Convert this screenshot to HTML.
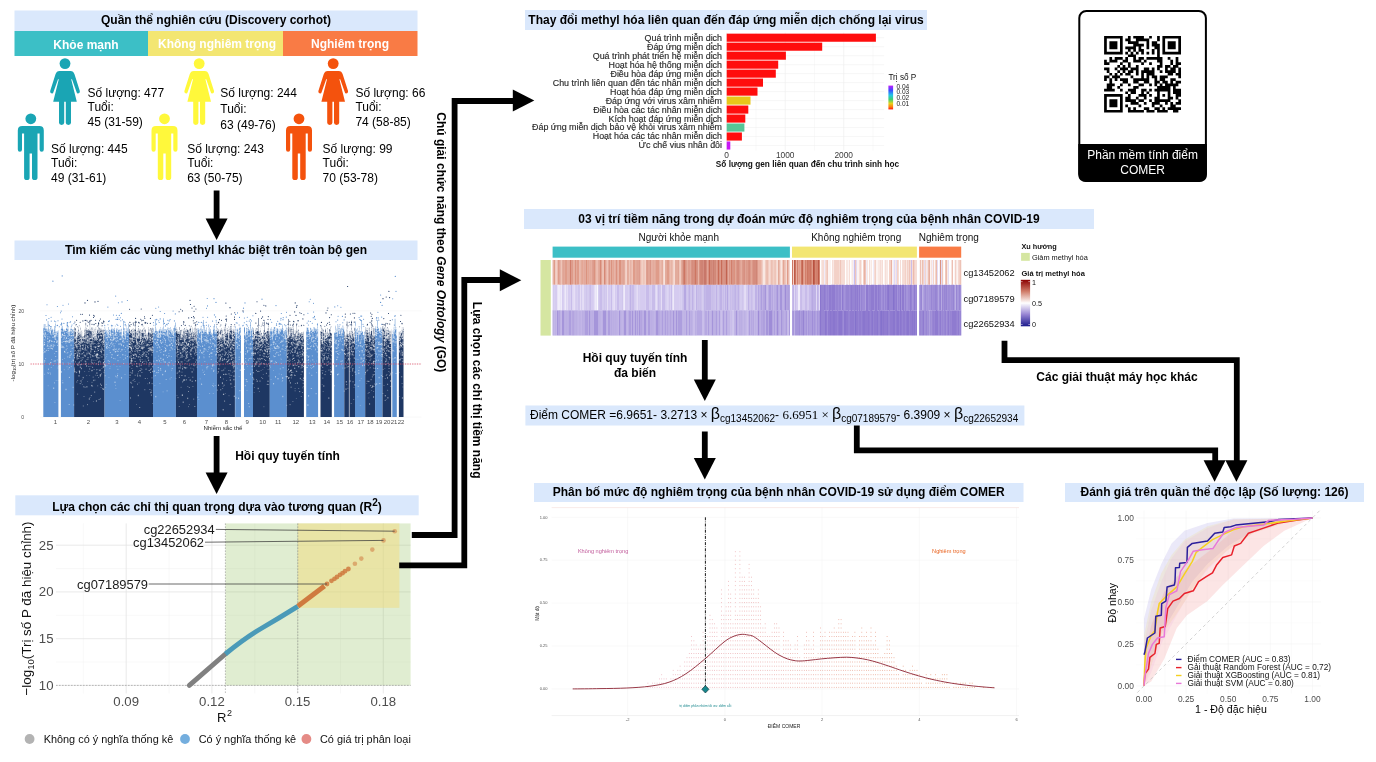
<!DOCTYPE html>
<html lang="vi"><head><meta charset="utf-8"><title>COMER</title>
<style>
html,body{margin:0;padding:0;background:#fff;}
body{width:1376px;height:762px;overflow:hidden;}
svg{display:block;font-family:"Liberation Sans",sans-serif;}
.b{font-weight:bold;}
.h{font-weight:bold;font-size:12px;text-anchor:middle;fill:#000;}
.t{font-size:12px;fill:#000;}
</style></head><body>
<svg width="1376" height="762" viewBox="0 0 1376 762">
<rect width="1376" height="762" fill="#fff"/>
<g id="headers">
<rect x="14.5" y="10.5" width="403" height="20.5" fill="#dae8fc" />
<text x="216" y="24.25" class="h" >Quần thể nghiên cứu (Discovery corhot)</text>
<rect x="14.5" y="240.5" width="403" height="19.5" fill="#dae8fc" />
<text x="216" y="253.75" class="h" >Tìm kiếm các vùng methyl khác biệt trên toàn bộ gen</text>
<rect x="525" y="10" width="402" height="20" fill="#dae8fc" />
<text x="726" y="23.5" class="h" >Thay đổi methyl hóa liên quan đến đáp ứng miễn dịch chống lại virus</text>
<rect x="524" y="209" width="570" height="20" fill="#dae8fc" />
<text x="809" y="222.5" class="h" >03 vị trí tiềm năng trong dự đoán mức độ nghiêm trọng của bệnh nhân COVID-19</text>
<rect x="534" y="483" width="489.5" height="19" fill="#dae8fc" />
<text x="778.75" y="496" class="h" >Phân bố mức độ nghiêm trọng của bệnh nhân COVID-19 sử dụng điểm COMER</text>
<rect x="1065" y="483" width="299" height="19" fill="#dae8fc" />
<text x="1214.5" y="496" class="h" >Đánh giá trên quần thể độc lập (Số lượng: 126)</text>
<rect x="15.3" y="495.3" width="403.4" height="20" fill="#dae8fc" />
<text x="217" y="510.9" class="h" >Lựa chọn các chỉ thị quan trọng dựa vào tương quan (R<tspan dy="-4.5" font-size="10">2</tspan><tspan dy="4.5">)</tspan></text>
<rect x="14.5" y="31" width="133.5" height="25" fill="#3cbfc6" />
<rect x="148" y="31" width="135" height="25" fill="#f3e672" />
<rect x="283" y="31" width="134.5" height="25" fill="#f97b45" />
<text x="86" y="49.2" class="h" fill="#fff" style="fill:#fff">Khỏe mạnh</text>
<text x="217" y="48.2" class="h" style="fill:#fff">Không nghiêm trọng</text>
<text x="350" y="48.2" class="h" style="fill:#fff">Nghiêm trọng</text>
</g>
<g id="people">
<circle cx="65" cy="63.6" r="5.4" fill="#1aa5b4"/>
<path d="M59.5,70.89999999999999 L70.5,70.89999999999999 Q73.5,70.89999999999999 74.5,74.3 L79.9,91.3 Q79.9,93.5 77.9,93.5 Q77,93.5 76.6,92.3 L72,79.3 L71.2,79.3 L76.8,101.8 L71.0,101.8 L71.0,122.8 Q71.0,124.89999999999999 68.4,124.89999999999999 Q65.8,124.89999999999999 65.8,122.8 L65.8,101.8 L64.2,101.8 L64.2,122.8 Q64.2,124.89999999999999 61.6,124.89999999999999 Q59.0,124.89999999999999 59.0,122.8 L59.0,101.8 L53.2,101.8 L58.8,79.3 L58,79.3 L53.4,92.3 Q53,93.5 52.1,93.5 Q50.1,93.5 50.1,91.3 L55.5,74.3 Q56.5,70.89999999999999 59.5,70.89999999999999 Z" fill="#1aa5b4"/>
<circle cx="199.2" cy="63.6" r="5.4" fill="#fff83b"/>
<path d="M193.7,70.89999999999999 L204.7,70.89999999999999 Q207.7,70.89999999999999 208.7,74.3 L214.1,91.3 Q214.1,93.5 212.1,93.5 Q211.2,93.5 210.79999999999998,92.3 L206.2,79.3 L205.39999999999998,79.3 L211.0,101.8 L205.2,101.8 L205.2,122.8 Q205.2,124.89999999999999 202.6,124.89999999999999 Q200.0,124.89999999999999 200.0,122.8 L200.0,101.8 L198.39999999999998,101.8 L198.39999999999998,122.8 Q198.39999999999998,124.89999999999999 195.79999999999998,124.89999999999999 Q193.2,124.89999999999999 193.2,122.8 L193.2,101.8 L187.39999999999998,101.8 L193.0,79.3 L192.2,79.3 L187.6,92.3 Q187.2,93.5 186.29999999999998,93.5 Q184.29999999999998,93.5 184.29999999999998,91.3 L189.7,74.3 Q190.7,70.89999999999999 193.7,70.89999999999999 Z" fill="#fff83b"/>
<circle cx="333.2" cy="63.6" r="5.4" fill="#f4520d"/>
<path d="M327.7,70.89999999999999 L338.7,70.89999999999999 Q341.7,70.89999999999999 342.7,74.3 L348.09999999999997,91.3 Q348.09999999999997,93.5 346.09999999999997,93.5 Q345.2,93.5 344.8,92.3 L340.2,79.3 L339.4,79.3 L345.0,101.8 L339.2,101.8 L339.2,122.8 Q339.2,124.89999999999999 336.59999999999997,124.89999999999999 Q334.0,124.89999999999999 334.0,122.8 L334.0,101.8 L332.4,101.8 L332.4,122.8 Q332.4,124.89999999999999 329.8,124.89999999999999 Q327.2,124.89999999999999 327.2,122.8 L327.2,101.8 L321.4,101.8 L327.0,79.3 L326.2,79.3 L321.59999999999997,92.3 Q321.2,93.5 320.3,93.5 Q318.3,93.5 318.3,91.3 L323.7,74.3 Q324.7,70.89999999999999 327.7,70.89999999999999 Z" fill="#f4520d"/>
<circle cx="30.8" cy="118.8" r="5.4" fill="#1aa5b4"/>
<path d="M22.3,126.1 L39.3,126.1 Q43.8,126.1 43.8,130.5 L43.8,149.5 Q43.8,151.7 41.7,151.7 Q39.6,151.7 39.6,149.5 L39.6,133.5 L37.5,133.5 L37.5,177.8 Q37.5,180.1 34.7,180.1 Q32.0,180.1 32.0,177.8 L32.0,153.5 L29.6,153.5 L29.6,177.8 Q29.6,180.1 26.900000000000002,180.1 Q24.1,180.1 24.1,177.8 L24.1,133.5 L22.0,133.5 L22.0,149.5 Q22.0,151.7 19.9,151.7 Q17.8,151.7 17.8,149.5 L17.8,130.5 Q17.8,126.1 22.3,126.1 Z" fill="#1aa5b4"/>
<circle cx="164.5" cy="118.8" r="5.4" fill="#fff83b"/>
<path d="M156.0,126.1 L173.0,126.1 Q177.5,126.1 177.5,130.5 L177.5,149.5 Q177.5,151.7 175.4,151.7 Q173.3,151.7 173.3,149.5 L173.3,133.5 L171.2,133.5 L171.2,177.8 Q171.2,180.1 168.4,180.1 Q165.7,180.1 165.7,177.8 L165.7,153.5 L163.3,153.5 L163.3,177.8 Q163.3,180.1 160.6,180.1 Q157.8,180.1 157.8,177.8 L157.8,133.5 L155.7,133.5 L155.7,149.5 Q155.7,151.7 153.6,151.7 Q151.5,151.7 151.5,149.5 L151.5,130.5 Q151.5,126.1 156.0,126.1 Z" fill="#fff83b"/>
<circle cx="299" cy="118.8" r="5.4" fill="#f4520d"/>
<path d="M290.5,126.1 L307.5,126.1 Q312,126.1 312,130.5 L312,149.5 Q312,151.7 309.9,151.7 Q307.8,151.7 307.8,149.5 L307.8,133.5 L305.7,133.5 L305.7,177.8 Q305.7,180.1 302.9,180.1 Q300.2,180.1 300.2,177.8 L300.2,153.5 L297.8,153.5 L297.8,177.8 Q297.8,180.1 295.1,180.1 Q292.3,180.1 292.3,177.8 L292.3,133.5 L290.2,133.5 L290.2,149.5 Q290.2,151.7 288.1,151.7 Q286,151.7 286,149.5 L286,130.5 Q286,126.1 290.5,126.1 Z" fill="#f4520d"/>
<text x="87.5" y="97" class="t" >Số lượng: 477</text>
<text x="87.5" y="111.4" class="t" >Tuổi:</text>
<text x="87.5" y="125.8" class="t" >45 (31-59)</text>
<text x="220.3" y="97.3" class="t" >Số lượng: 244</text>
<text x="220.3" y="113" class="t" >Tuổi:</text>
<text x="220.3" y="128.7" class="t" >63 (49-76)</text>
<text x="355.4" y="97" class="t" >Số lượng: 66</text>
<text x="355.4" y="111.4" class="t" >Tuổi:</text>
<text x="355.4" y="125.8" class="t" >74 (58-85)</text>
<text x="51" y="153" class="t" >Số lượng: 445</text>
<text x="51" y="167.4" class="t" >Tuổi:</text>
<text x="51" y="181.8" class="t" >49 (31-61)</text>
<text x="187.2" y="153" class="t" >Số lượng: 243</text>
<text x="187.2" y="167.4" class="t" >Tuổi:</text>
<text x="187.2" y="181.8" class="t" >63 (50-75)</text>
<text x="322.6" y="153" class="t" >Số lượng: 99</text>
<text x="322.6" y="167.4" class="t" >Tuổi:</text>
<text x="322.6" y="181.8" class="t" >70 (53-78)</text>
</g>
<g id="manhattan">
<line x1="40" x2="421.5" y1="417.1" y2="417.1" stroke="#efefef" stroke-width="0.4"/>
<line x1="40" x2="421.5" y1="364" y2="364" stroke="#efefef" stroke-width="0.4"/>
<line x1="40" x2="421.5" y1="310.9" y2="310.9" stroke="#efefef" stroke-width="0.4"/>
<path d="M43.3,417.1L43.3,328.1H43.8L43.8,324.2H44.3L44.3,327.9H44.8L44.8,323.9H45.3L45.3,328.7H45.8L45.8,327.7H46.3L46.3,329.3H46.8L46.8,329.2H47.3L47.3,331.1H47.8L47.8,320.9H48.3L48.3,324.5H48.8L48.8,329.4H49.3L49.3,329.5H49.8L49.8,332.6H50.3L50.3,326.5H50.8L50.8,327.3H51.3L51.3,330.6H51.8L51.8,328.7H52.3L52.3,329.4H52.8L52.8,334.9H53.3L53.3,332.0H53.8L53.8,329.5H54.3L54.3,326.0H54.8L54.8,339.8H55.3L55.3,323.6H55.8L55.8,331.4H56.3L56.3,335.6H56.8L56.8,331.2H57.3L57.3,332.0H57.8L57.8,330.3H58.3L58.3,331.9H58.4L58.4,417.1Z" fill="#5b8fcf"/>
<path d="M60.9,417.1L60.9,328.7H61.4L61.4,322.6H61.9L61.9,328.8H62.4L62.4,325.8H62.9L62.9,329.3H63.4L63.4,331.8H63.9L63.9,330.6H64.4L64.4,328.9H64.9L64.9,330.7H65.4L65.4,331.1H65.9L65.9,328.8H66.4L66.4,328.2H66.9L66.9,321.9H67.4L67.4,329.4H67.9L67.9,326.0H68.4L68.4,330.6H68.9L68.9,336.1H69.4L69.4,331.6H69.9L69.9,331.4H70.4L70.4,328.1H70.9L70.9,327.4H71.4L71.4,328.6H71.9L71.9,328.9H72.4L72.4,330.3H72.9L72.9,336.1H73.4L73.4,328.9H73.9L73.9,330.5H74.1L74.1,417.1Z" fill="#5b8fcf"/>
<path d="M72.0,325.0h0.01M62.0,319.0h0.01M57.6,325.2h0.01M51.1,317.2h0.01M67.7,322.6h0.01M46.0,315.5h0.01M67.1,325.0h0.01M61.2,311.1h0.01M70.6,321.7h0.01M58.0,320.7h0.01M49.1,325.4h0.01M48.9,318.5h0.01M54.5,321.1h0.01M55.7,321.8h0.01M47.9,326.5h0.01M74.0,323.6h0.01M46.6,319.9h0.01M67.6,325.7h0.01M61.7,323.9h0.01M59.3,326.7h0.01M70.0,322.2h0.01M60.8,324.7h0.01M67.3,323.0h0.01M72.5,316.8h0.01M68.5,304.0h0.01M51.1,326.6h0.01M49.5,325.5h0.01M45.9,326.5h0.01M60.5,312.7h0.01M57.4,306.5h0.01M71.3,326.4h0.01M61.7,323.3h0.01M47.0,304.7h0.01M51.2,321.1h0.01M63.0,305.2h0.01M63.9,323.4h0.01M57.1,325.6h0.01M50.1,326.6h0.01" stroke="#5b8fcf" stroke-width="1.1" stroke-linecap="round" fill="none"/>
<text x="55.5" y="423.7" font-size="6" text-anchor="middle" fill="#4d4d4d">1</text>
<path d="M74.1,417.1L74.1,327.1H74.6L74.6,333.3H75.1L75.1,327.9H75.6L75.6,328.7H76.1L76.1,337.6H76.6L76.6,342.8H77.1L77.1,336.5H77.6L77.6,330.7H78.1L78.1,327.0H78.6L78.6,330.1H79.1L79.1,332.5H79.6L79.6,332.4H80.1L80.1,326.4H80.6L80.6,335.0H81.1L81.1,342.2H81.6L81.6,330.4H82.1L82.1,336.5H82.6L82.6,337.6H83.1L83.1,339.8H83.6L83.6,335.9H84.1L84.1,332.8H84.6L84.6,328.7H85.1L85.1,329.5H85.6L85.6,322.8H86.1L86.1,330.5H86.6L86.6,328.1H87.1L87.1,330.2H87.6L87.6,328.9H88.1L88.1,328.9H88.6L88.6,330.4H89.1L89.1,329.6H89.6L89.6,320.2H90.1L90.1,329.2H90.6L90.6,331.0H91.1L91.1,327.1H91.6L91.6,331.5H92.1L92.1,339.8H92.6L92.6,327.0H93.1L93.1,337.2H93.6L93.6,330.8H94.1L94.1,339.3H94.6L94.6,328.1H95.1L95.1,339.9H95.6L95.6,327.0H96.1L96.1,340.8H96.6L96.6,332.9H97.1L97.1,329.6H97.6L97.6,330.1H98.1L98.1,321.9H98.6L98.6,329.5H99.1L99.1,327.5H99.6L99.6,331.5H100.1L100.1,330.3H100.6L100.6,328.3H101.1L101.1,328.3H101.6L101.6,332.9H102.1L102.1,334.4H102.6L102.6,329.7H103.1L103.1,340.7H103.6L103.6,328.9H104.1L104.1,330.1H104.6L104.6,417.1Z" fill="#1e3763"/>
<path d="M95.6,320.2h0.01M93.5,317.5h0.01M101.4,326.0h0.01M88.3,322.2h0.01M87.6,326.1h0.01M102.3,323.5h0.01M80.2,322.3h0.01M95.8,323.5h0.01M89.9,321.2h0.01M99.5,320.7h0.01M94.0,324.7h0.01M102.3,325.7h0.01M86.0,320.3h0.01M85.1,320.4h0.01M79.3,325.7h0.01M82.4,314.3h0.01M77.8,326.7h0.01M76.6,320.3h0.01M94.3,316.1h0.01M101.9,322.8h0.01M97.4,326.1h0.01M98.5,323.2h0.01M89.5,315.1h0.01M98.8,323.7h0.01M98.5,326.2h0.01M74.9,322.0h0.01M93.6,315.2h0.01M91.0,320.4h0.01M76.2,324.5h0.01M103.7,322.8h0.01M92.0,324.2h0.01M103.5,321.1h0.01M103.9,321.4h0.01M94.1,324.3h0.01M75.9,326.0h0.01M87.2,321.0h0.01M80.7,314.3h0.01M100.4,319.0h0.01M82.9,320.9h0.01" stroke="#1e3763" stroke-width="1.1" stroke-linecap="round" fill="none"/>
<text x="88.5" y="423.7" font-size="6" text-anchor="middle" fill="#4d4d4d">2</text>
<path d="M104.6,417.1L104.6,326.5H105.1L105.1,329.6H105.6L105.6,332.2H106.1L106.1,331.6H106.6L106.6,330.0H107.1L107.1,330.5H107.6L107.6,335.1H108.1L108.1,327.0H108.6L108.6,337.4H109.1L109.1,329.7H109.6L109.6,328.9H110.1L110.1,335.7H110.6L110.6,330.0H111.1L111.1,329.2H111.6L111.6,325.1H112.1L112.1,328.1H112.6L112.6,331.2H113.1L113.1,329.2H113.6L113.6,328.6H114.1L114.1,327.8H114.6L114.6,329.7H115.1L115.1,335.7H115.6L115.6,331.8H116.1L116.1,328.1H116.6L116.6,329.7H117.1L117.1,330.7H117.6L117.6,327.4H118.1L118.1,330.6H118.6L118.6,329.7H119.1L119.1,329.2H119.6L119.6,332.0H120.1L120.1,332.3H120.6L120.6,329.6H121.1L121.1,328.8H121.6L121.6,336.7H122.1L122.1,337.9H122.6L122.6,335.0H123.1L123.1,321.2H123.6L123.6,327.7H124.1L124.1,336.3H124.6L124.6,328.1H125.1L125.1,339.5H125.6L125.6,331.0H126.1L126.1,327.3H126.6L126.6,328.8H127.1L127.1,330.0H127.6L127.6,327.9H128.1L128.1,323.5H128.6L128.6,333.0H129.0L129,417.1Z" fill="#5b8fcf"/>
<path d="M120.8,320.8h0.01M123.9,321.3h0.01M120.4,317.7h0.01M117.8,317.8h0.01M122.5,319.8h0.01M125.2,325.6h0.01M108.5,321.4h0.01M113.5,315.0h0.01M116.4,315.2h0.01M121.3,313.4h0.01M107.9,324.7h0.01M112.6,325.7h0.01M116.9,324.3h0.01M119.1,319.3h0.01M120.5,326.3h0.01M116.1,319.4h0.01M124.9,322.3h0.01M107.9,307.1h0.01M115.7,296.1h0.01M104.7,325.4h0.01M117.8,325.4h0.01M119.3,315.4h0.01M117.5,319.4h0.01M109.4,320.9h0.01M125.2,324.4h0.01M126.2,326.0h0.01M115.4,326.0h0.01M118.4,302.7h0.01M127.4,300.5h0.01M111.4,325.3h0.01" stroke="#5b8fcf" stroke-width="1.1" stroke-linecap="round" fill="none"/>
<text x="117" y="423.7" font-size="6" text-anchor="middle" fill="#4d4d4d">3</text>
<path d="M129,417.1L129.0,329.7H129.5L129.5,328.8H130.0L130.0,333.0H130.5L130.5,330.7H131.0L131.0,329.4H131.5L131.5,329.8H132.0L132.0,328.8H132.5L132.5,337.3H133.0L133.0,331.3H133.5L133.5,328.2H134.0L134.0,337.3H134.5L134.5,328.9H135.0L135.0,329.3H135.5L135.5,320.7H136.0L136.0,342.4H136.5L136.5,331.2H137.0L137.0,333.5H137.5L137.5,329.7H138.0L138.0,327.9H138.5L138.5,335.7H139.0L139.0,328.3H139.5L139.5,330.7H140.0L140.0,328.9H140.5L140.5,341.8H141.0L141.0,330.4H141.5L141.5,332.8H142.0L142.0,330.4H142.5L142.5,329.0H143.0L143.0,327.5H143.5L143.5,332.6H144.0L144.0,327.6H144.5L144.5,337.7H145.0L145.0,334.6H145.5L145.5,329.0H146.0L146.0,333.6H146.5L146.5,338.0H147.0L147.0,339.5H147.5L147.5,333.3H148.0L148.0,332.3H148.5L148.5,327.6H149.0L149.0,332.7H149.5L149.5,329.3H150.0L150.0,327.9H150.5L150.5,332.8H151.0L151.0,328.5H151.5L151.5,330.4H152.0L152.0,327.8H152.5L152.5,332.9H153.0L153,417.1Z" fill="#1e3763"/>
<path d="M141.7,320.7h0.01M145.0,322.3h0.01M140.8,319.3h0.01M136.3,322.1h0.01M152.4,315.2h0.01M142.3,324.3h0.01M133.3,323.1h0.01M139.2,322.9h0.01M135.1,322.3h0.01M142.8,326.1h0.01M144.8,318.3h0.01M133.7,324.9h0.01M129.9,322.4h0.01M145.2,323.2h0.01M143.1,320.4h0.01M130.1,326.4h0.01M141.2,309.0h0.01M145.9,322.8h0.01M135.2,325.9h0.01M144.5,316.8h0.01M138.4,326.2h0.01M135.6,318.4h0.01M147.5,323.3h0.01M150.3,323.4h0.01M129.6,325.2h0.01M150.4,318.4h0.01M131.1,324.5h0.01M138.5,322.3h0.01M129.6,309.2h0.01M141.7,324.7h0.01" stroke="#1e3763" stroke-width="1.1" stroke-linecap="round" fill="none"/>
<text x="139.5" y="423.7" font-size="6" text-anchor="middle" fill="#4d4d4d">4</text>
<path d="M153,417.1L153.0,332.9H153.5L153.5,328.1H154.0L154.0,333.0H154.5L154.5,331.4H155.0L155.0,331.1H155.5L155.5,321.0H156.0L156.0,328.8H156.5L156.5,330.3H157.0L157.0,331.0H157.5L157.5,332.1H158.0L158.0,330.5H158.5L158.5,337.9H159.0L159.0,328.8H159.5L159.5,330.8H160.0L160.0,337.3H160.5L160.5,327.2H161.0L161.0,331.1H161.5L161.5,329.6H162.0L162.0,327.8H162.5L162.5,331.2H163.0L163.0,318.3H163.5L163.5,330.0H164.0L164.0,329.3H164.5L164.5,331.9H165.0L165.0,332.2H165.5L165.5,328.9H166.0L166.0,329.3H166.5L166.5,330.6H167.0L167.0,327.6H167.5L167.5,336.5H168.0L168.0,327.4H168.5L168.5,329.9H169.0L169.0,328.0H169.5L169.5,330.1H170.0L170.0,330.4H170.5L170.5,327.1H171.0L171.0,332.7H171.5L171.5,328.9H172.0L172.0,333.6H172.5L172.5,330.8H173.0L173.0,327.9H173.5L173.5,335.7H174.0L174.0,328.2H174.5L174.5,327.1H175.0L175.0,322.6H175.5L175.5,327.5H175.9L175.9,417.1Z" fill="#5b8fcf"/>
<path d="M155.8,308.3h0.01M164.6,313.5h0.01M159.2,322.5h0.01M158.7,320.7h0.01M169.2,320.9h0.01M166.4,324.3h0.01M174.8,326.7h0.01M156.8,319.2h0.01M175.3,313.9h0.01M158.6,307.0h0.01M163.5,321.0h0.01M167.8,320.2h0.01M173.1,311.0h0.01M160.2,311.5h0.01M160.2,318.9h0.01M156.6,319.8h0.01M168.2,323.4h0.01M175.0,326.0h0.01M170.1,319.6h0.01M153.4,322.6h0.01M155.3,319.9h0.01M165.4,325.9h0.01M174.4,320.9h0.01M167.2,324.7h0.01M156.5,324.1h0.01M153.8,325.3h0.01M164.4,323.4h0.01" stroke="#5b8fcf" stroke-width="1.1" stroke-linecap="round" fill="none"/>
<text x="165" y="423.7" font-size="6" text-anchor="middle" fill="#4d4d4d">5</text>
<path d="M175.9,417.1L175.9,327.1H176.4L176.4,330.6H176.9L176.9,329.1H177.4L177.4,332.4H177.9L177.9,331.2H178.4L178.4,331.9H178.9L178.9,333.0H179.4L179.4,327.2H179.9L179.9,332.0H180.4L180.4,329.9H180.9L180.9,329.8H181.4L181.4,338.6H181.9L181.9,337.5H182.4L182.4,334.6H182.9L182.9,328.9H183.4L183.4,330.5H183.9L183.9,336.4H184.4L184.4,328.0H184.9L184.9,333.6H185.4L185.4,330.3H185.9L185.9,327.3H186.4L186.4,331.6H186.9L186.9,330.3H187.4L187.4,329.2H187.9L187.9,330.0H188.4L188.4,329.9H188.9L188.9,328.9H189.4L189.4,332.5H189.9L189.9,328.2H190.4L190.4,327.5H190.9L190.9,332.7H191.4L191.4,332.0H191.9L191.9,327.3H192.4L192.4,336.5H192.9L192.9,333.8H193.4L193.4,332.2H193.9L193.9,328.2H194.4L194.4,333.6H194.9L194.9,325.1H195.4L195.4,332.5H195.9L195.9,343.3H196.4L196.4,328.2H196.9L196.9,327.9H197.0L197,417.1Z" fill="#1e3763"/>
<path d="M195.2,322.8h0.01M195.8,324.5h0.01M195.6,326.1h0.01M191.2,326.3h0.01M181.4,325.6h0.01M194.1,311.3h0.01M184.0,322.1h0.01M194.2,317.9h0.01M195.6,325.4h0.01M189.2,325.6h0.01M194.1,306.2h0.01M193.5,316.6h0.01M190.1,326.5h0.01M179.1,311.7h0.01M180.7,309.2h0.01M196.7,321.7h0.01M195.9,309.0h0.01M194.0,323.1h0.01M185.2,325.4h0.01M183.5,324.0h0.01M182.4,310.9h0.01M188.7,317.9h0.01M193.3,320.7h0.01M192.0,308.0h0.01M191.6,317.5h0.01M183.5,321.9h0.01" stroke="#1e3763" stroke-width="1.1" stroke-linecap="round" fill="none"/>
<text x="184.5" y="423.7" font-size="6" text-anchor="middle" fill="#4d4d4d">6</text>
<path d="M197,417.1L197.0,334.2H197.5L197.5,327.9H198.0L198.0,330.3H198.5L198.5,328.1H199.0L199.0,329.6H199.5L199.5,333.1H200.0L200.0,327.7H200.5L200.5,332.1H201.0L201.0,341.4H201.5L201.5,327.5H202.0L202.0,330.9H202.5L202.5,328.9H203.0L203.0,332.6H203.5L203.5,320.1H204.0L204.0,328.9H204.5L204.5,325.6H205.0L205.0,329.7H205.5L205.5,331.9H206.0L206.0,332.7H206.5L206.5,327.4H207.0L207.0,332.9H207.5L207.5,334.3H208.0L208.0,328.5H208.5L208.5,334.3H209.0L209.0,327.4H209.5L209.5,331.7H210.0L210.0,329.6H210.5L210.5,329.0H211.0L211.0,332.4H211.5L211.5,333.8H212.0L212.0,337.6H212.5L212.5,333.7H213.0L213.0,327.4H213.5L213.5,328.9H214.0L214.0,324.0H214.5L214.5,329.6H215.0L215.0,332.4H215.5L215.5,330.6H216.0L216.0,325.7H216.5L216.5,332.5H216.9L216.9,417.1Z" fill="#5b8fcf"/>
<path d="M197.5,324.3h0.01M201.3,322.4h0.01M212.6,321.1h0.01M208.7,325.1h0.01M207.6,317.3h0.01M203.6,326.7h0.01M216.3,322.0h0.01M216.2,320.3h0.01M203.8,325.5h0.01M215.6,316.9h0.01M208.4,326.7h0.01M203.0,323.0h0.01M198.8,322.4h0.01M206.4,325.3h0.01M207.5,305.9h0.01M214.4,314.9h0.01M203.0,325.0h0.01M206.5,308.2h0.01M201.2,326.3h0.01M213.9,326.7h0.01M207.2,298.5h0.01M208.4,326.8h0.01M203.0,317.3h0.01M210.5,326.2h0.01M206.2,322.3h0.01" stroke="#5b8fcf" stroke-width="1.1" stroke-linecap="round" fill="none"/>
<text x="206.5" y="423.7" font-size="6" text-anchor="middle" fill="#4d4d4d">7</text>
<path d="M216.9,417.1L216.9,328.0H217.4L217.4,330.9H217.9L217.9,331.2H218.4L218.4,329.2H218.9L218.9,339.7H219.4L219.4,332.1H219.9L219.9,328.9H220.4L220.4,329.4H220.9L220.9,337.7H221.4L221.4,327.9H221.9L221.9,329.6H222.4L222.4,334.1H222.9L222.9,333.9H223.4L223.4,338.0H223.9L223.9,327.3H224.4L224.4,342.9H224.9L224.9,324.9H225.4L225.4,332.8H225.9L225.9,334.3H226.4L226.4,333.4H226.9L226.9,328.0H227.4L227.4,331.5H227.9L227.9,329.5H228.4L228.4,343.7H228.9L228.9,328.7H229.4L229.4,331.8H229.9L229.9,327.0H230.4L230.4,330.4H230.9L230.9,326.1H231.4L231.4,330.6H231.9L231.9,331.2H232.4L232.4,336.8H232.9L232.9,328.8H233.4L233.4,331.1H233.9L233.9,332.2H234.4L234.4,328.2H234.9L234.9,417.1Z" fill="#1e3763"/>
<path d="M221.5,320.3h0.01M228.5,326.8h0.01M234.7,324.7h0.01M226.2,316.0h0.01M225.5,325.9h0.01M234.7,312.8h0.01M225.8,324.1h0.01M217.0,324.2h0.01M234.5,317.1h0.01M219.5,319.6h0.01M218.4,322.2h0.01M234.1,326.6h0.01M225.9,303.1h0.01M218.7,322.7h0.01M231.3,314.0h0.01M226.5,320.9h0.01M226.6,319.1h0.01M234.5,319.4h0.01M220.9,325.0h0.01M225.7,319.2h0.01M231.2,324.6h0.01M220.3,326.2h0.01M230.6,326.6h0.01" stroke="#1e3763" stroke-width="1.1" stroke-linecap="round" fill="none"/>
<text x="226.3" y="423.7" font-size="6" text-anchor="middle" fill="#4d4d4d">8</text>
<path d="M235.2,417.1L235.2,326.3H235.7L235.7,331.5H236.2L236.2,339.4H236.7L236.7,328.8H237.2L237.2,328.4H237.7L237.7,328.7H238.2L238.2,334.0H238.7L238.7,332.6H239.2L239.2,328.0H239.7L239.7,326.8H240.2L240.2,327.7H240.7L240.7,336.0H241.0L241,417.1Z" fill="#5b8fcf"/>
<path d="M244,417.1L244.0,327.3H244.5L244.5,327.1H245.0L245.0,336.8H245.5L245.5,333.5H246.0L246.0,328.0H246.5L246.5,327.8H247.0L247.0,335.3H247.5L247.5,328.0H248.0L248.0,328.5H248.5L248.5,327.0H249.0L249.0,329.5H249.5L249.5,330.2H250.0L250.0,336.0H250.5L250.5,322.1H251.0L251.0,331.1H251.5L251.5,328.7H252.0L252.0,327.3H252.5L252.5,335.2H253.0L253,417.1Z" fill="#5b8fcf"/>
<path d="M247.6,326.0h0.01M243.2,325.3h0.01M236.2,322.8h0.01M250.4,325.7h0.01M239.5,317.4h0.01M239.1,325.0h0.01M249.2,321.1h0.01M252.9,315.8h0.01M243.3,312.1h0.01M237.5,312.9h0.01M247.2,325.4h0.01M250.3,319.5h0.01M246.3,324.6h0.01M237.1,323.1h0.01M246.8,321.2h0.01M251.3,320.9h0.01M235.6,314.4h0.01M244.4,318.0h0.01M247.0,325.9h0.01M247.3,317.3h0.01M244.3,322.8h0.01M242.7,325.7h0.01" stroke="#5b8fcf" stroke-width="1.1" stroke-linecap="round" fill="none"/>
<text x="247.2" y="423.7" font-size="6" text-anchor="middle" fill="#4d4d4d">9</text>
<path d="M253,417.1L253.0,329.2H253.5L253.5,328.0H254.0L254.0,334.1H254.5L254.5,338.3H255.0L255.0,328.4H255.5L255.5,331.4H256.0L256.0,328.1H256.5L256.5,331.7H257.0L257.0,327.9H257.5L257.5,328.7H258.0L258.0,330.3H258.5L258.5,317.9H259.0L259.0,331.6H259.5L259.5,333.0H260.0L260.0,327.9H260.5L260.5,337.8H261.0L261.0,332.5H261.5L261.5,332.9H262.0L262.0,336.1H262.5L262.5,335.4H263.0L263.0,330.2H263.5L263.5,336.8H264.0L264.0,327.1H264.5L264.5,321.6H265.0L265.0,331.9H265.5L265.5,333.2H266.0L266.0,331.5H266.5L266.5,334.8H267.0L267.0,330.4H267.5L267.5,328.4H268.0L268.0,322.8H268.5L268.5,331.5H269.0L269.0,331.3H269.5L269.5,334.0H269.8L269.8,417.1Z" fill="#1e3763"/>
<path d="M261.5,318.3h0.01M262.9,323.0h0.01M267.2,323.8h0.01M255.8,313.4h0.01M261.3,326.2h0.01M264.4,326.4h0.01M266.6,323.0h0.01M262.6,316.9h0.01M263.9,305.3h0.01M258.9,325.2h0.01M265.8,305.9h0.01M263.4,325.7h0.01M262.3,325.1h0.01M260.6,311.1h0.01M257.0,301.8h0.01M263.9,320.4h0.01M255.9,323.1h0.01M268.0,319.5h0.01M268.3,316.6h0.01M268.4,324.3h0.01M257.6,325.9h0.01" stroke="#1e3763" stroke-width="1.1" stroke-linecap="round" fill="none"/>
<text x="262.7" y="423.7" font-size="6" text-anchor="middle" fill="#4d4d4d">10</text>
<path d="M269.8,417.1L269.8,331.0H270.3L270.3,328.2H270.8L270.8,331.4H271.3L271.3,327.1H271.8L271.8,331.5H272.3L272.3,339.6H272.8L272.8,328.9H273.3L273.3,329.5H273.8L273.8,327.3H274.3L274.3,326.9H274.8L274.8,326.9H275.3L275.3,334.0H275.8L275.8,334.7H276.3L276.3,328.4H276.8L276.8,328.4H277.3L277.3,328.3H277.8L277.8,328.8H278.3L278.3,333.2H278.8L278.8,334.0H279.3L279.3,330.9H279.8L279.8,328.2H280.3L280.3,331.9H280.8L280.8,328.5H281.3L281.3,329.4H281.8L281.8,328.5H282.3L282.3,324.7H282.8L282.8,327.9H283.3L283.3,332.5H283.8L283.8,331.0H284.3L284.3,330.7H284.8L284.8,337.8H285.3L285.3,330.0H285.8L285.8,328.7H286.3L286.3,326.8H286.8L286.8,417.1Z" fill="#5b8fcf"/>
<path d="M283.0,319.8h0.01M286.3,317.1h0.01M276.4,325.3h0.01M283.0,319.6h0.01M286.5,312.3h0.01M279.4,326.5h0.01M284.6,324.8h0.01M270.5,319.6h0.01M281.3,313.5h0.01M279.3,323.4h0.01M285.9,325.6h0.01M276.5,323.8h0.01M281.0,318.4h0.01M271.7,322.3h0.01M277.7,321.3h0.01M280.3,323.9h0.01M283.2,317.6h0.01M279.2,324.2h0.01M280.8,320.0h0.01M276.6,325.0h0.01M285.8,326.7h0.01M281.2,324.3h0.01" stroke="#5b8fcf" stroke-width="1.1" stroke-linecap="round" fill="none"/>
<text x="278.2" y="423.7" font-size="6" text-anchor="middle" fill="#4d4d4d">11</text>
<path d="M286.8,417.1L286.8,334.7H287.3L287.3,336.5H287.8L287.8,327.8H288.3L288.3,319.1H288.8L288.8,327.3H289.3L289.3,336.4H289.8L289.8,336.3H290.3L290.3,327.2H290.8L290.8,331.3H291.3L291.3,327.8H291.8L291.8,329.1H292.3L292.3,336.4H292.8L292.8,325.5H293.3L293.3,329.0H293.8L293.8,338.5H294.3L294.3,334.0H294.8L294.8,330.4H295.3L295.3,331.9H295.8L295.8,340.4H296.3L296.3,324.2H296.8L296.8,330.9H297.3L297.3,334.2H297.8L297.8,329.5H298.3L298.3,329.0H298.8L298.8,332.4H299.3L299.3,335.4H299.8L299.8,333.1H300.3L300.3,334.7H300.8L300.8,333.3H301.3L301.3,332.0H301.8L301.8,336.1H302.3L302.3,334.1H302.8L302.8,332.2H303.3L303.3,338.3H303.8L303.8,331.1H303.9L303.9,417.1Z" fill="#1e3763"/>
<path d="M292.7,325.1h0.01M293.5,324.1h0.01M288.0,324.3h0.01M297.8,320.8h0.01M298.9,326.3h0.01M301.2,313.5h0.01M293.6,321.4h0.01M294.0,321.8h0.01M290.0,315.2h0.01M290.3,325.0h0.01M301.7,325.3h0.01M289.8,321.3h0.01M301.1,326.1h0.01M294.7,311.9h0.01M295.2,302.9h0.01M299.8,312.7h0.01M303.7,325.4h0.01M298.5,320.7h0.01M303.9,314.8h0.01M296.0,315.4h0.01M302.9,318.9h0.01M296.8,324.1h0.01" stroke="#1e3763" stroke-width="1.1" stroke-linecap="round" fill="none"/>
<text x="295.8" y="423.7" font-size="6" text-anchor="middle" fill="#4d4d4d">12</text>
<path d="M306.2,417.1L306.2,330.3H306.7L306.7,327.5H307.2L307.2,328.0H307.7L307.7,327.3H308.2L308.2,328.4H308.7L308.7,332.3H309.2L309.2,335.7H309.7L309.7,331.9H310.2L310.2,327.8H310.7L310.7,328.2H311.2L311.2,329.3H311.7L311.7,331.1H312.2L312.2,329.3H312.7L312.7,331.1H313.2L313.2,331.7H313.7L313.7,326.9H314.2L314.2,326.9H314.7L314.7,331.0H315.2L315.2,328.5H315.7L315.7,329.4H316.2L316.2,328.7H316.7L316.7,333.2H317.2L317.2,323.2H317.7L317.7,328.7H318.1L318.1,417.1Z" fill="#5b8fcf"/>
<path d="M314.1,317.7h0.01M313.5,303.2h0.01M307.1,323.1h0.01M310.3,299.2h0.01M317.4,324.3h0.01M308.3,321.1h0.01M309.2,301.7h0.01M314.5,316.4h0.01M310.3,321.5h0.01M313.1,317.7h0.01M312.3,323.2h0.01M308.4,325.0h0.01M315.2,319.4h0.01M313.6,312.0h0.01M307.9,313.3h0.01" stroke="#5b8fcf" stroke-width="1.1" stroke-linecap="round" fill="none"/>
<text x="312.3" y="423.7" font-size="6" text-anchor="middle" fill="#4d4d4d">13</text>
<path d="M320.5,417.1L320.5,331.2H321.0L321.0,331.9H321.5L321.5,327.5H322.0L322.0,344.0H322.5L322.5,328.8H323.0L323.0,329.4H323.5L323.5,329.7H324.0L324.0,342.0H324.5L324.5,333.1H325.0L325.0,328.8H325.5L325.5,330.6H326.0L326.0,332.6H326.5L326.5,337.7H327.0L327.0,335.4H327.5L327.5,328.0H328.0L328.0,333.8H328.5L328.5,332.7H329.0L329.0,328.9H329.5L329.5,329.8H330.0L330.0,331.6H330.5L330.5,327.5H331.0L331.0,333.7H331.5L331.5,333.1H331.8L331.8,417.1Z" fill="#1e3763"/>
<path d="M321.1,326.8h0.01M331.3,314.7h0.01M329.3,322.3h0.01M329.6,317.6h0.01M329.8,324.6h0.01M321.4,322.4h0.01M327.2,310.3h0.01M326.6,325.1h0.01M320.8,325.5h0.01M331.2,326.8h0.01M327.9,308.0h0.01M326.0,312.9h0.01M327.5,323.2h0.01M324.8,326.4h0.01" stroke="#1e3763" stroke-width="1.1" stroke-linecap="round" fill="none"/>
<text x="326.8" y="423.7" font-size="6" text-anchor="middle" fill="#4d4d4d">14</text>
<path d="M334.1,417.1L334.1,332.4H334.6L334.6,333.5H335.1L335.1,325.7H335.6L335.6,333.1H336.1L336.1,328.4H336.6L336.6,332.6H337.1L337.1,335.7H337.6L337.6,324.0H338.1L338.1,331.2H338.6L338.6,326.9H339.1L339.1,333.0H339.6L339.6,327.7H340.1L340.1,328.8H340.6L340.6,331.6H341.1L341.1,327.8H341.6L341.6,335.0H342.1L342.1,327.6H342.6L342.6,329.8H343.1L343.1,327.9H343.6L343.6,327.3H344.1L344.1,332.6H344.3L344.3,417.1Z" fill="#5b8fcf"/>
<path d="M340.0,324.8h0.01M338.1,316.3h0.01M334.8,306.9h0.01M342.8,322.7h0.01M336.0,321.7h0.01M343.2,326.8h0.01M340.9,307.2h0.01M339.0,326.2h0.01M342.4,316.4h0.01M342.9,326.1h0.01M344.1,319.9h0.01M337.7,320.1h0.01M337.7,305.7h0.01" stroke="#5b8fcf" stroke-width="1.1" stroke-linecap="round" fill="none"/>
<text x="339.7" y="423.7" font-size="6" text-anchor="middle" fill="#4d4d4d">15</text>
<path d="M344.3,417.1L344.3,331.5H344.8L344.8,335.5H345.3L345.3,338.5H345.8L345.8,334.7H346.3L346.3,336.3H346.8L346.8,321.6H347.3L347.3,333.8H347.8L347.8,333.7H348.3L348.3,336.1H348.8L348.8,338.0H348.9L348.9,417.1Z" fill="#1e3763"/>
<path d="M349.5,417.1L349.5,331.2H350.0L350.0,330.7H350.5L350.5,335.4H351.0L351.0,337.7H351.5L351.5,320.7H352.0L352.0,330.6H352.5L352.5,332.3H353.0L353.0,336.4H353.5L353.5,333.5H354.0L354.0,343.9H354.5L354.5,327.6H355.0L355,417.1Z" fill="#1e3763"/>
<path d="M354.4,317.9h0.01M345.3,317.0h0.01M350.4,314.0h0.01M345.3,314.1h0.01M354.8,313.3h0.01M346.7,325.0h0.01M354.2,322.1h0.01M351.5,322.4h0.01M349.2,322.3h0.01M353.0,313.3h0.01M348.2,326.0h0.01M350.2,324.7h0.01M351.7,325.0h0.01" stroke="#1e3763" stroke-width="1.1" stroke-linecap="round" fill="none"/>
<text x="350" y="423.7" font-size="6" text-anchor="middle" fill="#4d4d4d">16</text>
<path d="M355,417.1L355.0,321.5H355.5L355.5,331.6H356.0L356.0,328.9H356.5L356.5,339.3H357.0L357.0,328.0H357.5L357.5,333.0H358.0L358.0,341.5H358.5L358.5,330.6H359.0L359.0,327.8H359.5L359.5,335.2H360.0L360.0,330.9H360.5L360.5,334.7H361.0L361.0,320.0H361.5L361.5,332.9H362.0L362.0,331.7H362.5L362.5,331.6H363.0L363.0,335.0H363.5L363.5,335.5H364.0L364.0,343.0H364.5L364.5,331.5H365.0L365.0,327.0H365.2L365.2,417.1Z" fill="#5b8fcf"/>
<path d="M361.7,316.1h0.01M359.1,326.7h0.01M360.1,319.6h0.01M359.9,319.5h0.01M360.5,320.3h0.01M363.3,326.2h0.01M363.8,326.5h0.01M360.8,316.1h0.01M361.3,326.7h0.01M359.1,317.6h0.01M363.6,319.3h0.01M363.0,324.2h0.01M361.6,320.7h0.01" stroke="#5b8fcf" stroke-width="1.1" stroke-linecap="round" fill="none"/>
<text x="360.8" y="423.7" font-size="6" text-anchor="middle" fill="#4d4d4d">17</text>
<path d="M365.2,417.1L365.2,338.0H365.7L365.7,327.6H366.2L366.2,332.4H366.7L366.7,330.0H367.2L367.2,330.0H367.7L367.7,327.7H368.2L368.2,335.3H368.7L368.7,332.0H369.2L369.2,327.6H369.7L369.7,342.3H370.2L370.2,334.3H370.7L370.7,330.8H371.2L371.2,327.5H371.7L371.7,324.1H372.2L372.2,335.6H372.7L372.7,345.3H373.2L373.2,327.6H373.7L373.7,336.1H374.2L374.2,336.7H374.7L374.7,328.0H375.1L375.1,417.1Z" fill="#1e3763"/>
<path d="M371.9,314.3h0.01M367.4,324.4h0.01M367.2,325.2h0.01M373.0,326.5h0.01M370.1,322.3h0.01M371.7,321.7h0.01M372.2,325.3h0.01M370.6,313.0h0.01M371.4,323.8h0.01M371.2,316.2h0.01M371.8,320.2h0.01M372.3,318.4h0.01" stroke="#1e3763" stroke-width="1.1" stroke-linecap="round" fill="none"/>
<text x="370.3" y="423.7" font-size="6" text-anchor="middle" fill="#4d4d4d">18</text>
<path d="M375.1,417.1L375.1,328.8H375.6L375.6,325.9H376.1L376.1,330.9H376.6L376.6,328.9H377.1L377.1,320.5H377.6L377.6,326.5H378.1L378.1,328.0H378.6L378.6,328.3H379.1L379.1,332.9H379.6L379.6,331.1H380.1L380.1,327.6H380.6L380.6,327.1H381.1L381.1,328.7H381.6L381.6,332.0H382.1L382.1,333.8H382.5L382.5,417.1Z" fill="#5b8fcf"/>
<path d="M376.9,320.3h0.01M378.2,317.9h0.01M381.6,324.2h0.01M376.4,318.7h0.01M378.8,320.1h0.01M381.7,317.1h0.01M382.1,305.4h0.01M376.6,317.5h0.01M377.9,312.3h0.01" stroke="#5b8fcf" stroke-width="1.1" stroke-linecap="round" fill="none"/>
<text x="379" y="423.7" font-size="6" text-anchor="middle" fill="#4d4d4d">19</text>
<path d="M382.5,417.1L382.5,327.1H383.0L383.0,327.3H383.5L383.5,329.3H384.0L384.0,327.6H384.5L384.5,330.8H385.0L385.0,323.7H385.5L385.5,341.7H386.0L386.0,335.1H386.5L386.5,327.8H387.0L387.0,326.9H387.5L387.5,336.5H388.0L388.0,327.9H388.5L388.5,330.5H389.0L389.0,336.8H389.5L389.5,330.8H390.0L390.0,330.7H390.5L390.5,344.0H391.0L391.0,329.5H391.2L391.2,417.1Z" fill="#1e3763"/>
<path d="M382.7,326.8h0.01M388.5,313.5h0.01M383.0,326.7h0.01M389.7,324.0h0.01M382.9,324.4h0.01M384.3,324.9h0.01M387.6,323.8h0.01M383.8,318.6h0.01M386.0,323.2h0.01M390.2,320.5h0.01M386.2,297.0h0.01" stroke="#1e3763" stroke-width="1.1" stroke-linecap="round" fill="none"/>
<text x="387" y="423.7" font-size="6" text-anchor="middle" fill="#4d4d4d">20</text>
<path d="M392.3,417.1L392.3,334.0H392.8L392.8,330.3H393.3L393.3,337.7H393.8L393.8,326.8H394.3L394.3,332.6H394.8L394.8,318.8H395.3L395.3,329.7H395.8L395.8,327.0H396.3L396.3,335.1H396.8L396.8,417.1Z" fill="#5b8fcf"/>
<path d="M394.3,325.1h0.01M392.4,319.7h0.01M392.7,298.8h0.01M394.8,316.5h0.01M395.1,315.6h0.01" stroke="#5b8fcf" stroke-width="1.1" stroke-linecap="round" fill="none"/>
<text x="394" y="423.7" font-size="6" text-anchor="middle" fill="#4d4d4d">21</text>
<path d="M398.9,417.1L398.9,331.7H399.4L399.4,337.6H399.9L399.9,337.2H400.4L400.4,331.5H400.9L400.9,332.8H401.4L401.4,330.5H401.9L401.9,327.1H402.4L402.4,336.7H402.9L402.9,327.4H403.4L403.4,329.4H403.5L403.5,417.1Z" fill="#1e3763"/>
<path d="M402.1,323.8h0.01M402.0,323.4h0.01M400.5,321.5h0.01M400.9,315.3h0.01M399.6,326.8h0.01" stroke="#1e3763" stroke-width="1.1" stroke-linecap="round" fill="none"/>
<text x="401" y="423.7" font-size="6" text-anchor="middle" fill="#4d4d4d">22</text>
<path d="M44.2,343.9v1.4M55.7,330.4v1.4M48.5,368.7v1.0M45.1,326.2v0.5M54.4,333.0v0.8M44.5,334.4v0.5M55.7,356.0v0.8M58.2,342.9v0.5M45.6,328.2v0.5M43.5,352.6v0.6M43.4,333.6v1.0M48.1,327.3v1.0M53.2,346.0v1.4M55.3,332.9v0.4M50.6,333.1v0.5M50.0,327.0v0.4M43.3,327.8v0.6M52.6,326.4v0.8M45.5,329.7v0.6M50.5,327.1v0.8M50.6,331.0v1.4M48.5,330.0v0.5M51.1,328.8v0.6M45.5,337.3v1.0M47.8,341.1v0.6M51.1,362.0v0.5M51.3,348.5v0.5M52.6,349.2v0.5M55.5,351.5v0.5M46.3,335.7v0.4M55.2,335.1v1.0M57.7,334.4v0.6M57.7,332.2v0.5M50.4,331.6v1.0M56.0,335.3v1.4M44.6,341.9v1.4M54.6,335.2v1.4M48.3,350.1v0.8M50.3,346.2v0.5M45.9,327.3v0.8M55.5,327.7v0.8M53.2,331.9v0.5M43.6,350.0v0.4M51.3,367.0v0.5M55.8,328.9v0.6M50.9,347.5v1.0M49.6,327.4v0.6M56.9,342.0v1.0M49.7,363.7v1.0M45.6,336.2v0.5M52.5,348.3v0.5M50.4,345.1v0.6M53.6,336.9v0.4M56.6,326.1v0.4M55.0,336.2v0.4M50.0,339.8v1.0M46.3,330.2v0.8M51.0,329.6v0.6M57.2,359.6v0.8M45.4,327.2v0.4M53.4,333.8v0.6M55.1,360.2v1.4M53.0,332.3v0.5M57.9,329.1v0.8M56.7,328.0v0.5M45.7,333.9v0.6M49.7,332.0v0.6M43.6,337.7v0.4M49.1,336.5v0.4M45.0,363.9v0.4M44.6,330.1v0.5M47.4,327.4v1.4M55.7,329.8v1.0M51.9,343.8v0.4M55.4,328.4v0.6M57.5,340.7v0.4M52.5,329.1v0.4M50.2,331.6v0.6M52.7,325.9v0.4M57.9,329.9v0.6M52.8,336.9v0.8M50.9,328.3v0.4M58.3,325.8v1.0M51.6,328.5v0.8M44.9,351.6v0.8M51.5,359.0v0.6M53.7,387.5v1.4M54.3,327.6v0.4M55.9,325.5v0.6M49.8,326.1v0.8M56.4,342.3v0.5M53.8,325.9v0.6M50.0,329.9v1.0M48.2,325.8v0.5M48.7,325.3v0.8M47.5,341.7v0.4M44.7,351.4v1.0M43.9,325.6v0.5M44.6,373.9v0.5M53.2,344.6v0.8M54.8,344.9v0.6M54.2,341.1v1.4M56.8,340.4v1.0M45.4,336.7v0.4M55.8,338.7v1.4M57.7,341.1v0.4M45.3,332.1v0.8M51.7,340.5v1.4M47.0,330.0v0.4M54.6,336.0v1.4M51.2,346.3v0.4M56.1,329.4v0.5M54.5,382.5v0.8M44.5,362.4v0.4M52.6,341.1v0.5M48.3,341.5v1.0M51.9,325.4v0.6M58.0,326.9v0.8M47.7,336.4v0.8M54.9,402.3v0.6M58.1,367.6v0.8M44.5,336.1v0.6M49.1,363.5v0.4M52.1,327.6v0.6M45.3,351.7v0.4M53.9,329.3v0.8M49.3,327.9v1.4M50.1,330.8v0.6M49.0,327.2v0.6M54.6,353.4v0.5M54.1,360.9v0.6M44.3,332.9v0.4M48.7,333.8v0.4M47.5,326.1v1.4M57.4,329.7v1.0M48.1,348.1v0.8M56.7,351.0v1.0M51.6,344.8v1.4M49.5,339.9v0.6M50.6,362.6v0.5M50.4,331.7v1.4M54.5,341.5v0.5M47.8,337.8v0.5M53.0,326.4v0.8M51.6,334.5v0.8M49.8,337.5v0.5M48.5,326.7v0.6M55.5,328.7v0.8M49.1,346.3v0.6M48.4,326.2v0.6M45.2,336.0v0.5M44.7,360.2v1.4M50.0,372.6v0.4M45.2,333.8v0.8M57.9,335.6v1.0M56.2,380.4v0.4M46.7,327.8v0.4M57.5,344.9v0.8M44.6,348.3v1.0M57.2,341.2v0.5M52.8,336.8v0.4M44.8,330.7v0.5M49.2,329.1v0.4M47.5,331.1v0.5M50.5,329.4v0.8M53.9,330.9v0.8M56.7,341.3v0.5M53.4,365.2v0.4M53.8,344.7v0.8M46.3,349.8v1.0M44.3,335.8v0.5M46.8,329.1v0.6M44.9,340.3v0.5M50.6,362.4v1.0M45.5,332.9v1.0M45.4,326.1v0.8M50.1,344.4v0.4M58.4,366.5v0.5M53.2,336.7v0.6M53.3,332.6v0.6M50.0,327.0v0.4M48.6,373.2v0.5M49.0,347.8v0.8M44.6,344.0v1.0M57.2,328.5v0.8M43.8,333.4v0.8M43.9,325.8v0.4M47.2,346.4v0.6M48.8,331.5v0.4M47.3,344.7v0.6M47.8,344.9v1.4M57.6,326.3v0.4M50.5,373.6v0.8M55.2,362.9v0.5M57.3,328.3v1.4M47.9,343.4v0.5M48.2,331.2v1.0M44.5,328.6v0.5M49.5,341.4v1.0M48.2,385.7v0.4M47.3,326.6v0.8M58.2,380.4v0.5M49.6,340.1v1.4M51.4,348.1v0.6M47.7,338.1v1.4M47.2,334.1v0.5M45.6,358.4v0.6M44.3,329.7v1.0M46.8,350.7v0.4M44.8,335.2v0.8M57.1,325.9v0.4M44.1,339.4v0.5M57.3,332.4v0.8M52.4,348.2v0.4M44.9,339.2v0.5M43.9,331.6v0.6M43.9,345.5v0.4M55.7,333.3v1.0M48.0,328.7v1.0M50.6,333.3v1.4M51.6,340.9v0.5M49.3,330.1v1.4M47.9,372.4v1.0M56.6,333.5v0.6M53.0,332.9v0.4M72.1,348.4v0.6M68.6,333.8v0.8M67.5,328.3v0.8M64.0,347.4v0.8M71.9,350.9v0.4M62.6,333.9v0.8M67.6,341.7v0.5M62.0,345.6v1.0M62.0,346.7v1.4M73.5,327.5v1.0M70.6,351.2v0.8M64.7,350.9v1.4M71.3,366.3v0.6M69.0,329.7v1.0M64.5,351.3v1.0M73.6,335.3v1.0M67.6,331.2v0.5M66.2,340.8v0.6M72.7,328.1v0.4M71.0,326.0v0.8M68.2,338.6v0.4M64.2,337.1v1.4M71.4,330.0v1.0M62.8,331.4v0.5M63.2,346.2v1.0M64.2,340.9v1.0M73.2,360.0v1.4M61.3,327.7v0.8M66.4,332.2v0.8M63.9,341.5v0.4M68.4,330.8v1.0M63.9,338.7v0.5M65.7,352.4v0.4M73.3,329.5v0.4M61.7,327.6v0.6M66.2,330.0v1.0M72.7,339.1v1.0M73.3,345.6v0.4M61.5,336.9v0.5M63.0,362.6v1.0M68.2,368.8v0.5M67.7,341.1v0.8M71.6,328.2v0.6M69.2,404.2v0.8M70.3,325.3v1.4M72.9,326.5v0.5M63.9,327.0v0.4M62.5,359.4v0.6M70.3,330.0v0.8M70.0,363.6v0.6M69.4,376.9v1.0M61.1,329.9v1.4M63.6,327.9v0.5M72.5,331.4v1.4M73.1,386.8v1.0M67.1,353.4v0.4M66.7,345.1v0.6M71.3,332.9v1.0M72.9,327.6v0.4M69.1,328.0v1.4M61.3,325.9v1.4M61.5,326.3v1.0M71.0,328.7v1.0M72.7,326.3v1.4M73.4,327.0v0.4M61.3,371.1v1.4M62.1,346.7v0.8M62.2,326.8v0.5M64.8,331.6v0.6M64.3,330.4v0.6M72.9,347.8v0.8M72.1,340.1v0.8M61.3,336.5v0.8M70.2,337.1v0.4M68.5,330.4v1.0M63.6,347.4v0.4M65.5,326.8v0.5M73.7,339.1v1.0M64.3,369.6v0.5M73.3,329.3v1.4M71.0,335.6v1.0M71.3,340.5v0.8M73.2,359.5v0.8M72.6,325.6v0.6M66.6,337.4v1.4M64.0,334.8v1.4M70.8,341.2v0.6M67.8,356.4v1.0M70.7,328.1v0.6M68.5,327.3v1.4M64.0,328.5v1.4M71.8,340.0v0.5M70.4,339.5v0.5M65.2,328.5v1.4M74.0,328.0v0.5M66.0,388.8v1.4M64.8,330.2v0.4M64.6,358.6v0.4M66.2,349.3v1.0M73.8,330.6v0.6M68.9,333.2v0.8M70.2,338.9v0.5M69.7,341.5v1.4M70.1,354.7v1.4M62.5,334.0v1.4M62.2,333.6v1.4M70.3,327.9v0.8M66.9,340.2v1.4M69.6,357.0v0.6M71.2,332.8v0.4M61.4,337.3v0.5M67.8,326.9v1.0M63.6,335.2v0.6M67.8,333.4v0.5M74.0,328.4v0.4M70.5,339.9v0.6M64.5,333.1v0.8M73.0,340.5v1.0M64.4,329.2v1.0M73.7,404.6v0.8M63.7,327.4v1.4M63.4,341.1v0.5M65.6,340.9v0.8M67.1,330.6v0.5M71.2,335.0v0.5M64.4,332.5v0.8M69.9,335.4v0.6M65.6,341.6v0.8M66.6,340.9v0.6M62.9,330.8v0.4M71.8,361.6v0.5M67.9,331.8v1.4M61.1,371.9v0.6M68.9,338.5v0.5M71.1,331.8v0.8M71.4,328.1v1.0M73.8,326.7v1.0M71.3,353.3v1.4M63.7,326.5v1.4M72.6,337.7v0.5M71.8,335.1v0.8M67.1,327.6v0.8M63.1,339.3v0.5M72.0,335.0v1.4M64.8,334.9v1.4M61.9,340.8v0.4M61.2,326.0v0.6M71.6,326.8v0.5M61.3,344.7v0.6M62.1,341.8v1.0M68.2,362.7v0.6M66.5,337.7v0.6M65.6,335.7v0.6M72.4,331.7v0.8M71.4,331.4v0.6M62.6,380.7v0.4M66.2,337.7v1.0M61.6,330.7v0.8M68.9,341.8v1.0M69.0,340.0v1.4M70.0,357.4v0.4M69.7,334.7v0.4M69.7,356.6v0.4M73.0,341.7v0.5M71.3,338.0v0.6M63.3,325.8v1.0M69.4,367.1v1.0M67.8,352.1v0.8M68.5,363.9v0.4M69.9,339.1v1.4M73.8,335.2v0.4M62.0,335.1v1.4M61.1,325.3v0.4M73.9,355.3v0.4M62.6,325.5v0.5M66.9,346.2v0.6M71.1,344.5v1.4M70.9,330.6v0.8M67.0,366.7v0.4M70.4,325.4v1.4M70.0,340.1v0.6M70.5,328.0v0.8M68.9,331.1v1.4M66.7,342.6v0.4M65.7,341.2v0.8M67.2,348.4v0.6M71.3,338.1v0.4M69.1,341.4v1.0M65.3,339.6v0.5M68.8,330.9v0.5M65.9,343.0v0.5M71.6,330.4v0.8M63.0,364.2v0.4M64.7,327.6v1.0M62.8,382.3v1.0M69.9,363.0v0.4M68.0,335.4v1.4M85.4,339.6v0.8M103.6,326.4v0.5M99.0,357.2v1.4M100.6,338.9v0.6M100.7,374.3v1.0M74.9,351.2v0.5M103.6,329.3v0.4M83.6,338.1v0.4M77.0,344.4v0.4M99.6,341.4v0.5M95.5,327.0v1.4M79.6,330.3v1.0M89.4,330.5v0.8M101.1,337.7v0.5M78.6,338.8v0.5M103.0,325.5v1.4M86.9,354.4v0.8M103.7,326.1v0.8M81.4,331.7v1.0M98.6,364.1v1.0M75.7,336.8v0.6M81.7,334.0v0.6M77.4,328.5v0.5M89.5,325.6v0.8M97.8,369.3v0.4M75.1,341.6v1.4M93.1,341.0v0.4M93.0,329.8v0.8M81.3,325.9v0.6M93.8,327.3v1.0M101.6,326.6v0.5M87.5,336.7v0.8M91.7,330.3v1.4M90.8,354.4v1.0M80.9,333.0v0.6M88.2,337.9v0.8M99.1,325.7v0.5M89.7,332.9v0.4M102.3,328.1v0.6M91.1,336.0v0.5M83.1,348.8v0.4M92.6,332.1v1.0M85.9,334.5v0.4M90.0,397.5v0.5M86.8,342.8v0.5M92.9,355.5v1.0M77.0,356.1v0.8M82.3,341.1v1.4M78.0,357.8v1.0M77.7,333.3v0.5M86.8,349.6v1.0M77.5,355.6v0.6M96.2,330.8v1.0M92.3,341.9v0.8M85.7,330.9v0.5M87.4,332.8v0.6M84.0,354.8v0.6M80.3,334.1v0.4M74.9,330.0v0.6M102.2,348.9v0.8M89.9,336.8v0.8M88.3,325.9v0.8M103.0,343.2v0.4M86.6,336.3v1.0M78.8,328.6v0.8M87.5,340.8v0.6M95.2,347.1v0.6M83.8,386.3v1.0M79.5,342.2v0.6M99.1,399.0v0.8M93.3,337.1v0.5M89.5,328.6v1.4M91.3,327.0v1.4M93.5,325.9v0.4M83.5,343.9v0.4M92.0,342.8v0.8M97.6,338.6v1.0M89.8,327.7v1.0M77.8,328.0v0.4M75.0,326.5v0.8M99.2,340.4v0.4M93.9,343.6v0.5M95.9,332.2v0.6M93.3,356.5v0.4M84.7,334.8v0.4M80.8,333.3v0.4M87.5,340.7v0.4M79.0,339.3v0.4M101.5,352.2v1.0M81.8,359.9v0.4M81.5,333.1v0.5M86.7,333.3v0.4M98.3,329.7v0.6M85.7,325.4v0.8M91.2,327.2v0.8M84.3,342.0v0.8M99.3,332.1v0.5M88.3,332.0v0.6M94.4,331.9v1.4M78.1,328.7v0.5M91.0,335.3v0.5M79.0,332.2v0.8M93.3,339.1v0.8M89.5,329.3v0.5M92.3,334.5v1.0M81.6,340.2v0.4M94.8,326.8v1.4M97.6,333.0v1.0M78.5,325.5v1.4M79.5,355.6v1.4M101.3,326.4v1.0M97.2,328.6v0.4M81.0,327.4v0.6M85.0,354.9v1.4M101.0,356.7v0.6M79.5,332.5v1.4M84.8,333.7v1.4M86.3,362.9v0.6M77.6,364.1v1.4M94.8,333.5v0.8M80.1,331.0v0.4M90.9,341.1v1.0M99.7,338.7v0.6M102.3,342.9v0.4M77.5,348.2v0.4M100.8,339.3v0.5M94.9,325.8v0.6M97.0,326.7v0.8M104.5,340.5v1.0M76.8,371.8v0.6M95.2,346.6v1.4M93.2,336.6v0.5M87.2,336.7v0.5M89.0,328.6v1.0M82.1,337.8v1.4M81.3,330.0v0.5M85.0,333.7v0.6M78.3,343.7v0.8M81.4,329.6v0.8M78.2,341.6v0.5M101.1,327.7v0.6M93.3,327.2v0.5M94.7,327.9v0.8M99.5,327.2v0.6M88.9,325.9v0.6M80.1,344.5v0.4M79.0,334.6v0.6M79.2,326.4v0.8M76.7,345.4v1.0M82.2,341.7v0.8M79.9,337.7v1.4M82.8,340.4v1.4M81.8,329.7v0.4M74.9,333.2v0.6M79.8,341.4v1.4M79.2,349.7v1.4M92.9,332.8v0.6M83.9,332.6v0.6M99.7,329.9v0.4M91.4,341.0v1.4M86.4,326.1v0.8M89.3,328.0v1.0M93.2,327.7v0.5M87.6,381.0v0.4M100.0,335.6v0.6M74.2,354.5v1.0M87.1,330.5v1.0M95.8,360.5v0.4M94.4,353.1v0.5M85.7,325.3v1.4M84.7,328.7v0.6M89.9,334.1v1.4M100.5,383.6v1.0M76.6,351.7v0.6M92.7,330.9v0.6M88.8,341.8v0.6M90.3,341.2v0.5M94.8,334.7v1.4M91.8,338.1v0.6M90.3,338.5v0.4M81.0,380.3v1.4M77.5,356.8v0.4M79.8,342.9v0.5M91.0,329.3v0.4M96.5,363.5v0.8M94.8,350.9v1.0M90.9,345.2v0.4M93.2,376.7v0.8M99.4,333.2v0.5M91.3,349.0v1.0M75.9,329.5v0.4M95.5,374.9v0.4M95.7,334.1v1.0M104.3,328.8v1.4M100.7,328.2v0.6M98.6,346.5v0.5M85.5,346.5v1.4M89.0,352.3v0.6M90.8,351.1v1.4M81.5,332.2v0.4M99.7,339.1v0.4M89.0,326.5v0.5M91.0,330.7v0.8M99.6,339.4v1.4M97.3,330.2v0.4M84.5,327.8v0.4M98.5,325.8v1.4M94.8,333.2v0.5M95.2,334.7v1.0M89.9,332.4v0.6M101.4,339.4v0.5M99.1,345.9v0.8M85.9,332.2v0.6M81.0,329.8v1.0M75.5,327.7v0.6M85.8,326.3v0.6M91.5,337.2v1.4M75.1,338.3v0.5M97.7,341.2v0.6M98.3,350.3v0.5M94.9,331.0v1.4M85.2,355.8v1.0M95.9,331.7v1.4M84.0,396.3v0.6M101.4,351.6v0.5M78.2,325.4v0.8M86.5,333.3v0.5M92.0,327.7v0.6M96.3,338.0v0.6M76.3,328.6v1.0M79.6,339.1v0.6M103.7,343.9v0.4M99.7,331.4v0.6M90.8,347.9v0.5M95.6,329.2v0.5M101.3,330.5v0.4M80.1,346.3v1.0M75.6,326.5v1.0M84.5,327.6v1.0M93.7,325.5v0.4M80.6,331.5v1.4M88.9,340.2v0.5M75.9,333.8v1.4M92.8,349.1v0.8M81.9,335.2v0.6M91.3,395.1v1.0M95.8,353.9v0.4M78.9,327.7v0.4M85.0,332.4v1.4M92.0,338.1v1.0M91.6,329.4v1.4M88.7,325.7v1.4M97.7,385.6v0.6M85.1,337.3v0.6M74.4,335.5v0.6M78.7,341.0v0.4M102.7,340.8v1.0M89.4,338.1v1.0M85.3,327.8v1.4M100.2,349.3v0.6M97.8,329.7v0.8M80.6,364.0v0.8M88.1,331.5v0.4M94.2,325.5v0.8M94.7,332.1v0.8M86.6,365.3v1.4M100.3,325.7v1.4M87.3,329.4v0.8M93.7,330.9v0.5M104.0,350.2v0.6M103.2,327.6v0.4M84.2,335.8v0.5M83.9,340.2v0.5M91.8,359.4v1.4M85.1,349.3v0.5M87.4,327.6v1.4M74.8,327.1v0.4M78.2,331.0v0.6M77.1,328.2v0.4M86.7,341.6v0.8M101.0,387.3v0.5M80.2,341.0v0.5M89.5,329.4v0.4M96.3,326.0v0.4M100.9,327.3v0.5M90.1,325.3v1.0M78.6,346.6v0.4M90.3,354.4v0.4M84.8,329.1v0.5M96.4,330.3v0.6M82.3,379.3v0.4M86.5,338.2v0.4M84.0,325.9v0.6M90.8,343.9v1.4M96.0,333.4v0.8M85.8,327.8v0.8M98.6,361.6v0.5M92.6,366.8v1.0M96.4,400.3v1.4M77.6,354.7v1.4M75.6,344.1v1.4M87.6,342.8v1.0M74.1,347.1v1.0M84.5,337.8v1.4M98.2,357.7v0.4M86.1,337.1v1.4M99.3,326.4v1.4M80.9,340.3v0.8M100.3,332.0v1.0M80.8,327.7v1.0M85.2,328.9v0.6M81.4,328.3v0.8M79.5,372.1v1.4M100.6,325.9v0.8M77.9,327.9v0.4M85.2,342.6v0.6M87.9,326.7v0.8M95.3,334.7v0.5M97.2,327.8v0.6M89.0,342.4v1.0M84.5,332.9v0.5M74.1,330.0v0.6M96.0,330.4v0.5M82.2,334.4v0.8M100.3,328.8v0.6M92.9,332.6v0.8M85.6,325.9v0.8M87.2,340.1v0.5M85.9,339.0v0.5M103.9,355.6v0.4M94.4,331.6v0.8M85.7,337.1v1.4M97.2,325.6v0.8M102.6,344.5v0.8M79.5,326.3v0.5M89.7,353.0v1.4M80.2,337.7v0.6M91.0,348.6v0.4M76.8,355.2v0.4M77.2,326.7v1.0M88.0,352.9v0.6M88.8,326.1v0.8M99.8,327.6v0.4M100.7,327.7v1.0M104.1,328.5v1.0M82.1,331.2v0.6M91.0,336.6v0.4M83.5,329.8v0.8M100.2,330.0v0.4M80.4,342.1v1.4M89.0,339.2v0.6M80.2,365.3v0.4M96.3,325.4v1.0M99.2,325.8v0.8M83.0,345.0v1.0M92.7,333.5v0.5M100.9,326.2v1.4M77.9,327.6v1.0M89.3,325.5v1.4M98.5,336.2v1.4M96.9,351.0v0.5M78.5,365.1v0.4M88.3,328.8v0.4M86.7,342.4v0.8M95.0,327.9v1.4M78.2,328.0v0.5M100.8,350.7v1.4M78.8,363.9v0.5M78.7,350.8v0.8M103.8,331.6v0.6M80.9,337.8v0.8M78.6,328.5v0.8M77.6,353.3v0.5M104.5,369.9v0.6M89.0,325.5v0.4M80.2,330.5v1.0M90.6,326.7v0.6M97.5,348.3v1.0M102.3,325.8v0.4M84.6,371.3v0.4M79.3,332.1v0.6M96.7,328.4v0.6M98.8,345.7v1.4M90.9,349.9v0.8M75.2,325.9v0.8M93.8,327.5v0.6M76.4,346.0v0.6M79.3,370.5v1.4M100.7,335.7v0.4M77.3,329.6v0.6M90.4,327.2v0.5M91.4,325.9v0.5M82.7,338.1v0.5M96.3,337.4v0.4M74.6,371.0v1.4M91.5,343.8v0.5M78.8,330.1v0.8M93.1,327.1v0.4M76.7,339.0v1.0M97.7,336.7v0.5M76.3,331.8v0.5M93.0,344.0v0.6M76.7,347.9v0.5M74.4,370.1v0.8M75.1,350.0v1.0M94.8,327.8v0.5M80.3,366.5v1.4M98.2,335.6v0.6M101.8,347.4v0.5M100.5,326.1v0.8M76.9,345.4v0.5M98.6,336.0v0.8M78.2,353.3v0.4M96.8,353.7v1.0M79.1,333.0v1.0M83.2,376.9v1.4M77.6,380.3v0.6M97.0,355.2v1.0M88.1,329.5v1.4M101.2,326.1v0.8M98.3,343.5v0.8M86.5,326.7v0.6M94.3,362.6v0.6M74.2,335.9v0.4M100.9,335.5v0.6M88.1,331.7v0.6M86.1,335.2v0.6M76.8,330.3v0.8M86.5,337.5v0.5M94.9,325.9v0.5M86.0,331.7v0.5M80.9,360.4v0.8M83.5,331.3v1.0M79.9,353.5v1.0M74.4,355.8v0.5M88.0,351.6v0.6M94.7,391.6v1.0M94.4,327.5v0.6M94.4,326.5v0.8M82.2,330.8v1.4M93.4,332.7v1.4M75.9,342.2v1.4M103.9,326.2v1.4M77.7,332.8v1.0M101.3,346.0v0.4M103.0,335.7v0.6M78.5,339.3v0.4M104.5,328.3v0.6M93.2,329.6v0.4M86.9,386.1v1.4M93.6,336.1v0.6M95.2,330.4v1.0M89.2,326.0v0.5M80.2,351.5v0.6M96.6,328.2v0.4M92.0,381.9v0.6M103.4,328.5v0.8M80.1,331.4v0.4M94.9,332.4v0.8M82.2,328.9v0.8M89.4,333.6v0.6M75.4,330.4v1.4M91.1,342.9v0.6M86.0,345.4v0.6M100.1,327.3v0.4M75.4,353.2v0.6M92.5,332.3v0.4M100.8,326.9v0.8M99.5,345.1v0.5M93.8,379.7v1.4M77.7,333.5v1.4M99.7,333.4v0.6M84.8,328.5v1.0M96.5,333.7v0.6M78.2,331.8v0.8M76.1,325.3v0.5M91.7,333.5v0.6M98.0,343.4v0.5M78.7,343.0v1.0M77.9,330.5v1.4M85.7,330.6v1.4M85.8,361.3v1.0M92.5,336.6v0.5M83.5,332.3v0.4M85.1,344.4v0.6M80.8,335.0v0.8M82.5,326.2v1.0M92.3,325.8v0.8M77.5,329.3v0.6M103.5,337.3v1.0M98.3,329.0v1.0M90.5,325.7v0.4M98.8,330.2v1.4M82.4,326.7v0.8M89.7,339.4v0.4M98.6,377.1v0.6M76.3,335.6v0.8M103.7,359.1v0.5M84.5,328.6v0.6M97.3,326.5v0.4M87.5,328.7v0.5M97.7,328.8v0.6M96.9,372.4v1.4M92.8,325.5v0.8M74.5,357.0v1.4M90.5,338.2v1.0M93.4,401.1v0.4M96.7,344.0v0.4M98.6,334.9v0.4M100.3,332.4v0.8M104.3,363.9v0.8M101.5,384.8v1.0M91.3,336.5v0.6M94.1,369.4v0.6M102.9,388.0v1.4M96.2,328.0v0.8M78.2,325.4v1.0M90.3,325.7v0.4M88.2,325.9v1.0M102.0,356.4v1.0M101.1,335.8v0.5M74.3,328.9v0.4M77.1,358.7v0.8M88.0,339.3v1.4M102.0,348.1v1.4M75.7,335.4v1.4M100.4,398.5v0.8M95.2,335.4v0.8M92.4,326.3v0.5M74.2,338.5v0.5M93.4,346.8v0.4M101.8,328.8v0.8M81.4,367.8v1.4M75.4,338.2v0.8M82.1,327.9v0.4M97.3,359.3v0.5M98.7,328.1v0.4M89.6,375.3v0.4M76.3,325.7v0.4M89.4,340.6v1.0M76.5,326.1v0.6M88.0,342.9v0.5M74.8,353.4v0.8M80.5,344.9v1.4M87.2,327.1v1.0M89.9,343.3v0.5M100.0,355.3v0.6M82.5,331.1v0.8M92.6,386.5v0.4M76.5,325.9v1.0M80.6,333.0v1.0M91.6,329.0v0.4M101.9,354.2v0.4M94.5,327.5v0.4M79.6,370.8v1.4M78.2,349.9v0.4M84.0,326.8v1.4M94.1,335.5v0.6M82.5,329.8v0.4M84.5,337.7v0.6M74.2,348.7v0.6M98.3,337.3v0.6M87.1,331.8v0.4M103.6,328.0v1.4M94.3,329.7v1.0M95.1,379.8v0.5M80.8,347.6v1.4M82.0,345.3v0.5M92.7,340.4v1.4M82.8,333.1v0.4M76.9,357.3v1.0M103.5,341.7v1.4M76.2,326.4v0.4M76.1,326.3v0.6M76.4,338.2v1.4M103.7,343.8v0.8M79.5,326.9v0.8M95.4,328.3v0.4M100.4,335.1v0.5M75.0,353.3v0.5M98.6,342.9v0.4M99.9,326.4v1.4M94.3,331.2v0.4M78.5,326.9v0.8M81.8,326.7v0.4M76.1,325.5v0.5M102.6,332.2v0.5M78.3,349.9v0.6M79.2,342.6v0.5M82.8,332.9v0.5M93.9,359.9v0.6M81.4,360.8v0.4M75.6,342.6v0.5M82.7,335.4v0.4M88.1,345.0v0.4M88.9,366.1v0.8M87.5,327.2v0.6M87.6,329.6v0.4M76.3,329.2v1.0M102.4,332.8v0.8M90.1,329.6v0.6M80.6,326.6v0.8M98.0,327.5v1.4M83.8,328.9v0.6M76.2,344.6v0.6M79.6,325.4v1.0M101.6,341.7v0.4M90.5,329.5v1.0M78.3,332.5v0.6M96.7,356.3v1.4M79.6,329.3v1.4M76.6,329.1v0.8M103.9,354.4v0.6M91.9,369.9v1.4M79.1,332.3v0.4M88.7,336.7v0.8M94.6,329.0v0.5M99.5,328.8v0.8M82.4,384.0v0.4M86.5,331.9v0.4M91.4,348.7v0.4M78.8,351.8v0.8M91.2,345.1v0.5M91.2,330.3v0.5M104.6,327.6v0.4M79.2,334.0v0.8M98.2,329.9v0.5M100.3,375.3v1.4M86.5,326.1v0.4M103.6,362.6v0.5M100.6,333.9v0.6M98.7,342.1v0.4M87.7,336.3v1.4M98.5,361.7v0.5M87.4,339.5v0.8M79.6,344.0v0.5M86.7,375.1v0.4M95.5,326.2v0.5M94.6,350.8v1.4M97.3,375.0v0.8M103.3,349.8v0.8M76.8,381.6v0.8M103.4,361.9v1.4M95.7,332.9v0.6M78.0,329.2v0.6M77.5,336.6v1.0M86.9,326.5v0.6M91.7,332.2v0.8M83.7,351.8v1.4M94.7,328.0v1.4M97.5,354.0v1.4M81.7,339.5v0.6M97.5,330.9v0.4M92.4,355.4v1.0M75.5,361.5v0.8M96.2,330.3v0.4M99.6,326.7v0.5M81.1,330.1v0.5M74.7,327.2v0.5M78.6,331.7v0.6M83.0,347.2v0.6M75.8,326.6v0.4M76.0,326.1v0.5M98.2,346.0v0.8M78.4,340.0v0.4M97.0,354.3v0.6M96.0,329.4v0.8M77.0,339.3v1.4M87.9,335.3v1.0M76.9,342.6v0.5M74.5,368.4v1.4M88.0,347.4v1.0M90.4,345.8v1.4M74.8,336.7v1.4M95.2,340.4v0.5M101.5,327.5v0.8M97.6,353.2v1.4M98.3,331.1v1.4M83.4,349.0v0.6M75.6,336.7v1.4M100.9,335.1v0.4M98.0,345.4v1.4M95.9,337.2v0.4M94.2,340.8v0.4M81.8,342.8v0.6M100.1,369.5v1.4M85.4,334.7v0.6M93.0,327.0v1.4M102.2,327.5v1.0M78.0,335.2v0.6M94.2,355.7v0.6M87.4,326.7v0.4M95.9,346.5v1.4M78.2,327.0v0.5M99.1,340.0v0.5M79.4,348.3v0.6M85.2,360.6v1.0M77.7,330.0v1.4M101.7,335.4v1.0M98.8,347.9v0.5M96.5,327.4v0.8M77.4,352.0v0.5M74.9,336.7v1.4M78.6,355.9v0.5M96.3,355.3v1.4M86.9,352.7v1.0M84.6,349.9v0.4M101.5,373.6v0.6M99.1,330.2v0.6M92.9,333.2v0.5M74.5,343.2v1.0M97.1,329.7v0.4M104.3,346.0v0.6M81.8,342.2v0.6M78.2,337.6v0.4M84.6,354.8v0.5M100.2,374.5v1.0M94.0,326.0v1.0M104.0,371.8v0.8M98.0,357.7v0.6M85.1,326.3v0.4M101.6,325.6v1.0M76.2,346.8v0.8M93.6,331.2v0.8M83.6,341.2v0.8M83.8,332.0v1.4M100.8,338.8v1.0M104.5,361.3v0.8M86.8,359.1v0.5M80.5,337.7v1.4M95.3,327.4v0.4M88.2,338.7v0.5M87.2,326.8v1.0M98.2,332.3v1.4M92.5,326.2v1.4M87.3,332.9v0.8M80.3,331.0v1.4M103.8,336.0v0.4M94.5,327.7v1.0M101.6,328.1v1.4M90.9,347.9v0.6M75.7,326.1v1.0M100.1,345.2v0.5M89.7,368.2v0.5M78.8,334.4v0.5M92.5,330.0v0.8M80.7,341.0v0.4M98.6,362.4v0.5M90.5,329.4v0.5M92.5,362.6v1.0M96.1,327.1v1.0M95.8,330.3v1.0M75.7,371.2v0.4M100.6,361.6v0.8M78.4,335.1v1.0M84.3,348.4v0.5M81.0,357.6v0.8M83.3,328.1v0.4M78.4,339.4v0.6M79.7,335.6v1.0M88.9,371.4v0.5M88.5,336.6v0.5M76.3,344.5v0.8M77.2,346.3v1.4M95.2,333.2v1.0M90.8,325.9v0.8M84.9,341.1v0.8M103.1,340.6v1.4M94.3,346.4v0.5M93.2,343.3v0.6M92.1,343.3v0.5M90.9,333.4v0.4M78.2,362.6v1.0M84.0,335.6v0.6M90.0,325.6v0.6M93.6,335.6v0.8M92.7,338.5v0.4M85.4,333.1v1.4M90.5,330.4v0.8M79.0,343.9v0.5M80.5,346.5v0.6M81.1,326.2v1.4M103.7,363.1v0.5M90.9,365.9v0.5M87.3,328.7v1.4M85.9,326.8v0.5M92.3,385.2v0.4M79.0,325.9v1.4M93.3,327.1v0.5M80.1,332.3v0.5M85.1,386.8v0.8M86.6,334.6v0.4M104.4,344.7v0.5M101.3,350.4v1.4M75.9,337.3v0.4M98.0,337.9v0.4M87.9,359.2v0.6M94.2,336.6v0.4M102.0,338.3v0.5M95.1,328.0v1.0M98.6,349.8v0.4M99.9,332.4v0.5M91.5,346.0v0.8M103.2,367.4v0.6M101.4,328.6v0.5M98.3,350.0v1.0M95.1,331.3v0.6M98.5,331.8v1.0M89.0,330.4v0.4M89.1,353.3v0.8M97.3,338.8v1.0M89.6,344.7v0.5M77.2,330.4v0.8M87.6,345.9v1.4M87.8,332.6v1.4M83.2,326.3v0.6M80.4,336.5v1.0M87.1,338.7v0.6M88.0,357.0v1.4M88.5,327.2v0.5M98.8,330.8v1.0M96.6,369.4v0.8M100.3,330.0v0.8M88.7,326.7v0.4M80.7,339.9v0.4M96.3,331.9v0.5M103.3,341.7v1.4M79.8,336.3v0.5M101.7,329.3v0.5M81.7,364.1v1.0M83.3,405.6v0.8M90.4,356.0v0.4M86.8,335.3v0.4M96.8,329.4v1.0M103.4,366.1v1.4M77.8,331.3v0.5M101.5,335.3v1.0M85.3,338.1v1.0M84.1,331.9v0.8M103.4,388.9v1.0M82.7,331.6v0.5M83.7,325.7v0.4M103.3,334.9v1.4M95.3,335.7v0.5M90.7,356.9v0.6M79.8,328.6v1.4M81.5,382.7v0.4M80.5,326.4v1.4M77.7,354.1v1.4M82.8,326.9v1.0M95.9,325.3v0.8M76.8,330.5v1.4M74.4,333.8v1.0M90.3,328.4v0.5M101.7,329.3v0.4M82.3,359.1v0.6M94.7,333.0v0.4M76.2,353.5v0.4M99.4,360.7v0.8M85.2,342.5v0.4M104.4,340.8v0.5M85.4,332.5v0.6M81.9,327.7v0.5M77.5,350.6v0.6M89.4,338.8v0.8M88.2,347.3v0.5M87.0,329.5v0.5M101.4,332.3v0.8M92.1,334.2v0.4M80.9,342.9v0.8M104.2,329.6v0.5M80.1,330.0v0.4M84.4,326.5v0.4M89.7,369.2v0.5M79.3,334.2v0.4M95.6,334.2v0.4M89.3,398.3v1.4M78.9,340.9v1.0M75.3,326.0v1.4M96.0,336.6v1.4M80.5,330.0v0.5M101.6,325.3v0.8M77.2,333.6v0.6M104.4,331.7v1.4M84.2,325.9v0.8M76.2,326.6v0.5M104.3,365.5v1.0M94.9,329.9v0.8M91.3,334.7v1.0M98.9,335.5v0.8M87.4,342.4v0.5M91.7,384.9v1.4M98.2,326.5v0.5M75.7,339.2v0.6M79.3,353.5v0.6M79.0,334.4v0.5M76.9,345.9v1.4M101.8,342.4v0.4M77.6,332.9v0.4M78.8,358.2v0.6M104.5,331.3v1.0M100.5,339.4v1.4M98.0,354.4v0.6M89.9,335.7v0.6M84.9,338.3v1.0M82.6,336.4v0.8M87.2,339.7v0.6M82.5,348.7v0.6M89.9,329.8v1.0M90.6,337.7v1.4M75.1,330.0v1.4M80.6,334.8v0.6M88.0,326.7v1.4M80.4,329.5v1.4M96.5,329.9v0.4M82.4,326.2v0.4M87.4,340.2v0.6M98.6,329.4v0.4M96.0,346.5v0.4M85.4,330.2v1.4M78.1,331.8v0.8M82.9,327.9v1.4M79.7,328.0v1.4M100.1,331.7v0.4M87.1,328.6v0.6M89.6,327.1v1.0M86.2,339.6v0.4M86.1,328.5v1.4M85.4,348.1v1.4M75.2,345.3v1.0M94.7,340.3v0.5M95.7,355.3v0.8M92.0,338.9v0.4M91.5,336.8v0.4M89.7,327.3v0.6M104.4,364.5v0.5M77.6,393.7v0.8M81.5,339.3v0.4M90.0,338.0v0.8M97.8,335.6v0.4M94.3,335.1v0.5M97.8,354.6v0.8M79.0,375.1v1.4M87.5,404.3v0.8M100.7,344.1v0.4M79.7,325.3v0.8M82.9,344.5v1.4M79.3,336.6v0.6M83.0,337.6v0.8M85.0,331.7v1.0M82.5,348.1v1.4M85.4,327.2v1.0M93.7,327.6v0.4M84.4,333.8v0.6M80.9,325.3v0.5M94.4,334.7v0.5M79.4,344.7v0.6M99.0,326.2v0.6M94.9,343.2v0.8M98.5,337.7v0.5M95.3,330.0v0.5M95.5,348.7v0.6M83.0,337.4v1.4M92.9,327.5v1.4M80.2,383.1v1.0M99.5,343.0v0.6M91.4,347.5v0.8M90.9,328.1v0.4M76.6,340.8v1.4M103.7,346.0v0.4M79.5,353.3v0.4M93.0,329.4v1.4M87.9,329.6v0.6M101.5,331.8v0.6M85.5,363.5v1.4M77.8,328.0v0.6M83.3,346.4v0.5M104.3,334.5v0.6M91.0,325.3v0.6M81.0,326.8v1.0M88.9,339.9v0.8M95.4,335.2v0.8M99.4,369.9v0.6M96.8,353.6v1.4M83.4,326.0v0.8M103.2,332.6v1.0M88.9,340.8v1.4M85.0,329.0v1.4M101.9,368.4v0.5M87.1,328.5v0.5M98.1,328.7v0.6M91.5,362.0v0.6M93.5,335.7v1.0M99.8,331.3v0.6M81.8,353.5v1.0M91.3,361.5v0.5M83.0,356.9v1.4M87.4,335.3v1.4M103.2,328.6v0.8M79.4,361.4v1.4M100.5,333.1v0.5M96.1,354.5v1.0M90.5,334.5v0.4M74.6,367.6v0.4M101.2,341.8v0.8M80.7,349.4v1.4M92.2,369.9v0.6M85.4,335.7v1.4M78.9,331.1v1.4M98.5,326.2v0.4M80.1,328.9v0.4M82.1,328.4v0.5M85.4,350.0v0.4M97.1,356.9v1.4M77.4,344.3v0.5M80.5,325.8v0.8M94.0,337.4v0.8M76.3,372.3v0.8M94.7,339.2v0.8M82.5,353.3v0.8M80.5,326.0v1.0M89.6,327.2v0.8M103.9,325.5v1.4M78.9,328.6v0.6M87.3,341.3v0.5M93.7,342.3v0.4M85.7,345.5v0.5M84.4,327.4v0.6M75.4,330.8v1.4M98.7,327.2v0.4M104.5,330.9v0.6M110.5,339.1v0.8M118.8,336.0v0.6M109.8,326.2v0.4M126.2,327.3v0.4M119.9,338.8v0.8M118.0,351.0v1.0M115.9,331.8v0.4M121.9,338.3v1.4M112.8,334.0v0.6M118.4,331.3v0.6M117.0,325.8v1.4M127.3,341.2v0.8M123.6,334.3v1.0M112.4,327.0v0.4M110.7,343.0v0.5M109.7,328.8v0.5M115.5,349.5v0.5M124.5,326.2v0.4M115.6,325.5v0.8M116.9,326.6v0.5M123.6,338.8v0.6M120.0,333.5v1.0M104.8,325.8v0.8M109.5,331.5v0.4M125.2,354.8v0.8M121.6,377.4v1.0M113.8,331.1v1.4M111.0,340.2v1.0M117.5,326.9v1.4M107.1,345.5v1.0M105.2,345.5v0.6M105.7,357.7v0.6M120.9,325.3v0.5M113.2,335.0v1.4M123.2,340.0v1.0M110.3,352.1v1.0M124.1,341.8v1.0M120.1,338.6v1.4M116.3,340.7v1.4M111.7,342.1v1.4M126.0,326.2v0.4M126.8,328.0v1.4M113.9,329.2v1.0M128.5,347.8v0.5M127.9,348.5v0.5M115.3,358.7v0.5M124.2,328.2v0.6M127.4,325.5v0.8M105.9,327.2v0.4M114.3,337.5v0.4M112.6,326.4v0.6M117.8,325.9v0.8M117.0,327.6v0.4M109.9,368.5v0.5M126.6,326.1v0.6M107.0,347.6v1.4M117.3,350.6v0.5M127.1,331.0v1.4M108.1,342.6v0.6M119.4,328.4v0.6M126.3,329.5v1.4M125.9,328.7v0.4M112.1,326.8v1.4M116.0,351.2v0.4M106.9,333.2v0.5M106.4,346.8v1.4M114.4,327.3v0.4M125.9,333.3v0.4M114.3,328.7v0.8M122.0,348.9v1.4M125.4,357.5v0.8M111.5,345.9v0.6M115.4,328.4v0.8M112.0,340.2v0.4M115.6,338.1v0.6M116.7,333.0v1.4M123.4,327.9v0.4M116.3,332.7v0.6M113.8,327.3v1.4M106.7,332.9v0.8M117.2,330.5v0.8M111.6,356.8v1.0M116.3,376.6v0.6M120.2,357.0v0.4M111.3,337.1v0.5M115.0,325.6v1.4M109.4,350.0v0.4M120.1,400.2v0.5M114.7,338.5v0.8M120.1,332.2v0.4M112.1,327.1v0.8M120.7,338.2v0.5M127.5,339.0v0.8M112.6,332.7v1.4M115.5,384.9v0.5M120.7,351.1v0.6M123.7,359.1v0.6M115.4,337.1v0.4M122.5,328.2v0.4M113.9,363.9v0.6M113.4,327.6v0.8M110.1,325.9v0.4M125.6,333.2v0.6M115.5,329.3v0.5M108.5,347.4v0.6M123.1,327.5v0.8M123.2,326.3v0.6M121.0,336.9v0.4M118.1,332.7v0.6M104.9,334.3v1.4M122.1,330.8v1.4M110.0,328.8v1.0M123.2,338.3v0.8M106.6,356.1v0.4M119.0,343.4v1.4M112.3,328.8v1.0M119.2,328.9v0.8M123.4,329.0v0.4M121.6,330.6v0.5M120.1,334.3v1.4M125.2,330.4v0.5M122.4,328.6v0.6M105.1,330.7v0.5M118.7,328.2v0.4M113.7,338.9v0.6M110.7,336.4v0.8M127.5,330.4v1.4M127.1,331.7v1.4M104.9,331.4v0.5M124.1,329.9v1.4M125.0,330.9v0.6M108.0,332.2v0.6M107.5,328.3v1.0M127.2,335.9v1.0M123.5,345.1v1.0M123.9,337.9v0.6M126.9,329.5v1.4M107.0,365.2v0.4M109.4,336.7v1.4M125.0,331.9v1.4M106.0,342.1v1.0M128.6,328.4v0.4M106.7,331.9v1.0M117.5,328.2v0.4M117.2,327.7v0.6M109.9,347.5v0.8M112.8,333.1v0.6M105.1,335.6v0.5M117.9,368.9v0.8M123.5,346.5v0.4M112.8,327.7v1.0M122.2,331.1v0.8M107.1,337.2v1.4M114.0,350.3v0.6M111.9,337.4v0.8M108.9,328.8v1.0M115.0,381.6v1.4M106.6,344.0v1.0M107.7,336.8v1.0M120.7,329.7v0.8M127.1,330.1v0.5M115.9,328.8v0.5M108.2,360.3v1.0M111.2,335.5v0.4M115.2,343.6v0.4M116.8,338.8v0.4M114.5,327.5v0.5M108.1,336.3v0.5M116.9,366.4v0.4M110.4,334.7v1.0M107.0,354.5v0.5M128.7,329.0v0.6M110.2,329.2v0.5M105.4,364.3v1.4M121.6,345.4v0.6M122.9,340.7v1.4M119.1,348.2v0.6M118.2,328.8v0.4M122.5,334.2v1.4M122.8,341.3v1.0M118.7,327.7v0.4M120.6,338.9v0.8M118.6,327.4v0.8M106.2,329.5v1.0M114.1,333.8v1.0M106.8,325.5v0.8M116.7,328.2v0.4M110.4,325.5v1.4M111.6,334.9v0.4M126.8,329.4v0.8M110.8,343.7v0.8M115.4,327.1v0.6M107.4,339.1v1.4M123.8,363.2v0.8M122.5,326.3v1.4M118.8,349.1v1.0M107.8,343.6v1.0M127.3,345.4v0.5M115.3,329.0v0.4M115.3,351.1v1.4M117.2,377.7v0.4M112.6,339.6v0.8M127.4,328.2v0.4M115.5,331.2v0.6M117.7,327.7v0.6M110.8,338.8v1.4M108.4,329.9v1.0M108.6,328.5v0.5M122.3,328.2v0.6M114.5,335.2v0.6M126.6,333.8v0.6M108.9,363.4v0.5M113.9,330.1v0.6M129.0,351.6v1.0M109.6,328.2v1.4M123.4,330.0v1.4M115.2,326.3v0.5M107.3,330.7v1.0M110.7,330.5v0.6M121.1,343.6v1.4M126.2,341.6v0.4M105.2,338.1v0.4M124.7,338.8v0.5M116.5,337.3v0.8M105.7,387.0v0.4M114.3,348.5v1.0M111.8,326.9v1.0M120.3,342.9v0.6M119.5,329.3v0.4M119.5,331.9v0.8M112.9,330.1v1.4M128.0,336.4v1.0M125.9,327.0v0.5M113.6,336.4v1.4M114.8,338.6v0.6M124.9,325.5v0.5M105.2,326.2v0.6M111.8,354.6v0.4M117.0,327.9v1.4M108.4,341.8v0.5M115.6,334.3v0.6M114.0,337.6v0.8M113.6,349.2v1.0M127.4,356.0v1.0M118.1,340.5v1.0M110.8,326.8v0.6M125.7,325.5v0.5M121.8,349.7v0.6M112.3,327.7v1.4M107.6,331.8v0.8M115.8,351.0v0.6M121.9,326.9v0.4M113.2,343.4v0.6M123.1,337.7v0.6M108.0,326.4v1.4M106.7,328.6v0.4M105.6,365.6v1.0M109.0,362.9v0.5M127.0,326.9v1.4M115.4,340.3v0.4M127.3,326.1v0.5M113.8,357.9v1.0M125.5,347.2v0.8M124.3,325.3v0.5M121.2,330.8v0.8M127.2,325.8v0.5M121.3,334.5v1.4M117.5,374.9v1.4M121.8,337.6v0.4M112.8,344.5v0.6M118.4,325.7v0.4M116.0,326.7v0.5M111.0,334.4v1.0M125.1,337.8v0.6M117.5,337.2v1.4M109.9,333.9v1.0M113.0,327.3v1.4M125.0,374.3v0.5M112.9,333.1v0.4M117.5,330.7v1.0M114.1,345.3v1.0M121.4,344.5v0.8M125.5,333.1v1.0M112.5,340.8v0.4M125.4,351.3v0.5M110.2,332.3v1.0M107.3,325.3v0.6M114.1,346.7v0.6M112.7,344.7v0.5M108.9,377.2v0.4M115.9,388.0v0.5M127.5,326.9v0.8M117.7,373.7v0.4M106.4,337.0v1.4M113.4,338.5v0.8M126.0,329.8v0.4M113.0,325.6v0.4M113.6,338.7v1.4M117.5,334.7v0.6M106.3,343.6v0.5M128.0,346.1v0.8M115.6,329.4v1.4M117.6,330.2v1.4M116.2,348.6v1.0M118.2,354.3v0.4M117.8,355.2v0.8M113.0,333.3v0.6M115.1,325.3v1.4M117.9,327.3v1.0M125.6,358.1v0.4M128.6,325.7v0.6M105.1,333.9v1.0M107.2,334.5v1.4M121.5,327.0v0.8M118.9,327.1v0.8M127.4,349.7v0.5M112.5,349.7v0.4M121.2,326.8v0.8M107.2,346.4v0.6M125.4,326.6v0.8M116.1,335.1v1.0M125.7,335.8v0.6M118.0,360.2v1.0M108.5,332.4v1.4M110.4,334.3v0.8M116.9,335.7v0.5M109.6,331.8v0.4M106.3,327.2v0.8M120.0,366.1v0.4M114.4,338.6v0.5M105.3,336.7v0.5M123.0,331.7v0.5M113.3,340.1v0.6M109.5,361.1v0.6M122.8,354.0v1.4M111.9,339.7v0.4M105.2,375.4v0.8M122.8,332.0v0.4M127.0,345.7v0.5M118.9,327.9v1.4M120.0,331.0v1.0M116.0,330.5v0.4M106.2,384.1v0.4M117.4,355.2v0.8M124.3,349.2v0.4M111.2,332.8v1.0M124.8,336.4v0.5M107.5,331.3v0.8M121.5,377.7v0.5M128.7,348.2v0.4M106.6,346.6v0.6M128.9,332.9v0.6M115.2,327.3v0.8M109.5,330.8v0.8M109.6,334.5v0.5M112.1,354.3v1.0M110.2,366.7v0.4M107.0,331.0v0.4M125.7,326.6v0.4M109.6,345.0v1.0M117.5,340.2v0.5M111.2,327.7v1.4M115.5,375.8v0.6M109.9,329.2v1.0M143.0,336.9v1.0M143.3,353.3v0.4M146.3,327.7v1.0M130.6,347.0v1.4M140.8,332.7v0.5M135.6,361.0v0.6M133.3,346.9v0.5M140.3,357.2v1.0M147.8,345.1v0.4M147.4,326.9v0.5M140.3,360.6v0.6M149.4,364.0v0.5M145.8,328.8v1.0M132.6,335.7v0.4M138.5,345.7v0.5M141.2,340.2v0.6M143.3,326.1v0.5M150.9,341.7v1.0M151.9,327.5v1.0M137.3,330.6v0.4M151.1,392.0v0.8M135.1,327.9v0.4M132.3,336.5v0.8M133.0,331.2v0.8M147.9,328.5v0.8M129.3,340.3v0.4M139.2,366.6v0.4M134.5,326.0v0.4M147.5,378.6v0.4M146.2,325.8v1.0M141.2,335.5v0.6M131.2,331.6v0.8M131.5,326.1v1.4M142.3,326.0v0.6M132.0,350.2v0.8M152.0,329.7v0.5M134.2,327.4v1.0M147.4,343.9v0.4M152.3,330.1v0.4M131.3,331.8v1.0M148.9,328.4v0.8M147.5,336.8v0.5M133.3,326.0v0.6M135.0,350.6v0.6M140.4,325.8v0.4M142.6,356.0v0.8M140.1,332.9v0.8M133.3,339.1v0.8M129.3,327.8v0.6M136.5,339.8v0.8M150.9,326.8v0.5M141.2,337.4v0.8M134.8,331.6v0.6M150.6,369.6v0.4M143.1,340.8v1.4M136.2,340.5v0.6M132.8,332.5v1.4M140.0,349.8v1.0M135.2,325.7v1.0M140.7,335.8v0.8M140.3,336.8v0.8M130.3,371.9v0.6M137.5,328.7v1.0M142.1,332.3v0.5M131.1,325.7v1.0M131.4,340.7v0.8M139.8,354.0v0.4M137.3,343.3v0.5M133.6,354.4v1.4M152.1,383.3v0.8M137.2,327.7v1.4M137.6,327.2v1.0M139.6,370.2v0.6M133.4,331.7v0.8M146.1,361.3v0.5M150.7,348.5v1.0M142.0,369.1v0.4M136.7,363.0v1.0M146.5,327.7v0.6M144.9,344.9v0.6M151.0,331.1v0.5M132.8,335.8v0.4M147.3,335.6v1.4M136.3,326.7v0.6M130.2,344.6v0.8M148.2,329.0v0.4M145.7,327.4v0.4M142.6,336.6v0.8M132.1,372.3v1.4M137.4,325.9v0.4M144.7,328.0v0.6M139.5,327.2v1.4M144.7,330.8v0.5M135.1,333.7v0.4M147.3,338.7v0.8M142.1,359.0v0.6M130.7,327.8v1.4M135.2,329.3v0.6M129.5,340.8v0.6M135.6,336.7v0.6M136.0,337.6v0.8M147.3,332.4v0.4M146.3,339.9v1.4M151.8,341.8v0.8M136.4,332.6v0.6M150.5,331.5v1.4M146.5,339.1v0.5M150.6,332.4v0.4M133.7,341.3v1.0M141.3,336.9v0.6M148.8,350.1v1.4M133.5,335.3v1.4M148.0,338.2v0.4M136.8,356.4v0.6M140.6,337.5v0.8M136.9,326.5v0.6M152.8,332.5v0.5M144.1,334.5v1.0M135.7,337.1v0.5M133.9,337.3v0.8M139.4,326.2v0.5M149.6,344.7v1.0M132.5,330.0v0.8M139.4,333.9v1.0M149.5,326.2v1.4M132.2,337.9v1.4M137.3,332.0v0.5M151.3,330.9v0.6M141.9,327.3v0.8M138.9,344.9v0.8M143.0,332.2v0.8M139.1,330.8v0.6M133.4,328.5v0.6M134.6,354.6v0.5M140.1,344.5v0.6M131.0,326.4v1.0M147.4,337.7v0.6M140.4,368.3v0.4M131.1,348.9v0.6M136.5,404.2v0.4M134.0,327.4v1.0M134.7,332.7v0.8M151.7,354.2v0.5M133.6,332.7v0.6M143.9,334.4v0.5M145.0,336.1v0.6M149.9,338.9v0.6M148.9,342.0v0.4M134.0,341.9v0.6M130.4,327.9v1.4M133.9,328.5v0.4M134.6,341.2v0.4M152.5,337.7v1.0M140.4,370.2v1.0M129.9,344.0v0.8M150.2,339.0v0.6M151.6,348.8v0.8M151.3,326.1v1.0M129.8,346.4v1.0M141.1,333.1v0.5M144.7,340.4v1.4M139.5,328.3v0.8M149.9,389.2v0.8M131.0,327.3v1.0M142.9,329.2v0.5M138.4,335.7v0.8M151.8,330.8v0.8M137.9,336.3v1.0M143.4,330.1v0.4M151.8,331.8v1.4M140.7,340.7v0.8M136.0,334.3v1.0M150.0,325.8v0.8M143.5,337.3v0.4M150.2,329.3v1.4M151.2,350.1v0.6M151.8,336.5v0.8M133.5,328.5v1.4M139.6,341.0v0.8M137.5,326.9v1.0M147.1,344.1v0.6M147.0,351.5v0.8M133.5,331.7v1.4M134.8,333.8v0.8M138.4,333.9v0.8M139.4,335.4v1.4M140.8,325.4v0.6M147.9,330.7v0.4M131.2,332.2v0.4M141.4,325.9v1.0M136.8,342.6v0.8M142.4,354.0v1.4M141.5,341.9v1.0M139.7,338.0v0.5M150.8,340.1v0.5M131.0,346.9v1.0M139.0,330.5v1.0M142.4,347.0v0.6M130.6,351.4v0.4M141.7,342.8v0.5M129.3,346.0v1.4M137.8,373.6v0.5M133.8,325.8v0.5M133.6,330.1v0.5M137.6,326.6v0.6M139.6,327.1v1.0M149.2,328.2v0.5M142.6,337.2v0.6M132.0,345.6v0.4M136.8,348.5v0.6M131.1,355.2v1.4M152.7,366.3v1.0M146.3,339.2v0.6M148.6,353.4v1.0M135.4,326.6v1.0M147.0,326.4v0.6M150.9,344.4v0.5M134.6,361.1v0.4M146.6,330.2v0.4M152.3,346.1v1.4M141.5,336.1v0.6M141.2,338.2v0.5M148.6,359.6v1.4M131.7,333.4v0.6M135.0,351.0v0.8M138.5,371.5v0.6M142.8,346.4v0.8M143.8,336.9v0.6M140.9,328.0v0.6M145.5,336.6v1.4M141.4,364.9v0.8M133.9,335.3v0.6M139.9,327.8v1.0M148.2,357.5v0.8M137.9,334.8v1.0M137.3,325.4v1.4M135.4,327.0v0.5M142.4,341.6v1.4M146.1,353.9v1.4M149.0,349.9v1.4M149.5,329.4v1.4M139.5,328.3v0.8M130.9,338.2v1.4M132.2,360.2v1.4M146.8,356.0v1.0M152.8,340.5v1.0M135.2,374.8v0.8M149.5,382.2v1.4M131.9,343.7v1.0M141.2,355.4v1.0M137.9,345.8v0.4M131.5,359.0v0.8M136.8,327.5v1.4M150.4,330.5v0.5M144.3,337.6v0.5M132.0,332.4v1.0M152.5,403.2v0.4M149.3,329.1v1.0M135.1,335.4v0.5M148.8,336.6v0.5M131.9,327.0v1.0M130.0,351.2v1.4M143.7,327.1v0.8M130.1,374.5v1.4M130.1,326.8v0.5M147.0,330.8v0.8M140.4,329.0v1.4M144.7,352.4v0.6M150.3,349.3v1.0M143.3,346.8v0.6M135.7,336.8v0.4M138.4,342.6v0.5M134.0,336.5v1.0M130.5,362.7v0.8M150.1,336.8v1.4M139.3,347.0v0.6M137.5,336.0v0.5M146.6,332.6v0.6M132.8,341.0v0.8M141.5,327.1v1.4M132.5,351.4v0.6M137.7,348.0v0.8M151.0,348.4v0.6M132.4,326.2v0.5M145.0,336.1v1.4M138.9,329.8v0.6M135.6,353.6v1.4M150.1,330.8v1.4M138.7,325.3v0.4M142.2,326.1v0.8M144.2,346.5v1.4M130.9,381.8v1.4M132.8,329.8v1.0M146.4,329.0v0.4M151.1,350.1v0.4M132.8,327.6v0.6M131.4,350.0v0.6M147.0,325.9v0.5M141.2,348.2v0.6M145.5,351.1v0.4M132.7,345.8v0.8M146.5,328.0v1.4M129.6,329.9v0.6M145.7,325.4v1.0M137.7,336.9v1.4M146.8,335.0v0.4M133.5,336.2v0.8M129.7,356.4v0.5M150.3,334.9v0.5M131.1,329.1v0.8M139.9,364.9v0.8M144.7,332.0v1.0M133.4,355.0v0.5M147.1,338.7v0.5M148.5,327.7v0.5M133.6,326.8v1.4M147.5,339.8v0.6M144.4,363.5v0.4M129.3,340.9v0.4M135.8,345.7v0.4M150.6,339.5v1.4M150.4,369.7v0.5M148.3,328.3v0.5M146.0,369.2v0.8M139.2,342.3v0.4M131.8,368.4v0.6M142.8,331.5v1.0M131.7,343.2v0.4M142.9,345.2v0.4M143.5,326.5v1.0M152.1,349.2v1.0M141.4,368.4v0.4M143.5,330.0v1.0M142.3,326.2v0.8M132.1,327.0v1.0M147.1,351.9v0.8M130.4,346.1v0.5M129.4,328.6v0.6M151.3,327.3v0.4M131.4,332.1v0.4M151.6,334.7v0.4M133.5,342.0v0.6M132.6,326.6v1.0M141.6,333.9v0.6M152.3,329.9v1.4M150.6,372.0v1.0M132.0,326.5v0.5M151.2,335.6v0.8M142.5,361.6v1.4M149.8,336.0v0.5M148.9,325.9v0.6M135.3,346.4v1.0M137.6,375.5v1.0M149.1,332.3v0.8M137.0,347.6v0.6M145.7,337.9v0.8M145.0,326.8v0.8M146.2,355.8v1.0M135.2,339.5v0.6M151.2,325.5v1.0M131.5,347.9v1.4M137.4,337.0v0.6M145.6,328.4v0.6M140.8,336.3v0.4M139.0,352.7v0.4M139.9,374.9v0.8M142.3,326.4v0.6M141.5,328.2v0.4M139.5,330.3v0.5M132.3,330.2v0.6M143.4,331.6v0.4M136.4,355.3v1.4M142.7,348.5v0.4M147.3,334.0v0.8M134.8,346.4v0.5M131.3,327.5v0.8M129.6,327.9v1.4M135.1,328.6v1.0M151.7,355.6v0.4M136.6,342.8v0.4M150.2,327.0v0.5M139.4,354.3v0.5M142.9,339.7v0.6M137.3,330.3v1.0M151.2,368.4v1.0M143.6,347.1v0.5M132.6,338.5v0.8M132.0,338.3v0.6M137.2,332.3v1.0M139.5,334.8v0.6M137.1,326.3v1.4M145.1,328.8v0.6M147.6,331.6v1.4M146.0,341.9v0.5M140.8,327.5v1.4M138.1,337.2v0.6M131.4,347.9v1.4M131.2,359.9v0.5M132.1,325.5v1.0M133.1,380.3v0.8M129.9,377.5v0.4M138.6,338.1v0.5M149.2,341.6v1.4M147.9,334.3v0.4M136.7,365.6v1.4M147.1,333.1v1.4M130.4,337.6v1.4M149.6,338.8v0.6M138.2,343.5v0.6M132.9,341.4v0.6M147.1,333.2v0.8M132.7,386.4v1.4M132.6,370.1v1.4M142.7,326.7v1.0M150.1,331.3v1.4M137.1,341.9v0.8M132.3,365.2v0.6M141.4,347.3v0.4M139.0,344.8v0.6M151.5,332.1v0.5M140.8,340.4v0.5M139.7,334.9v0.6M131.7,335.1v0.6M130.3,330.3v0.6M140.4,326.4v1.0M151.7,389.9v0.5M138.1,336.4v1.0M145.2,359.8v0.4M129.5,334.4v0.5M139.4,332.4v1.4M152.5,333.9v0.5M140.3,327.9v0.6M132.4,328.1v1.4M130.0,356.9v0.6M129.5,346.5v0.6M136.6,330.7v1.4M143.9,332.5v0.8M137.8,329.2v0.8M143.2,335.4v0.5M152.6,335.3v0.8M135.3,345.5v0.6M147.1,344.7v1.4M141.8,333.1v0.6M147.6,327.9v0.8M151.4,325.5v0.4M145.2,343.0v0.4M132.7,338.6v1.0M132.8,334.0v1.0M140.6,346.5v0.6M143.0,329.0v0.8M129.1,344.2v0.4M138.1,332.1v1.0M142.7,347.7v1.0M130.5,360.6v0.6M146.4,345.4v0.8M143.8,328.7v0.5M146.3,329.1v1.0M152.4,349.9v0.8M152.5,340.9v0.5M134.7,325.9v1.0M144.6,331.5v0.5M137.9,349.5v1.4M146.9,327.0v0.6M150.5,337.1v1.4M138.3,394.8v1.4M151.6,329.7v0.6M137.8,331.9v1.4M130.5,397.5v1.0M141.2,338.2v0.5M150.0,332.9v0.5M147.3,327.4v1.0M139.7,341.5v0.4M147.2,344.6v0.4M142.0,331.5v1.4M152.7,370.8v1.4M138.0,325.7v1.0M145.7,333.8v1.4M150.8,325.4v1.0M142.8,332.2v0.8M143.3,325.4v0.8M152.9,350.0v0.8M149.3,331.2v0.4M148.1,331.0v1.4M133.1,330.7v1.4M136.6,349.9v0.6M130.1,339.0v0.5M149.3,331.4v0.6M151.2,343.9v0.8M146.1,368.1v0.4M150.8,347.5v1.0M136.6,336.4v0.8M151.3,350.3v1.0M145.3,378.2v0.8M149.9,362.1v1.4M133.5,335.6v1.0M143.3,329.7v1.4M133.5,341.8v0.5M140.6,338.3v0.6M138.5,335.0v0.8M144.0,336.0v1.0M133.7,354.9v0.8M142.9,328.6v0.8M148.2,345.6v0.6M140.9,330.6v1.4M135.0,357.8v1.0M150.1,326.4v1.4M151.9,347.4v0.4M149.9,331.4v1.0M131.1,358.0v0.4M148.6,329.9v1.0M145.1,355.6v0.5M139.8,328.0v1.0M143.4,327.2v1.4M150.9,326.2v0.5M145.5,332.9v0.4M132.3,328.3v0.8M137.2,336.5v0.6M137.8,352.7v0.5M153.0,351.4v1.0M150.0,331.5v0.4M132.4,354.1v0.5M143.4,338.1v0.6M149.4,334.4v0.5M138.1,329.9v0.5M141.3,369.7v0.5M137.5,383.7v0.8M141.4,346.9v0.5M139.1,382.7v0.4M144.1,330.8v0.5M143.3,330.6v0.8M131.8,331.4v0.4M151.3,332.8v1.4M139.8,363.6v0.8M147.3,328.7v0.4M136.3,354.4v0.8M146.6,334.1v0.8M151.2,338.2v1.0M136.8,325.6v1.4M129.9,342.0v0.5M144.0,352.7v1.4M145.0,326.8v1.4M131.2,361.8v0.8M140.7,336.4v0.6M148.2,357.1v0.6M150.2,347.3v0.4M151.1,325.8v0.5M144.4,332.0v0.8M149.2,347.2v1.0M131.8,343.6v0.4M142.6,348.1v1.4M144.8,328.7v1.4M131.7,327.6v1.4M144.8,389.4v0.8M145.4,337.5v1.4M131.0,332.7v0.6M130.8,342.3v1.0M140.4,326.9v0.5M139.5,346.0v1.0M144.4,328.8v1.0M138.4,348.0v0.8M149.1,340.6v0.6M138.3,356.6v1.0M141.3,334.2v0.8M146.1,333.4v0.8M131.0,353.3v0.5M148.0,327.7v0.6M141.5,347.5v0.6M153.0,338.6v0.5M145.8,335.9v0.4M143.6,347.9v0.5M142.3,339.7v0.6M130.8,333.9v0.6M145.7,328.4v0.6M133.2,332.1v1.4M129.6,344.0v1.0M151.1,391.6v0.8M136.6,347.7v0.8M149.7,348.2v1.4M142.5,347.1v0.5M146.6,327.8v1.4M150.7,331.2v1.0M131.1,346.5v1.4M137.9,335.0v0.8M132.1,328.4v0.5M152.9,328.3v1.0M149.1,335.8v1.4M142.1,343.6v0.6M151.6,348.9v0.6M132.3,339.7v1.4M140.6,360.9v1.0M152.2,333.3v0.8M135.7,331.6v0.6M131.4,360.6v1.0M129.2,343.1v1.4M139.7,326.9v1.0M131.1,325.5v0.5M132.5,326.3v0.4M134.5,329.1v0.5M129.3,330.6v0.6M140.2,328.3v0.5M135.8,332.2v0.5M147.2,330.1v0.5M130.3,332.1v0.5M149.4,335.3v0.4M133.4,358.4v0.5M131.3,338.1v0.8M148.5,328.8v0.4M136.6,326.5v1.4M147.1,333.1v1.4M146.4,329.6v0.8M137.2,344.0v0.8M141.2,334.9v1.4M136.9,344.1v0.5M139.1,337.1v0.8M150.9,333.7v0.5M135.2,345.4v0.8M149.6,370.3v0.8M140.0,359.2v1.0M141.1,338.3v1.0M141.8,326.1v0.5M131.5,360.1v1.4M140.2,330.7v1.4M148.9,348.1v0.8M131.6,329.3v0.6M146.8,362.0v0.4M142.8,340.8v0.6M130.6,332.7v0.4M140.5,326.4v0.6M139.4,333.1v0.4M148.9,327.4v0.5M139.0,356.1v1.0M137.3,343.3v0.6M137.3,366.4v0.8M137.0,335.2v1.4M137.8,343.4v1.0M139.7,407.0v1.0M151.9,338.6v1.0M131.1,352.6v0.5M142.6,340.6v1.4M144.4,341.9v0.5M141.7,331.4v1.4M131.9,348.9v0.6M151.9,362.9v0.8M143.4,330.9v0.5M148.9,339.6v0.5M129.5,333.4v1.0M143.8,330.8v0.8M138.9,327.2v0.8M140.2,334.5v0.4M146.2,335.6v0.8M136.7,335.4v0.5M146.8,330.9v0.8M131.2,330.8v0.6M134.6,353.7v0.6M135.6,347.0v0.4M145.0,326.1v1.0M141.4,327.0v0.4M137.4,336.1v0.5M150.7,326.6v0.4M129.2,333.5v0.5M149.1,335.1v0.8M136.9,325.5v0.5M150.1,325.9v1.4M131.7,383.3v0.5M149.6,337.7v0.4M145.8,333.6v0.8M131.8,327.0v1.4M150.5,331.7v0.5M135.4,349.5v0.5M139.6,328.8v1.4M147.3,326.4v0.4M143.0,326.6v1.0M139.3,326.2v1.0M134.8,338.5v1.4M147.0,343.6v0.6M151.1,332.8v1.4M150.5,392.7v0.5M144.5,328.3v0.6M135.0,381.3v0.6M139.1,340.9v0.6M141.2,332.3v0.6M148.8,370.3v0.5M139.5,342.8v1.0M148.4,337.2v0.6M141.9,329.6v0.8M147.0,331.3v1.0M140.2,375.6v1.0M139.4,329.4v0.8M141.4,348.0v0.8M152.5,327.0v0.4M144.6,331.7v0.8M137.0,345.5v1.4M142.8,344.3v0.5M136.6,334.7v0.8M147.5,337.1v1.4M129.5,338.1v1.0M130.0,357.6v0.6M149.6,333.6v0.8M137.7,329.1v1.0M152.8,347.2v1.4M141.9,372.1v0.8M151.4,394.6v1.0M141.5,345.8v0.5M147.3,329.5v0.6M135.7,337.2v0.4M149.2,337.0v0.6M148.8,328.5v0.8M130.7,329.4v0.8M131.1,330.8v1.4M143.1,327.7v1.4M136.2,348.6v0.4M152.3,337.9v1.4M140.6,329.4v0.8M131.5,357.8v1.4M134.2,378.9v0.8M131.6,329.4v0.8M133.6,329.7v0.5M135.9,325.7v0.8M143.7,333.6v0.6M138.6,335.7v0.4M149.7,332.5v0.8M137.9,337.6v0.8M148.3,344.0v0.8M151.0,329.4v0.5M138.6,347.0v0.5M146.1,329.2v0.8M130.3,341.4v1.4M148.2,348.0v0.8M130.4,339.7v0.8M137.9,338.4v0.6M138.9,327.3v1.4M132.7,358.1v0.5M134.9,354.9v0.5M129.7,366.5v0.8M139.1,334.4v0.6M144.3,329.1v0.4M149.0,365.6v0.8M133.3,347.9v1.0M129.5,337.4v0.5M139.0,350.8v0.4M147.9,358.0v0.5M140.7,344.6v0.4M146.0,338.3v0.5M144.6,333.8v1.0M143.1,329.2v1.0M130.0,343.4v1.4M130.0,327.2v0.5M146.2,336.1v0.6M150.2,340.2v0.4M131.8,339.0v0.8M148.9,338.0v0.5M143.5,327.1v0.8M150.5,336.9v0.6M145.6,338.5v0.8M147.5,329.5v1.4M143.7,343.5v0.6M132.3,337.0v0.5M150.2,333.7v0.5M143.3,343.2v0.5M146.2,332.0v1.4M138.5,333.3v0.6M142.9,339.4v0.8M135.1,330.9v1.4M150.9,325.5v0.4M143.3,331.8v1.4M146.8,327.1v0.6M149.8,326.7v0.8M140.4,326.4v0.8M131.2,362.8v1.0M145.2,334.7v0.6M137.4,374.7v0.6M132.2,340.5v0.8M140.0,350.2v0.8M137.2,330.3v1.0M150.0,330.1v0.4M142.7,331.0v0.8M152.0,377.5v0.8M141.5,343.2v1.4M136.1,344.8v0.4M135.3,328.6v0.6M151.4,363.9v1.0M129.1,325.4v0.4M133.4,333.9v0.6M143.9,337.6v0.8M152.3,352.0v0.8M137.8,337.7v0.4M133.0,329.3v1.0M133.6,357.1v0.8M148.0,344.4v0.5M143.4,354.3v1.0M138.1,327.7v0.8M137.1,342.0v1.4M139.2,328.6v0.8M137.4,329.5v1.0M130.0,331.6v0.4M137.9,333.8v1.0M152.5,338.4v1.4M141.5,336.7v0.5M145.7,327.5v0.4M130.0,333.8v0.4M134.8,336.4v0.4M139.3,350.4v0.4M150.2,349.0v0.8M137.9,329.3v0.8M131.9,329.8v0.4M149.4,331.0v1.4M147.8,383.7v0.4M134.4,331.6v1.0M143.9,361.0v0.6M137.3,351.2v1.0M130.7,326.2v1.0M143.1,351.5v1.0M129.1,330.6v1.0M137.2,348.4v0.5M137.1,340.9v1.0M160.8,332.5v1.4M167.7,330.7v0.5M171.2,337.0v0.6M167.1,390.5v0.8M163.1,391.7v0.5M160.0,349.9v0.6M168.7,336.1v1.4M170.7,329.3v1.4M159.4,325.9v0.8M153.5,327.8v0.4M159.3,346.2v1.4M161.6,327.9v1.0M165.5,348.5v0.5M173.7,340.3v1.4M162.5,326.9v0.8M167.5,357.2v0.8M166.7,332.9v0.5M163.6,330.4v0.5M155.4,332.7v0.8M161.8,333.2v1.4M160.8,357.7v1.4M156.5,335.1v0.4M175.7,327.0v1.0M160.9,342.1v0.8M160.5,339.9v1.0M160.8,340.5v0.8M173.9,332.2v1.4M165.4,342.3v0.8M164.1,334.1v0.4M153.3,333.0v0.4M165.0,343.9v0.8M163.9,340.0v0.5M158.2,344.8v1.0M161.8,333.1v0.5M154.5,331.7v0.8M165.9,334.7v1.4M167.3,330.3v0.8M173.7,329.9v0.4M155.5,343.1v1.4M159.8,336.1v0.6M164.8,334.5v1.0M158.2,344.1v0.8M164.9,347.4v0.6M159.2,328.5v0.8M167.5,326.0v1.0M156.6,372.3v0.8M160.5,352.6v0.4M153.1,340.9v1.4M174.7,349.3v0.6M160.9,362.0v0.4M155.8,395.9v1.4M163.0,333.9v1.0M170.7,336.8v0.6M158.3,372.4v0.6M163.3,358.7v0.8M160.0,337.0v0.6M169.7,333.5v1.0M172.5,328.4v0.4M158.6,355.8v0.6M168.0,330.4v0.6M157.7,333.7v0.4M171.4,356.3v0.6M157.3,334.3v1.4M158.3,327.3v0.4M163.4,337.5v0.6M173.2,333.5v1.0M170.1,331.2v0.6M169.3,326.5v0.5M163.3,325.3v0.5M154.9,333.0v0.4M166.6,344.9v0.8M166.9,333.8v1.0M175.5,331.1v1.0M168.6,327.3v1.0M170.9,326.1v1.0M155.2,331.8v0.4M167.2,345.6v1.0M159.3,334.9v0.4M158.0,339.2v1.4M158.3,330.1v1.4M171.2,346.9v1.4M156.4,344.9v0.6M154.7,363.1v0.4M156.4,331.7v0.6M159.7,350.1v0.5M158.3,367.2v0.8M172.5,344.7v0.8M157.0,332.5v1.0M165.1,371.5v0.6M159.7,328.4v0.4M155.7,325.9v1.0M156.1,335.9v0.4M161.4,360.4v0.4M174.9,326.5v0.5M175.4,361.5v0.5M159.7,337.2v0.8M165.2,361.4v1.4M163.7,354.1v1.4M163.6,351.0v0.6M165.4,350.2v1.4M153.4,347.5v0.5M162.0,329.1v0.5M171.3,377.3v0.5M169.0,329.7v0.6M167.2,332.2v1.4M167.2,326.3v0.8M163.5,336.1v0.5M161.0,335.9v0.6M166.2,329.0v0.8M166.5,327.4v0.4M154.9,364.1v0.8M157.1,330.3v0.5M156.3,342.5v0.8M158.6,326.3v0.6M168.7,326.5v0.5M173.4,331.2v1.0M168.0,345.6v0.4M154.4,370.6v1.0M162.0,327.8v0.5M174.9,345.9v0.5M157.5,342.3v1.0M172.7,348.1v0.5M153.0,336.9v1.0M159.3,333.1v1.4M155.9,328.0v0.4M169.1,361.8v1.4M174.7,325.8v0.4M153.9,325.6v0.8M153.9,375.7v0.6M170.3,327.4v0.5M163.1,334.5v0.4M162.4,328.5v0.5M162.5,339.0v0.4M161.7,325.8v1.4M172.7,333.6v0.5M172.6,345.2v1.0M172.5,325.4v1.0M157.1,360.5v0.8M157.4,347.3v1.0M166.2,379.2v0.8M168.1,364.1v1.4M167.7,331.3v0.4M172.2,340.7v0.5M170.4,331.4v0.6M154.0,330.8v0.5M164.0,333.1v0.6M155.9,338.7v0.8M154.5,342.6v0.6M165.6,348.1v1.0M167.5,363.1v0.4M164.8,334.3v0.4M173.4,342.0v0.4M173.5,333.5v0.6M154.1,328.1v0.6M156.8,329.7v1.4M169.9,341.1v0.5M172.6,337.0v1.0M157.3,326.6v0.4M160.3,330.3v0.4M169.6,344.8v0.8M153.7,360.7v0.8M157.8,372.7v0.4M154.1,370.9v0.6M173.4,339.2v0.4M169.4,333.3v0.5M168.0,327.4v1.0M171.0,334.5v1.0M175.3,328.5v0.5M160.6,368.1v1.4M157.1,325.6v0.8M166.9,326.9v1.4M157.0,328.9v1.4M166.4,355.3v0.8M170.0,345.3v0.6M168.4,331.5v0.6M168.7,329.1v0.8M171.4,348.7v0.4M171.8,342.8v1.4M175.6,330.3v1.0M174.6,331.3v1.0M155.5,332.9v1.0M162.9,330.9v1.4M172.1,328.5v0.5M163.7,330.2v1.4M153.2,325.6v1.4M154.7,325.6v0.6M170.4,326.5v0.4M160.5,327.7v1.4M158.6,369.8v1.0M165.0,330.0v1.0M163.3,341.8v0.5M171.6,327.5v1.0M169.7,325.9v1.0M175.8,330.7v0.8M165.1,331.1v1.0M158.1,336.0v0.8M157.0,329.5v0.8M165.7,349.9v1.0M157.0,342.0v1.0M162.3,346.1v0.4M164.0,333.7v0.8M171.8,330.8v0.6M157.6,339.2v1.4M159.9,327.1v0.4M169.1,339.7v1.0M153.3,331.4v1.4M167.5,328.1v0.4M159.0,328.0v1.4M169.0,356.3v0.6M160.5,340.1v0.4M155.4,375.3v0.8M157.2,332.2v0.5M170.6,328.8v0.5M160.5,329.7v0.6M169.4,329.2v1.0M173.8,365.2v0.5M165.5,370.4v1.4M168.0,338.0v0.4M173.9,337.0v0.6M156.8,360.1v0.8M171.4,327.3v0.6M153.2,334.9v1.4M161.9,326.7v0.4M172.6,334.1v0.8M169.3,327.5v1.0M169.5,336.6v0.5M170.0,378.7v0.6M163.8,331.2v0.4M163.0,333.5v0.5M156.3,329.7v0.8M162.6,332.7v0.4M171.8,331.1v0.8M164.0,361.5v0.8M164.3,325.6v1.0M161.3,349.1v0.8M170.4,337.2v0.5M166.9,328.0v0.4M173.7,326.5v0.6M172.4,349.5v0.6M163.1,326.4v0.5M156.2,336.8v0.4M163.3,325.2v1.0M160.3,341.5v0.6M168.8,332.8v0.5M173.4,336.9v0.5M156.7,341.0v0.5M158.7,358.9v0.5M168.8,336.9v0.5M165.5,340.7v0.8M153.8,334.2v0.8M159.1,333.6v0.4M160.4,335.2v0.6M154.1,335.3v1.0M170.0,349.8v1.0M160.4,326.1v0.5M165.0,333.4v1.0M156.8,326.7v0.8M168.5,338.8v0.6M157.9,325.9v0.6M169.3,329.9v1.0M173.4,335.1v0.8M158.7,329.2v0.5M153.8,349.7v0.6M162.7,373.9v1.4M169.2,329.1v0.4M157.7,337.1v0.5M174.9,329.4v0.6M171.2,339.3v1.4M174.5,331.9v0.5M171.4,360.3v0.5M170.0,337.4v0.8M173.0,328.6v0.5M166.1,349.5v0.8M169.5,332.6v1.0M164.9,350.8v0.6M161.4,342.6v1.4M158.5,334.9v0.6M169.3,325.3v0.5M171.7,329.9v0.5M154.8,338.8v0.8M163.2,359.1v1.4M171.6,332.6v1.0M174.5,330.6v0.4M172.8,363.7v0.6M159.7,327.7v1.4M174.3,335.6v0.8M172.2,368.0v1.0M175.6,342.2v1.4M175.9,332.6v0.4M170.4,325.5v1.4M158.1,343.9v0.4M157.2,333.7v1.4M159.4,360.2v1.4M163.7,333.0v1.0M168.7,365.6v0.6M158.6,327.2v1.0M160.8,370.1v0.6M170.0,328.3v1.0M161.1,351.9v0.4M160.0,347.5v0.8M173.5,338.7v0.5M160.8,326.0v1.0M174.3,326.8v0.5M157.0,351.2v1.0M169.9,344.4v0.4M159.9,383.5v0.5M154.8,385.4v0.4M165.6,339.5v1.4M163.0,327.7v0.8M161.7,330.6v0.6M161.1,326.4v0.5M168.6,334.4v1.4M171.0,337.7v0.6M175.2,326.7v0.6M169.2,325.8v1.0M156.8,328.6v0.5M160.3,325.5v1.0M162.8,328.7v1.0M171.7,369.9v0.5M169.0,355.4v0.6M157.4,335.9v1.4M173.2,327.7v0.4M171.5,327.1v0.6M162.5,341.7v0.8M156.3,329.7v0.6M158.7,332.8v0.6M171.3,343.1v0.8M170.0,344.2v1.0M168.5,332.6v0.8M159.7,333.6v0.8M159.6,334.6v0.5M164.4,338.0v1.4M163.5,325.5v0.8M170.3,341.6v0.6M155.1,357.7v0.5M158.0,336.9v0.4M171.7,332.3v0.8M168.8,353.2v0.5M167.2,334.9v0.4M171.5,328.9v1.0M156.8,335.8v0.4M155.1,338.8v1.0M182.7,327.2v1.4M183.5,333.2v1.0M189.3,327.4v0.4M189.2,330.1v0.4M183.2,341.9v1.4M192.3,342.9v0.5M188.6,343.8v0.4M196.8,334.1v0.5M185.1,375.1v1.4M188.1,331.4v1.0M196.0,326.2v1.0M186.3,337.2v1.4M194.3,326.4v1.4M181.4,353.5v0.5M176.7,335.8v0.5M193.7,398.7v0.8M176.3,344.5v0.8M195.9,349.8v1.4M181.8,328.0v1.0M196.5,329.8v0.5M177.6,331.0v0.5M189.2,336.3v0.4M180.4,367.9v0.5M181.9,343.5v1.4M190.5,325.8v0.4M189.3,387.1v0.8M182.8,351.7v0.8M186.8,326.0v1.4M189.4,340.7v0.8M191.6,329.4v1.0M185.6,332.3v0.5M187.0,345.2v0.4M190.6,353.5v1.4M183.9,356.0v0.6M195.2,406.4v0.4M191.2,350.0v1.4M188.5,326.8v1.0M184.9,337.9v0.4M186.0,334.7v0.6M181.1,339.2v0.6M178.3,330.2v1.0M178.3,339.4v0.4M182.9,347.8v1.0M182.0,354.0v0.5M185.4,351.8v0.4M188.9,337.0v0.8M178.5,344.2v1.4M190.8,367.8v0.6M178.6,326.1v0.8M181.8,375.1v0.5M178.5,332.5v1.4M189.9,333.4v1.0M178.3,328.8v0.5M189.7,332.1v0.5M186.5,330.0v0.6M178.4,326.3v0.5M180.8,361.7v0.5M182.1,332.5v0.6M191.5,334.3v0.6M180.0,336.6v0.6M177.9,357.6v0.6M185.2,334.3v0.5M187.4,356.7v0.6M178.7,340.2v1.4M188.0,332.4v0.5M190.3,325.6v1.4M176.0,336.3v0.5M182.8,342.7v0.4M179.5,358.8v0.4M179.4,370.3v1.4M182.5,381.5v0.8M187.0,327.2v0.4M194.3,331.5v0.5M194.3,334.7v0.8M190.9,335.1v0.6M182.4,357.2v0.4M177.8,333.0v0.4M196.5,339.2v1.4M180.0,328.9v0.5M176.2,352.3v0.4M178.9,342.4v1.4M193.7,330.6v1.0M192.9,386.4v0.6M178.5,332.8v0.4M180.8,365.1v0.6M195.0,345.9v1.4M194.6,337.4v0.8M196.2,329.9v1.4M191.4,356.4v0.4M183.6,348.5v0.4M191.4,364.5v0.6M186.7,336.1v0.8M195.0,337.5v1.4M189.0,331.3v1.0M192.7,338.7v0.5M191.8,329.1v1.4M194.2,328.3v0.5M180.0,338.0v0.6M179.3,406.4v0.6M186.4,336.3v0.8M186.4,331.8v0.4M189.8,326.0v0.5M195.5,345.8v0.5M185.6,334.0v0.8M183.3,337.9v0.6M187.3,333.4v0.5M192.8,376.8v0.8M180.1,357.5v0.6M194.3,326.3v0.5M190.2,336.4v0.8M179.1,345.3v0.5M184.5,336.5v0.5M190.6,337.7v0.8M184.8,341.1v1.4M190.4,330.8v0.5M178.6,349.0v0.8M179.0,367.2v1.4M193.1,351.6v0.5M186.4,352.0v0.8M191.1,335.4v0.8M187.7,397.7v1.4M178.4,359.0v0.5M191.0,326.9v0.4M183.5,331.9v0.6M190.6,332.6v0.5M186.1,328.3v1.0M191.4,353.9v0.6M191.0,332.2v1.0M179.5,375.7v0.4M193.2,357.7v1.0M186.8,325.5v0.6M185.9,331.0v0.5M182.7,345.1v0.4M194.5,329.9v1.0M193.9,341.5v0.4M187.6,337.8v0.6M186.2,330.3v1.0M180.7,336.4v0.4M189.2,329.1v0.4M183.1,329.0v1.4M196.9,346.8v1.0M179.1,331.2v0.6M185.1,328.8v0.8M189.6,329.8v0.4M179.8,330.7v0.6M193.2,343.0v0.5M184.4,339.9v0.6M177.0,343.2v0.8M188.1,340.7v0.4M189.6,336.9v1.4M186.5,328.0v1.0M189.3,364.9v0.6M183.4,348.4v0.6M188.4,337.8v0.8M196.0,352.3v1.0M185.3,327.0v0.6M184.9,339.3v1.4M178.2,328.8v0.4M183.6,334.6v0.5M192.8,339.3v1.4M191.2,349.1v0.4M190.9,339.7v1.0M182.7,331.3v0.5M193.9,337.0v1.0M184.3,347.5v1.0M191.8,328.0v1.4M180.5,344.6v0.4M181.1,356.7v1.0M190.2,379.4v1.4M178.2,341.7v1.0M176.3,346.1v0.4M186.4,326.5v0.4M182.7,328.6v0.4M176.8,332.4v0.4M178.6,328.7v0.6M196.9,327.7v1.0M190.4,349.5v0.8M188.2,333.0v0.4M182.2,355.3v1.4M192.3,329.6v1.0M186.3,328.2v0.8M185.5,327.6v0.4M190.3,326.2v0.4M195.8,348.5v0.6M178.1,326.2v1.0M180.7,333.7v1.0M188.4,330.2v0.5M188.2,334.1v0.8M188.1,335.2v0.5M194.8,325.6v0.8M188.0,336.4v0.4M180.4,366.6v0.8M179.9,333.0v0.5M182.2,331.0v0.6M189.3,331.3v0.8M188.9,341.7v0.4M185.4,327.6v1.4M177.1,328.4v1.4M190.5,331.7v0.4M188.3,325.9v0.8M188.0,331.9v0.5M185.7,333.8v0.5M180.7,342.8v0.6M194.4,365.4v0.8M186.2,357.4v0.8M180.9,335.2v0.8M186.2,335.2v0.8M180.2,326.4v1.0M192.8,337.2v0.4M190.0,327.1v0.4M185.9,334.1v0.5M188.5,391.2v0.8M178.3,342.7v0.4M181.5,336.0v0.8M178.7,332.7v0.4M196.9,354.2v1.0M182.0,371.8v0.6M184.0,329.6v0.4M190.3,342.3v0.6M181.6,345.5v0.4M188.8,336.8v0.8M176.4,329.9v1.0M196.3,325.4v0.5M190.8,333.4v0.6M193.7,327.9v0.8M182.2,354.8v0.5M195.5,339.1v1.0M178.9,351.4v1.0M175.9,328.0v0.8M186.7,328.5v0.4M177.4,354.0v0.5M182.3,394.5v1.4M179.9,332.5v1.4M179.8,371.6v0.6M190.7,330.0v0.4M195.3,349.5v0.8M193.5,332.8v0.4M181.6,327.6v1.0M192.5,334.8v1.0M191.9,347.6v1.4M181.3,344.6v1.4M194.5,326.1v0.4M181.3,339.1v0.8M182.0,332.7v1.4M179.5,333.7v0.4M180.0,350.0v0.6M187.9,328.4v0.8M190.5,332.8v1.4M188.7,359.6v0.8M182.8,328.7v1.0M185.6,338.7v1.4M177.8,337.1v0.6M177.5,348.5v1.0M180.5,352.3v0.5M190.0,353.7v0.5M179.3,329.9v0.8M192.2,325.9v1.4M194.4,342.2v0.5M194.8,335.5v0.5M195.8,364.6v0.8M195.6,333.4v0.4M178.3,327.5v0.4M192.1,371.2v1.4M186.6,355.6v1.4M190.9,332.5v0.5M192.7,326.9v1.0M185.8,358.3v0.6M190.8,345.1v0.4M185.7,345.1v0.5M194.2,338.5v1.4M194.1,337.4v0.5M185.9,342.0v0.6M177.2,372.7v1.0M178.3,343.9v0.6M180.9,326.2v1.4M193.0,346.2v0.5M196.2,326.8v0.4M184.7,337.9v0.5M176.2,327.2v0.8M195.9,343.6v0.6M184.5,331.4v0.4M188.5,330.4v1.0M192.2,380.8v1.0M183.2,401.5v1.4M188.6,343.3v1.4M183.7,333.7v0.5M190.9,343.7v0.4M194.5,325.6v1.0M191.8,332.2v0.8M193.9,363.2v0.5M194.3,328.6v1.0M186.3,327.0v0.6M185.6,334.1v0.6M182.1,328.9v0.5M181.7,331.3v1.0M182.6,325.5v1.4M177.2,333.7v0.4M190.8,353.8v0.5M181.4,332.8v1.4M178.1,331.4v1.0M181.0,355.5v0.8M191.2,326.6v1.4M180.2,353.1v0.6M178.5,361.5v1.4M180.0,363.5v1.0M195.9,331.2v0.8M190.9,335.5v0.6M192.8,327.9v0.5M188.4,325.5v1.0M189.9,336.9v0.8M177.4,351.4v1.4M179.6,332.7v1.0M190.4,350.6v0.5M183.0,350.5v0.6M192.6,344.2v1.4M185.3,334.5v1.4M195.9,341.0v0.5M180.0,330.4v1.4M194.0,347.9v0.4M194.0,339.4v1.4M186.3,332.3v0.8M176.5,327.8v0.6M196.2,333.0v0.4M191.4,332.4v0.4M183.1,335.5v0.5M185.7,326.8v1.0M185.0,345.0v0.4M194.6,353.4v1.0M185.7,336.2v1.4M188.3,325.7v0.5M195.4,332.4v0.8M188.6,329.0v0.8M180.6,332.6v0.5M180.5,353.1v1.0M177.0,347.1v1.0M182.9,344.4v0.8M187.3,327.8v1.0M184.3,366.8v1.0M195.7,361.5v1.0M179.7,332.5v0.5M189.6,325.6v0.6M182.4,342.3v1.0M178.7,335.4v0.6M178.8,336.5v0.4M178.7,331.5v0.4M177.2,329.8v0.6M187.0,328.0v0.4M176.8,327.7v1.4M192.5,328.3v0.4M189.6,332.1v0.6M185.8,345.8v1.4M189.6,340.5v1.4M183.2,339.7v0.4M177.8,342.8v0.5M183.1,339.5v0.8M187.1,354.3v1.4M194.7,330.9v0.6M195.8,328.4v0.4M182.6,368.9v0.6M185.7,332.2v0.4M178.6,335.2v0.5M184.4,346.7v1.4M180.6,335.4v1.0M193.1,340.5v1.4M196.8,351.7v0.8M177.6,350.7v0.4M196.6,328.3v0.8M187.6,329.7v0.4M194.5,334.8v1.4M189.1,333.4v0.5M192.2,329.4v0.4M190.5,347.3v0.5M177.2,331.6v0.8M187.6,357.2v0.5M185.0,338.2v0.6M177.4,359.8v0.6M180.8,344.7v0.5M191.6,333.6v0.6M181.8,337.7v0.4M191.4,329.9v0.4M184.4,330.1v0.8M183.7,346.3v0.6M178.0,336.9v0.4M189.1,330.6v0.8M195.7,325.8v1.4M190.0,325.7v0.6M188.6,329.0v0.6M184.5,339.1v1.0M182.5,328.8v0.6M179.6,326.3v0.6M184.8,327.2v0.6M181.4,326.7v0.8M185.9,351.5v0.6M196.6,335.2v0.4M191.8,339.6v1.0M196.3,335.7v0.8M182.6,325.4v0.8M195.3,337.0v0.5M195.3,340.0v0.4M190.9,325.8v0.8M191.4,327.9v0.5M190.7,344.2v0.8M187.4,344.5v1.4M187.8,386.1v0.6M177.6,351.7v0.4M192.2,327.3v0.6M179.4,376.9v1.0M186.3,355.4v0.6M189.0,360.0v0.4M182.8,327.4v0.4M195.4,327.7v0.4M180.4,328.4v0.8M193.1,333.7v0.8M176.1,326.3v1.4M179.5,344.4v0.5M184.6,345.2v0.4M195.8,337.4v1.4M194.3,352.8v0.5M196.2,359.4v0.8M184.8,359.8v0.6M177.8,326.6v1.0M183.7,349.2v1.0M190.6,344.8v0.5M193.0,335.6v0.8M179.9,339.6v0.4M196.8,360.0v0.6M177.5,345.9v0.8M188.2,328.8v1.0M188.6,328.8v0.4M188.2,360.6v0.8M176.8,348.3v0.4M181.4,334.8v1.4M182.4,394.7v0.8M191.4,337.5v0.4M176.4,330.4v1.0M185.2,333.7v1.0M193.2,326.4v0.5M176.6,325.3v0.5M177.5,326.0v0.8M195.8,329.4v0.8M185.8,347.3v0.4M191.7,330.7v0.6M184.2,327.2v0.5M195.9,326.6v0.8M188.4,329.1v1.4M193.4,335.1v0.8M189.4,404.0v0.5M186.2,357.6v1.0M183.6,328.3v0.8M186.2,352.5v0.8M177.8,332.1v1.4M189.9,359.2v0.5M184.0,337.0v0.6M196.9,336.2v0.6M193.0,343.7v0.8M186.9,367.6v0.5M195.8,326.2v0.6M183.4,329.8v1.0M195.4,352.6v0.5M188.2,344.1v1.4M180.6,331.9v0.6M184.0,344.3v0.5M189.3,333.5v0.5M191.6,349.0v0.6M192.6,325.2v1.4M178.4,344.0v1.0M177.8,330.0v0.4M180.6,338.7v1.4M196.1,338.4v0.4M190.6,332.4v0.6M178.0,397.3v0.8M184.7,326.7v0.6M185.7,349.1v0.6M193.8,330.8v0.4M185.0,367.1v1.4M195.1,333.4v0.4M194.2,329.0v1.4M185.1,326.6v1.0M187.2,354.5v0.5M180.8,326.2v0.4M183.8,326.0v0.6M185.5,363.0v0.4M182.0,375.4v0.6M191.7,329.5v0.8M190.9,331.4v0.4M184.8,341.8v0.5M183.9,343.8v0.4M187.1,326.9v1.0M179.7,342.2v0.5M178.4,339.2v1.4M196.8,345.7v1.4M190.5,334.6v1.4M193.8,330.4v0.8M184.6,379.7v1.0M178.0,361.6v0.4M181.9,329.0v0.6M194.3,335.9v1.0M181.7,335.5v0.6M177.8,328.8v1.0M182.5,368.0v0.8M195.6,380.0v1.4M179.5,329.8v1.4M192.0,336.6v1.4M192.3,335.1v0.4M177.5,349.1v1.0M178.6,354.2v0.5M182.7,326.2v0.8M177.0,327.8v0.4M185.4,348.1v1.0M188.5,406.5v0.6M190.8,336.8v0.6M186.3,379.3v1.0M187.1,343.8v1.4M177.9,326.4v0.8M182.2,336.2v1.4M181.1,386.9v0.6M187.3,326.9v0.4M195.3,355.0v0.5M182.8,327.7v0.5M189.8,331.0v0.4M188.4,329.3v0.4M196.0,348.7v0.8M183.8,337.8v0.5M190.3,340.4v0.6M178.9,330.4v0.8M194.5,333.6v1.0M193.5,327.4v1.4M181.8,333.8v0.8M177.8,339.4v0.8M195.4,333.9v1.4M191.9,349.8v0.4M192.9,346.9v1.4M177.0,330.5v0.6M185.5,329.9v0.5M183.7,326.9v0.8M184.7,330.4v0.6M195.9,327.1v0.5M191.0,338.8v1.4M184.0,333.4v0.4M187.2,325.3v1.0M183.1,327.9v0.5M186.1,347.9v1.4M186.8,342.6v0.4M189.0,334.1v0.6M193.3,325.7v0.5M193.2,344.2v0.8M192.4,334.2v0.6M193.2,330.5v1.0M196.6,342.8v0.8M178.5,361.7v0.5M191.1,325.5v0.4M178.8,337.4v0.8M195.4,336.1v0.4M183.3,334.1v1.4M187.0,326.8v1.4M176.8,329.7v0.8M178.1,337.8v1.4M183.0,332.0v0.4M194.2,337.8v0.6M195.9,331.1v1.0M196.2,338.1v1.0M192.7,336.5v0.4M176.2,339.8v1.0M192.8,325.9v0.8M185.9,328.8v0.6M184.3,349.8v1.4M181.7,326.2v0.6M196.9,330.1v0.6M187.0,360.9v0.6M191.3,330.7v0.6M177.5,329.4v0.5M190.3,351.8v0.4M186.9,341.3v0.5M190.8,325.8v0.5M184.2,337.7v1.0M186.4,342.1v0.6M188.6,344.3v0.6M185.6,328.2v0.5M181.5,326.9v0.4M188.6,343.1v1.4M183.7,326.6v1.0M176.7,344.2v0.8M193.1,368.2v0.4M195.8,333.5v0.5M177.9,333.0v0.5M184.0,379.0v1.4M191.9,327.7v0.5M185.9,350.5v0.4M176.7,327.3v0.8M177.4,347.7v0.5M189.1,335.2v0.8M190.0,336.4v0.4M183.4,336.7v0.6M183.4,380.3v1.0M190.5,327.7v0.5M189.4,326.7v0.5M188.8,377.3v0.5M194.5,406.1v0.5M187.6,353.8v0.4M187.5,327.8v1.0M192.4,325.9v0.5M196.9,328.0v0.6M182.3,348.6v1.0M187.6,332.1v1.0M189.5,337.1v1.4M188.5,345.4v1.0M183.0,331.1v1.4M177.0,395.2v0.4M185.8,367.3v1.4M193.5,326.2v0.4M184.9,327.5v0.4M193.0,333.6v1.0M192.3,330.8v0.6M189.3,352.5v0.5M192.0,335.7v0.6M182.7,366.7v0.5M189.4,334.8v0.8M192.1,327.4v1.0M179.4,348.9v0.5M190.8,355.7v0.5M186.6,337.9v0.5M192.2,348.2v0.8M191.2,329.8v0.8M176.7,340.7v0.8M176.3,343.9v0.5M185.9,336.8v0.6M196.3,332.4v1.4M181.8,332.5v0.4M181.1,347.6v0.5M196.8,326.1v0.6M179.7,333.7v0.8M185.8,353.5v1.0M184.1,329.4v1.0M177.7,341.0v0.5M192.1,338.8v0.4M188.4,327.9v0.6M180.9,351.9v0.8M193.7,369.7v0.5M189.2,338.1v1.4M185.3,326.5v0.8M178.1,325.4v0.8M190.2,325.8v1.0M180.1,338.8v0.4M179.7,343.4v0.5M182.7,336.3v0.6M187.4,347.6v1.4M188.0,328.7v0.5M181.1,332.3v0.4M195.5,351.0v0.6M194.6,331.6v1.4M184.2,335.7v0.5M193.0,328.6v0.6M181.9,361.2v1.4M195.6,334.3v0.5M184.5,340.1v1.4M187.0,336.0v0.5M190.4,328.4v0.4M182.4,338.7v0.6M189.1,331.9v0.8M176.0,378.0v0.4M182.6,348.7v1.4M180.5,345.4v0.4M185.1,338.8v0.5M186.6,343.0v0.8M180.8,325.5v0.5M184.7,329.3v0.5M187.4,351.0v1.4M180.4,337.3v0.8M186.7,342.8v1.4M186.3,334.5v0.5M179.0,328.3v1.0M194.5,347.3v1.0M193.5,364.6v1.0M183.4,347.1v0.8M185.1,341.5v1.0M182.9,328.6v0.4M194.9,325.5v0.4M188.9,333.1v0.5M196.2,326.8v1.4M188.9,325.3v1.0M189.5,345.8v1.0M182.7,342.4v0.8M180.7,325.7v1.4M188.8,328.4v0.8M185.9,330.4v0.5M196.2,325.9v0.4M178.6,362.1v0.5M183.2,351.3v0.8M177.1,355.3v1.4M186.0,332.1v1.4M192.6,339.3v1.0M177.5,330.3v0.6M186.9,329.5v0.8M186.4,331.5v1.4M190.6,336.3v0.8M184.7,336.9v0.5M178.4,354.0v0.5M185.1,327.4v0.6M183.5,330.1v1.4M193.9,330.1v0.6M190.7,351.5v0.4M188.6,341.5v0.4M193.2,334.4v0.5M194.2,339.2v0.4M185.5,334.6v0.4M190.1,327.6v1.0M193.8,332.8v1.0M176.3,353.3v0.4M178.1,371.8v0.6M195.8,330.1v0.6M196.5,328.5v0.8M209.9,338.8v0.4M216.6,350.9v1.0M202.6,346.1v0.4M210.4,329.9v0.6M211.0,352.7v1.0M202.1,343.6v0.5M209.1,328.2v0.5M205.5,327.2v0.5M207.0,340.8v0.6M204.2,348.2v1.0M206.9,340.5v0.6M203.9,329.0v1.4M198.2,328.2v0.6M210.8,328.0v0.5M213.2,331.8v0.6M213.6,335.8v0.8M203.1,351.7v1.0M204.6,329.3v0.8M197.9,345.0v0.8M206.8,339.4v0.6M201.3,335.5v1.4M210.6,339.6v1.0M199.5,352.0v0.5M213.2,336.1v0.8M210.4,329.9v0.4M204.0,350.5v1.4M215.8,332.7v1.4M212.8,385.2v0.8M204.8,326.4v0.6M212.0,344.8v0.4M215.4,326.8v1.4M208.2,340.2v1.4M212.1,329.6v0.8M211.1,329.1v0.8M201.2,325.8v0.5M211.5,332.6v0.5M215.2,340.8v0.6M214.5,339.3v0.8M207.0,364.6v0.4M216.2,325.2v0.4M198.7,358.0v0.4M206.9,327.1v0.5M211.4,325.3v1.0M209.9,347.4v1.0M197.1,334.3v0.4M203.8,339.0v0.4M200.1,330.2v1.0M204.6,344.7v0.8M201.6,340.3v0.4M198.4,328.4v0.4M201.8,341.0v0.8M208.1,329.6v1.4M201.8,365.1v0.4M200.2,325.7v0.8M214.8,330.1v0.6M212.9,327.5v1.4M207.8,366.2v0.8M210.0,325.3v1.0M208.8,342.6v0.5M201.5,383.6v1.0M207.2,327.7v1.0M211.1,330.1v1.4M210.3,332.9v0.5M207.8,340.4v1.0M197.1,366.7v0.8M206.6,329.5v0.5M216.5,353.7v0.6M205.8,328.3v1.0M211.0,341.5v0.4M213.2,330.9v0.5M202.1,352.8v1.0M213.5,386.5v0.5M199.5,331.6v1.0M200.9,325.7v0.4M200.2,349.6v1.0M204.5,340.2v0.5M202.2,327.3v1.4M206.1,349.7v0.6M211.9,356.4v0.4M205.3,327.1v0.6M200.6,333.8v0.5M205.3,348.6v0.8M203.3,372.4v0.5M207.9,331.3v0.4M211.7,328.9v0.5M212.4,349.0v0.5M216.0,328.4v0.4M198.1,336.7v0.6M216.1,344.5v0.5M214.7,330.7v1.4M201.8,327.9v0.6M208.0,333.9v0.6M201.6,341.8v1.0M201.4,337.3v1.4M203.4,332.3v1.4M211.2,337.0v0.8M204.8,328.3v0.4M201.8,384.5v0.4M207.2,328.6v0.8M212.7,364.4v0.8M215.9,331.5v1.0M207.0,333.4v0.8M205.5,326.0v0.8M199.2,337.9v1.0M203.1,335.7v0.6M202.5,369.8v0.5M197.8,337.1v1.0M212.4,364.7v1.4M210.9,332.8v1.4M214.8,346.3v0.6M203.1,325.4v0.4M212.8,343.6v0.6M204.8,361.4v0.6M201.4,327.7v0.5M198.5,344.5v0.4M205.1,328.7v1.0M213.3,383.7v0.4M213.8,369.8v1.0M216.1,361.4v0.5M209.5,353.9v1.0M214.5,329.9v0.4M216.0,354.0v0.8M206.1,331.1v0.8M197.8,396.7v1.0M205.1,339.1v0.8M197.1,341.7v1.0M208.6,347.1v0.5M199.4,357.4v1.0M209.8,329.0v0.4M208.4,327.7v1.0M212.6,366.0v0.5M207.3,333.5v0.5M203.4,328.3v0.8M197.4,343.1v1.4M200.8,332.7v0.6M213.6,327.2v0.4M203.1,329.7v0.6M199.5,341.8v0.6M214.7,364.9v0.4M207.0,336.0v0.4M213.6,370.8v1.0M210.2,329.4v0.6M208.1,327.0v0.4M211.5,346.2v0.8M203.8,356.1v0.4M206.9,366.7v1.4M215.5,345.2v0.5M197.2,328.3v0.6M212.2,332.2v0.5M200.5,350.5v0.8M208.7,328.9v1.4M208.2,335.7v0.6M199.1,360.7v0.6M198.8,325.6v0.5M213.3,393.3v0.5M214.9,337.3v1.0M201.1,336.7v0.4M215.2,326.5v0.4M199.1,331.6v1.0M205.9,339.6v0.8M202.3,333.4v0.5M216.6,331.4v0.8M202.0,328.6v1.0M215.2,385.3v0.5M211.8,328.0v1.0M203.8,330.3v1.4M203.1,326.4v1.4M211.2,359.2v0.8M199.0,344.9v1.0M213.6,343.3v0.8M205.2,339.7v1.4M208.1,332.8v1.4M200.8,330.2v1.4M200.4,346.3v0.6M209.3,356.3v1.0M204.2,370.9v0.4M211.0,352.7v0.8M212.1,325.7v1.4M215.8,354.6v1.0M200.0,337.8v0.8M211.8,368.4v0.8M204.3,336.1v0.6M212.2,343.7v0.4M207.6,333.4v0.6M210.3,342.6v1.4M203.1,331.5v0.6M199.2,331.1v1.0M209.9,330.6v1.0M198.8,399.0v0.5M212.8,329.8v0.5M215.7,336.2v1.0M204.2,329.9v1.4M213.6,364.1v1.4M201.7,339.4v0.5M206.9,368.7v0.5M212.2,327.2v0.8M205.4,335.9v0.8M208.7,328.6v0.4M199.0,328.9v0.6M197.3,344.0v0.5M213.9,328.6v1.0M209.2,346.3v1.0M199.5,332.4v0.8M201.7,333.4v0.6M206.9,339.8v1.4M211.9,352.3v1.4M211.6,331.5v1.0M214.0,328.0v1.0M199.3,330.4v0.5M211.4,333.8v1.4M214.0,329.7v0.4M209.3,335.2v0.4M210.3,339.3v0.6M198.8,393.8v0.5M201.4,335.6v0.5M198.0,347.1v0.4M214.6,346.8v0.5M197.5,342.2v0.5M202.5,341.2v0.4M209.6,393.2v0.5M212.4,338.8v0.6M200.0,338.5v1.4M213.3,329.1v0.8M216.5,348.9v0.4M206.7,330.7v0.5M215.5,340.6v0.4M203.5,330.7v0.6M203.9,354.3v0.4M200.1,325.5v1.4M204.0,357.4v0.8M214.2,351.2v0.4M214.4,344.4v1.4M209.6,327.8v0.4M206.1,341.3v1.0M212.8,326.4v0.8M204.9,330.6v0.5M215.1,333.1v0.6M197.2,331.8v1.4M204.6,374.0v1.0M198.9,326.9v0.6M201.7,341.6v0.4M208.0,342.2v0.6M216.6,347.8v1.0M202.3,333.2v1.0M216.1,345.6v1.0M212.8,349.1v1.0M208.1,326.3v0.5M199.1,333.5v0.6M200.2,378.7v0.5M214.9,327.2v1.0M197.9,361.8v0.6M207.3,338.4v0.5M202.8,326.6v1.4M213.8,337.6v1.4M199.3,328.5v0.5M215.8,331.7v0.6M212.3,342.6v0.4M202.1,336.8v0.8M207.8,351.3v0.6M199.4,326.9v0.4M198.4,341.1v1.0M197.8,334.0v1.0M215.5,326.2v0.8M202.6,345.5v1.4M198.7,363.9v0.4M197.3,347.3v0.5M205.1,333.3v0.8M206.7,336.9v1.4M197.5,329.4v0.6M216.5,329.0v0.8M213.3,337.9v1.4M210.4,338.9v0.5M210.7,332.2v0.5M216.5,329.3v0.5M204.4,331.1v1.4M214.3,332.4v1.0M199.4,356.4v1.0M202.1,328.2v0.8M212.8,343.5v0.6M201.7,352.0v1.0M204.0,338.1v0.6M215.8,327.8v1.0M216.1,328.0v1.0M215.2,330.7v1.0M204.2,348.5v1.0M198.1,335.1v1.0M203.9,326.2v0.5M200.3,328.2v0.8M211.0,331.4v0.6M216.7,328.4v1.0M216.1,331.2v1.0M212.0,325.8v0.6M208.5,349.0v0.5M206.3,343.2v0.4M206.1,334.9v0.6M208.4,330.4v1.4M203.5,328.2v0.4M230.7,339.5v1.4M232.3,327.6v0.4M230.6,339.4v0.6M220.2,351.1v1.0M228.4,328.7v1.0M231.6,359.1v0.6M224.0,327.6v1.4M233.8,364.0v1.4M232.5,361.4v1.0M219.9,342.1v0.8M234.4,334.5v1.4M224.8,331.9v0.4M232.6,332.2v0.8M227.2,341.4v1.0M228.3,335.4v0.5M228.9,342.9v0.4M222.3,327.3v0.4M221.8,335.5v0.6M220.4,336.1v1.4M232.4,334.4v0.5M234.7,339.8v0.4M217.5,330.9v0.5M225.8,343.7v1.0M218.4,337.9v1.4M226.9,331.4v0.6M233.3,336.7v1.4M223.2,333.0v0.4M230.8,332.7v0.5M233.9,332.9v1.4M227.1,343.5v0.6M218.8,331.2v1.4M222.4,358.4v1.0M221.4,337.2v0.6M223.4,328.0v1.4M231.6,358.7v0.8M219.5,349.0v0.5M222.2,329.0v0.5M222.4,382.7v1.4M221.9,355.8v1.0M222.7,359.7v1.4M223.4,332.2v1.4M225.8,373.6v1.4M234.8,328.5v1.4M223.6,335.9v1.0M231.2,333.4v1.0M218.5,384.6v1.4M222.6,388.3v0.6M227.4,326.1v0.5M233.6,360.4v0.4M218.1,336.1v1.0M220.2,341.8v0.6M222.9,334.7v0.5M221.2,356.4v1.0M223.8,336.3v0.4M232.1,328.0v0.4M227.3,343.9v1.4M221.6,328.2v0.4M224.9,327.4v0.6M228.5,336.2v1.4M233.4,326.9v0.5M221.1,336.8v0.6M221.1,325.9v1.4M228.1,346.3v1.4M232.7,339.4v0.5M228.4,353.0v0.5M228.8,331.8v1.4M221.3,337.8v0.4M228.4,331.9v0.6M231.4,340.5v1.0M223.7,369.5v1.0M220.1,359.7v0.8M225.1,325.9v0.6M234.4,325.8v0.5M234.7,327.9v1.0M233.2,363.3v0.8M225.9,329.7v0.6M234.6,328.8v0.4M220.8,328.6v0.5M219.9,338.4v1.4M218.0,334.8v0.5M225.6,328.1v1.0M218.3,343.9v1.0M229.8,332.3v0.6M234.8,351.9v0.8M228.8,330.0v0.6M230.7,348.8v0.8M226.4,359.2v0.8M232.1,327.4v0.8M226.8,374.1v0.4M234.6,328.2v0.6M232.9,343.6v1.4M218.5,350.5v0.5M220.9,336.5v0.5M217.0,326.4v1.0M224.9,329.7v0.6M233.6,328.6v0.8M218.6,335.2v0.8M225.0,367.8v0.6M234.1,326.7v0.6M223.8,340.6v0.8M225.5,343.1v1.0M222.7,347.8v0.4M232.3,339.2v1.4M217.6,362.2v1.0M231.8,329.9v0.6M217.3,329.6v0.4M217.8,357.5v1.0M232.5,363.6v0.8M218.3,336.8v1.0M234.4,325.7v1.4M224.3,347.6v1.4M225.6,336.9v0.8M233.2,333.2v0.6M224.8,338.1v1.4M225.1,328.5v0.5M232.8,337.9v0.5M227.1,334.3v0.4M222.2,340.8v0.4M233.1,326.9v0.5M231.7,328.8v0.5M231.8,339.5v0.8M223.8,346.9v0.5M229.0,373.4v1.0M234.9,328.2v0.5M218.5,326.4v1.0M226.7,340.6v0.8M233.4,329.4v0.5M230.3,379.4v1.4M233.6,325.8v0.8M226.0,348.6v0.5M226.4,347.0v1.0M220.2,329.0v0.4M225.0,339.3v0.6M224.0,359.5v0.6M226.6,326.6v0.4M232.6,339.1v0.6M220.8,329.2v0.5M234.7,331.1v1.0M233.0,336.6v1.4M231.9,387.0v0.4M218.3,354.5v0.8M228.1,337.9v0.8M228.9,329.4v0.6M226.6,380.3v0.5M224.1,331.2v0.6M228.1,330.9v0.8M229.0,395.6v0.5M230.8,348.9v1.0M221.9,333.2v0.6M218.4,335.7v0.8M217.4,352.6v0.4M229.1,346.9v0.5M224.5,327.5v0.6M219.5,328.3v1.4M217.3,389.7v0.8M217.8,325.9v0.8M226.5,331.5v0.6M219.1,336.7v0.8M229.6,338.4v0.5M223.9,349.2v0.4M220.4,354.3v1.0M224.6,337.7v1.4M220.0,333.8v1.0M226.2,337.4v0.8M218.4,336.0v0.4M230.0,328.1v0.4M220.7,328.6v1.0M223.9,343.4v0.6M225.2,328.6v0.6M229.8,328.2v1.4M231.5,352.3v1.0M217.1,329.3v1.4M220.5,376.6v1.0M222.1,345.8v0.6M228.5,334.5v0.6M231.1,358.8v0.8M223.3,327.6v1.4M227.9,334.4v0.4M231.2,326.4v0.8M224.5,336.0v1.4M229.6,329.1v0.4M221.7,343.7v1.4M229.2,343.3v1.0M223.9,331.0v0.4M234.2,337.8v1.4M222.6,343.9v0.8M234.6,330.1v0.5M227.3,328.5v1.0M229.0,335.0v0.8M218.3,328.3v1.4M225.3,333.4v0.5M224.3,342.3v0.8M233.8,340.0v0.5M224.7,341.5v0.8M221.2,338.0v1.0M229.0,325.4v0.8M225.9,334.7v0.6M221.6,335.0v0.5M225.6,337.7v0.6M232.1,331.1v0.5M221.9,332.5v0.5M223.7,332.6v0.6M230.0,342.1v0.6M232.9,327.0v0.5M219.6,343.1v1.0M233.5,348.4v0.4M223.0,330.6v0.6M232.9,326.0v1.0M232.6,336.8v1.4M229.3,328.0v0.5M226.3,335.3v1.0M228.4,332.1v1.4M220.2,344.5v1.4M220.9,345.2v0.6M234.3,329.9v1.0M225.0,334.1v1.0M224.1,332.4v0.5M228.8,332.0v0.4M228.5,355.5v1.0M230.4,326.2v0.5M219.7,365.6v0.5M219.1,354.4v1.4M233.9,354.2v0.6M225.4,331.2v0.6M220.4,357.4v0.8M220.5,335.7v1.0M234.2,360.7v0.8M219.8,330.1v0.8M224.3,331.7v1.0M230.8,327.2v1.0M224.2,358.9v0.6M228.0,342.5v0.4M219.4,363.9v0.8M220.6,336.2v1.4M226.8,326.5v0.5M227.3,329.5v0.5M221.4,325.6v0.6M222.0,326.2v0.4M227.6,345.0v1.0M217.3,333.2v1.0M233.2,335.9v1.0M228.7,350.1v0.5M219.9,357.8v0.5M234.3,342.3v1.4M229.7,329.9v0.8M224.0,331.1v0.4M221.9,333.3v1.0M223.2,386.6v0.4M223.4,378.7v0.6M222.3,327.4v0.5M226.6,342.6v1.0M228.0,328.7v1.0M224.8,354.5v1.4M231.8,346.4v0.5M219.4,350.8v1.0M217.7,330.1v1.0M227.6,332.4v0.6M229.6,329.9v0.8M229.3,336.8v0.4M221.3,335.7v1.0M228.0,356.8v1.4M222.0,370.2v1.0M218.3,329.7v0.4M226.9,340.4v0.6M220.5,376.9v0.8M220.7,344.3v1.4M222.4,337.3v0.8M221.9,335.6v0.8M223.2,364.4v0.4M233.7,350.5v0.4M221.6,331.0v0.5M229.1,354.1v0.5M232.1,340.4v1.0M234.8,329.8v1.0M232.8,353.9v0.5M220.3,354.9v0.6M217.7,352.0v1.0M231.9,348.5v0.6M224.9,333.9v1.4M233.4,331.0v0.6M222.0,331.1v0.5M229.4,332.0v0.5M223.9,333.2v0.4M228.3,342.2v0.6M233.8,330.9v0.6M222.4,382.0v0.5M224.3,332.0v1.0M233.7,344.8v0.6M231.1,333.7v1.4M227.6,354.1v0.8M229.0,337.4v1.4M234.2,365.7v1.4M225.9,344.2v0.4M233.0,326.1v1.0M217.3,333.5v0.5M220.1,335.9v0.5M230.9,329.0v0.4M222.3,328.2v1.4M218.2,336.3v0.5M220.5,330.8v0.5M234.2,331.9v1.4M227.4,340.5v0.8M223.3,337.8v0.8M234.8,327.6v1.4M232.9,333.0v0.6M229.9,377.4v0.6M229.4,346.1v0.6M226.3,337.7v0.5M233.2,334.2v0.4M233.5,327.2v1.4M229.7,330.1v1.0M223.8,325.7v0.4M222.4,336.1v1.0M225.1,351.2v0.6M224.3,328.4v0.6M221.3,342.4v0.5M228.7,359.7v1.4M229.8,340.5v1.0M234.0,341.9v0.8M221.1,336.1v0.6M234.2,328.5v0.8M216.9,339.1v1.0M217.4,325.7v0.8M230.5,330.0v0.5M232.9,342.0v0.4M228.7,334.6v0.4M220.5,358.3v1.0M221.2,331.5v1.4M230.9,383.2v1.4M231.3,327.0v0.8M233.7,345.0v1.0M233.9,378.9v1.4M228.2,333.1v1.4M218.3,356.4v0.4M218.3,371.1v1.4M232.7,327.3v0.8M234.1,362.5v0.4M228.2,325.3v0.6M220.2,329.9v0.6M234.2,328.2v0.4M219.2,325.8v1.0M220.9,350.1v1.0M217.2,351.0v1.0M225.1,335.3v0.8M233.7,333.6v0.4M223.5,327.1v0.4M218.4,336.6v1.0M219.5,337.5v1.4M229.2,359.0v0.6M230.8,342.5v0.8M218.9,332.5v0.6M226.8,362.0v0.5M222.0,328.9v0.8M228.0,337.5v0.8M219.4,349.4v0.6M221.8,344.2v1.4M226.8,329.6v0.8M227.6,345.1v0.6M223.0,353.9v0.5M224.1,343.6v0.4M229.0,325.7v0.6M217.7,372.9v0.5M223.4,394.0v0.5M217.7,337.7v1.0M229.5,344.3v1.0M216.9,336.6v1.0M231.7,328.8v0.6M221.0,339.7v0.6M219.6,333.7v1.4M222.9,332.3v1.4M230.6,348.0v1.4M229.5,331.7v0.4M227.3,341.0v0.6M234.4,328.8v0.6M234.6,333.0v0.5M233.4,367.4v1.0M219.8,339.9v0.8M232.3,365.0v0.8M219.6,347.1v0.8M216.9,348.2v1.4M233.7,350.6v0.8M221.9,349.7v1.0M234.6,345.4v0.8M224.6,326.4v0.6M223.6,326.5v0.8M220.0,334.6v1.4M217.3,327.0v1.0M219.7,337.4v1.4M234.4,327.8v0.8M233.0,356.9v1.4M232.7,371.9v0.5M230.8,327.2v0.6M232.2,346.6v1.4M226.2,352.0v1.4M228.1,351.7v0.4M218.4,330.0v0.4M230.0,332.8v1.4M224.9,336.9v1.4M228.4,331.2v1.4M222.8,326.1v1.4M221.4,333.1v0.8M225.1,326.5v0.6M229.6,338.7v0.6M232.4,333.9v1.0M221.7,348.8v0.5M219.4,333.6v0.4M217.9,326.2v0.4M224.5,328.0v0.4M225.2,339.5v1.4M225.4,340.4v0.5M218.1,336.3v1.0M221.4,345.8v1.4M225.1,351.9v0.6M224.1,384.7v1.0M219.5,335.0v1.0M221.6,325.5v0.8M223.3,339.1v1.4M225.7,353.6v0.5M232.5,344.4v0.5M220.1,325.7v0.5M220.4,358.4v1.0M227.4,325.7v1.0M233.0,361.6v1.4M219.3,332.6v0.8M227.5,326.1v0.6M230.8,362.6v0.8M231.8,353.8v0.8M227.2,340.9v1.4M229.7,326.7v0.5M229.7,363.0v1.0M234.4,386.0v0.6M224.6,343.1v0.8M222.4,336.7v0.6M223.2,409.0v1.4M229.0,336.1v0.6M225.5,333.1v0.8M227.8,328.5v1.0M229.5,327.1v0.6M217.4,336.8v0.8M222.8,338.5v1.0M227.2,360.9v0.8M220.6,334.9v1.0M220.8,339.9v1.0M220.3,325.8v0.4M224.5,326.6v1.0M220.3,335.0v1.4M228.9,330.4v0.8M219.8,359.3v0.5M220.2,337.2v0.5M233.5,347.6v1.0M234.3,349.8v0.8M221.6,328.2v0.4M225.5,333.6v0.6M219.3,336.0v0.5M233.9,344.5v1.0M219.6,330.8v0.6M231.3,354.9v1.4M231.6,375.0v0.5M229.5,345.5v0.4M227.8,345.3v0.8M234.3,328.5v0.8M234.3,395.6v1.4M225.1,334.7v1.0M224.5,358.2v1.0M225.4,326.6v0.8M220.2,334.3v1.4M232.5,328.4v0.6M227.4,331.0v1.4M222.1,333.4v0.8M222.3,353.7v0.8M225.0,359.6v0.4M221.6,329.2v0.6M219.8,326.7v0.8M230.1,374.9v0.6M220.7,339.0v0.4M223.8,327.3v0.8M223.7,338.3v0.8M222.5,335.6v0.5M221.5,333.6v1.4M233.7,327.7v0.6M228.9,370.1v0.8M231.0,343.4v1.4M223.7,393.6v1.4M232.6,355.0v0.6M219.3,334.2v1.4M220.0,328.9v0.5M227.2,332.5v0.4M229.5,334.3v0.5M223.7,373.9v1.0M229.9,354.1v0.6M222.2,338.9v0.8M230.2,345.0v0.5M230.5,370.6v0.6M224.7,325.8v1.0M222.9,345.3v1.0M234.2,329.3v0.6M221.9,327.1v1.0M223.9,330.7v1.4M231.7,335.6v1.0M219.0,360.5v1.0M226.0,348.5v0.6M230.1,404.0v1.0M223.8,374.3v0.5M230.8,342.2v0.5M219.2,337.1v1.0M223.9,332.1v0.6M219.0,326.1v0.4M222.5,329.3v1.4M217.0,328.5v0.8M220.7,325.9v1.0M233.0,337.4v1.4M217.7,328.4v0.4M219.4,325.5v1.0M229.5,340.0v0.4M219.0,327.0v1.4M227.4,360.9v1.4M220.3,329.0v1.4M223.7,329.5v0.6M233.2,345.2v0.6M218.1,333.4v1.4M226.9,344.4v0.6M223.5,332.2v1.0M234.6,334.8v1.0M218.0,343.9v1.0M234.9,330.9v0.6M230.9,328.4v0.4M228.8,330.7v0.6M230.8,326.1v0.5M230.6,355.1v1.4M223.4,325.3v1.4M219.3,345.7v1.0M218.9,341.1v0.5M232.7,337.0v0.6M228.9,334.3v1.4M224.3,325.6v0.6M222.1,360.4v0.4M220.7,329.4v0.8M220.0,338.2v0.5M227.4,334.8v0.4M229.8,332.3v0.4M222.9,345.9v1.0M220.0,361.5v0.4M222.6,328.6v0.4M226.4,326.4v1.4M228.8,338.0v0.4M223.7,335.0v1.4M228.3,345.8v0.4M231.0,347.4v1.0M230.3,332.3v1.4M221.6,342.3v0.8M228.5,326.3v1.4M220.7,389.3v1.0M217.8,345.2v1.0M219.1,341.2v0.8M228.5,326.0v1.4M219.2,329.7v0.4M233.0,333.4v0.8M234.0,340.6v0.4M229.7,327.2v0.4M232.2,332.1v0.6M228.3,361.0v0.4M228.1,328.7v1.0M234.2,370.5v1.4M222.0,348.9v1.0M233.0,344.9v1.0M229.8,338.8v1.0M233.3,325.8v0.4M225.4,393.6v0.4M234.6,353.6v0.8M218.9,347.3v0.8M230.4,351.7v1.4M225.2,344.0v1.4M217.8,347.8v1.4M226.9,332.3v1.4M229.2,351.5v1.4M219.6,325.3v0.4M221.0,329.8v0.4M224.6,400.6v1.0M220.3,325.9v0.6M224.0,334.3v0.5M227.6,326.1v1.4M218.8,368.1v1.4M219.2,335.4v0.5M216.9,331.4v0.4M217.2,341.7v1.0M231.0,341.5v1.4M220.2,334.8v1.4M219.6,338.3v0.6M218.2,352.3v0.5M222.1,340.9v0.8M233.9,375.5v1.4M229.6,331.6v0.6M230.7,350.6v0.4M217.5,350.0v0.5M234.0,328.6v0.8M222.1,327.9v1.0M233.8,326.1v0.6M228.6,330.8v0.6M232.6,340.2v0.4M219.5,328.8v0.8M233.4,366.4v0.6M220.1,345.7v0.4M224.1,349.9v0.6M219.0,341.2v0.4M225.5,353.6v1.0M221.9,334.4v1.4M234.3,365.6v0.5M233.9,358.3v0.4M217.4,364.6v0.5M231.9,357.4v1.0M240.8,339.0v0.6M235.9,331.1v1.0M237.0,330.7v1.0M236.8,328.2v1.0M237.0,337.1v0.6M238.1,325.5v0.8M239.0,328.2v0.6M237.8,331.7v0.5M237.3,335.3v0.5M238.3,332.7v0.8M236.0,397.4v1.0M239.2,359.0v0.6M238.6,397.6v1.4M239.2,356.8v0.8M241.0,363.4v0.4M240.2,332.2v0.4M238.7,363.8v0.5M235.4,342.8v0.5M240.7,351.4v1.4M239.0,325.6v0.6M237.9,343.7v1.0M240.0,334.9v0.4M235.6,357.4v0.5M240.1,333.3v1.4M240.5,333.2v1.0M240.8,329.2v0.8M238.9,329.7v0.8M240.1,326.8v0.4M237.5,327.9v1.4M239.8,330.2v0.5M237.4,347.6v1.0M237.1,342.2v1.0M236.3,339.4v0.8M238.0,330.5v0.4M237.3,334.2v0.8M235.2,353.8v0.4M239.0,347.9v0.5M240.9,333.3v1.4M235.3,327.9v0.6M239.0,335.2v1.4M239.6,330.4v0.8M238.7,332.9v0.4M239.4,340.4v1.4M238.7,328.8v0.5M240.7,363.5v1.0M236.5,332.7v0.4M238.2,326.1v0.8M238.2,334.4v0.4M237.2,326.4v0.4M239.2,336.0v1.4M237.5,345.9v1.4M235.6,341.5v0.5M240.9,336.9v0.5M236.1,328.2v0.5M235.3,330.5v1.0M239.2,376.1v0.4M236.9,325.9v0.6M235.9,332.9v0.8M236.8,342.7v0.8M240.3,369.5v1.4M239.9,390.2v1.0M238.5,337.1v1.4M236.9,329.3v0.6M239.4,345.0v0.6M236.2,361.0v0.4M238.7,331.6v0.4M236.4,341.9v1.0M236.7,331.2v0.8M238.4,328.7v0.4M238.3,336.4v1.0M239.1,344.6v1.4M237.8,328.9v0.8M239.1,327.2v0.8M239.6,338.1v0.8M239.2,348.7v0.5M237.1,336.4v1.4M237.3,367.8v0.5M239.5,330.4v0.4M236.4,335.1v1.0M236.2,347.8v0.6M235.8,331.7v1.0M237.5,331.6v1.0M240.8,327.5v0.4M236.2,330.9v0.6M240.5,334.4v0.4M237.5,326.2v0.4M235.7,331.6v0.5M250.7,337.4v1.0M246.9,328.9v0.6M246.7,325.8v1.0M246.8,325.7v1.4M246.0,337.3v1.4M249.1,334.7v0.4M249.2,329.5v1.0M250.5,335.6v0.4M246.0,362.0v0.6M250.3,343.0v1.4M246.6,379.2v1.0M245.5,360.9v0.6M247.4,325.2v0.8M246.9,363.7v0.8M247.5,366.1v0.4M244.0,378.8v0.5M253.0,383.2v1.0M245.6,351.5v0.4M250.9,343.0v0.6M250.5,373.4v1.4M250.2,329.4v1.4M252.5,353.8v0.4M244.1,335.3v0.4M245.3,385.2v1.0M247.7,350.1v1.4M246.2,325.4v1.0M252.9,334.8v1.4M247.4,351.3v1.4M246.8,340.5v0.6M248.9,347.5v0.8M252.4,337.1v0.5M249.3,406.4v0.8M244.1,333.6v0.4M247.9,330.5v0.8M249.7,335.8v0.6M252.4,334.4v1.4M246.8,347.0v0.5M244.3,333.6v1.4M251.0,325.5v1.0M244.3,338.9v1.4M246.1,348.8v0.5M249.1,325.6v0.8M247.4,329.6v0.8M247.0,390.0v0.4M246.4,347.3v1.0M251.4,341.5v1.0M247.0,338.7v0.4M247.0,381.1v1.0M246.9,330.6v1.0M252.6,332.3v1.4M248.6,328.1v0.5M251.8,352.9v1.4M245.3,341.0v0.4M248.5,328.4v0.5M250.8,328.6v0.8M251.1,347.5v1.4M252.3,338.6v1.4M246.7,329.4v1.4M246.5,326.8v0.8M247.9,332.4v0.8M247.1,336.5v1.4M249.1,350.6v0.5M251.0,357.7v1.4M244.0,341.9v0.8M246.8,325.5v1.0M249.6,326.3v0.4M246.4,347.8v0.5M249.3,327.3v1.0M244.3,326.9v0.8M245.3,334.3v0.5M249.0,344.5v0.8M250.2,348.2v1.4M248.7,335.9v0.8M246.4,328.0v0.5M246.1,333.9v0.8M252.4,365.4v0.4M252.0,328.7v1.0M245.8,379.2v0.4M251.1,328.5v0.4M252.3,369.5v0.8M246.5,329.4v0.4M244.0,333.8v1.4M251.7,344.2v0.5M252.3,337.5v1.4M246.1,334.9v0.4M244.3,362.8v1.4M245.6,353.6v0.5M249.3,358.0v0.8M250.4,335.4v0.8M246.9,333.3v1.0M245.7,353.7v0.8M248.5,329.6v1.0M250.4,344.3v1.0M247.8,343.7v0.5M244.7,341.4v0.4M249.0,333.2v1.0M248.7,403.1v1.0M248.1,328.3v1.0M250.7,338.4v0.8M246.5,340.8v0.8M245.7,358.1v0.8M251.9,325.6v0.8M246.7,325.9v0.5M247.3,327.4v0.4M251.9,348.6v0.8M244.7,332.4v0.8M246.6,364.5v0.5M244.4,368.9v1.0M246.5,330.9v0.8M246.2,343.8v0.5M250.4,330.5v0.8M250.1,334.0v0.4M246.4,342.6v0.6M245.3,345.7v0.6M244.1,327.1v0.5M251.5,355.5v0.4M252.1,331.5v1.4M252.8,377.2v1.0M252.4,366.2v0.5M247.2,328.2v0.8M252.1,352.3v1.0M251.2,333.4v1.0M244.1,328.7v0.6M249.0,335.1v1.4M248.4,359.6v1.0M245.0,333.2v0.5M251.8,366.2v0.5M245.9,339.8v1.4M247.0,329.6v1.0M245.3,331.3v0.6M252.7,338.2v0.5M251.1,326.4v0.5M252.8,344.0v1.0M247.0,330.7v0.4M248.2,339.7v0.8M255.7,342.2v0.8M262.5,346.2v1.0M269.8,332.6v0.6M267.7,329.9v1.4M253.0,328.7v0.5M262.4,341.6v0.8M253.6,329.8v0.8M254.8,328.0v1.0M258.4,337.7v0.4M256.6,329.9v0.4M261.6,335.0v0.8M256.0,326.9v0.8M264.2,327.7v0.8M260.1,358.6v1.0M269.0,327.8v1.4M262.5,344.5v0.4M263.5,331.0v0.4M258.7,370.9v0.5M267.1,329.1v1.4M253.2,351.0v0.5M263.0,327.7v1.0M269.1,360.2v0.5M267.1,366.3v0.4M253.5,360.8v0.8M260.4,337.0v0.5M258.0,335.6v0.8M268.4,349.5v0.6M267.4,339.6v0.6M257.8,335.2v0.8M266.4,372.8v1.0M261.5,362.7v0.6M256.2,348.9v1.4M254.1,335.1v1.4M259.0,341.0v0.8M265.8,329.2v0.4M268.4,325.4v0.6M253.4,337.8v1.4M253.6,340.4v0.4M261.0,340.3v1.4M267.8,354.2v0.4M262.9,358.2v0.4M263.0,327.0v1.4M265.5,336.6v1.4M259.4,334.7v0.4M261.9,334.6v1.4M265.8,334.0v1.4M254.4,365.5v1.4M254.2,329.3v1.0M267.7,327.6v0.4M261.4,336.4v1.4M261.7,328.3v0.4M260.2,338.6v0.5M261.0,329.6v0.4M269.0,325.5v0.4M259.6,329.2v0.4M261.0,357.9v0.4M267.0,348.4v1.4M261.8,331.5v0.4M263.3,337.1v0.4M264.4,330.7v0.4M266.6,329.9v1.4M267.3,336.3v1.4M255.0,327.9v0.8M258.6,351.6v0.6M267.4,351.4v0.8M260.1,359.4v0.8M264.3,325.7v0.6M267.8,333.8v0.5M264.1,332.2v0.5M268.3,325.3v1.0M267.9,353.5v1.0M267.2,351.2v1.4M269.4,327.7v0.4M254.6,329.9v0.5M256.3,333.6v0.6M257.6,352.2v0.6M264.1,334.1v0.5M261.8,327.3v0.5M265.8,335.9v0.8M266.1,325.6v1.0M261.9,334.7v0.4M259.9,327.1v1.4M255.1,353.1v1.0M260.1,332.2v0.4M263.2,326.2v1.0M253.6,333.9v0.5M264.4,336.4v0.8M258.4,348.1v0.6M266.1,337.5v1.0M267.0,339.9v1.4M259.5,357.9v0.6M260.3,349.7v0.4M267.5,329.9v1.0M268.5,356.3v0.8M269.0,331.2v1.4M265.9,351.0v0.6M254.0,326.7v1.0M253.6,347.7v0.5M269.6,365.4v1.0M260.8,327.9v0.6M257.5,338.3v0.6M263.1,330.1v0.8M265.5,334.7v1.4M263.2,341.4v1.4M265.9,339.2v1.4M263.9,339.9v0.4M264.4,328.3v1.4M259.7,361.6v0.6M253.8,330.8v1.0M264.9,325.9v1.4M253.0,353.3v1.4M269.4,330.7v0.4M265.3,330.6v1.0M266.1,340.5v1.0M266.8,346.3v1.0M254.5,335.4v0.5M266.3,356.0v1.0M258.4,327.6v1.4M260.5,328.9v1.0M267.4,327.6v1.0M263.7,330.9v0.6M253.7,338.7v0.4M269.4,353.5v0.4M255.8,327.7v1.4M264.5,326.8v0.6M265.4,336.7v0.8M265.5,345.6v0.8M260.4,346.3v0.4M266.2,338.0v1.4M266.9,329.1v1.4M267.2,340.1v0.8M255.7,362.7v1.4M263.8,338.0v0.5M255.3,338.4v0.5M262.9,343.0v1.0M255.4,341.7v0.4M261.6,333.8v0.4M257.0,327.8v0.4M257.6,329.1v0.6M264.1,330.3v0.4M265.6,327.8v1.4M255.8,344.2v0.4M261.3,331.7v0.6M261.9,347.3v0.5M253.8,349.4v0.8M253.1,351.8v0.8M264.2,333.0v0.5M259.4,335.6v0.8M263.7,333.9v1.0M253.2,334.9v0.8M262.3,328.0v0.8M260.0,330.8v0.4M267.5,325.5v0.5M255.4,340.8v0.4M261.6,340.2v1.4M266.5,342.3v1.4M253.4,330.3v0.4M266.3,330.4v1.0M263.4,343.5v0.5M269.0,326.7v0.4M258.7,337.8v1.4M255.3,352.2v0.6M266.0,326.9v0.8M257.7,371.2v0.8M263.4,326.1v1.4M260.9,333.9v0.8M266.8,336.3v1.0M268.6,338.4v0.6M256.1,330.8v1.0M262.4,350.4v1.0M261.3,347.1v0.6M267.1,364.4v1.0M254.3,359.4v0.4M258.7,333.2v0.5M265.9,331.0v0.5M257.1,330.7v0.4M259.0,330.5v0.4M263.8,335.8v0.8M256.8,361.9v1.4M254.5,348.0v0.6M267.0,357.0v0.5M255.4,335.2v0.5M259.0,345.8v0.8M261.9,328.3v0.5M259.4,333.6v0.6M253.6,378.5v0.8M266.8,338.0v1.4M254.3,327.1v0.5M255.4,327.6v0.8M258.3,359.6v0.8M256.5,341.1v1.4M262.8,340.0v1.4M253.1,329.2v1.0M261.3,340.4v0.5M262.7,325.4v1.4M256.8,345.9v0.5M253.8,335.8v1.0M264.4,363.4v1.0M263.3,341.0v0.4M265.3,360.4v0.4M254.0,352.4v0.4M256.1,334.8v1.4M257.9,333.7v0.4M258.6,342.6v0.4M263.9,326.5v0.4M265.8,326.9v1.4M259.2,335.1v1.4M263.3,374.0v0.4M264.7,332.0v1.4M256.2,335.4v0.4M257.7,347.7v1.0M258.5,335.7v0.8M265.1,336.1v0.5M261.5,340.6v0.5M269.7,332.3v1.4M256.6,334.6v1.4M268.1,326.9v1.0M263.3,338.7v1.0M268.6,335.6v0.6M258.3,335.4v0.6M258.8,344.1v1.0M262.8,354.9v0.5M258.2,326.3v0.5M257.2,348.1v0.4M262.9,327.0v0.8M254.2,336.2v0.4M258.6,339.4v1.4M265.4,329.9v0.8M255.8,325.3v0.8M255.8,331.1v0.8M260.1,327.5v0.5M265.4,341.0v0.4M265.1,336.1v0.4M259.4,391.1v0.5M253.6,346.9v0.4M256.7,329.7v1.4M262.1,338.7v1.4M260.1,332.8v1.0M256.3,330.1v0.6M253.7,328.9v0.8M262.0,325.6v1.0M253.4,358.0v0.6M268.2,332.7v0.5M260.8,329.1v1.4M257.6,330.1v0.6M260.5,341.8v0.6M257.2,327.1v1.4M260.6,325.9v0.5M261.3,326.9v1.0M253.8,379.4v0.8M256.2,342.8v1.4M264.8,353.1v1.4M259.6,336.0v0.8M260.9,326.9v1.0M268.1,326.3v1.0M253.0,337.7v1.4M261.5,332.4v0.8M261.2,327.2v0.4M259.1,332.9v0.8M255.7,326.5v1.0M257.3,325.3v0.8M260.0,363.8v1.4M262.4,331.8v1.0M261.0,349.0v1.4M258.0,353.6v0.5M265.7,328.6v0.6M259.2,331.7v0.8M260.6,363.5v0.5M255.4,345.5v0.4M257.4,329.3v1.4M257.9,357.9v1.4M267.3,349.4v1.4M259.3,344.6v0.4M254.0,337.1v0.8M257.7,326.8v0.5M269.5,348.3v1.0M266.8,339.0v1.0M267.2,334.9v1.0M267.7,343.3v0.8M258.9,365.5v1.4M255.9,332.3v0.8M263.9,327.0v0.4M268.6,384.4v0.6M255.5,328.9v0.8M265.4,349.7v1.4M254.1,336.0v1.0M262.3,341.4v1.0M264.2,353.6v0.4M260.9,336.3v0.5M258.0,330.6v0.4M254.4,387.4v0.5M253.7,372.8v0.5M258.8,329.1v0.4M256.9,329.4v1.4M253.5,353.2v0.4M254.7,332.5v0.6M266.4,348.6v0.6M260.0,354.5v1.4M253.3,337.0v1.0M260.5,328.0v1.4M269.5,352.9v0.5M265.5,327.2v0.5M254.0,327.3v1.0M265.3,338.8v0.8M268.8,341.8v0.5M260.4,335.4v1.4M256.0,326.2v1.0M256.8,333.7v0.8M263.8,352.8v1.4M262.8,369.5v0.4M267.8,327.6v0.4M264.5,335.7v0.8M259.7,333.5v0.4M261.6,335.8v0.5M260.3,345.2v0.8M265.5,351.2v0.4M254.2,331.3v0.4M268.6,348.4v0.4M253.1,355.0v0.8M259.1,346.2v1.4M268.5,326.9v1.0M256.4,342.6v0.8M255.6,347.7v0.4M259.2,338.6v1.0M255.7,333.6v1.0M255.6,328.4v0.8M253.3,330.6v0.4M255.0,353.2v0.4M256.2,361.3v0.6M256.6,336.9v0.6M255.5,331.0v1.4M263.2,342.7v0.8M263.3,339.9v1.0M261.6,377.4v0.6M260.4,328.6v0.5M254.2,346.5v0.8M262.7,332.7v1.0M265.1,341.7v0.6M263.6,363.5v0.6M255.8,343.3v0.6M255.5,353.3v1.0M267.3,351.1v1.0M262.6,345.5v0.4M263.0,331.2v0.8M261.8,326.8v1.0M256.5,379.1v0.6M265.3,334.4v1.0M258.2,325.3v0.8M253.2,372.2v0.8M255.2,335.4v0.5M265.7,359.9v1.0M257.1,342.5v1.0M256.2,326.5v0.8M267.1,332.8v0.8M262.5,358.7v0.5M253.3,338.5v0.4M258.3,345.2v1.0M256.4,369.9v0.8M268.0,348.6v0.6M260.1,349.2v1.4M268.4,343.7v1.4M263.3,363.7v0.4M261.2,344.3v1.4M253.7,332.2v0.8M253.9,339.4v1.0M258.6,343.3v1.0M265.6,337.4v1.0M257.3,327.8v0.6M266.7,325.9v0.6M262.4,338.8v1.4M265.3,347.2v0.5M254.1,326.7v0.6M264.0,331.0v0.6M260.0,380.6v1.0M255.3,327.2v0.5M269.1,332.6v0.8M258.2,339.8v0.6M253.6,328.0v1.4M269.7,365.2v0.4M267.6,334.2v0.6M262.9,339.7v0.4M253.8,354.8v0.5M264.8,339.3v1.0M259.4,326.2v0.8M259.2,329.3v1.0M258.7,335.3v0.6M256.3,326.3v1.4M256.3,338.2v1.0M266.9,329.1v0.6M266.0,331.6v0.8M257.8,345.9v0.8M260.0,330.5v0.6M263.7,331.3v1.4M260.2,340.7v0.4M260.7,332.4v0.8M253.4,334.0v0.8M268.2,329.8v1.4M267.7,326.8v0.5M263.6,330.4v0.5M256.5,334.4v0.8M258.4,331.1v0.8M267.5,342.8v0.6M254.1,334.8v0.4M253.3,347.9v0.4M262.9,328.8v0.5M253.9,352.9v1.4M261.0,340.2v0.4M265.0,325.3v0.4M261.1,329.8v1.0M255.8,364.0v1.4M265.0,350.4v0.8M255.2,347.3v0.8M262.7,326.6v0.6M258.3,340.3v0.4M263.7,337.2v0.6M253.8,341.9v0.6M262.5,326.8v0.8M257.5,328.3v1.4M264.9,364.5v0.4M260.4,344.4v1.4M253.7,343.7v0.4M264.5,326.7v1.0M257.5,327.6v0.4M257.4,344.5v0.4M257.2,380.5v1.4M258.2,335.8v0.5M258.1,343.3v1.0M264.0,355.7v1.4M260.4,328.9v0.8M264.8,328.3v1.4M259.5,327.1v1.4M264.1,326.6v0.8M264.6,332.1v1.0M268.9,375.7v0.6M254.4,358.8v0.5M254.2,330.9v1.0M254.0,359.2v0.5M261.7,327.3v1.4M265.1,328.9v0.4M259.9,337.9v1.4M261.0,337.7v0.6M268.5,337.3v0.4M262.3,335.5v1.0M263.1,327.0v0.6M267.8,356.7v0.8M255.3,334.8v0.8M260.1,325.5v1.4M262.2,329.0v0.6M262.8,329.0v1.4M268.1,332.6v1.4M269.5,325.8v1.4M254.4,327.8v1.0M259.5,326.5v0.5M264.7,349.2v1.4M264.8,344.1v1.4M265.1,347.3v0.8M260.9,325.4v1.0M257.6,329.8v1.0M261.0,337.8v0.4M257.4,343.4v0.8M258.1,326.0v0.8M255.5,334.7v0.4M266.5,333.2v0.6M263.4,345.8v0.4M259.1,325.2v0.4M255.5,345.3v1.0M262.8,327.4v0.8M261.7,333.7v1.4M261.5,332.1v1.0M262.9,329.2v0.8M257.7,334.2v0.5M264.4,367.6v0.4M258.3,330.3v0.5M258.3,330.1v0.5M266.9,340.0v0.6M260.3,329.0v0.6M259.9,341.4v0.8M255.0,338.3v1.4M263.9,406.6v0.5M260.5,332.8v0.6M257.8,335.7v0.8M256.8,349.1v0.8M269.0,329.7v0.8M256.7,338.1v1.0M267.4,328.1v0.5M255.9,347.7v1.0M262.5,338.9v0.4M254.2,392.0v0.4M266.2,329.4v0.5M260.6,326.8v0.4M267.9,346.0v0.8M263.9,327.8v0.8M260.0,351.9v0.6M269.1,334.4v1.4M259.7,335.0v1.4M266.9,329.7v1.4M265.2,334.7v0.6M255.4,333.4v1.0M253.3,353.2v0.6M260.9,328.0v0.6M256.5,337.8v0.6M261.9,330.4v0.4M256.9,361.7v0.5M256.4,325.9v0.8M259.1,371.0v0.5M259.5,336.1v0.4M261.5,348.8v0.5M263.9,325.6v0.6M266.3,338.5v0.6M255.3,329.1v1.0M266.7,328.9v0.6M269.5,329.6v1.0M260.3,325.3v0.5M267.3,345.0v0.4M254.5,337.5v1.0M261.1,370.1v0.5M258.2,387.8v1.4M261.9,335.3v1.4M261.3,326.6v0.4M255.7,327.0v1.0M268.8,346.1v1.0M269.3,334.2v1.0M269.8,350.8v1.4M267.7,339.4v0.4M264.6,335.2v0.6M261.9,343.9v0.8M269.5,358.0v1.4M261.5,338.9v1.4M256.4,329.1v0.4M266.7,329.6v0.6M263.9,328.8v1.4M256.9,335.9v0.8M264.5,359.2v0.8M255.7,333.2v1.0M261.5,337.1v1.4M262.9,341.1v0.6M269.6,368.7v0.6M253.8,342.8v0.8M259.0,332.2v0.4M259.2,342.2v1.0M264.5,339.1v1.0M268.1,369.4v0.5M254.3,331.5v0.8M262.7,325.4v1.4M267.8,327.3v1.0M269.1,325.5v0.6M260.2,333.8v0.5M267.3,383.9v1.0M268.3,347.8v0.8M261.1,327.3v0.5M253.3,338.3v1.0M261.4,325.6v1.0M262.6,378.4v0.6M268.0,380.6v1.4M261.8,329.4v0.5M257.8,339.0v0.4M268.8,363.1v0.4M258.1,361.1v0.5M261.6,358.1v1.0M259.4,341.1v1.4M260.8,332.6v0.8M260.2,332.2v0.4M265.3,332.3v0.4M255.7,329.4v1.4M282.8,345.8v0.5M279.1,327.2v0.4M274.1,362.9v0.8M278.3,331.7v0.6M272.0,338.6v0.8M276.3,328.0v0.5M270.2,336.4v1.4M276.3,336.4v0.4M285.9,326.8v0.5M270.5,349.6v0.5M286.2,341.1v1.0M283.7,332.6v0.6M282.3,334.4v1.0M274.1,356.2v1.0M280.9,357.9v0.4M270.8,330.5v0.5M273.8,342.0v1.0M285.0,329.0v0.5M281.1,326.1v1.0M283.1,367.2v1.0M273.4,334.5v0.5M270.5,361.1v0.5M274.4,329.5v0.5M275.1,325.7v0.6M272.6,341.9v0.5M276.8,329.2v0.5M280.5,326.7v0.6M283.9,328.0v0.5M280.3,350.7v1.4M285.9,326.6v0.4M279.8,326.1v1.4M280.7,327.6v1.4M283.0,335.9v0.6M271.3,335.3v0.4M283.9,327.3v0.8M281.8,328.1v1.4M274.1,329.0v1.4M279.9,331.0v0.6M286.6,376.5v0.6M282.6,378.0v0.4M280.5,326.0v1.0M273.7,330.0v0.6M273.3,335.3v1.0M270.0,334.1v1.0M278.4,327.3v1.4M286.2,331.0v0.8M276.5,335.6v0.5M285.5,346.4v0.4M272.6,326.9v1.4M286.7,404.9v0.6M276.8,346.0v0.8M276.5,334.6v0.4M274.6,334.0v0.6M273.9,341.1v1.0M285.8,350.0v0.5M286.6,352.9v0.4M285.0,331.4v0.8M280.6,342.1v0.8M278.6,329.3v0.6M273.8,344.6v0.4M282.8,395.8v1.4M271.0,334.5v1.0M275.8,328.3v1.0M279.1,347.2v0.8M276.8,351.8v1.4M286.4,338.0v1.4M273.5,370.1v0.4M286.7,341.1v0.5M280.0,334.4v0.8M286.1,326.3v1.4M281.2,325.4v0.4M280.3,368.5v0.8M276.2,347.8v0.6M269.9,336.2v0.5M279.8,327.9v0.6M270.1,347.8v0.6M270.9,344.5v1.4M277.5,345.2v1.4M270.9,327.9v1.4M274.8,331.0v0.8M276.8,332.3v0.4M271.8,327.8v0.8M279.1,355.1v0.4M270.7,326.4v0.6M276.0,343.7v0.6M271.7,335.9v1.0M275.6,336.6v0.8M274.2,346.3v1.0M281.2,326.0v1.4M277.2,327.8v0.5M274.4,346.8v1.0M278.7,346.2v0.8M283.9,330.0v0.8M274.9,347.6v1.4M273.6,383.0v1.4M286.0,333.7v0.5M277.6,328.3v0.4M271.0,360.3v0.8M285.5,336.5v1.4M276.6,327.1v0.6M278.3,339.9v0.4M283.4,330.0v1.4M283.2,340.3v0.6M273.5,355.1v0.4M271.0,327.2v1.4M285.2,327.0v0.8M283.6,327.8v1.4M283.1,327.5v0.5M282.7,329.2v1.0M284.2,331.3v0.8M283.1,325.8v0.5M278.0,347.1v0.6M273.9,327.6v1.4M281.3,328.9v0.4M278.0,378.0v1.4M272.7,334.2v0.8M285.1,327.3v1.0M280.2,327.4v0.5M275.8,362.7v0.6M275.5,338.6v1.4M283.7,332.5v1.4M283.9,332.2v0.6M278.2,333.3v0.5M273.7,325.7v0.5M285.3,326.1v0.5M270.6,362.7v0.4M281.5,374.5v0.6M280.3,341.7v0.5M275.4,347.7v1.4M281.5,326.1v0.8M286.2,355.1v0.5M274.7,356.0v0.5M274.2,331.1v1.4M281.4,341.6v0.8M279.4,337.3v1.4M275.2,356.1v0.6M276.2,327.0v0.8M271.5,344.5v0.6M286.3,328.9v1.4M278.7,348.4v0.6M270.5,325.5v0.4M281.2,362.9v1.0M275.6,327.6v0.4M279.2,343.6v0.5M275.4,361.3v0.5M285.5,338.0v1.0M272.7,326.9v0.8M283.7,327.6v0.8M275.5,327.9v0.8M276.8,330.3v0.4M283.7,349.2v0.4M277.1,335.9v0.5M269.9,325.6v1.0M286.8,377.4v0.5M276.4,362.1v1.0M282.8,340.8v1.4M274.7,332.4v1.4M274.7,326.9v0.4M282.3,325.4v0.6M273.9,333.0v1.4M270.1,327.9v1.4M284.1,352.8v0.4M278.2,352.4v0.4M275.6,338.0v0.5M273.2,329.8v0.5M273.0,340.6v0.5M277.2,345.7v1.0M284.8,350.0v0.5M281.6,335.4v0.5M269.9,336.7v1.0M271.1,330.5v0.6M286.6,338.4v0.8M269.8,331.0v1.0M275.5,376.1v1.4M275.6,343.5v0.8M272.4,327.9v0.6M276.1,329.3v1.4M273.4,329.5v0.4M283.4,337.6v0.8M270.4,326.9v0.8M285.9,329.3v0.8M273.8,342.9v0.6M284.5,334.1v0.5M286.0,333.9v0.4M281.2,359.0v0.5M279.7,332.4v0.6M280.3,354.3v1.0M275.6,353.5v0.8M279.3,332.9v0.5M285.0,337.6v0.6M284.3,326.5v1.4M286.2,376.0v1.0M271.3,326.7v1.0M277.0,341.3v0.4M285.4,327.6v0.5M286.6,327.6v0.4M284.7,326.4v1.0M284.7,338.0v0.8M280.1,328.5v1.0M272.1,360.4v1.0M285.0,328.4v0.5M282.2,381.3v0.4M270.3,366.7v0.8M285.4,335.2v1.4M273.3,343.8v1.0M283.6,335.9v1.0M280.8,329.9v1.0M282.1,348.7v0.8M286.5,326.0v1.4M286.6,346.3v1.0M276.9,329.3v1.4M271.9,330.4v0.5M286.1,326.2v0.8M282.7,377.2v1.4M281.7,340.4v1.4M283.2,339.1v0.5M270.8,330.7v0.5M279.5,327.1v1.0M283.5,330.2v0.6M282.8,344.8v0.8M282.2,348.6v0.6M278.4,354.5v1.0M274.9,350.5v0.4M272.1,329.1v1.4M271.6,360.9v1.0M270.6,339.0v0.8M274.0,342.0v0.8M282.1,335.7v0.6M283.8,344.7v0.6M285.3,341.7v0.6M278.7,327.9v0.8M285.5,339.4v0.8M285.9,325.8v0.5M278.2,333.6v0.6M282.6,380.4v0.6M284.8,329.4v0.4M275.2,330.6v1.0M270.2,326.1v0.8M269.9,333.3v0.5M271.0,379.2v0.4M272.1,348.1v0.4M279.9,327.5v1.4M285.1,337.9v0.5M276.2,347.8v0.8M277.2,348.0v0.6M272.9,326.1v0.4M286.4,354.5v0.4M279.2,373.8v0.4M276.1,332.4v0.8M285.5,348.0v0.6M275.6,326.6v0.5M273.4,350.4v0.5M277.3,336.0v0.5M277.9,327.5v0.6M299.0,337.8v0.6M303.5,377.6v0.8M300.2,328.5v1.0M303.4,365.9v1.0M301.3,396.0v0.6M303.6,355.4v0.4M291.1,330.9v1.4M292.0,336.1v0.5M300.2,329.8v1.4M292.8,361.6v0.5M288.1,353.2v0.8M289.4,331.9v0.8M295.6,327.7v0.8M303.3,326.0v0.5M287.2,345.3v1.4M301.7,328.1v0.6M299.2,331.5v0.4M301.4,365.6v0.8M290.6,370.1v1.4M302.4,345.3v0.4M298.4,340.7v0.6M298.8,337.4v0.5M289.0,330.1v0.5M288.6,328.4v0.6M303.3,386.1v0.5M288.7,334.1v0.4M292.4,329.8v0.5M300.4,325.6v1.4M287.6,334.4v1.0M302.2,338.6v0.6M297.9,328.4v0.6M297.1,355.2v1.4M287.2,332.4v0.6M296.9,353.2v0.5M296.5,332.9v0.6M295.8,331.9v1.4M296.0,339.7v1.0M291.0,327.4v1.0M290.4,332.0v0.4M291.3,338.1v0.6M289.5,325.7v1.4M297.6,329.5v0.5M301.9,347.1v1.4M288.3,336.1v1.4M295.9,335.5v0.6M288.0,350.1v0.5M301.4,335.5v0.5M292.0,328.1v0.8M297.8,326.4v1.0M301.2,327.8v1.4M298.7,388.3v0.6M288.7,325.6v0.5M292.3,344.2v1.4M297.2,333.4v0.8M303.6,338.7v0.4M299.6,338.1v1.0M291.5,330.8v0.6M302.9,352.3v0.4M302.8,344.1v0.6M298.1,328.2v0.8M297.8,327.5v1.4M298.8,361.9v1.0M298.0,327.4v1.0M303.0,345.0v0.8M288.2,331.0v0.8M290.6,369.9v1.0M296.7,335.0v1.0M294.6,347.0v1.4M303.6,378.3v0.5M296.6,344.3v1.0M302.8,353.6v1.4M303.6,349.1v0.5M293.3,332.8v0.5M294.4,351.8v1.0M298.1,331.1v1.0M300.4,362.0v0.8M299.8,329.9v0.8M297.4,334.8v0.4M287.3,328.2v0.6M292.1,334.9v1.0M292.5,358.8v1.0M303.3,353.4v0.4M298.2,328.1v1.4M297.4,345.2v1.4M300.3,377.8v1.4M298.3,333.6v0.4M289.2,377.4v0.6M290.1,346.1v0.8M295.5,350.8v0.8M290.1,404.3v0.8M303.2,325.4v0.5M289.5,364.7v0.6M291.3,343.8v0.6M296.8,339.2v0.5M292.8,330.6v0.5M293.3,343.5v0.4M300.9,343.6v0.6M287.7,349.6v1.0M288.6,333.3v1.4M298.1,343.2v1.4M292.6,338.0v0.5M293.0,334.3v0.8M292.7,336.4v1.4M287.0,348.7v0.6M297.7,333.4v0.8M289.4,347.0v0.5M303.8,351.9v1.4M289.7,333.8v0.6M301.3,326.2v1.4M290.3,331.7v0.8M299.5,336.3v1.0M290.1,328.0v0.4M296.0,347.1v1.4M289.5,334.0v0.8M293.1,354.6v1.4M290.4,382.2v1.4M299.7,391.1v1.0M301.5,332.8v1.0M287.2,340.7v1.4M290.3,360.5v0.6M287.4,325.9v1.0M295.7,334.8v0.4M288.8,328.0v0.8M287.8,337.5v0.5M287.3,336.7v0.6M297.1,332.1v0.5M294.6,360.0v0.8M293.7,326.9v0.8M287.7,370.5v0.6M301.2,338.9v0.6M292.4,326.3v0.6M300.7,327.4v0.6M293.2,329.3v1.4M294.1,340.0v0.8M291.5,332.2v0.6M288.0,336.6v1.4M298.7,366.0v1.4M296.4,326.9v0.4M296.2,341.6v0.6M301.3,345.1v0.8M300.0,325.4v0.5M294.3,328.1v0.8M297.0,327.8v0.5M294.9,332.5v1.4M299.1,332.8v0.8M299.4,328.9v0.8M289.0,325.6v0.6M297.1,343.4v1.4M288.2,325.7v0.5M301.0,329.2v0.6M292.1,328.3v1.0M298.0,363.8v0.4M287.4,376.0v1.0M291.6,326.8v0.4M302.8,387.6v0.6M295.5,338.3v1.0M297.6,326.4v0.8M296.0,329.1v0.8M303.0,343.2v0.6M300.4,331.4v0.6M293.5,337.3v0.4M293.1,335.2v1.0M286.9,330.0v0.6M302.2,371.0v1.4M298.4,341.6v0.8M293.1,335.3v0.5M293.7,342.2v0.5M301.1,374.1v0.5M286.9,340.1v0.6M303.0,325.5v0.4M295.8,329.5v0.6M303.5,329.2v0.4M299.2,329.3v0.4M297.3,328.6v0.6M299.0,340.5v0.4M288.3,349.7v0.8M300.6,325.9v1.4M294.9,327.1v1.0M301.1,328.7v0.8M294.7,331.6v0.8M293.8,329.4v0.6M294.3,339.0v0.4M298.2,359.3v0.5M290.5,328.5v0.6M301.3,348.2v0.8M290.0,358.8v0.5M298.3,328.9v0.8M296.7,371.0v0.8M294.6,334.8v0.8M296.3,340.4v0.5M297.2,335.5v0.4M300.2,325.6v0.8M297.6,338.9v0.8M289.1,332.9v0.5M297.8,327.3v1.0M291.7,350.9v1.4M289.0,331.6v0.4M302.7,355.3v1.0M291.3,350.2v0.4M294.7,367.6v1.4M287.0,329.9v1.0M291.6,342.0v1.4M295.5,334.3v0.4M291.9,332.3v0.5M295.8,348.0v1.4M302.9,335.2v0.4M296.8,336.1v0.8M301.4,336.7v0.5M288.8,329.8v0.4M296.6,334.0v1.0M301.1,344.0v0.8M300.2,337.4v0.5M301.7,338.2v1.0M294.1,333.4v0.5M302.8,344.8v1.0M291.1,332.4v0.4M296.8,333.7v0.8M297.6,331.9v0.4M298.7,344.2v1.4M301.6,326.1v0.6M288.1,332.1v0.4M295.7,326.0v0.4M289.5,329.3v0.5M288.5,335.7v1.0M300.3,330.7v0.5M295.0,346.7v0.4M292.7,352.2v0.6M287.3,350.8v0.8M295.0,330.4v1.4M294.0,332.7v0.8M303.6,361.5v1.4M301.0,327.3v0.8M297.2,330.8v0.4M290.2,326.8v0.4M303.3,383.3v0.5M293.5,358.0v1.0M301.1,335.3v0.4M291.1,337.9v0.8M302.2,328.2v0.5M299.4,338.0v1.4M297.3,342.2v1.0M299.7,325.6v0.8M290.8,346.5v0.6M299.4,332.5v0.8M294.2,343.7v0.5M299.6,335.5v0.4M287.7,337.0v1.4M292.9,401.3v0.6M287.3,329.2v0.4M303.4,334.6v0.8M293.2,327.4v0.8M301.2,332.4v1.0M294.0,327.7v0.8M292.0,334.5v0.4M296.5,339.1v0.6M288.4,377.7v1.0M291.5,343.0v0.4M296.1,332.8v1.0M291.6,334.3v0.6M298.7,335.2v1.0M303.6,343.0v0.5M287.3,345.7v1.4M301.8,379.5v0.6M298.6,331.7v0.5M295.2,331.5v0.6M298.8,326.2v1.0M299.6,341.0v1.0M299.0,332.3v0.8M299.2,325.4v0.8M298.8,341.4v0.4M291.9,329.7v1.4M292.2,330.1v0.8M297.7,330.1v0.8M288.8,365.7v1.0M297.2,329.1v0.6M287.4,332.6v1.4M290.1,334.4v1.0M288.9,360.6v0.8M302.7,363.7v0.6M302.6,325.6v1.4M292.4,328.0v1.0M302.5,330.4v0.8M297.4,343.8v1.4M302.7,338.3v0.4M298.7,355.1v1.4M291.9,332.6v0.5M293.0,335.1v0.6M290.2,330.1v0.4M289.3,340.1v0.4M292.8,356.4v0.4M299.0,366.5v0.5M296.3,335.5v0.8M288.4,332.8v0.4M292.5,332.8v0.8M301.9,334.4v1.0M299.0,361.0v0.6M288.9,332.2v0.4M287.5,326.3v0.4M295.2,349.9v0.8M289.0,336.9v0.6M289.3,371.7v0.8M297.3,347.5v0.5M299.0,325.6v0.4M299.2,326.8v1.4M299.2,327.2v1.0M302.7,325.6v0.6M287.4,337.5v0.4M288.5,368.6v1.4M290.2,349.8v0.6M288.7,326.1v1.0M292.0,338.6v0.6M291.0,328.3v0.8M291.4,369.6v1.4M301.0,354.5v0.4M300.0,351.6v1.0M300.0,325.7v0.4M299.0,327.8v1.4M296.7,346.4v1.0M297.9,336.8v0.8M287.7,338.5v1.0M302.6,330.7v0.5M295.8,326.1v0.5M286.9,338.8v0.5M291.8,342.2v1.4M300.7,333.7v0.5M291.1,336.4v0.5M301.0,327.4v0.6M302.5,339.2v1.0M294.4,332.7v1.0M300.4,337.2v0.6M299.6,349.0v0.5M292.0,326.5v0.5M298.8,360.0v1.4M302.6,334.9v0.8M289.2,359.6v0.4M293.5,338.8v1.4M301.3,328.8v0.6M302.7,340.4v1.0M291.6,336.7v0.5M298.5,330.4v0.5M293.2,357.9v0.5M300.1,353.8v0.8M294.2,329.0v0.5M290.2,342.8v0.6M295.9,328.7v0.6M302.3,350.8v1.0M290.5,326.2v1.0M303.7,332.0v0.4M298.4,331.1v1.0M301.5,346.7v0.8M296.5,327.9v0.8M298.6,344.9v0.5M286.9,360.9v0.4M295.7,339.4v0.6M293.0,336.4v0.8M298.7,326.5v0.4M293.0,336.1v0.4M293.9,326.9v0.5M296.8,334.3v1.4M295.1,390.6v0.6M287.8,336.5v0.8M293.1,334.7v1.4M290.8,339.8v0.4M291.9,330.4v0.5M302.1,367.3v0.8M303.5,341.9v0.5M302.1,353.2v1.0M288.4,334.8v1.0M289.7,326.5v1.4M291.1,386.7v1.0M293.1,332.0v0.6M299.6,328.3v1.0M295.4,344.4v0.8M287.7,357.5v0.8M295.1,388.1v0.5M299.4,335.3v0.6M299.9,326.0v0.6M288.4,341.5v1.4M292.8,371.9v0.8M296.6,333.8v1.0M292.8,348.2v1.4M301.5,327.1v0.8M294.3,329.9v0.4M295.8,327.0v0.5M297.6,362.2v0.8M299.3,357.5v0.6M300.4,341.5v1.4M289.8,371.4v0.6M298.4,326.6v1.4M293.2,342.2v1.0M291.3,377.5v0.8M298.0,339.4v0.6M303.2,345.5v1.0M295.0,332.1v1.0M294.5,374.7v1.0M296.6,329.4v1.0M294.2,329.7v0.4M298.0,334.2v1.4M288.7,377.4v1.4M288.9,342.1v0.8M300.0,325.8v1.4M302.9,342.3v1.4M295.7,331.7v0.4M296.6,333.6v0.8M296.4,398.3v0.4M297.2,338.8v0.6M289.5,361.1v0.5M292.9,334.1v0.6M290.2,333.1v0.4M295.3,325.5v1.0M295.2,325.5v0.5M296.7,327.8v0.8M289.5,380.5v0.8M295.4,375.1v0.6M296.8,334.2v1.0M302.4,359.0v1.4M300.2,326.5v0.5M288.1,352.6v0.6M290.3,352.1v0.5M299.0,338.6v1.4M301.4,342.5v0.4M295.2,362.7v0.8M296.2,370.7v0.6M290.9,333.3v0.4M294.8,327.1v0.8M287.0,327.5v0.4M292.1,331.4v1.4M293.6,364.6v1.4M295.2,337.5v1.0M296.3,337.0v1.0M289.3,333.6v1.0M289.2,332.2v0.8M292.9,330.7v1.0M299.9,326.3v0.4M294.9,350.7v0.8M291.8,344.4v0.4M301.1,355.7v1.0M287.5,353.7v1.0M296.8,329.8v0.5M288.8,325.7v0.4M301.9,329.8v0.5M298.3,331.3v0.5M295.1,330.2v1.0M297.1,353.4v0.5M303.0,382.8v0.5M302.5,328.2v0.8M303.4,329.0v0.8M303.2,379.9v1.0M299.5,328.7v0.8M289.6,334.5v0.4M288.9,362.8v0.6M302.5,325.2v1.0M294.1,338.3v0.8M287.4,356.1v1.0M295.0,342.9v0.6M302.9,330.4v0.5M287.9,328.8v0.4M299.3,328.9v0.4M299.6,334.6v0.5M288.9,338.7v1.0M299.0,328.0v0.4M288.0,329.1v1.0M292.9,340.9v0.6M301.7,331.5v0.8M287.4,342.7v0.8M298.9,348.6v1.0M290.5,353.3v0.5M302.6,354.1v0.8M291.2,332.7v0.8M298.6,335.7v0.6M296.9,343.3v1.0M299.2,341.8v0.8M298.5,327.8v0.4M297.8,353.1v1.4M294.3,357.8v0.6M301.8,334.6v1.0M292.4,349.3v1.0M290.5,332.6v0.5M293.9,326.8v0.4M287.2,343.6v1.0M299.1,333.8v0.5M295.4,383.3v0.6M300.1,352.3v0.4M298.9,329.2v0.6M299.7,342.6v1.0M296.7,326.1v1.4M297.6,338.5v0.5M289.4,350.6v0.6M295.8,339.2v0.5M290.5,335.7v0.4M302.5,350.8v0.4M291.7,374.0v1.4M296.8,365.1v0.8M302.7,349.2v0.4M296.9,337.2v0.5M298.5,332.2v0.6M299.2,335.8v0.6M292.3,327.3v0.5M294.5,326.2v0.4M299.0,327.7v1.4M296.6,330.2v1.4M295.3,328.1v0.6M298.0,341.1v1.4M286.9,326.8v0.5M300.8,336.9v0.8M295.5,328.7v1.4M296.3,326.8v0.4M303.1,338.4v1.0M295.9,327.1v0.8M301.1,336.0v1.0M288.4,327.3v0.6M291.3,337.6v1.0M297.4,382.4v1.4M303.5,333.4v0.4M298.2,337.9v0.6M302.3,358.3v0.5M298.2,333.6v0.4M290.3,325.9v0.4M299.8,340.5v1.0M302.4,364.8v1.4M292.5,352.2v0.5M293.2,345.7v0.5M302.9,328.2v0.4M299.0,345.1v0.4M292.3,336.6v0.6M298.4,328.9v0.6M301.0,367.6v0.8M297.6,334.8v0.8M297.8,327.9v1.4M294.4,330.8v0.8M299.7,326.5v0.4M291.8,331.7v0.5M295.1,364.6v1.0M291.8,375.7v0.5M292.8,329.8v0.8M297.7,331.9v1.0M287.7,356.3v1.4M286.9,347.1v0.8M301.7,339.0v1.0M296.9,339.1v1.0M293.8,335.8v0.8M290.6,374.7v1.0M301.4,364.5v0.8M302.8,328.3v1.4M295.5,352.0v0.5M295.3,336.8v0.8M297.4,326.2v1.4M301.0,342.5v0.8M297.7,332.8v0.5M287.7,326.9v0.8M302.5,392.1v0.6M291.5,371.8v1.0M295.1,331.8v0.6M299.0,328.0v0.5M287.6,334.5v1.0M298.3,327.0v0.5M294.8,343.3v0.8M287.4,360.0v0.8M288.2,329.9v0.5M299.4,329.3v1.4M288.1,336.5v1.0M295.1,332.2v0.8M288.3,335.1v1.4M292.8,365.5v0.6M293.8,331.4v1.0M293.6,330.5v0.8M298.1,325.6v0.8M295.9,333.7v0.5M298.8,342.8v0.6M299.2,330.2v0.4M301.1,330.0v1.4M294.2,328.0v0.6M291.9,374.7v0.8M301.0,329.9v0.8M302.6,336.9v1.0M303.1,325.7v0.5M290.2,326.3v1.4M288.3,360.6v0.4M289.8,336.4v0.4M297.7,351.7v1.4M310.5,329.7v1.4M313.7,365.8v1.4M314.1,361.7v0.5M315.5,328.7v0.5M316.7,360.8v0.4M307.1,348.9v0.8M308.5,365.2v0.5M308.6,395.2v1.4M313.9,336.6v0.5M317.6,329.9v0.8M308.8,334.5v0.5M311.1,332.1v0.6M311.8,374.8v1.0M314.3,340.4v0.4M312.9,336.6v0.5M312.0,341.1v0.6M312.9,328.4v0.8M317.9,328.0v1.0M315.7,325.7v0.6M316.8,345.4v1.0M307.2,367.0v1.0M306.5,367.3v0.4M307.5,347.5v1.4M310.4,334.8v0.6M310.7,367.4v0.4M311.6,345.5v1.0M315.9,343.2v0.4M316.2,334.5v0.8M312.9,333.0v0.5M307.8,339.2v0.8M308.1,348.0v1.4M310.4,360.8v0.4M315.9,338.2v0.8M306.7,330.0v1.4M308.3,356.8v1.0M312.8,336.7v0.8M316.4,331.2v0.4M317.5,335.8v0.5M308.3,356.1v0.8M310.2,336.0v0.8M308.9,336.3v0.6M311.3,328.3v0.5M307.0,335.7v1.4M315.2,349.9v0.4M307.9,404.4v1.4M317.5,337.3v0.4M306.6,352.2v0.4M317.6,334.0v1.4M314.4,331.4v1.4M316.1,393.2v1.0M312.6,367.4v0.5M313.9,345.8v1.4M306.6,340.0v0.6M317.1,328.7v0.5M310.2,348.0v0.8M311.4,328.9v1.4M311.5,368.4v0.5M313.4,337.6v0.6M313.5,345.5v1.0M315.5,338.3v0.6M314.6,327.0v1.4M311.5,338.5v1.4M307.3,341.5v0.6M317.5,348.7v0.5M311.6,349.0v0.4M316.0,336.3v1.0M317.8,356.8v0.4M317.8,346.3v0.5M307.3,326.0v1.0M311.8,337.0v0.4M308.3,328.9v1.0M316.1,339.1v0.4M312.3,328.2v0.5M317.7,341.2v0.8M313.4,337.5v0.6M309.6,336.7v0.4M309.9,327.0v0.8M313.3,325.3v0.4M308.2,328.8v1.0M309.4,348.1v0.8M309.3,326.0v1.4M312.3,333.6v0.8M309.3,372.8v0.6M312.5,331.0v1.0M315.8,345.5v0.4M316.6,372.5v0.6M317.1,328.5v1.4M311.1,331.8v0.5M310.5,342.5v0.6M307.6,331.2v0.5M308.8,326.6v0.6M317.3,351.6v0.8M308.5,327.7v1.0M315.6,348.7v1.0M313.9,330.7v0.6M313.0,341.2v0.8M310.7,326.0v0.5M317.8,326.3v0.4M312.6,337.0v0.6M312.7,364.1v0.8M310.6,335.1v1.0M309.0,355.7v0.8M313.7,340.5v0.5M312.4,329.3v1.4M306.6,329.6v0.4M317.8,326.4v0.8M316.4,335.5v0.8M306.7,331.1v0.6M306.3,327.5v0.8M315.8,326.2v1.0M310.5,346.2v1.0M309.6,337.6v1.4M311.0,326.3v0.6M309.2,328.6v0.8M308.4,348.5v0.5M314.2,325.3v0.6M312.9,325.2v0.8M313.2,342.0v0.5M308.8,334.6v0.5M317.5,347.1v0.8M309.9,343.3v0.4M311.5,337.7v0.4M311.3,388.0v1.0M317.4,335.0v1.0M311.2,329.7v0.4M311.4,327.5v0.6M315.7,333.9v0.4M317.3,333.9v0.5M315.4,340.7v0.5M312.2,338.2v1.0M315.8,343.2v1.4M307.1,355.1v1.0M306.9,334.6v0.8M317.2,351.6v0.6M308.9,336.0v0.5M308.5,359.2v1.4M314.2,326.6v0.5M314.2,337.5v0.6M316.3,328.3v0.4M316.7,326.5v1.4M312.7,331.3v0.8M318.0,339.8v0.5M309.8,326.8v0.6M306.7,329.8v0.8M308.5,344.1v0.6M313.3,344.3v0.4M307.1,360.1v0.6M312.9,334.6v1.4M308.4,362.2v0.5M317.5,333.6v0.6M317.9,330.9v1.0M317.5,329.9v0.5M317.4,336.1v0.6M315.7,330.0v0.5M308.2,333.7v1.4M308.0,327.0v1.4M313.9,329.7v0.6M310.1,333.0v0.4M310.9,364.8v1.0M312.8,360.4v0.4M315.7,338.3v0.5M312.3,355.4v1.0M313.9,340.4v1.4M307.1,335.7v0.4M315.7,363.6v0.5M311.6,332.2v1.0M311.4,340.3v1.0M312.8,359.2v0.6M307.0,335.5v1.4M309.1,330.7v0.4M316.6,337.6v0.6M318.0,346.4v0.4M314.6,326.6v0.4M314.4,343.1v1.0M307.5,343.6v1.0M331.0,337.6v0.8M321.8,357.2v0.5M324.1,330.4v0.6M327.0,346.4v0.6M324.5,325.2v0.6M329.4,334.6v0.4M329.4,339.5v1.0M321.3,343.4v0.6M320.8,328.8v0.6M323.2,336.2v1.0M320.8,326.5v0.5M326.6,329.4v0.8M323.5,327.3v1.0M327.2,330.3v1.4M328.9,369.7v0.8M322.1,342.1v0.6M330.3,354.7v0.5M327.4,327.9v0.5M320.5,336.8v0.4M325.9,326.5v0.4M328.5,355.4v1.0M330.9,346.0v0.4M322.3,326.6v0.4M328.4,338.7v0.4M330.9,339.5v1.4M324.6,331.4v0.5M331.4,371.1v1.4M324.2,325.3v0.4M324.7,335.3v0.8M326.8,328.0v0.6M330.2,362.1v0.4M325.0,352.8v1.0M323.7,325.3v1.4M328.5,329.9v1.4M331.7,328.0v1.0M324.3,354.5v1.4M329.9,344.2v0.4M326.0,331.2v1.0M326.0,337.0v1.0M322.8,342.9v1.4M324.7,356.8v1.0M323.1,326.4v0.5M323.3,329.1v1.4M330.2,331.3v1.4M321.1,329.6v0.6M324.7,344.2v1.4M322.8,360.0v1.4M323.8,331.8v0.8M320.7,327.4v0.5M330.1,341.9v0.8M321.9,330.8v0.5M323.8,326.1v0.5M321.4,338.9v1.4M329.3,325.6v0.5M327.2,339.8v0.5M325.6,337.4v1.0M322.9,332.7v0.4M329.0,346.2v1.0M324.9,328.2v0.5M326.3,340.0v0.5M330.6,331.3v1.4M329.0,333.6v1.0M322.4,341.0v1.4M327.6,328.9v1.4M327.8,338.9v0.8M324.9,347.5v0.6M324.0,346.8v1.0M321.3,331.1v0.6M328.4,361.4v1.0M330.2,325.4v0.6M327.5,331.9v0.6M331.6,340.3v1.0M329.5,325.9v0.5M325.1,340.0v0.4M331.5,330.4v1.0M323.9,328.6v0.5M325.8,340.5v0.4M322.2,334.0v0.8M325.4,337.4v1.4M323.4,335.4v0.5M327.9,326.9v1.4M329.3,342.1v0.8M328.4,350.4v0.6M328.5,332.7v0.5M328.4,330.7v1.0M328.7,335.0v0.8M321.3,351.4v0.5M328.3,336.2v0.6M323.6,348.4v0.8M329.3,333.5v1.0M323.1,344.5v0.4M330.4,369.2v0.5M323.4,355.1v0.4M324.1,334.2v0.8M329.4,348.7v1.4M320.8,336.9v0.8M324.8,342.3v1.0M329.1,335.7v0.5M331.1,326.8v0.6M324.3,331.8v0.8M327.5,344.5v1.0M324.3,330.6v1.4M322.0,335.6v1.0M326.1,351.8v0.6M327.1,353.1v0.5M323.9,340.0v0.6M325.0,334.3v0.5M330.4,350.6v0.5M329.4,326.6v0.4M321.9,329.9v1.0M330.7,373.9v1.0M330.6,343.4v0.5M326.5,356.4v1.0M325.8,345.1v0.6M326.5,329.6v0.6M323.4,328.9v0.5M325.0,326.5v1.4M322.2,350.6v0.6M325.8,333.3v1.4M322.0,325.2v0.6M325.6,334.9v0.4M326.4,332.6v0.4M323.0,350.9v0.6M323.6,326.0v0.4M330.4,331.3v0.5M321.6,357.8v0.5M328.4,331.4v0.8M323.2,343.4v0.4M324.2,326.5v0.5M326.4,336.7v0.8M328.8,329.0v0.8M322.1,349.6v1.0M323.8,328.2v0.4M328.3,339.6v1.0M327.2,336.1v1.4M324.1,327.9v0.6M329.1,333.2v1.0M323.1,355.4v0.6M324.4,335.9v1.4M330.5,366.8v0.6M322.9,340.4v1.4M330.8,334.8v0.4M328.9,353.0v0.5M320.7,333.5v0.8M325.9,335.7v0.8M323.8,385.3v1.4M330.1,363.3v0.8M324.6,327.1v0.6M321.9,338.7v1.0M330.8,346.4v1.4M325.6,332.5v0.6M321.2,327.7v0.5M324.2,357.9v1.4M326.7,336.8v1.0M321.4,329.4v0.5M322.7,325.7v1.4M321.1,330.4v0.5M330.3,331.8v0.4M327.2,334.3v0.6M321.8,325.5v1.0M322.4,336.8v1.0M322.5,337.3v0.8M331.0,332.2v0.8M325.8,332.1v0.6M331.3,335.6v1.4M329.3,341.7v0.8M322.7,330.9v0.8M324.7,346.2v0.6M330.7,326.5v0.8M323.2,336.1v1.0M322.2,330.8v0.8M329.6,334.0v0.4M323.1,327.7v0.8M331.5,350.7v0.8M331.0,327.0v0.5M330.8,359.2v0.5M330.0,358.2v0.5M328.0,335.9v1.0M331.7,355.4v0.6M330.0,336.2v0.6M329.0,334.4v0.8M320.9,331.0v0.4M323.3,329.2v0.5M321.5,348.2v0.8M323.6,330.1v0.6M322.5,372.6v1.0M329.7,340.4v1.4M327.1,334.0v0.8M326.9,326.1v0.4M326.5,349.3v1.4M330.8,328.4v0.4M325.2,341.8v1.0M327.1,330.2v0.6M330.0,326.1v0.5M323.8,333.7v0.5M329.2,327.6v0.4M323.0,370.2v0.4M322.1,370.4v0.5M322.3,328.8v0.5M325.8,334.3v1.4M322.1,330.7v0.4M323.9,355.8v0.4M323.5,332.1v0.6M326.4,337.2v0.5M330.9,370.5v1.4M320.7,350.0v1.0M325.0,374.1v1.0M330.9,338.3v1.0M328.7,357.4v0.8M320.6,332.2v0.4M322.9,361.4v1.4M330.0,331.9v0.5M322.7,366.8v1.0M323.3,340.5v0.4M322.2,346.7v1.0M324.2,358.9v1.0M323.4,336.3v1.0M330.5,341.9v0.4M322.8,326.6v0.6M325.7,332.7v0.6M327.5,333.5v1.0M321.2,327.0v0.6M325.9,333.7v0.5M326.0,332.6v1.4M323.4,331.5v0.5M328.9,330.2v1.4M325.7,327.2v0.6M321.9,333.7v1.0M323.2,348.6v0.5M330.5,329.3v0.8M322.4,353.9v0.8M325.9,328.2v0.5M326.4,335.1v1.4M330.1,342.2v0.8M324.5,332.6v0.6M321.1,365.1v1.4M321.8,333.6v0.6M324.9,338.3v0.6M327.2,361.8v0.6M329.4,332.1v0.6M322.8,329.7v0.4M323.8,332.2v1.0M330.8,328.7v1.4M321.4,329.5v0.8M329.5,340.3v0.4M330.1,329.9v0.8M324.2,339.7v1.4M325.0,332.3v0.5M331.2,326.1v0.8M325.5,328.5v0.8M321.8,352.8v0.6M328.1,353.6v0.4M330.9,339.9v1.0M331.3,326.6v0.8M320.6,335.0v0.6M326.7,334.1v0.8M329.6,338.8v1.4M328.9,327.9v1.4M331.5,330.4v0.8M331.0,372.0v0.8M331.3,326.1v0.6M330.7,335.6v0.5M327.3,357.1v1.4M325.7,371.5v0.6M320.9,339.6v0.5M329.7,348.3v0.5M330.8,328.3v0.4M330.0,345.3v0.8M328.8,333.7v0.5M320.6,333.6v0.5M325.0,333.3v0.4M331.8,340.9v0.4M328.9,340.6v1.0M322.3,338.0v0.5M323.7,326.5v0.8M331.5,345.7v1.4M325.9,338.2v0.6M323.2,345.4v0.4M329.4,327.4v1.4M320.6,344.2v0.5M321.9,342.2v0.5M324.4,332.9v0.6M323.2,353.0v0.5M324.2,328.5v1.0M324.0,333.4v0.6M328.3,334.8v0.8M322.7,358.6v1.0M326.9,330.6v0.8M328.3,331.6v0.6M330.7,338.5v0.5M321.7,327.2v0.4M328.8,397.4v1.4M329.7,328.0v0.8M327.9,330.3v0.4M323.2,331.0v1.0M323.6,328.3v0.4M328.4,329.2v1.4M330.8,339.1v1.0M326.6,343.0v1.0M325.8,325.6v0.6M321.5,340.8v1.0M324.0,331.7v0.4M328.9,347.5v0.4M327.9,364.6v0.5M329.1,331.5v1.0M324.0,337.9v1.4M329.4,334.8v1.0M327.6,330.1v0.5M328.4,326.2v1.0M322.8,340.7v0.4M322.6,329.7v0.5M327.0,340.6v0.8M324.7,363.3v1.4M329.0,330.7v0.5M323.9,332.4v0.6M326.6,332.8v0.4M331.5,331.8v0.5M328.2,329.2v0.6M329.8,340.4v0.6M325.1,335.8v0.4M328.9,332.1v0.4M321.8,336.3v0.8M326.3,327.6v0.4M325.7,339.8v0.6M326.6,332.7v0.4M324.2,337.2v0.6M325.5,326.5v1.4M325.0,329.6v0.8M330.9,336.0v0.5M325.7,331.9v0.4M324.7,330.8v0.6M327.1,365.0v1.0M323.0,339.1v0.4M330.6,328.3v0.4M323.2,391.2v0.5M321.3,328.4v1.0M320.6,336.4v1.4M324.2,328.5v1.4M322.2,384.5v0.4M328.0,329.8v0.5M327.1,358.4v1.4M329.3,325.4v1.0M324.0,330.9v0.6M320.8,335.4v1.0M322.2,335.5v0.6M326.1,342.5v0.4M331.7,326.9v1.4M329.0,332.5v0.6M324.3,331.7v0.8M320.7,338.4v1.4M329.6,325.3v1.0M326.4,330.1v0.5M327.6,331.5v0.5M329.7,339.1v0.5M329.0,346.3v0.4M326.6,336.7v0.6M321.5,339.4v0.8M325.5,334.0v0.8M330.4,331.2v0.4M328.4,348.5v1.0M327.9,346.0v0.4M324.5,331.4v0.5M320.5,337.9v0.5M327.0,338.4v1.4M328.2,335.2v0.6M324.7,348.6v1.0M324.3,357.5v0.6M328.4,332.5v0.8M329.1,351.7v0.5M328.0,331.4v1.4M326.4,336.2v1.4M328.2,334.8v0.4M326.3,337.4v0.5M329.9,343.5v1.4M321.3,339.0v0.4M322.8,377.7v0.8M329.1,331.6v0.6M321.1,350.5v0.4M329.8,331.2v0.4M323.2,343.7v0.5M327.9,348.5v0.5M327.2,329.2v1.4M321.8,350.0v1.4M322.0,339.2v0.5M340.2,337.0v0.4M338.7,329.4v0.8M335.1,340.3v0.5M343.0,328.1v0.8M336.3,343.3v0.5M336.3,329.0v1.4M337.4,344.7v0.5M335.7,340.9v1.4M337.0,351.3v0.5M338.1,338.0v0.6M341.9,362.9v0.8M341.0,332.7v1.0M343.2,328.0v0.6M336.7,342.4v0.8M334.3,385.3v1.0M336.0,343.4v0.8M338.1,344.7v0.4M343.9,326.7v0.5M334.5,363.0v0.4M343.7,326.1v1.4M340.0,352.5v0.6M335.3,339.8v0.4M336.6,348.2v1.0M337.5,346.5v0.5M340.2,331.8v0.4M343.3,350.4v0.8M339.6,329.4v1.0M341.5,364.3v0.6M335.4,331.7v0.4M335.9,332.5v0.6M337.2,334.3v0.4M337.7,347.4v0.4M335.3,330.0v0.6M342.7,367.8v0.5M339.9,343.6v0.5M342.4,331.9v0.6M338.8,353.9v1.0M339.2,332.3v1.0M339.6,333.1v0.8M335.2,342.8v0.6M339.4,335.4v0.6M337.3,327.5v0.8M342.1,332.2v0.8M336.7,327.5v1.4M338.8,327.0v0.6M337.3,333.6v0.4M337.7,350.9v0.6M343.0,332.8v0.8M339.3,329.5v0.5M342.4,337.8v1.4M340.7,340.5v0.6M334.9,341.8v1.4M334.9,334.8v0.5M337.2,357.2v0.5M334.3,330.7v0.4M335.3,326.5v0.8M342.1,331.7v0.6M339.0,341.7v0.4M342.3,360.4v1.0M338.8,327.0v0.6M342.3,330.4v0.8M342.5,344.7v0.5M334.3,331.4v0.8M337.2,325.7v0.5M338.2,345.5v0.4M337.1,339.8v0.5M336.5,340.5v0.8M342.1,349.5v1.0M343.1,337.8v0.6M342.6,330.8v1.4M341.9,325.3v0.8M337.1,358.8v0.6M338.5,340.3v0.5M343.4,344.7v0.5M337.0,325.4v0.4M337.3,348.1v0.6M334.7,326.6v0.6M342.5,330.2v0.8M343.8,326.7v0.8M342.5,349.7v0.8M343.9,325.5v0.8M340.1,329.4v1.0M336.2,339.6v0.6M336.3,340.7v0.4M337.0,356.7v0.4M336.7,365.4v0.8M340.1,335.6v0.4M338.8,340.7v1.4M340.9,335.2v0.8M334.6,328.6v0.5M340.4,338.2v0.6M340.6,339.2v0.5M341.9,348.8v1.0M344.1,327.4v1.0M335.9,328.4v1.0M341.6,333.5v0.8M336.1,351.0v1.4M335.0,335.5v1.0M343.2,325.8v0.8M337.0,335.1v1.4M340.5,334.7v0.4M338.3,343.5v0.6M336.8,347.7v0.5M340.4,327.6v0.6M338.3,329.5v1.0M337.5,373.9v1.4M338.3,344.5v1.0M334.8,326.3v0.4M334.1,337.6v0.8M334.4,330.8v0.4M336.4,331.0v1.0M338.5,344.6v0.5M338.8,331.5v1.0M336.3,334.1v1.0M336.4,330.9v0.4M337.9,353.1v0.8M339.3,333.3v0.6M341.0,360.8v1.0M342.1,335.1v1.4M337.1,335.6v1.4M344.1,335.4v0.6M337.9,356.8v0.6M343.8,328.5v1.4M339.8,332.7v1.0M339.2,327.0v1.0M338.4,347.5v0.6M336.0,347.0v0.6M341.1,325.7v0.5M336.9,330.5v1.0M341.4,331.7v1.4M337.4,331.4v0.8M341.9,334.9v0.5M339.1,333.3v1.0M337.5,353.5v0.5M335.5,330.4v1.0M344.0,332.4v0.4M342.7,330.4v0.5M342.7,344.0v0.6M334.2,338.7v1.0M338.6,373.7v0.8M338.9,340.5v0.6M343.7,328.2v0.5M336.1,334.0v0.5M335.1,348.6v0.4M342.6,326.7v0.8M336.1,365.4v1.4M336.6,359.2v1.0M341.6,341.5v0.5M338.2,326.0v0.8M344.2,390.7v0.8M339.9,338.9v0.6M339.0,350.4v0.5M347.7,362.9v0.6M346.6,332.2v1.0M345.2,330.4v1.0M347.2,326.5v0.4M348.8,349.3v0.4M345.7,332.0v1.4M346.4,348.5v0.5M347.8,328.2v1.4M347.1,329.2v0.6M346.0,388.4v1.4M345.2,343.4v1.0M347.4,348.7v0.6M345.9,335.8v0.5M347.7,354.5v0.5M345.5,329.8v0.4M348.9,347.5v0.6M344.4,328.0v0.6M346.6,340.2v1.0M346.5,339.1v1.0M346.4,341.6v0.6M347.7,331.7v1.0M344.7,330.9v0.5M346.3,364.7v0.6M347.3,334.5v0.6M345.6,354.0v1.0M348.1,328.3v0.5M346.3,381.1v1.4M348.1,340.9v0.4M347.3,331.4v0.6M346.2,338.6v1.0M348.7,331.8v1.0M345.6,325.5v0.6M348.4,326.2v0.5M344.6,340.9v1.0M345.6,349.0v0.4M347.1,330.5v0.4M344.3,336.8v0.8M347.1,366.6v1.0M346.6,328.6v0.8M345.7,325.5v0.5M345.2,336.7v0.4M344.8,336.3v1.4M346.0,327.6v1.0M346.6,344.9v1.4M346.4,336.8v0.8M346.8,326.6v0.6M348.4,352.8v0.4M345.4,338.6v0.8M347.5,330.0v0.6M344.9,337.2v0.8M346.2,341.0v0.5M348.7,358.6v0.8M346.5,325.8v0.8M348.4,336.8v0.8M345.1,332.7v1.4M348.8,337.9v1.0M345.8,332.7v1.0M345.0,367.0v0.6M346.9,329.6v0.4M348.9,330.0v0.6M344.5,343.4v0.6M346.3,326.8v1.4M344.7,328.7v0.6M347.3,350.5v0.4M346.9,336.5v1.4M344.9,368.0v0.6M348.1,366.2v0.5M344.3,339.9v0.8M345.8,331.5v0.8M345.6,332.5v0.5M347.5,327.2v0.4M345.2,340.3v1.4M345.1,344.9v1.4M348.3,326.0v0.5M346.0,336.1v0.4M348.7,337.3v0.5M345.2,326.1v0.5M347.7,349.5v0.6M345.1,335.1v0.4M348.5,358.1v1.4M346.5,361.8v0.6M344.3,342.5v0.5M345.3,334.7v1.0M344.5,343.9v1.0M347.9,355.1v0.6M344.4,326.9v0.5M348.2,343.7v0.4M345.3,331.8v0.4M348.2,330.3v0.4M345.3,334.4v0.8M347.6,329.1v0.8M346.3,330.8v1.0M345.6,339.5v0.4M348.6,340.7v1.4M346.2,337.4v0.8M346.4,345.2v0.8M348.8,338.0v1.0M346.0,327.7v1.4M347.2,341.1v0.4M345.4,342.7v0.6M344.6,339.6v1.4M347.8,337.6v0.6M347.5,339.2v0.5M348.4,332.8v1.4M347.4,344.5v0.5M346.4,325.7v1.0M346.1,338.7v1.4M347.8,337.0v0.5M348.2,334.9v0.5M347.9,359.7v0.8M346.7,384.3v0.8M347.5,353.3v0.6M347.7,347.9v0.6M344.4,349.9v1.0M345.6,333.8v0.8M347.9,351.8v0.5M344.7,329.4v0.4M348.6,325.9v0.8M345.6,329.0v1.4M348.4,352.5v1.4M345.4,327.9v1.0M344.6,353.1v1.0M346.8,339.2v0.4M348.2,337.3v1.4M348.9,327.9v0.8M345.9,336.1v0.5M344.9,342.5v1.4M347.7,332.8v1.0M346.8,355.6v0.8M348.2,355.9v0.4M344.4,325.8v0.5M346.4,328.5v0.5M347.4,334.6v0.8M345.5,332.6v0.6M345.4,325.7v1.4M344.4,327.6v1.0M348.5,366.4v0.6M346.1,337.9v0.4M347.9,387.9v0.6M344.6,333.9v0.6M344.8,338.5v0.5M346.7,353.2v0.4M346.9,343.2v1.4M347.2,339.5v1.4M345.3,325.9v1.0M347.8,326.7v0.4M346.0,334.7v1.0M347.6,328.8v1.0M347.4,333.4v1.0M346.5,337.3v0.5M344.9,353.1v1.4M347.2,332.1v1.0M346.7,339.6v0.8M346.2,346.4v1.4M345.3,357.9v0.5M352.0,341.8v0.8M349.7,327.3v0.6M352.2,341.1v0.4M351.9,342.0v0.5M354.3,361.1v0.4M352.0,337.6v0.6M350.6,333.0v0.4M350.9,367.5v0.6M354.3,326.8v1.0M354.3,334.1v0.6M350.1,347.4v0.6M352.6,351.6v0.8M350.2,328.1v0.6M349.7,359.6v0.8M350.9,333.9v0.4M352.3,328.2v1.0M354.4,327.1v0.4M354.4,336.1v1.4M353.0,381.3v1.0M352.2,342.0v0.4M353.0,330.1v0.4M350.3,342.7v1.4M350.0,354.5v0.8M352.5,375.4v0.5M353.3,351.2v1.0M354.7,331.2v0.4M349.7,332.4v0.6M351.5,365.9v0.4M352.2,327.0v1.0M352.2,365.3v0.6M353.7,326.9v1.4M352.7,332.4v0.5M352.6,369.3v1.4M351.0,329.1v0.5M351.2,332.6v0.8M352.3,337.5v0.4M351.5,338.6v1.4M354.3,331.0v1.4M352.5,340.3v0.4M350.1,333.7v0.6M350.6,338.2v1.4M352.1,325.3v0.6M350.3,331.5v0.8M352.7,337.1v0.5M352.8,326.7v0.6M354.1,327.2v0.4M353.0,351.4v1.0M350.0,326.5v0.4M352.8,349.3v0.4M354.9,327.8v0.5M354.3,325.6v1.0M350.9,329.9v1.4M351.4,351.3v0.4M351.1,338.9v1.4M349.5,337.1v0.4M350.0,331.0v1.0M350.4,332.5v1.0M350.6,328.6v0.6M351.8,335.9v1.4M351.5,351.6v0.5M350.7,331.8v1.0M354.0,336.0v1.4M352.1,337.1v0.8M354.2,326.5v0.6M354.3,339.0v0.5M353.3,334.8v1.4M353.9,342.0v1.4M352.2,354.7v0.4M351.9,333.2v0.4M352.8,368.5v0.5M352.9,329.8v0.6M352.6,338.4v0.5M354.3,357.4v1.4M353.0,328.8v0.6M353.1,330.8v1.4M351.8,346.1v0.5M354.7,335.3v1.4M350.5,330.5v0.6M353.9,326.1v0.5M349.6,342.6v0.8M351.8,334.5v0.4M350.7,331.9v0.4M353.2,330.4v0.5M351.1,334.4v1.4M354.0,387.5v0.4M354.9,330.2v0.5M351.9,336.6v0.5M350.1,329.0v0.4M351.2,350.3v0.4M349.9,337.5v1.4M353.7,399.4v0.6M352.7,333.2v0.8M354.0,334.2v0.5M351.6,325.6v1.4M353.4,327.9v1.4M350.5,341.5v0.6M349.7,334.7v0.4M354.8,326.6v0.5M350.2,358.5v0.6M351.5,330.0v0.8M351.4,332.5v0.5M350.1,326.9v0.4M354.6,347.4v1.4M349.7,327.6v1.4M352.1,330.5v1.0M350.1,380.4v1.4M353.6,330.8v0.5M352.2,332.8v0.6M351.1,348.5v0.8M353.3,326.3v0.5M349.7,332.3v0.6M353.1,333.6v0.4M353.5,329.1v0.6M351.8,343.2v0.6M352.3,353.4v1.4M352.5,338.8v0.4M354.9,337.2v0.4M350.8,334.3v1.0M350.6,353.0v0.4M352.6,371.2v0.4M352.6,334.9v0.5M353.7,337.6v0.8M353.7,355.1v0.5M354.8,384.2v1.4M350.3,362.6v1.0M352.0,330.0v0.6M354.5,330.9v0.4M354.0,341.0v1.0M352.7,336.3v0.6M351.8,348.6v0.5M353.2,334.4v0.5M354.6,362.9v0.5M352.1,354.7v0.6M354.6,327.3v0.6M353.0,341.0v0.4M353.0,368.0v0.6M353.0,344.8v0.8M349.8,344.0v0.4M350.2,344.1v1.0M351.6,326.5v1.0M354.4,331.9v0.5M350.8,349.3v0.6M351.5,350.7v1.0M349.8,329.0v0.8M354.5,340.7v0.8M352.4,339.9v0.5M350.6,328.1v1.4M351.2,403.3v0.6M350.9,332.4v0.6M352.3,328.7v0.5M352.1,332.8v1.4M349.8,347.1v0.6M353.3,329.8v1.4M351.6,327.1v0.8M351.4,329.1v0.4M354.0,335.9v0.8M353.7,342.1v0.8M352.8,341.6v1.0M350.6,328.4v0.5M353.2,342.1v1.0M354.1,325.3v0.5M354.5,337.8v0.6M352.4,330.6v0.5M351.5,347.4v0.8M349.7,352.0v1.4M354.1,335.3v0.6M351.6,334.1v0.6M351.9,332.7v0.6M350.5,330.9v0.5M354.8,333.7v0.6M352.3,326.3v0.8M354.5,331.5v0.4M354.3,348.5v1.0M351.7,334.9v1.4M353.1,345.6v1.4M350.0,336.2v1.4M352.6,343.6v0.5M351.7,346.6v0.8M350.0,371.3v0.4M349.7,354.3v0.6M354.1,331.9v0.4M353.0,325.6v0.5M353.1,330.9v0.5M350.6,328.4v0.8M353.6,354.5v0.4M354.4,325.3v0.5M350.3,340.5v1.0M356.7,341.2v1.0M357.8,325.6v1.4M363.2,357.9v0.6M355.7,326.9v1.4M364.5,357.6v0.5M364.4,364.3v1.4M358.3,345.0v1.4M361.2,328.7v1.0M361.1,357.4v1.4M363.4,338.6v0.8M357.2,334.5v0.5M363.3,336.3v1.0M365.1,330.4v0.8M363.9,325.4v0.4M363.5,326.5v0.8M357.9,329.1v1.4M363.8,354.9v0.6M359.2,333.3v0.8M356.4,328.4v0.4M356.2,329.4v0.4M358.4,329.8v0.4M361.3,330.1v0.6M360.3,327.9v0.5M360.9,359.5v0.4M358.2,385.8v1.0M362.3,327.2v0.5M364.0,354.0v0.8M355.1,371.4v1.4M362.8,360.9v0.8M358.0,359.3v0.6M358.2,350.0v0.4M356.5,334.7v0.6M365.1,334.1v0.4M355.4,326.6v1.0M364.0,333.1v0.8M361.7,335.1v0.5M358.8,329.8v0.4M364.4,351.3v0.4M361.9,325.7v0.8M359.6,351.2v1.0M355.8,374.1v0.5M355.5,325.7v1.4M362.0,337.1v0.8M358.6,340.5v0.4M361.3,350.4v0.6M358.9,327.5v1.4M360.3,405.0v0.4M364.2,344.1v0.5M363.7,345.2v0.5M363.5,326.7v1.4M363.1,334.0v1.0M359.0,342.7v0.5M362.4,350.1v1.4M357.8,336.7v0.4M358.0,339.7v0.6M361.0,326.8v0.6M360.4,343.2v0.8M356.4,335.8v1.0M361.7,338.4v1.4M361.5,326.2v0.5M358.8,370.3v0.4M360.1,345.2v1.0M360.9,325.5v0.8M364.2,329.9v0.8M362.8,333.2v0.5M357.6,330.2v1.0M359.5,330.1v0.5M356.7,340.2v0.6M356.8,331.0v0.6M360.1,325.9v0.4M364.1,331.3v0.8M357.6,327.9v0.8M355.9,335.9v1.0M360.0,339.0v0.6M357.7,330.9v0.6M355.2,331.9v0.8M361.0,330.1v1.0M358.6,332.3v0.4M364.8,342.3v0.5M355.1,333.4v0.5M358.8,370.3v0.6M357.2,333.9v0.4M355.1,333.5v1.4M356.6,327.9v1.4M361.9,331.2v0.5M359.9,342.6v1.0M363.8,354.5v0.8M362.3,327.0v0.8M359.3,367.1v0.5M362.6,364.8v1.4M357.8,396.6v0.6M356.1,373.8v0.4M363.4,359.9v1.4M359.8,331.9v1.4M360.7,329.2v1.0M361.9,351.7v0.6M362.4,328.6v0.4M356.4,344.2v0.8M364.3,334.2v0.5M358.0,340.4v0.4M364.6,338.5v0.6M360.1,328.7v0.6M358.2,333.9v0.8M355.2,343.9v0.5M359.9,332.3v0.5M363.6,327.1v1.0M362.3,346.1v1.4M359.4,329.2v1.0M361.9,358.6v0.8M359.1,333.2v0.8M359.8,380.5v0.6M360.9,345.2v1.4M362.9,352.2v0.4M364.5,328.5v0.5M365.2,325.7v0.4M355.9,358.7v0.8M360.4,325.9v0.6M358.8,372.5v1.4M355.6,326.5v0.8M362.4,326.7v0.6M361.9,332.4v0.6M364.5,358.0v0.5M358.4,328.7v0.5M357.1,331.0v1.0M364.3,329.6v1.4M356.2,326.7v0.4M362.1,334.2v0.4M363.7,348.5v0.8M364.1,329.2v1.4M365.1,374.3v0.4M365.1,325.5v1.0M361.8,335.8v1.0M358.4,332.0v0.5M356.1,351.7v0.6M358.9,327.1v0.4M355.7,339.3v0.5M364.5,331.1v0.6M360.8,341.3v0.8M360.9,342.0v0.5M359.6,354.5v1.4M358.7,327.6v1.0M360.3,336.8v0.6M357.4,333.8v0.8M357.0,325.3v0.5M356.9,347.6v1.0M360.9,340.1v0.5M361.0,361.9v0.8M361.3,378.6v0.4M362.6,329.3v1.0M364.7,327.5v0.6M358.0,346.8v0.4M360.5,342.6v0.4M367.9,330.2v0.5M375.0,368.3v0.6M366.8,326.1v0.6M369.7,328.8v0.8M372.3,328.6v0.6M369.4,341.2v0.6M370.7,339.0v0.5M374.2,358.2v0.5M370.8,347.1v1.4M366.6,326.4v0.8M373.6,396.3v1.4M371.4,329.7v0.8M373.8,334.5v0.4M366.5,336.3v0.4M369.0,337.0v0.6M367.1,328.3v1.4M371.6,344.7v0.5M370.7,329.7v1.4M365.3,350.0v0.4M374.2,345.3v0.5M369.3,338.0v1.0M366.3,350.4v1.0M368.3,341.6v0.4M369.5,340.0v0.8M366.4,333.0v0.5M371.1,379.2v1.0M366.5,337.0v0.4M373.5,361.5v1.0M373.8,325.7v1.0M374.6,348.8v1.4M373.6,367.7v0.8M372.3,337.2v0.4M367.7,355.8v1.0M372.5,385.7v1.0M366.8,331.9v0.5M370.8,338.3v1.0M374.6,349.9v0.4M372.3,333.0v0.5M371.7,326.4v0.5M366.3,327.1v1.4M372.0,329.3v1.4M370.0,327.1v1.4M367.7,370.1v0.6M365.6,349.0v1.0M366.3,338.7v0.8M373.5,334.2v0.4M368.6,381.0v0.6M372.9,331.4v1.4M365.5,371.9v1.4M369.3,325.3v0.5M366.3,327.8v0.4M372.2,348.3v1.4M372.9,354.1v0.4M367.0,339.0v0.5M372.0,329.0v0.8M374.9,325.9v0.8M366.3,355.4v0.8M367.4,328.7v1.4M372.1,344.0v0.6M371.9,336.2v0.8M374.5,350.6v0.5M371.0,325.5v1.0M373.7,339.9v0.6M367.7,337.1v0.8M367.3,346.0v0.8M372.1,331.8v0.8M370.6,339.3v1.0M370.8,359.4v0.4M367.0,326.1v0.8M366.5,326.8v0.8M369.3,336.8v0.4M371.0,350.1v0.6M366.8,340.3v0.4M366.3,337.1v0.5M366.4,347.4v0.4M373.0,325.4v0.5M373.1,327.2v0.8M372.5,337.6v0.4M365.3,344.5v0.6M367.7,329.5v0.8M369.2,346.5v0.6M366.3,335.8v0.5M368.7,330.6v1.4M369.0,325.6v1.0M369.1,333.7v0.4M365.4,361.4v0.4M373.1,338.6v0.5M370.2,385.8v0.4M369.9,332.3v0.4M371.5,342.1v1.4M373.4,349.0v1.4M371.5,355.9v0.4M371.5,327.6v1.4M369.9,357.2v0.6M365.7,325.7v0.6M365.8,333.9v1.0M372.9,362.6v0.8M368.9,356.4v0.8M374.6,374.3v0.6M367.8,349.5v0.8M366.7,346.3v1.0M367.1,328.7v1.4M373.6,391.5v0.5M373.4,327.0v0.8M373.1,328.2v1.4M373.9,340.4v0.4M367.8,369.5v0.4M373.0,332.7v1.4M368.9,326.1v1.0M374.3,353.1v0.5M366.2,326.0v0.4M365.6,344.3v0.8M370.6,325.3v1.0M373.5,345.5v0.8M374.8,326.1v1.0M366.6,334.5v0.5M367.8,326.2v1.0M374.8,383.6v0.8M370.3,332.5v1.4M374.2,360.6v1.4M367.3,330.7v1.4M373.4,362.8v1.4M371.8,354.6v1.0M368.8,330.9v1.4M373.9,344.3v1.4M370.5,333.8v0.4M366.6,325.9v1.0M374.8,334.0v0.5M367.8,351.7v1.0M366.9,380.9v0.4M370.4,329.6v0.8M370.2,355.8v0.5M374.8,325.8v0.6M369.9,367.9v0.4M371.0,339.3v0.6M373.4,340.3v1.0M367.4,330.0v0.4M373.3,325.9v0.6M366.6,333.5v0.8M365.5,337.3v0.5M368.8,397.8v0.4M372.4,376.5v0.8M371.6,345.6v0.4M366.3,326.9v0.5M368.3,334.2v1.4M371.3,348.1v1.4M370.1,325.8v0.6M374.6,343.9v0.5M374.6,346.2v1.4M365.4,339.9v0.5M370.0,359.8v1.0M370.4,330.6v1.4M369.2,327.3v0.8M366.4,347.5v0.4M369.2,327.0v0.5M366.9,325.3v0.4M373.5,345.7v1.4M373.5,342.2v0.8M369.2,380.9v0.6M368.7,337.6v0.4M374.2,326.7v0.5M369.0,325.6v1.0M371.2,329.9v0.4M374.7,338.8v1.4M368.4,326.0v1.0M365.6,325.4v0.5M375.0,351.2v1.0M369.7,333.5v0.5M373.8,336.1v0.4M372.4,345.5v0.5M374.8,327.9v1.4M368.0,330.8v1.0M370.3,353.7v1.0M373.2,374.2v1.4M367.5,331.8v1.0M367.3,332.4v0.5M368.9,356.1v0.5M369.0,335.0v1.4M366.6,332.5v0.5M371.6,390.6v0.4M371.3,349.3v0.4M366.3,337.8v1.4M367.0,334.7v1.0M370.5,326.9v0.4M374.2,341.6v0.4M375.0,326.4v1.0M365.2,350.8v0.4M372.0,354.9v0.8M371.7,329.2v0.6M368.8,336.4v0.8M374.3,336.1v0.5M370.3,331.0v0.4M368.5,329.3v0.5M369.1,346.0v0.4M368.9,345.6v0.5M369.9,347.8v1.4M366.5,344.4v0.8M373.5,335.1v1.4M368.9,334.3v0.4M368.5,328.3v0.4M371.8,347.0v1.0M369.2,325.6v0.5M366.7,345.6v0.4M372.6,326.8v1.4M369.6,336.1v0.4M371.3,330.5v0.4M370.3,325.6v0.6M372.0,328.6v0.5M368.3,341.2v0.4M374.7,327.2v0.4M368.5,331.2v0.8M371.9,387.5v0.5M374.5,337.5v0.4M373.9,333.8v0.8M373.2,337.2v0.5M366.7,383.4v0.4M374.4,371.3v0.8M366.5,331.2v0.8M365.8,334.3v1.4M371.6,329.9v0.6M369.8,330.4v0.5M371.6,335.2v0.4M373.6,337.3v0.4M368.5,325.6v1.0M371.3,336.8v0.5M372.9,330.1v0.6M372.0,328.1v0.4M374.4,348.9v0.4M371.1,355.4v1.0M374.8,325.3v0.4M369.5,340.8v1.0M369.1,354.5v1.0M370.8,330.7v0.8M372.4,330.9v0.5M366.3,346.1v0.8M370.5,333.8v0.4M367.9,380.7v1.0M367.5,334.5v0.8M374.2,348.4v1.0M366.9,340.5v1.0M365.6,328.4v1.4M369.4,338.6v1.4M372.2,329.8v0.6M370.3,335.5v0.6M367.0,325.4v0.5M369.9,340.0v0.4M370.3,331.3v1.4M368.5,330.0v0.8M368.1,334.2v0.4M366.7,339.1v0.5M370.8,330.3v0.5M368.3,328.5v0.4M373.6,360.9v1.4M368.1,393.4v0.5M369.4,326.1v0.5M369.7,334.5v0.8M372.8,334.0v0.8M370.2,345.1v0.4M365.7,340.4v0.6M369.4,330.9v0.5M372.0,336.8v0.4M374.7,327.0v0.5M370.7,334.8v0.5M367.2,326.2v1.0M370.8,327.4v0.4M374.7,334.0v0.8M373.7,365.5v0.5M373.0,385.6v1.4M369.6,352.8v1.0M369.0,331.0v0.4M371.2,327.9v1.4M369.3,331.7v0.6M374.9,362.8v0.6M373.8,327.3v0.8M367.7,329.0v0.6M368.9,327.8v0.5M369.0,328.9v1.4M371.4,363.2v0.8M370.7,385.0v0.8M374.5,331.2v0.8M370.0,344.5v0.6M368.8,350.7v1.0M369.2,342.9v0.5M374.1,386.2v0.4M368.3,327.2v1.4M369.6,403.3v1.4M370.3,367.3v0.6M373.8,326.3v1.4M374.0,334.8v0.6M368.9,334.8v0.8M371.7,329.9v0.4M367.0,349.8v0.8M365.8,362.8v0.4M367.4,344.3v0.8M372.0,387.0v0.8M370.2,356.0v0.8M370.6,325.9v0.6M374.9,330.1v1.0M369.6,343.6v0.6M372.1,327.3v0.4M374.7,338.5v0.5M368.4,364.8v0.8M373.2,337.3v0.4M370.7,347.0v1.0M368.1,327.4v0.8M365.3,337.7v0.5M365.4,328.2v0.6M366.6,325.8v1.0M370.2,330.3v0.4M369.4,325.4v0.5M366.9,370.6v0.8M367.0,340.4v0.8M368.8,362.0v0.8M374.6,345.9v1.0M369.9,327.6v0.5M366.3,359.5v0.6M368.2,332.8v0.6M367.2,326.3v1.4M365.2,337.3v0.5M368.0,326.6v0.8M368.4,332.1v1.0M369.4,326.2v1.0M368.9,351.3v1.4M367.8,354.1v0.5M370.9,358.5v0.4M369.1,392.2v0.8M369.9,340.2v0.4M366.1,336.8v0.4M372.2,337.7v0.4M373.3,345.0v0.6M368.9,325.8v0.6M370.3,327.3v0.5M371.0,325.8v0.6M373.8,328.3v0.4M372.8,329.3v1.0M365.5,337.9v1.0M380.3,328.9v0.5M379.3,326.9v1.4M382.2,327.6v0.5M376.5,332.9v1.4M377.4,341.0v0.4M381.6,347.8v0.5M378.0,346.9v1.0M378.1,330.0v0.6M380.5,328.2v1.4M381.5,350.8v0.4M377.6,368.0v1.0M376.6,325.8v0.6M381.5,360.2v0.5M376.2,332.0v0.8M375.8,343.3v0.6M381.7,356.2v0.6M375.6,361.0v0.6M381.4,335.9v0.4M381.8,333.4v0.5M379.0,354.2v0.5M375.4,353.3v0.4M379.0,341.7v1.4M379.3,341.7v0.5M376.3,334.9v1.0M380.7,383.5v0.4M378.8,338.7v0.6M382.5,343.7v0.6M381.2,347.9v1.4M381.8,344.0v1.4M375.5,384.6v0.8M378.7,350.4v0.8M381.5,375.0v0.6M376.5,335.4v0.6M380.6,363.6v0.5M380.1,336.2v1.4M376.2,334.9v0.4M381.0,335.3v0.6M375.7,339.4v0.5M375.7,333.4v1.4M380.8,325.7v1.0M376.4,329.7v0.5M380.8,355.6v0.4M381.9,331.0v1.0M375.6,332.0v0.6M377.3,333.0v1.0M377.9,325.5v1.4M381.4,332.9v1.4M377.3,328.2v0.8M376.5,331.6v1.0M379.4,383.1v0.8M380.5,326.2v0.4M381.4,337.5v0.6M378.3,342.3v1.4M379.4,343.5v1.4M376.2,334.6v0.6M380.5,332.1v1.4M380.2,335.5v1.4M380.2,350.5v1.4M375.4,367.8v0.5M376.7,383.3v1.4M376.1,343.9v0.5M378.4,359.8v0.6M378.5,333.6v0.4M382.3,354.1v1.4M382.4,338.6v0.8M378.0,327.3v0.8M380.7,327.0v0.5M377.0,338.6v0.6M377.4,356.5v0.8M380.3,326.8v1.0M376.6,337.8v1.0M378.3,328.4v0.8M379.1,376.9v1.4M377.5,347.1v1.4M381.2,329.2v0.5M377.3,331.2v0.8M375.8,332.2v0.6M379.0,351.3v0.4M379.3,330.4v0.5M376.3,342.4v0.6M381.2,327.0v1.4M376.5,359.8v0.8M379.7,326.3v0.4M376.2,332.8v0.4M378.7,344.6v0.5M381.4,354.0v0.8M381.8,331.6v0.5M378.7,325.4v0.5M378.9,354.8v0.5M380.5,343.6v1.4M376.5,353.6v1.0M378.6,330.3v1.0M376.4,347.5v1.0M378.9,327.8v0.8M376.0,334.6v0.5M381.8,344.9v0.4M380.0,327.3v1.4M382.0,348.4v1.0M380.3,329.6v1.4M382.2,334.7v0.6M377.7,331.7v0.4M379.5,335.0v0.4M381.5,343.0v1.0M379.9,344.5v0.6M378.3,344.1v0.8M377.2,328.4v0.6M379.4,329.0v0.4M380.4,331.6v0.5M378.3,360.2v0.4M389.7,332.9v0.4M384.0,327.1v0.8M388.8,334.8v0.8M382.9,333.5v0.5M385.6,328.2v0.8M384.9,333.3v1.0M384.0,348.1v1.0M382.7,336.8v0.8M383.9,331.5v1.0M385.2,362.7v0.6M388.1,329.8v1.4M388.5,345.2v1.0M384.3,357.2v0.4M386.0,337.6v1.4M388.6,326.5v0.5M388.7,328.5v0.5M385.6,330.8v1.0M382.8,335.7v0.5M390.6,328.8v1.0M387.3,336.3v0.4M391.1,326.7v0.8M390.4,328.2v0.5M384.2,336.0v1.4M391.0,331.0v0.4M387.0,329.3v0.5M383.7,327.6v0.4M386.0,360.8v1.0M390.8,385.9v0.8M383.0,334.6v0.6M387.5,336.5v0.5M386.7,326.6v0.5M383.6,333.9v0.5M388.8,329.3v0.4M383.6,326.7v0.8M384.5,350.4v0.4M390.0,342.5v0.6M385.3,328.8v0.8M383.8,345.1v0.5M384.5,336.2v0.5M383.3,328.5v0.8M386.1,326.3v0.4M389.7,341.6v0.5M390.2,327.6v0.5M390.9,326.3v0.8M391.1,330.1v1.4M389.5,327.5v0.5M384.5,350.8v1.0M388.7,327.3v1.4M388.3,325.3v1.4M389.2,327.8v0.8M387.6,329.2v0.6M386.2,346.8v1.4M391.0,347.2v0.8M388.2,361.7v0.6M389.8,375.1v1.0M383.1,349.3v1.4M383.0,334.1v1.4M389.8,357.5v1.0M389.6,347.1v0.8M390.1,339.2v1.4M389.7,357.1v0.8M383.5,332.6v0.8M382.6,331.2v1.4M386.9,326.2v0.6M386.7,359.5v1.0M388.7,368.5v0.5M387.9,336.9v1.0M389.6,364.3v0.6M388.3,331.9v0.5M387.3,336.0v1.4M383.2,326.8v1.0M384.8,349.0v0.5M390.5,331.4v0.4M384.4,328.9v0.5M384.0,385.3v0.5M388.7,350.3v1.4M384.5,339.2v1.0M390.5,373.4v0.8M387.1,355.6v0.4M384.5,334.1v0.6M390.3,333.2v0.6M390.5,336.9v1.0M388.8,371.4v0.6M385.9,327.9v1.0M385.0,333.9v0.6M385.3,395.0v1.4M384.8,368.1v0.4M384.9,355.0v0.4M390.2,374.1v0.6M385.4,337.4v0.5M384.7,340.6v0.6M387.0,336.0v0.8M387.4,345.1v0.4M390.0,332.6v0.6M387.5,377.2v1.4M389.8,328.0v0.6M384.2,340.6v0.4M385.2,400.1v0.8M390.0,336.6v1.4M383.6,326.7v0.8M386.9,335.6v0.6M383.5,339.5v0.5M387.1,328.5v1.4M387.8,335.1v0.4M389.2,340.0v0.5M388.4,335.1v0.8M386.7,327.1v1.4M389.9,331.6v0.6M387.3,327.8v0.5M386.5,339.9v0.6M389.9,339.7v0.8M385.7,364.1v1.0M386.8,339.3v0.4M384.2,332.5v1.0M384.8,329.3v1.0M388.4,335.6v0.8M386.0,336.4v1.4M387.6,389.9v0.6M386.7,348.2v0.8M384.5,339.4v1.4M384.5,342.7v0.4M388.4,334.8v0.5M382.9,331.9v0.4M390.0,371.9v0.5M387.9,325.6v0.5M390.1,351.2v1.0M384.1,337.0v0.6M387.1,337.5v1.4M384.3,325.8v1.0M385.2,334.0v0.5M391.1,345.4v0.4M387.1,329.0v0.6M387.0,336.2v1.4M386.3,375.1v0.6M389.0,330.1v0.8M387.9,397.1v1.4M388.1,334.0v0.5M386.3,328.0v1.4M387.1,345.7v1.4M382.9,393.0v0.6M384.7,339.1v0.5M387.5,328.7v1.4M386.2,399.2v0.4M385.1,344.1v0.6M383.6,331.3v0.6M387.7,326.2v0.6M384.8,329.1v0.6M388.3,331.7v0.5M389.5,333.8v0.4M389.0,350.6v1.0M388.8,337.7v1.0M390.2,339.3v1.4M385.4,353.5v0.5M383.4,332.3v1.4M385.2,353.3v1.0M383.9,325.4v0.6M385.1,348.4v0.6M383.2,328.5v0.5M389.6,368.1v0.5M388.1,325.8v0.4M383.7,349.8v0.4M386.5,327.4v1.4M386.9,374.0v0.6M386.3,341.7v1.0M389.1,325.8v0.4M388.3,328.6v1.4M386.8,350.1v1.4M389.9,347.1v0.4M387.4,328.4v0.4M386.4,355.4v0.5M385.0,327.8v1.4M388.0,328.5v0.8M386.1,353.4v1.0M384.5,340.5v1.0M388.9,365.4v1.0M388.1,332.4v1.0M385.5,332.1v1.4M390.7,347.4v0.4M388.8,337.2v1.4M389.3,326.0v0.4M383.3,335.7v0.4M386.0,358.3v1.0M389.6,329.6v0.5M385.1,326.3v0.4M385.6,326.7v0.6M386.5,344.3v0.5M391.1,353.2v0.5M386.1,328.6v1.4M386.9,325.6v0.8M385.7,361.0v0.6M388.0,362.9v1.0M387.9,328.4v0.6M390.0,331.4v0.8M385.0,335.8v0.5M387.7,349.5v0.8M385.6,331.9v0.4M388.9,356.7v1.0M389.4,358.9v0.5M385.5,333.1v0.6M386.0,340.2v0.5M384.5,344.4v1.4M390.8,325.5v0.6M388.8,339.5v1.4M388.1,326.1v0.4M384.0,343.3v0.4M387.7,331.7v1.0M385.0,343.1v0.4M390.6,327.4v0.6M383.3,352.1v1.0M385.3,360.8v0.5M383.7,332.1v0.6M388.8,335.4v1.0M382.9,356.3v0.8M385.9,326.8v0.5M382.8,327.3v0.4M384.1,335.9v0.4M385.3,334.0v0.8M390.3,329.3v1.0M383.1,325.8v1.4M384.6,342.1v0.6M385.9,328.5v0.5M391.1,329.3v1.4M383.2,369.4v0.6M382.7,326.2v1.0M386.2,329.6v1.0M384.2,325.4v0.5M386.5,337.1v0.5M389.7,342.9v1.0M388.3,334.5v1.4M384.5,343.4v1.0M386.0,336.9v0.8M389.9,326.3v0.5M388.4,331.7v1.0M383.1,349.1v0.6M388.4,325.7v1.0M390.2,328.8v0.5M389.8,329.9v0.6M385.6,330.3v0.4M390.9,330.0v0.4M388.4,327.3v0.4M388.3,328.0v1.4M387.5,335.5v0.8M384.0,340.2v1.0M386.7,355.3v1.0M388.4,332.2v0.8M385.4,326.9v1.4M386.6,331.7v0.5M386.0,335.9v0.8M384.9,330.2v1.0M386.9,342.6v0.5M387.6,383.8v1.0M388.4,335.8v0.6M390.7,326.3v0.8M383.2,334.1v0.6M387.4,331.5v0.5M388.1,343.7v0.5M388.9,331.4v1.4M385.7,327.7v0.4M389.3,337.6v1.0M387.8,331.1v1.0M387.5,332.0v0.5M386.3,339.8v0.5M386.9,337.1v1.4M386.2,327.0v1.0M385.9,352.9v0.5M390.6,380.3v1.4M382.7,376.1v1.0M390.9,332.7v1.0M387.8,337.5v1.0M383.1,344.1v0.4M383.3,346.9v0.5M385.4,352.0v0.5M390.7,332.5v1.4M386.6,330.8v1.4M390.3,348.8v0.8M391.0,352.4v1.0M385.5,329.8v0.5M390.2,334.5v0.5M387.3,337.7v0.8M390.7,342.6v1.4M386.0,329.1v0.5M387.8,338.8v0.6M390.8,327.0v1.0M386.9,331.9v0.4M388.5,345.9v1.4M382.7,354.5v0.6M384.8,344.7v1.0M385.9,343.3v0.5M390.7,354.8v0.4M387.0,329.5v0.6M388.3,335.9v0.4M384.1,342.4v0.4M385.3,378.0v0.6M395.1,345.4v0.4M392.4,332.4v1.4M392.9,349.9v1.4M393.3,342.5v0.5M393.9,337.3v0.5M395.1,341.1v0.5M395.2,357.4v0.6M396.7,327.7v0.8M395.2,341.2v0.4M396.6,335.6v0.5M396.5,328.1v0.8M392.7,340.7v1.0M396.2,332.6v0.5M393.3,325.5v1.0M396.5,327.5v1.4M396.6,340.9v0.8M394.3,326.6v0.4M393.9,333.3v1.0M394.0,327.3v0.5M394.2,328.4v0.4M396.8,354.9v0.4M392.4,328.4v0.5M395.8,327.3v0.4M394.4,326.7v0.5M396.5,338.6v0.6M392.3,327.7v1.4M396.5,334.2v1.4M396.4,326.6v0.6M394.5,329.8v0.5M394.5,336.2v0.5M394.9,357.4v1.4M396.8,326.2v1.4M393.0,329.1v0.6M392.7,327.1v0.5M392.8,325.8v1.4M395.8,332.8v1.4M393.3,337.8v0.6M392.4,330.5v0.6M394.3,332.6v0.8M392.5,372.6v0.6M394.7,342.4v0.8M393.1,350.1v0.6M392.8,327.2v0.6M393.3,331.2v0.6M396.7,332.9v0.4M394.4,338.1v0.8M394.0,329.9v1.4M394.7,361.6v0.5M394.9,330.7v0.4M396.0,342.1v1.4M396.7,347.1v0.4M394.5,327.6v1.4M394.3,344.8v0.5M393.4,325.6v0.5M393.6,340.7v1.0M394.3,326.0v1.4M394.0,350.9v0.5M396.1,373.0v1.0M392.3,325.8v0.5M393.7,340.3v1.0M392.5,330.4v0.6M395.9,338.5v1.4M394.1,336.9v1.0M395.3,327.9v1.4M393.0,358.5v0.8M393.6,325.6v1.4M400.2,334.5v1.0M401.3,345.0v0.5M401.5,336.1v1.4M399.7,340.0v0.8M401.7,331.3v1.0M403.3,326.1v0.5M399.5,337.6v0.8M401.0,357.9v1.0M400.8,328.3v1.4M400.1,344.6v0.5M401.5,336.4v0.4M400.9,344.2v0.6M401.9,329.9v0.5M402.2,329.2v0.4M401.5,325.7v0.6M400.1,331.5v0.4M399.4,335.6v0.6M402.9,386.7v0.6M399.0,359.7v0.6M399.7,330.8v0.6M402.9,353.6v0.6M403.0,334.0v1.4M403.4,332.2v1.4M401.5,337.8v0.5M403.4,336.7v0.6M399.0,339.9v1.0M399.6,347.6v1.0M400.1,329.7v1.0M399.2,335.1v1.4M400.5,338.2v0.6M402.4,397.3v1.4M399.1,346.4v1.0M402.4,337.6v1.0M400.9,328.4v1.4M400.8,345.5v0.6M401.4,326.2v0.8M402.4,339.3v0.4M403.4,337.2v1.0M400.5,333.6v0.8M400.4,341.9v0.6M402.6,329.2v1.4M402.2,355.0v0.5M399.9,338.8v0.4M399.5,334.7v0.8M399.0,332.8v0.5M400.2,326.4v0.8M399.3,345.6v0.8M399.2,339.7v0.4M400.4,329.3v0.6M401.0,354.4v1.0M400.9,353.3v0.6M400.4,359.4v0.8M398.9,337.2v0.5M398.9,396.4v0.6M401.5,343.0v0.8M399.2,372.4v0.4M399.7,330.0v0.4M400.2,330.2v0.6M402.8,340.7v0.5M402.8,326.7v0.6M401.7,376.3v1.0M400.6,327.5v1.4M403.4,330.3v0.6M400.3,344.7v1.0M401.9,327.9v0.4M401.1,345.0v1.4M401.4,331.6v1.4M399.8,359.0v1.4M400.4,346.7v0.4M400.6,326.0v0.8M402.8,343.7v0.8M399.7,338.6v0.4M400.4,329.8v0.5M401.3,350.4v0.5M402.6,338.5v0.5M402.3,330.7v0.4M402.3,328.1v1.4M400.6,326.2v0.4M400.5,327.7v0.6M400.3,338.9v1.4M402.9,341.6v1.0M400.4,325.4v0.5M401.5,331.4v0.6M401.3,331.8v0.4M399.8,329.2v0.6M402.5,354.2v1.4M399.6,327.8v1.0M401.1,328.6v0.8M399.7,326.2v1.4M399.1,345.9v0.5M401.3,327.3v0.5M401.5,330.2v0.8M403.4,335.7v0.8M400.7,327.8v1.0M400.3,334.1v0.5M399.7,350.5v1.4M400.4,343.8v0.8M402.4,352.0v1.4M398.9,350.4v1.0M399.8,328.1v0.4M402.3,327.9v1.4M401.9,335.4v0.6M402.6,336.3v0.5M403.4,338.4v0.8M400.7,342.0v1.4M400.6,332.0v0.6M402.6,329.3v0.5M401.1,351.9v0.6M402.1,334.8v1.0M401.6,327.3v1.4M402.6,338.0v0.8M402.8,337.8v1.0M400.2,332.1v0.6M399.5,341.8v0.4M402.1,383.2v0.6M400.7,338.6v0.8M400.1,334.5v0.8M399.6,340.4v0.4M399.7,338.1v0.8M402.1,350.8v0.8M402.3,347.4v0.4M403.5,330.0v0.8M403.4,327.6v1.4M399.1,333.3v0.4M401.5,345.3v0.6M401.7,346.7v0.4M401.4,331.1v1.4M400.9,333.4v0.4M402.9,360.7v1.4M399.8,339.8v0.8M402.3,327.0v1.4M402.6,325.8v0.5M399.4,328.0v0.4M403.0,334.4v0.8M402.8,343.8v0.5M402.7,358.3v0.8M399.3,352.5v0.5M403.2,335.0v0.5M401.9,342.8v0.5M400.6,333.7v0.4M399.8,331.6v0.8M402.2,327.0v1.4M403.0,328.4v0.8M400.3,341.7v0.8M401.5,331.3v0.8M399.9,325.2v0.5M403.2,326.0v1.4M402.7,343.8v1.4M403.4,344.1v1.4M403.0,346.8v0.5M400.4,347.6v0.4M401.1,333.2v0.5M400.4,332.4v0.8M403.0,342.3v1.0M401.4,345.9v0.8" stroke="#fff" stroke-width="0.55" fill="none"/>
<circle cx="52.9" cy="281.2" r="0.6" fill="#5b8fcf"/>
<circle cx="62.2" cy="275.9" r="0.6" fill="#5b8fcf"/>
<circle cx="347.6" cy="286.5" r="0.6" fill="#1e3763"/>
<circle cx="395.3" cy="276.4" r="0.6" fill="#5b8fcf"/>
<circle cx="396" cy="291.3" r="0.6" fill="#5b8fcf"/>
<circle cx="388.9" cy="291.3" r="0.6" fill="#1e3763"/>
<circle cx="389.6" cy="297.6" r="0.6" fill="#1e3763"/>
<circle cx="380.6" cy="295.0" r="0.6" fill="#5b8fcf"/>
<circle cx="383" cy="298.7" r="0.6" fill="#1e3763"/>
<circle cx="380.6" cy="302.4" r="0.6" fill="#5b8fcf"/>
<circle cx="87.5" cy="300.3" r="0.6" fill="#1e3763"/>
<circle cx="85" cy="302.9" r="0.6" fill="#1e3763"/>
<circle cx="95" cy="301.9" r="0.6" fill="#1e3763"/>
<circle cx="98" cy="301.3" r="0.6" fill="#1e3763"/>
<circle cx="190" cy="300.3" r="0.6" fill="#1e3763"/>
<circle cx="190.5" cy="304.5" r="0.6" fill="#1e3763"/>
<circle cx="214" cy="298.7" r="0.6" fill="#5b8fcf"/>
<circle cx="216" cy="302.4" r="0.6" fill="#5b8fcf"/>
<circle cx="262" cy="299.2" r="0.6" fill="#5b8fcf"/>
<circle cx="245" cy="302.9" r="0.6" fill="#5b8fcf"/>
<circle cx="276" cy="305.6" r="0.6" fill="#5b8fcf"/>
<circle cx="297" cy="305.6" r="0.6" fill="#1e3763"/>
<circle cx="296.5" cy="307.2" r="0.6" fill="#1e3763"/>
<circle cx="122" cy="301.9" r="0.6" fill="#5b8fcf"/>
<circle cx="243.5" cy="308.2" r="0.6" fill="#5b8fcf"/>
<circle cx="230" cy="307.7" r="0.6" fill="#1e3763"/>
<circle cx="243" cy="310.9" r="0.6" fill="#1e3763"/>
<line x1="30.5" x2="421.5" y1="364" y2="364" stroke="#e0506a" stroke-width="0.8" stroke-dasharray="1.3 1.1"/>
<text x="24" y="418.9" font-size="5" text-anchor="end" fill="#4d4d4d">0</text>
<text x="24" y="365.8" font-size="5" text-anchor="end" fill="#4d4d4d">10</text>
<text x="24" y="312.7" font-size="5" text-anchor="end" fill="#4d4d4d">20</text>
<text x="223" y="429.8" font-size="6.1" text-anchor="middle" fill="#222">Nhiễm sắc thể</text>
<text transform="translate(15,343) rotate(-90)" font-size="6.2" text-anchor="middle" fill="#222">-log<tspan font-size="4.2" dy="1">10</tspan><tspan dy="-1">(trị số P đã hiệu chỉnh)</tspan></text>
</g>
<g id="scatter">
<line x1="83.3" x2="83.3" y1="523.4" y2="693.5" stroke="#f0f0f0" stroke-width="0.5"/>
<line x1="169.1" x2="169.1" y1="523.4" y2="693.5" stroke="#f0f0f0" stroke-width="0.5"/>
<line x1="254.8" x2="254.8" y1="523.4" y2="693.5" stroke="#f0f0f0" stroke-width="0.5"/>
<line x1="340.5" x2="340.5" y1="523.4" y2="693.5" stroke="#f0f0f0" stroke-width="0.5"/>
<line x1="56" x2="410.6" y1="662.0" y2="662.0" stroke="#f0f0f0" stroke-width="0.5"/>
<line x1="56" x2="410.6" y1="615.3" y2="615.3" stroke="#f0f0f0" stroke-width="0.5"/>
<line x1="56" x2="410.6" y1="568.6" y2="568.6" stroke="#f0f0f0" stroke-width="0.5"/>
<line x1="126.2" x2="126.2" y1="523.4" y2="693.5" stroke="#e4e4e4" stroke-width="0.8"/>
<line x1="211.9" x2="211.9" y1="523.4" y2="693.5" stroke="#e4e4e4" stroke-width="0.8"/>
<line x1="297.6" x2="297.6" y1="523.4" y2="693.5" stroke="#e4e4e4" stroke-width="0.8"/>
<line x1="383.3" x2="383.3" y1="523.4" y2="693.5" stroke="#e4e4e4" stroke-width="0.8"/>
<line x1="56" x2="410.6" y1="685.4" y2="685.4" stroke="#e4e4e4" stroke-width="0.8"/>
<line x1="56" x2="410.6" y1="638.7" y2="638.7" stroke="#e4e4e4" stroke-width="0.8"/>
<line x1="56" x2="410.6" y1="591.9" y2="591.9" stroke="#e4e4e4" stroke-width="0.8"/>
<line x1="56" x2="410.6" y1="545.2" y2="545.2" stroke="#e4e4e4" stroke-width="0.8"/>
<rect x="225.4" y="523.4" width="185.2" height="162.0" fill="#8fbf5a" fill-opacity="0.28"/>
<rect x="297.8" y="523.4" width="101.6" height="84.4" fill="#f2dc7b" fill-opacity="0.5"/>
<line x1="56" x2="410.6" y1="685.4" y2="685.4" stroke="#8a8a8a" stroke-width="0.55" stroke-dasharray="1.6 1.4"/>
<line x1="225.4" x2="225.4" y1="523.4" y2="693.5" stroke="#8a8a8a" stroke-width="0.55" stroke-dasharray="1.6 1.4"/>
<line x1="297.8" x2="297.8" y1="523.4" y2="693.5" stroke="#8a8a8a" stroke-width="0.55" stroke-dasharray="1.6 1.4"/>
<path d="M189.3,685.4 L225.4,654" stroke="#808080" stroke-width="4.9" stroke-linecap="round" fill="none"/>
<path d="M225.4,654 Q245,638 262,628 T297.8,606.3" stroke="#4a9ab8" stroke-width="4.9" stroke-linecap="butt" fill="none"/>
<path d="M297.8,606.3 L324.5,586" stroke="#cf7a3f" stroke-width="4.9" stroke-linecap="butt" fill="none"/>
<circle cx="327" cy="584" r="2.4" fill="#cf7a3f" fill-opacity="0.85"/>
<circle cx="331.5" cy="580.8" r="2.4" fill="#cf7a3f" fill-opacity="0.85"/>
<circle cx="334.5" cy="578.8" r="2.4" fill="#cf7a3f" fill-opacity="0.85"/>
<circle cx="337" cy="577" r="2.4" fill="#cf7a3f" fill-opacity="0.85"/>
<circle cx="340" cy="574.8" r="2.4" fill="#cf7a3f" fill-opacity="0.85"/>
<circle cx="342.5" cy="573.2" r="2.4" fill="#cf7a3f" fill-opacity="0.85"/>
<circle cx="345" cy="571.2" r="2.4" fill="#cf7a3f" fill-opacity="0.85"/>
<circle cx="348.4" cy="569" r="2.4" fill="#cf7a3f" fill-opacity="0.85"/>
<circle cx="354.9" cy="563.8" r="2.3" fill="#cf7a3f" fill-opacity="0.55"/>
<circle cx="361.3" cy="558.6" r="2.3" fill="#cf7a3f" fill-opacity="0.55"/>
<circle cx="372.3" cy="549.6" r="2.3" fill="#cf7a3f" fill-opacity="0.55"/>
<circle cx="383.5" cy="540.4" r="2.3" fill="#cf7a3f" fill-opacity="0.55"/>
<circle cx="394.7" cy="531.2" r="2.3" fill="#cf7a3f" fill-opacity="0.55"/>
<line x1="215.9" y1="529.4" x2="394.7" y2="531.2" stroke="#3a3a3a" stroke-width="0.75"/>
<line x1="205" y1="542.2" x2="383.5" y2="540.4" stroke="#3a3a3a" stroke-width="0.75"/>
<line x1="148.7" y1="584" x2="327" y2="584" stroke="#3a3a3a" stroke-width="0.75"/>
<text x="214.7" y="533.8" font-size="12.9" text-anchor="end" fill="#1a1a1a">cg22652934</text>
<text x="204" y="546.8" font-size="12.9" text-anchor="end" fill="#1a1a1a">cg13452062</text>
<text x="148" y="589.2" font-size="12.9" text-anchor="end" fill="#1a1a1a">cg07189579</text>
<text x="53.5" y="689.7" font-size="13.2" text-anchor="end" fill="#4d4d4d">10</text>
<text x="53.5" y="643.0" font-size="13.2" text-anchor="end" fill="#4d4d4d">15</text>
<text x="53.5" y="596.2" font-size="13.2" text-anchor="end" fill="#4d4d4d">20</text>
<text x="53.5" y="549.5" font-size="13.2" text-anchor="end" fill="#4d4d4d">25</text>
<text x="126.2" y="705.9" font-size="13.2" text-anchor="middle" fill="#4d4d4d">0.09</text>
<text x="211.9" y="705.9" font-size="13.2" text-anchor="middle" fill="#4d4d4d">0.12</text>
<text x="297.6" y="705.9" font-size="13.2" text-anchor="middle" fill="#4d4d4d">0.15</text>
<text x="383.3" y="705.9" font-size="13.2" text-anchor="middle" fill="#4d4d4d">0.18</text>
<text x="224.5" y="721.5" font-size="13" text-anchor="middle" fill="#111">R<tspan dy="-5.5" dx="0.5" font-size="9">2</tspan></text>
<text transform="translate(31.4,608.5) rotate(-90)" font-size="13.4" text-anchor="middle" fill="#111">−log<tspan dy="3" font-size="9.5">10</tspan><tspan dy="-3">(Trị số P đã hiệu chỉnh)</tspan></text>
<circle cx="29.6" cy="739" r="4.9" fill="#b3b3b3"/>
<text x="43.7" y="742.8" font-size="10.9" fill="#111">Không có ý nghĩa thống kê</text>
<circle cx="185" cy="739" r="4.9" fill="#74aede"/>
<text x="198.7" y="742.8" font-size="10.9" fill="#111">Có ý nghĩa thống kê</text>
<circle cx="306.4" cy="739" r="4.9" fill="#e58b86"/>
<text x="320" y="742.8" font-size="10.9" fill="#111">Có giá trị phân loại</text>
</g>
<g id="bars">
<line x1="726.7" x2="726.7" y1="32.5" y2="150.5" stroke="#ededed" stroke-width="0.6"/>
<line x1="756.0" x2="756.0" y1="32.5" y2="150.5" stroke="#ededed" stroke-width="0.35"/>
<line x1="785.2" x2="785.2" y1="32.5" y2="150.5" stroke="#ededed" stroke-width="0.6"/>
<line x1="814.5" x2="814.5" y1="32.5" y2="150.5" stroke="#ededed" stroke-width="0.35"/>
<line x1="843.7" x2="843.7" y1="32.5" y2="150.5" stroke="#ededed" stroke-width="0.6"/>
<line x1="873.0" x2="873.0" y1="32.5" y2="150.5" stroke="#ededed" stroke-width="0.35"/>
<line x1="726.7" x2="884.2" y1="37.7" y2="37.7" stroke="#efefef" stroke-width="0.5"/>
<line x1="726.7" x2="884.2" y1="46.7" y2="46.7" stroke="#efefef" stroke-width="0.5"/>
<line x1="726.7" x2="884.2" y1="55.7" y2="55.7" stroke="#efefef" stroke-width="0.5"/>
<line x1="726.7" x2="884.2" y1="64.7" y2="64.7" stroke="#efefef" stroke-width="0.5"/>
<line x1="726.7" x2="884.2" y1="73.6" y2="73.6" stroke="#efefef" stroke-width="0.5"/>
<line x1="726.7" x2="884.2" y1="82.6" y2="82.6" stroke="#efefef" stroke-width="0.5"/>
<line x1="726.7" x2="884.2" y1="91.6" y2="91.6" stroke="#efefef" stroke-width="0.5"/>
<line x1="726.7" x2="884.2" y1="100.6" y2="100.6" stroke="#efefef" stroke-width="0.5"/>
<line x1="726.7" x2="884.2" y1="109.6" y2="109.6" stroke="#efefef" stroke-width="0.5"/>
<line x1="726.7" x2="884.2" y1="118.6" y2="118.6" stroke="#efefef" stroke-width="0.5"/>
<line x1="726.7" x2="884.2" y1="127.5" y2="127.5" stroke="#efefef" stroke-width="0.5"/>
<line x1="726.7" x2="884.2" y1="136.5" y2="136.5" stroke="#efefef" stroke-width="0.5"/>
<line x1="726.7" x2="884.2" y1="145.5" y2="145.5" stroke="#efefef" stroke-width="0.5"/>
<rect x="726.7" y="33.65" width="149.2" height="8.1" fill="#ff0d0d"/>
<text x="722" y="40.6" font-size="8.9" text-anchor="end" fill="#2b2b2b" stroke="#2b2b2b" stroke-width="0.15">Quá trình miễn dịch</text>
<rect x="726.7" y="42.64" width="95.5" height="8.1" fill="#ff0d0d"/>
<text x="722" y="49.6" font-size="8.9" text-anchor="end" fill="#2b2b2b" stroke="#2b2b2b" stroke-width="0.15">Đáp ứng miễn dịch</text>
<rect x="726.7" y="51.62" width="59.2" height="8.1" fill="#ff0d0d"/>
<text x="722" y="58.6" font-size="8.9" text-anchor="end" fill="#2b2b2b" stroke="#2b2b2b" stroke-width="0.15">Quá trình phát triển hệ miễn dịch</text>
<rect x="726.7" y="60.61" width="51.5" height="8.1" fill="#ff0d0d"/>
<text x="722" y="67.6" font-size="8.9" text-anchor="end" fill="#2b2b2b" stroke="#2b2b2b" stroke-width="0.15">Hoạt hóa hệ thống miễn dịch</text>
<rect x="726.7" y="69.59" width="49.1" height="8.1" fill="#ff0d0d"/>
<text x="722" y="76.5" font-size="8.9" text-anchor="end" fill="#2b2b2b" stroke="#2b2b2b" stroke-width="0.15">Điều hòa đáp ứng miễn dịch</text>
<rect x="726.7" y="78.58" width="36.3" height="8.1" fill="#ff0d0d"/>
<text x="722" y="85.5" font-size="8.9" text-anchor="end" fill="#2b2b2b" stroke="#2b2b2b" stroke-width="0.15">Chu trình liên quan đến tác nhân miễn dịch</text>
<rect x="726.7" y="87.56" width="30.8" height="8.1" fill="#ff0d0d"/>
<text x="722" y="94.5" font-size="8.9" text-anchor="end" fill="#2b2b2b" stroke="#2b2b2b" stroke-width="0.15">Hoạt hóa đáp ứng miễn dịch</text>
<rect x="726.7" y="96.55" width="23.8" height="8.1" fill="#e8c619"/>
<text x="722" y="103.5" font-size="8.9" text-anchor="end" fill="#2b2b2b" stroke="#2b2b2b" stroke-width="0.15">Đáp ứng với virus xâm nhiễm</text>
<rect x="726.7" y="105.53" width="21.6" height="8.1" fill="#ff0d0d"/>
<text x="722" y="112.5" font-size="8.9" text-anchor="end" fill="#2b2b2b" stroke="#2b2b2b" stroke-width="0.15">Điều hòa các tác nhân miễn dịch</text>
<rect x="726.7" y="114.52" width="18.6" height="8.1" fill="#ff0d0d"/>
<text x="722" y="121.5" font-size="8.9" text-anchor="end" fill="#2b2b2b" stroke="#2b2b2b" stroke-width="0.15">Kích hoạt đáp ứng miễn dịch</text>
<rect x="726.7" y="123.50" width="17.7" height="8.1" fill="#56c596"/>
<text x="722" y="130.4" font-size="8.9" text-anchor="end" fill="#2b2b2b" stroke="#2b2b2b" stroke-width="0.15">Đáp ứng miễn dịch bảo vệ khỏi virus xâm nhiễm</text>
<rect x="726.7" y="132.48" width="15.2" height="8.1" fill="#ff0d0d"/>
<text x="722" y="139.4" font-size="8.9" text-anchor="end" fill="#2b2b2b" stroke="#2b2b2b" stroke-width="0.15">Hoạt hóa các tác nhân miễn dịch</text>
<rect x="726.7" y="141.47" width="3.6" height="8.1" fill="#c818f5"/>
<text x="722" y="148.4" font-size="8.9" text-anchor="end" fill="#2b2b2b" stroke="#2b2b2b" stroke-width="0.15">Ức chế vius nhân đôi</text>
<text x="726.7" y="157.9" font-size="8.4" text-anchor="middle" fill="#3a3a3a">0</text>
<text x="785.2" y="157.9" font-size="8.4" text-anchor="middle" fill="#3a3a3a">1000</text>
<text x="843.7" y="157.9" font-size="8.4" text-anchor="middle" fill="#3a3a3a">2000</text>
<text x="807.5" y="167.2" font-size="8.25" font-weight="bold" text-anchor="middle" fill="#111">Số lượng gen liên quan đến chu trình sinh học</text>
<defs><linearGradient id="pg" x1="0" y1="0" x2="0" y2="1"><stop offset="0" stop-color="#c21cff"/><stop offset="0.2" stop-color="#3a4cff"/><stop offset="0.4" stop-color="#22c6e8"/><stop offset="0.58" stop-color="#3fd070"/><stop offset="0.75" stop-color="#e6d21c"/><stop offset="0.9" stop-color="#ff7a10"/><stop offset="1" stop-color="#ff1010"/></linearGradient></defs>
<text x="888.4" y="80.2" font-size="8.2" fill="#111">Trị số P</text>
<rect x="888.4" y="85.6" width="4.7" height="23.8" fill="url(#pg)"/>
<text x="896.4" y="88.6" font-size="6.6" fill="#222">0.04</text>
<text x="896.4" y="94.1" font-size="6.6" fill="#222">0.03</text>
<text x="896.4" y="99.9" font-size="6.6" fill="#222">0.02</text>
<text x="896.4" y="105.5" font-size="6.6" fill="#222">0.01</text>
</g>
<g id="qr">
<rect x="1079.3" y="11" width="126.6" height="169.9" rx="7" ry="7" fill="#fff" stroke="#000" stroke-width="2"/>
<path d="M1078.3,144 H1206.9 V173.9 Q1206.9,181.9 1198.9,181.9 H1086.3 Q1078.3,181.9 1078.3,173.9 Z" fill="#000"/>
<text x="1142.6" y="159" font-size="12" text-anchor="middle" fill="#fff">Phần mềm tính điểm</text>
<text x="1142.6" y="174" font-size="12" text-anchor="middle" fill="#fff">COMER</text>
<path d="M1104.10,35.90h18.61v2.70h-18.61zM1127.95,35.90h2.71v2.70h-2.71zM1133.25,35.90h10.66v2.70h-10.66zM1149.15,35.90h2.71v2.70h-2.71zM1157.10,35.90h2.71v2.70h-2.71zM1162.40,35.90h18.61v2.70h-18.61zM1104.10,38.54h2.71v2.70h-2.71zM1120.00,38.54h2.71v2.70h-2.71zM1125.30,38.54h5.36v2.70h-5.36zM1135.90,38.54h13.31v2.70h-13.31zM1157.10,38.54h2.71v2.70h-2.71zM1162.40,38.54h2.71v2.70h-2.71zM1178.30,38.54h2.71v2.70h-2.71zM1104.10,41.19h2.71v2.70h-2.71zM1109.40,41.19h8.01v2.70h-8.01zM1120.00,41.19h2.71v2.70h-2.71zM1127.95,41.19h10.66v2.70h-10.66zM1146.50,41.19h2.71v2.70h-2.71zM1151.80,41.19h5.36v2.70h-5.36zM1162.40,41.19h2.71v2.70h-2.71zM1167.70,41.19h8.01v2.70h-8.01zM1178.30,41.19h2.71v2.70h-2.71zM1104.10,43.83h2.71v2.70h-2.71zM1109.40,43.83h8.01v2.70h-8.01zM1120.00,43.83h2.71v2.70h-2.71zM1133.25,43.83h10.66v2.70h-10.66zM1146.50,43.83h2.71v2.70h-2.71zM1151.80,43.83h8.01v2.70h-8.01zM1162.40,43.83h2.71v2.70h-2.71zM1167.70,43.83h8.01v2.70h-8.01zM1178.30,43.83h2.71v2.70h-2.71zM1104.10,46.47h2.71v2.70h-2.71zM1109.40,46.47h8.01v2.70h-8.01zM1120.00,46.47h2.71v2.70h-2.71zM1125.30,46.47h10.66v2.70h-10.66zM1138.55,46.47h2.71v2.70h-2.71zM1146.50,46.47h2.71v2.70h-2.71zM1154.45,46.47h5.36v2.70h-5.36zM1162.40,46.47h2.71v2.70h-2.71zM1167.70,46.47h8.01v2.70h-8.01zM1178.30,46.47h2.71v2.70h-2.71zM1104.10,49.11h2.71v2.70h-2.71zM1120.00,49.11h2.71v2.70h-2.71zM1127.95,49.11h2.71v2.70h-2.71zM1133.25,49.11h2.71v2.70h-2.71zM1138.55,49.11h5.36v2.70h-5.36zM1151.80,49.11h2.71v2.70h-2.71zM1157.10,49.11h2.71v2.70h-2.71zM1162.40,49.11h2.71v2.70h-2.71zM1178.30,49.11h2.71v2.70h-2.71zM1104.10,51.76h18.61v2.70h-18.61zM1125.30,51.76h2.71v2.70h-2.71zM1130.60,51.76h2.71v2.70h-2.71zM1135.90,51.76h2.71v2.70h-2.71zM1141.20,51.76h2.71v2.70h-2.71zM1146.50,51.76h2.71v2.70h-2.71zM1151.80,51.76h2.71v2.70h-2.71zM1157.10,51.76h2.71v2.70h-2.71zM1162.40,51.76h18.61v2.70h-18.61zM1127.95,54.40h8.01v2.70h-8.01zM1157.10,54.40h2.71v2.70h-2.71zM1109.40,57.04h2.71v2.70h-2.71zM1114.70,57.04h8.01v2.70h-8.01zM1125.30,57.04h2.71v2.70h-2.71zM1133.25,57.04h2.71v2.70h-2.71zM1138.55,57.04h5.36v2.70h-5.36zM1146.50,57.04h15.96v2.70h-15.96zM1167.70,57.04h2.71v2.70h-2.71zM1175.65,57.04h2.71v2.70h-2.71zM1104.10,59.69h2.71v2.70h-2.71zM1109.40,59.69h8.01v2.70h-8.01zM1122.65,59.69h5.36v2.70h-5.36zM1133.25,59.69h8.01v2.70h-8.01zM1143.85,59.69h2.71v2.70h-2.71zM1157.10,59.69h5.36v2.70h-5.36zM1170.35,59.69h2.71v2.70h-2.71zM1175.65,59.69h2.71v2.70h-2.71zM1104.10,62.33h5.36v2.70h-5.36zM1120.00,62.33h2.71v2.70h-2.71zM1127.95,62.33h2.71v2.70h-2.71zM1141.20,62.33h2.71v2.70h-2.71zM1149.15,62.33h2.71v2.70h-2.71zM1159.75,62.33h2.71v2.70h-2.71zM1170.35,62.33h2.71v2.70h-2.71zM1175.65,62.33h5.36v2.70h-5.36zM1117.35,64.97h2.71v2.70h-2.71zM1122.65,64.97h2.71v2.70h-2.71zM1127.95,64.97h2.71v2.70h-2.71zM1135.90,64.97h2.71v2.70h-2.71zM1157.10,64.97h5.36v2.70h-5.36zM1165.05,64.97h5.36v2.70h-5.36zM1173.00,64.97h5.36v2.70h-5.36zM1104.10,67.62h5.36v2.70h-5.36zM1114.70,67.62h2.71v2.70h-2.71zM1120.00,67.62h8.01v2.70h-8.01zM1130.60,67.62h8.01v2.70h-8.01zM1143.85,67.62h5.36v2.70h-5.36zM1151.80,67.62h2.71v2.70h-2.71zM1157.10,67.62h2.71v2.70h-2.71zM1165.05,67.62h2.71v2.70h-2.71zM1170.35,67.62h5.36v2.70h-5.36zM1178.30,67.62h2.71v2.70h-2.71zM1106.75,70.26h2.71v2.70h-2.71zM1117.35,70.26h2.71v2.70h-2.71zM1122.65,70.26h2.71v2.70h-2.71zM1127.95,70.26h5.36v2.70h-5.36zM1135.90,70.26h2.71v2.70h-2.71zM1141.20,70.26h13.31v2.70h-13.31zM1159.75,70.26h2.71v2.70h-2.71zM1165.05,70.26h10.66v2.70h-10.66zM1178.30,70.26h2.71v2.70h-2.71zM1109.40,72.90h2.71v2.70h-2.71zM1114.70,72.90h2.71v2.70h-2.71zM1120.00,72.90h2.71v2.70h-2.71zM1125.30,72.90h5.36v2.70h-5.36zM1135.90,72.90h2.71v2.70h-2.71zM1141.20,72.90h2.71v2.70h-2.71zM1146.50,72.90h8.01v2.70h-8.01zM1167.70,72.90h5.36v2.70h-5.36zM1175.65,72.90h5.36v2.70h-5.36zM1104.10,75.54h5.36v2.70h-5.36zM1112.05,75.54h8.01v2.70h-8.01zM1130.60,75.54h2.71v2.70h-2.71zM1141.20,75.54h2.71v2.70h-2.71zM1146.50,75.54h2.71v2.70h-2.71zM1151.80,75.54h5.36v2.70h-5.36zM1159.75,75.54h8.01v2.70h-8.01zM1178.30,75.54h2.71v2.70h-2.71zM1104.10,78.19h2.71v2.70h-2.71zM1109.40,78.19h2.71v2.70h-2.71zM1114.70,78.19h2.71v2.70h-2.71zM1120.00,78.19h8.01v2.70h-8.01zM1133.25,78.19h15.96v2.70h-15.96zM1154.45,78.19h2.71v2.70h-2.71zM1159.75,78.19h5.36v2.70h-5.36zM1170.35,78.19h5.36v2.70h-5.36zM1109.40,80.83h2.71v2.70h-2.71zM1122.65,80.83h5.36v2.70h-5.36zM1133.25,80.83h5.36v2.70h-5.36zM1143.85,80.83h5.36v2.70h-5.36zM1154.45,80.83h5.36v2.70h-5.36zM1162.40,80.83h5.36v2.70h-5.36zM1170.35,80.83h2.71v2.70h-2.71zM1175.65,80.83h5.36v2.70h-5.36zM1106.75,83.47h8.01v2.70h-8.01zM1120.00,83.47h2.71v2.70h-2.71zM1127.95,83.47h2.71v2.70h-2.71zM1138.55,83.47h5.36v2.70h-5.36zM1149.15,83.47h2.71v2.70h-2.71zM1154.45,83.47h2.71v2.70h-2.71zM1159.75,83.47h2.71v2.70h-2.71zM1165.05,83.47h13.31v2.70h-13.31zM1106.75,86.12h5.36v2.70h-5.36zM1117.35,86.12h2.71v2.70h-2.71zM1133.25,86.12h5.36v2.70h-5.36zM1157.10,86.12h13.31v2.70h-13.31zM1173.00,86.12h2.71v2.70h-2.71zM1104.10,88.76h10.66v2.70h-10.66zM1120.00,88.76h2.71v2.70h-2.71zM1127.95,88.76h8.01v2.70h-8.01zM1141.20,88.76h5.36v2.70h-5.36zM1149.15,88.76h2.71v2.70h-2.71zM1154.45,88.76h15.96v2.70h-15.96zM1173.00,88.76h8.01v2.70h-8.01zM1125.30,91.40h2.71v2.70h-2.71zM1130.60,91.40h5.36v2.70h-5.36zM1141.20,91.40h2.71v2.70h-2.71zM1146.50,91.40h2.71v2.70h-2.71zM1157.10,91.40h2.71v2.70h-2.71zM1167.70,91.40h2.71v2.70h-2.71zM1173.00,91.40h8.01v2.70h-8.01zM1104.10,94.05h18.61v2.70h-18.61zM1127.95,94.05h2.71v2.70h-2.71zM1138.55,94.05h8.01v2.70h-8.01zM1149.15,94.05h2.71v2.70h-2.71zM1157.10,94.05h2.71v2.70h-2.71zM1162.40,94.05h2.71v2.70h-2.71zM1167.70,94.05h2.71v2.70h-2.71zM1175.65,94.05h5.36v2.70h-5.36zM1104.10,96.69h2.71v2.70h-2.71zM1120.00,96.69h2.71v2.70h-2.71zM1125.30,96.69h5.36v2.70h-5.36zM1135.90,96.69h2.71v2.70h-2.71zM1143.85,96.69h2.71v2.70h-2.71zM1154.45,96.69h5.36v2.70h-5.36zM1167.70,96.69h5.36v2.70h-5.36zM1175.65,96.69h2.71v2.70h-2.71zM1104.10,99.33h2.71v2.70h-2.71zM1109.40,99.33h8.01v2.70h-8.01zM1120.00,99.33h2.71v2.70h-2.71zM1125.30,99.33h10.66v2.70h-10.66zM1138.55,99.33h5.36v2.70h-5.36zM1149.15,99.33h2.71v2.70h-2.71zM1154.45,99.33h15.96v2.70h-15.96zM1178.30,99.33h2.71v2.70h-2.71zM1104.10,101.97h2.71v2.70h-2.71zM1109.40,101.97h8.01v2.70h-8.01zM1120.00,101.97h2.71v2.70h-2.71zM1130.60,101.97h8.01v2.70h-8.01zM1143.85,101.97h2.71v2.70h-2.71zM1151.80,101.97h8.01v2.70h-8.01zM1165.05,101.97h2.71v2.70h-2.71zM1170.35,101.97h2.71v2.70h-2.71zM1175.65,101.97h5.36v2.70h-5.36zM1104.10,104.62h2.71v2.70h-2.71zM1109.40,104.62h8.01v2.70h-8.01zM1120.00,104.62h2.71v2.70h-2.71zM1125.30,104.62h2.71v2.70h-2.71zM1138.55,104.62h2.71v2.70h-2.71zM1151.80,104.62h2.71v2.70h-2.71zM1159.75,104.62h2.71v2.70h-2.71zM1170.35,104.62h5.36v2.70h-5.36zM1104.10,107.26h2.71v2.70h-2.71zM1120.00,107.26h2.71v2.70h-2.71zM1127.95,107.26h2.71v2.70h-2.71zM1133.25,107.26h2.71v2.70h-2.71zM1143.85,107.26h5.36v2.70h-5.36zM1154.45,107.26h5.36v2.70h-5.36zM1162.40,107.26h2.71v2.70h-2.71zM1167.70,107.26h13.31v2.70h-13.31zM1104.10,109.90h18.61v2.70h-18.61zM1127.95,109.90h15.96v2.70h-15.96zM1146.50,109.90h8.01v2.70h-8.01zM1157.10,109.90h10.66v2.70h-10.66zM1173.00,109.90h5.36v2.70h-5.36z" fill="#000"/>
</g>
<g id="heatmap">
<rect x="552.6" y="246.6" width="237.3" height="11.1" fill="#3cbfc6"/>
<rect x="792" y="246.6" width="124.9" height="11.1" fill="#f3e672"/>
<rect x="919.1" y="246.6" width="42.1" height="11.1" fill="#f97b45"/>
<rect x="540.5" y="260" width="10.3" height="75.6" fill="#d5e6a1"/>
<path d="M552.6,260h1.06v24.8h-1.06zM561.6,260h1.06v24.8h-1.06zM568.6,260h1.06v24.8h-1.06zM573.6,260h1.06v24.8h-1.06zM581.6,260h1.06v24.8h-1.06zM582.6,260h1.06v24.8h-1.06zM587.6,260h1.06v24.8h-1.06zM588.6,260h1.06v24.8h-1.06zM590.6,260h1.06v24.8h-1.06zM595.6,260h1.06v24.8h-1.06zM601.6,260h1.06v24.8h-1.06zM609.6,260h1.06v24.8h-1.06zM612.6,260h1.06v24.8h-1.06zM613.6,260h1.06v24.8h-1.06zM629.6,260h1.06v24.8h-1.06zM643.6,260h1.06v24.8h-1.06zM648.6,260h1.06v24.8h-1.06zM651.6,260h1.06v24.8h-1.06zM653.6,260h1.06v24.8h-1.06zM659.6,260h1.06v24.8h-1.06zM669.6,260h1.06v24.8h-1.06zM676.6,260h1.06v24.8h-1.06zM678.6,260h1.06v24.8h-1.06zM681.6,260h1.06v24.8h-1.06zM686.6,260h1.06v24.8h-1.06zM766.6,260h1.06v24.8h-1.06zM771.6,260h1.06v24.8h-1.06zM778.6,260h1.06v24.8h-1.06zM782.6,260h1.06v24.8h-1.06zM783.6,260h1.06v24.8h-1.06zM798.0,260h1.06v24.8h-1.06zM800.0,260h1.06v24.8h-1.06zM804.0,260h1.06v24.8h-1.06zM929.1,260h1.06v24.8h-1.06z" fill="#e4a695"/>
<path d="M552.6,284.8h1.06v25.5h-1.06zM553.6,284.8h1.06v25.5h-1.06zM555.6,284.8h1.06v25.5h-1.06zM556.6,284.8h1.06v25.5h-1.06zM559.6,284.8h1.06v25.5h-1.06zM561.6,284.8h1.06v25.5h-1.06zM562.6,284.8h1.06v25.5h-1.06zM568.6,284.8h1.06v25.5h-1.06zM569.6,284.8h1.06v25.5h-1.06zM574.6,284.8h1.06v25.5h-1.06zM576.6,284.8h1.06v25.5h-1.06zM581.6,284.8h1.06v25.5h-1.06zM584.6,284.8h1.06v25.5h-1.06zM586.6,284.8h1.06v25.5h-1.06zM587.6,284.8h1.06v25.5h-1.06zM591.6,284.8h1.06v25.5h-1.06zM592.6,284.8h1.06v25.5h-1.06zM597.6,284.8h1.06v25.5h-1.06zM602.6,284.8h1.06v25.5h-1.06zM604.6,284.8h1.06v25.5h-1.06zM607.6,284.8h1.06v25.5h-1.06zM608.6,284.8h1.06v25.5h-1.06zM609.6,284.8h1.06v25.5h-1.06zM614.6,284.8h1.06v25.5h-1.06zM615.6,284.8h1.06v25.5h-1.06zM619.6,284.8h1.06v25.5h-1.06zM620.6,284.8h1.06v25.5h-1.06zM622.6,284.8h1.06v25.5h-1.06zM624.6,284.8h1.06v25.5h-1.06zM625.6,284.8h1.06v25.5h-1.06zM626.6,284.8h1.06v25.5h-1.06zM627.6,284.8h1.06v25.5h-1.06zM634.6,284.8h1.06v25.5h-1.06zM638.6,284.8h1.06v25.5h-1.06zM640.6,284.8h1.06v25.5h-1.06zM641.6,284.8h1.06v25.5h-1.06zM642.6,284.8h1.06v25.5h-1.06zM643.6,284.8h1.06v25.5h-1.06zM644.6,284.8h1.06v25.5h-1.06zM649.6,284.8h1.06v25.5h-1.06zM650.6,284.8h1.06v25.5h-1.06zM656.6,284.8h1.06v25.5h-1.06zM665.6,284.8h1.06v25.5h-1.06zM669.6,284.8h1.06v25.5h-1.06zM674.6,284.8h1.06v25.5h-1.06zM675.6,284.8h1.06v25.5h-1.06zM676.6,284.8h1.06v25.5h-1.06zM677.6,284.8h1.06v25.5h-1.06zM678.6,284.8h1.06v25.5h-1.06zM680.6,284.8h1.06v25.5h-1.06zM702.6,284.8h1.06v25.5h-1.06zM717.6,284.8h1.06v25.5h-1.06zM732.6,310.3h1.06v25.3h-1.06zM740.6,284.8h1.06v25.5h-1.06zM742.6,284.8h1.06v25.5h-1.06zM743.6,284.8h1.06v25.5h-1.06zM746.6,284.8h1.06v25.5h-1.06zM753.6,284.8h1.06v25.5h-1.06zM796.0,284.8h1.06v25.5h-1.06zM797.0,284.8h1.06v25.5h-1.06zM802.0,284.8h1.06v25.5h-1.06zM803.0,284.8h1.06v25.5h-1.06zM804.0,284.8h1.06v25.5h-1.06zM807.0,284.8h1.06v25.5h-1.06zM808.0,284.8h1.06v25.5h-1.06z" fill="#d5cbf0"/>
<path d="M552.6,310.3h1.06v25.3h-1.06zM554.6,310.3h1.06v25.3h-1.06zM556.6,310.3h1.06v25.3h-1.06zM557.6,310.3h1.06v25.3h-1.06zM559.6,310.3h1.06v25.3h-1.06zM561.6,310.3h1.06v25.3h-1.06zM562.6,310.3h1.06v25.3h-1.06zM563.6,310.3h1.06v25.3h-1.06zM565.6,310.3h1.06v25.3h-1.06zM567.6,310.3h1.06v25.3h-1.06zM571.6,310.3h1.06v25.3h-1.06zM573.6,310.3h1.06v25.3h-1.06zM575.6,310.3h1.06v25.3h-1.06zM579.6,310.3h1.06v25.3h-1.06zM581.6,310.3h1.06v25.3h-1.06zM583.6,310.3h1.06v25.3h-1.06zM588.6,310.3h1.06v25.3h-1.06zM589.6,310.3h1.06v25.3h-1.06zM591.6,310.3h1.06v25.3h-1.06zM593.6,310.3h1.06v25.3h-1.06zM594.6,310.3h1.06v25.3h-1.06zM595.6,310.3h1.06v25.3h-1.06zM596.6,310.3h1.06v25.3h-1.06zM597.6,310.3h1.06v25.3h-1.06zM599.6,310.3h1.06v25.3h-1.06zM602.6,310.3h1.06v25.3h-1.06zM603.6,310.3h1.06v25.3h-1.06zM604.6,310.3h1.06v25.3h-1.06zM605.6,310.3h1.06v25.3h-1.06zM612.6,310.3h1.06v25.3h-1.06zM614.6,310.3h1.06v25.3h-1.06zM616.6,310.3h1.06v25.3h-1.06zM618.6,310.3h1.06v25.3h-1.06zM619.6,310.3h1.06v25.3h-1.06zM623.6,310.3h1.06v25.3h-1.06zM624.6,310.3h1.06v25.3h-1.06zM625.6,310.3h1.06v25.3h-1.06zM627.6,310.3h1.06v25.3h-1.06zM631.6,310.3h1.06v25.3h-1.06zM632.6,310.3h1.06v25.3h-1.06zM634.6,310.3h1.06v25.3h-1.06zM635.6,310.3h1.06v25.3h-1.06zM638.6,310.3h1.06v25.3h-1.06zM639.6,310.3h1.06v25.3h-1.06zM641.6,310.3h1.06v25.3h-1.06zM643.6,310.3h1.06v25.3h-1.06zM644.6,310.3h1.06v25.3h-1.06zM645.6,310.3h1.06v25.3h-1.06zM650.6,310.3h1.06v25.3h-1.06zM652.6,310.3h1.06v25.3h-1.06zM655.6,310.3h1.06v25.3h-1.06zM656.6,310.3h1.06v25.3h-1.06zM657.6,310.3h1.06v25.3h-1.06zM660.6,310.3h1.06v25.3h-1.06zM663.6,310.3h1.06v25.3h-1.06zM667.6,310.3h1.06v25.3h-1.06zM670.6,310.3h1.06v25.3h-1.06zM672.6,310.3h1.06v25.3h-1.06zM673.6,310.3h1.06v25.3h-1.06zM675.6,310.3h1.06v25.3h-1.06zM676.6,310.3h1.06v25.3h-1.06zM690.6,310.3h1.06v25.3h-1.06zM694.6,310.3h1.06v25.3h-1.06zM711.6,310.3h1.06v25.3h-1.06zM712.6,310.3h1.06v25.3h-1.06zM714.6,310.3h1.06v25.3h-1.06zM728.6,310.3h1.06v25.3h-1.06zM735.6,310.3h1.06v25.3h-1.06zM736.6,310.3h1.06v25.3h-1.06zM738.6,310.3h1.06v25.3h-1.06zM740.6,310.3h1.06v25.3h-1.06zM743.6,310.3h1.06v25.3h-1.06zM754.6,310.3h1.06v25.3h-1.06zM759.6,284.8h1.06v25.5h-1.06zM761.6,310.3h1.06v25.3h-1.06zM762.6,284.8h1.06v25.5h-1.06zM764.6,284.8h1.06v25.5h-1.06zM765.6,284.8h1.06v25.5h-1.06zM765.6,310.3h1.06v25.3h-1.06zM766.6,310.3h1.06v25.3h-1.06zM767.6,284.8h1.06v25.5h-1.06zM767.6,310.3h1.06v25.3h-1.06zM772.6,310.3h1.06v25.3h-1.06zM773.6,284.8h1.06v25.5h-1.06zM775.6,310.3h1.06v25.3h-1.06zM776.6,284.8h1.06v25.5h-1.06zM777.6,284.8h1.06v25.5h-1.06zM778.6,310.3h1.06v25.3h-1.06zM779.6,284.8h1.06v25.5h-1.06zM780.6,284.8h1.06v25.5h-1.06zM780.6,310.3h1.06v25.3h-1.06zM781.6,284.8h1.06v25.5h-1.06zM781.6,310.3h1.06v25.3h-1.06zM783.6,284.8h1.06v25.5h-1.06zM786.6,284.8h1.06v25.5h-1.06zM788.6,284.8h1.06v25.5h-1.06zM788.6,310.3h1.06v25.3h-1.06zM789.6,310.3h0.36v25.3h-0.36zM793.0,310.3h1.06v25.3h-1.06zM795.0,310.3h1.06v25.3h-1.06zM796.0,310.3h1.06v25.3h-1.06zM797.0,310.3h1.06v25.3h-1.06zM798.0,310.3h1.06v25.3h-1.06zM801.0,310.3h1.06v25.3h-1.06zM802.0,310.3h1.06v25.3h-1.06zM806.0,310.3h1.06v25.3h-1.06zM808.0,310.3h1.06v25.3h-1.06zM814.0,310.3h1.06v25.3h-1.06zM817.0,310.3h1.06v25.3h-1.06zM819.0,310.3h1.06v25.3h-1.06zM844.0,284.8h1.06v25.5h-1.06zM860.0,284.8h1.06v25.5h-1.06zM881.0,284.8h1.06v25.5h-1.06zM884.0,284.8h1.06v25.5h-1.06zM897.0,284.8h1.06v25.5h-1.06zM901.0,284.8h1.06v25.5h-1.06zM904.0,284.8h1.06v25.5h-1.06zM906.0,284.8h1.06v25.5h-1.06zM907.0,284.8h1.06v25.5h-1.06zM912.0,284.8h1.06v25.5h-1.06zM923.1,284.8h1.06v25.5h-1.06zM926.1,284.8h1.06v25.5h-1.06zM928.1,284.8h1.06v25.5h-1.06zM929.1,284.8h1.06v25.5h-1.06zM930.1,284.8h1.06v25.5h-1.06zM954.1,284.8h1.06v25.5h-1.06zM957.1,284.8h1.06v25.5h-1.06z" fill="#a595da"/>
<path d="M553.6,260h1.06v24.8h-1.06zM554.6,260h1.06v24.8h-1.06zM557.6,260h1.06v24.8h-1.06zM558.6,260h1.06v24.8h-1.06zM564.6,260h1.06v24.8h-1.06zM565.6,260h1.06v24.8h-1.06zM566.6,260h1.06v24.8h-1.06zM571.6,260h1.06v24.8h-1.06zM572.6,260h1.06v24.8h-1.06zM576.6,260h1.06v24.8h-1.06zM577.6,260h1.06v24.8h-1.06zM578.6,260h1.06v24.8h-1.06zM584.6,260h1.06v24.8h-1.06zM597.6,260h1.06v24.8h-1.06zM605.6,260h1.06v24.8h-1.06zM614.6,260h1.06v24.8h-1.06zM621.6,260h1.06v24.8h-1.06zM626.6,260h1.06v24.8h-1.06zM630.6,260h1.06v24.8h-1.06zM632.6,260h1.06v24.8h-1.06zM633.6,260h1.06v24.8h-1.06zM634.6,260h1.06v24.8h-1.06zM637.6,260h1.06v24.8h-1.06zM639.6,260h1.06v24.8h-1.06zM650.6,260h1.06v24.8h-1.06zM655.6,260h1.06v24.8h-1.06zM656.6,260h1.06v24.8h-1.06zM657.6,260h1.06v24.8h-1.06zM658.6,260h1.06v24.8h-1.06zM664.6,260h1.06v24.8h-1.06zM666.6,260h1.06v24.8h-1.06zM667.6,260h1.06v24.8h-1.06zM668.6,260h1.06v24.8h-1.06zM674.6,260h1.06v24.8h-1.06zM689.6,260h1.06v24.8h-1.06zM706.6,260h1.06v24.8h-1.06zM744.6,260h1.06v24.8h-1.06zM761.6,260h1.06v24.8h-1.06zM786.6,260h1.06v24.8h-1.06zM787.6,260h1.06v24.8h-1.06zM799.0,260h1.06v24.8h-1.06zM803.0,260h1.06v24.8h-1.06zM812.0,260h1.06v24.8h-1.06z" fill="#df9c8a"/>
<path d="M553.6,310.3h1.06v25.3h-1.06zM555.6,310.3h1.06v25.3h-1.06zM560.6,310.3h1.06v25.3h-1.06zM577.6,310.3h1.06v25.3h-1.06zM580.6,310.3h1.06v25.3h-1.06zM600.6,310.3h1.06v25.3h-1.06zM606.6,310.3h1.06v25.3h-1.06zM617.6,310.3h1.06v25.3h-1.06zM621.6,310.3h1.06v25.3h-1.06zM626.6,310.3h1.06v25.3h-1.06zM646.6,310.3h1.06v25.3h-1.06zM653.6,310.3h1.06v25.3h-1.06zM682.6,310.3h1.06v25.3h-1.06zM683.6,284.8h1.06v25.5h-1.06zM684.6,284.8h1.06v25.5h-1.06zM684.6,310.3h1.06v25.3h-1.06zM685.6,284.8h1.06v25.5h-1.06zM687.6,284.8h1.06v25.5h-1.06zM687.6,310.3h1.06v25.3h-1.06zM692.6,310.3h1.06v25.3h-1.06zM696.6,310.3h1.06v25.3h-1.06zM697.6,284.8h1.06v25.5h-1.06zM697.6,310.3h1.06v25.3h-1.06zM698.6,310.3h1.06v25.3h-1.06zM699.6,284.8h1.06v25.5h-1.06zM699.6,310.3h1.06v25.3h-1.06zM700.6,310.3h1.06v25.3h-1.06zM701.6,310.3h1.06v25.3h-1.06zM703.6,284.8h1.06v25.5h-1.06zM704.6,310.3h1.06v25.3h-1.06zM705.6,310.3h1.06v25.3h-1.06zM706.6,310.3h1.06v25.3h-1.06zM709.6,310.3h1.06v25.3h-1.06zM711.6,284.8h1.06v25.5h-1.06zM713.6,284.8h1.06v25.5h-1.06zM717.6,310.3h1.06v25.3h-1.06zM718.6,284.8h1.06v25.5h-1.06zM721.6,310.3h1.06v25.3h-1.06zM724.6,310.3h1.06v25.3h-1.06zM726.6,284.8h1.06v25.5h-1.06zM727.6,284.8h1.06v25.5h-1.06zM727.6,310.3h1.06v25.3h-1.06zM729.6,284.8h1.06v25.5h-1.06zM730.6,310.3h1.06v25.3h-1.06zM733.6,310.3h1.06v25.3h-1.06zM736.6,284.8h1.06v25.5h-1.06zM737.6,310.3h1.06v25.3h-1.06zM742.6,310.3h1.06v25.3h-1.06zM744.6,310.3h1.06v25.3h-1.06zM747.6,310.3h1.06v25.3h-1.06zM750.6,284.8h1.06v25.5h-1.06zM750.6,310.3h1.06v25.3h-1.06zM751.6,310.3h1.06v25.3h-1.06zM753.6,310.3h1.06v25.3h-1.06zM755.6,310.3h1.06v25.3h-1.06zM757.6,284.8h1.06v25.5h-1.06zM758.6,284.8h1.06v25.5h-1.06zM772.6,284.8h1.06v25.5h-1.06zM807.0,310.3h1.06v25.3h-1.06zM812.0,284.8h1.06v25.5h-1.06zM816.0,310.3h1.06v25.3h-1.06zM941.1,284.8h1.06v25.5h-1.06zM955.1,284.8h1.06v25.5h-1.06z" fill="#b6a8e2"/>
<path d="M554.6,284.8h1.06v25.5h-1.06zM563.6,284.8h1.06v25.5h-1.06zM565.6,284.8h1.06v25.5h-1.06zM567.6,284.8h1.06v25.5h-1.06zM570.6,284.8h1.06v25.5h-1.06zM571.6,284.8h1.06v25.5h-1.06zM575.6,284.8h1.06v25.5h-1.06zM577.6,284.8h1.06v25.5h-1.06zM580.6,284.8h1.06v25.5h-1.06zM583.6,284.8h1.06v25.5h-1.06zM589.6,284.8h1.06v25.5h-1.06zM590.6,284.8h1.06v25.5h-1.06zM593.6,284.8h1.06v25.5h-1.06zM595.6,284.8h1.06v25.5h-1.06zM599.6,284.8h1.06v25.5h-1.06zM600.6,284.8h1.06v25.5h-1.06zM601.6,284.8h1.06v25.5h-1.06zM610.6,284.8h1.06v25.5h-1.06zM611.6,284.8h1.06v25.5h-1.06zM616.6,284.8h1.06v25.5h-1.06zM617.6,284.8h1.06v25.5h-1.06zM618.6,284.8h1.06v25.5h-1.06zM628.6,284.8h1.06v25.5h-1.06zM631.6,284.8h1.06v25.5h-1.06zM632.6,284.8h1.06v25.5h-1.06zM633.6,284.8h1.06v25.5h-1.06zM635.6,284.8h1.06v25.5h-1.06zM637.6,284.8h1.06v25.5h-1.06zM639.6,284.8h1.06v25.5h-1.06zM645.6,284.8h1.06v25.5h-1.06zM646.6,284.8h1.06v25.5h-1.06zM647.6,284.8h1.06v25.5h-1.06zM648.6,284.8h1.06v25.5h-1.06zM651.6,284.8h1.06v25.5h-1.06zM652.6,284.8h1.06v25.5h-1.06zM653.6,284.8h1.06v25.5h-1.06zM654.6,284.8h1.06v25.5h-1.06zM657.6,284.8h1.06v25.5h-1.06zM658.6,284.8h1.06v25.5h-1.06zM661.6,284.8h1.06v25.5h-1.06zM662.6,284.8h1.06v25.5h-1.06zM663.6,284.8h1.06v25.5h-1.06zM664.6,284.8h1.06v25.5h-1.06zM666.6,284.8h1.06v25.5h-1.06zM670.6,284.8h1.06v25.5h-1.06zM671.6,284.8h1.06v25.5h-1.06zM673.6,284.8h1.06v25.5h-1.06zM679.6,284.8h1.06v25.5h-1.06zM681.6,284.8h1.06v25.5h-1.06zM686.6,284.8h1.06v25.5h-1.06zM690.6,284.8h1.06v25.5h-1.06zM701.6,284.8h1.06v25.5h-1.06zM714.6,284.8h1.06v25.5h-1.06zM722.6,284.8h1.06v25.5h-1.06zM723.6,284.8h1.06v25.5h-1.06zM728.6,284.8h1.06v25.5h-1.06zM731.6,284.8h1.06v25.5h-1.06zM732.6,284.8h1.06v25.5h-1.06zM739.6,284.8h1.06v25.5h-1.06zM745.6,284.8h1.06v25.5h-1.06zM749.6,284.8h1.06v25.5h-1.06zM752.6,284.8h1.06v25.5h-1.06zM792.0,284.8h1.06v25.5h-1.06zM795.0,284.8h1.06v25.5h-1.06zM800.0,284.8h1.06v25.5h-1.06zM801.0,284.8h1.06v25.5h-1.06zM805.0,284.8h1.06v25.5h-1.06zM806.0,284.8h1.06v25.5h-1.06zM809.0,284.8h1.06v25.5h-1.06zM810.0,284.8h1.06v25.5h-1.06zM818.0,284.8h1.06v25.5h-1.06zM854.0,260h1.06v24.8h-1.06zM911.0,260h1.06v24.8h-1.06z" fill="#c8bcea"/>
<path d="M555.6,260h1.06v24.8h-1.06zM673.6,260h1.06v24.8h-1.06zM769.6,260h1.06v24.8h-1.06zM785.6,260h1.06v24.8h-1.06zM822.0,260h1.06v24.8h-1.06zM823.0,260h1.06v24.8h-1.06zM825.0,260h1.06v24.8h-1.06zM832.0,260h1.06v24.8h-1.06zM839.0,260h1.06v24.8h-1.06zM841.0,260h1.06v24.8h-1.06zM842.0,260h1.06v24.8h-1.06zM843.0,260h1.06v24.8h-1.06zM844.0,260h1.06v24.8h-1.06zM849.0,260h1.06v24.8h-1.06zM859.0,260h1.06v24.8h-1.06zM869.0,260h1.06v24.8h-1.06zM874.0,260h1.06v24.8h-1.06zM880.0,260h1.06v24.8h-1.06zM882.0,260h1.06v24.8h-1.06zM885.0,260h1.06v24.8h-1.06zM898.0,260h1.06v24.8h-1.06zM900.0,260h1.06v24.8h-1.06zM902.0,260h1.06v24.8h-1.06zM903.0,260h1.06v24.8h-1.06zM904.0,260h1.06v24.8h-1.06zM908.0,260h1.06v24.8h-1.06zM910.0,260h1.06v24.8h-1.06zM912.0,260h1.06v24.8h-1.06zM915.0,260h1.06v24.8h-1.06zM916.0,260h0.96v24.8h-0.96zM927.1,260h1.06v24.8h-1.06zM931.1,260h1.06v24.8h-1.06zM951.1,260h1.06v24.8h-1.06zM961.1,260h0.16v24.8h-0.16z" fill="#f6dcd5"/>
<path d="M556.6,260h1.06v24.8h-1.06zM596.6,260h1.06v24.8h-1.06zM606.6,260h1.06v24.8h-1.06zM617.6,260h1.06v24.8h-1.06zM624.6,260h1.06v24.8h-1.06zM640.6,260h1.06v24.8h-1.06zM660.6,260h1.06v24.8h-1.06zM662.6,260h1.06v24.8h-1.06zM670.6,260h1.06v24.8h-1.06zM697.6,260h1.06v24.8h-1.06zM740.6,260h1.06v24.8h-1.06zM757.6,260h1.06v24.8h-1.06zM758.6,260h1.06v24.8h-1.06zM759.6,260h1.06v24.8h-1.06zM760.6,260h1.06v24.8h-1.06zM765.6,260h1.06v24.8h-1.06zM767.6,260h1.06v24.8h-1.06zM770.6,260h1.06v24.8h-1.06zM774.6,260h1.06v24.8h-1.06zM779.6,260h1.06v24.8h-1.06zM784.6,260h1.06v24.8h-1.06zM796.0,260h1.06v24.8h-1.06zM864.0,260h1.06v24.8h-1.06zM891.0,260h1.06v24.8h-1.06zM920.1,260h1.06v24.8h-1.06zM922.1,260h1.06v24.8h-1.06zM936.1,260h1.06v24.8h-1.06z" fill="#e8b0a1"/>
<path d="M557.6,284.8h1.06v25.5h-1.06zM558.6,284.8h1.06v25.5h-1.06zM560.6,284.8h1.06v25.5h-1.06zM564.6,284.8h1.06v25.5h-1.06zM594.6,284.8h1.06v25.5h-1.06zM623.6,284.8h1.06v25.5h-1.06zM672.6,284.8h1.06v25.5h-1.06zM798.0,284.8h1.06v25.5h-1.06zM799.0,284.8h1.06v25.5h-1.06zM824.0,260h1.06v24.8h-1.06zM853.0,260h1.06v24.8h-1.06zM866.0,260h1.06v24.8h-1.06zM873.0,260h1.06v24.8h-1.06zM893.0,260h1.06v24.8h-1.06zM926.1,260h1.06v24.8h-1.06zM932.1,260h1.06v24.8h-1.06zM939.1,260h1.06v24.8h-1.06z" fill="#f0ecfa"/>
<path d="M558.6,310.3h1.06v25.3h-1.06zM572.6,310.3h1.06v25.3h-1.06zM610.6,310.3h1.06v25.3h-1.06zM640.6,310.3h1.06v25.3h-1.06zM658.6,310.3h1.06v25.3h-1.06zM666.6,310.3h1.06v25.3h-1.06zM669.6,310.3h1.06v25.3h-1.06zM752.6,310.3h1.06v25.3h-1.06zM757.6,310.3h1.06v25.3h-1.06zM758.6,310.3h1.06v25.3h-1.06zM760.6,310.3h1.06v25.3h-1.06zM762.6,310.3h1.06v25.3h-1.06zM763.6,284.8h1.06v25.5h-1.06zM768.6,310.3h1.06v25.3h-1.06zM769.6,310.3h1.06v25.3h-1.06zM770.6,310.3h1.06v25.3h-1.06zM771.6,284.8h1.06v25.5h-1.06zM771.6,310.3h1.06v25.3h-1.06zM775.6,284.8h1.06v25.5h-1.06zM776.6,310.3h1.06v25.3h-1.06zM777.6,310.3h1.06v25.3h-1.06zM782.6,310.3h1.06v25.3h-1.06zM784.6,284.8h1.06v25.5h-1.06zM784.6,310.3h1.06v25.3h-1.06zM785.6,284.8h1.06v25.5h-1.06zM789.6,284.8h0.36v25.5h-0.36zM799.0,310.3h1.06v25.3h-1.06zM812.0,310.3h1.06v25.3h-1.06zM826.0,284.8h1.06v25.5h-1.06zM827.0,310.3h1.06v25.3h-1.06zM828.0,284.8h1.06v25.5h-1.06zM835.0,284.8h1.06v25.5h-1.06zM838.0,284.8h1.06v25.5h-1.06zM843.0,284.8h1.06v25.5h-1.06zM843.0,310.3h1.06v25.3h-1.06zM845.0,284.8h1.06v25.5h-1.06zM849.0,284.8h1.06v25.5h-1.06zM858.0,284.8h1.06v25.5h-1.06zM862.0,284.8h1.06v25.5h-1.06zM863.0,284.8h1.06v25.5h-1.06zM864.0,284.8h1.06v25.5h-1.06zM868.0,284.8h1.06v25.5h-1.06zM874.0,284.8h1.06v25.5h-1.06zM877.0,284.8h1.06v25.5h-1.06zM882.0,284.8h1.06v25.5h-1.06zM886.0,284.8h1.06v25.5h-1.06zM899.0,284.8h1.06v25.5h-1.06zM908.0,284.8h1.06v25.5h-1.06zM909.0,284.8h1.06v25.5h-1.06zM913.0,284.8h1.06v25.5h-1.06zM915.0,284.8h1.06v25.5h-1.06zM924.1,284.8h1.06v25.5h-1.06zM924.1,310.3h1.06v25.3h-1.06zM927.1,284.8h1.06v25.5h-1.06zM927.1,310.3h1.06v25.3h-1.06zM931.1,310.3h1.06v25.3h-1.06zM932.1,284.8h1.06v25.5h-1.06zM933.1,284.8h1.06v25.5h-1.06zM937.1,284.8h1.06v25.5h-1.06zM943.1,284.8h1.06v25.5h-1.06zM946.1,310.3h1.06v25.3h-1.06zM947.1,284.8h1.06v25.5h-1.06zM948.1,284.8h1.06v25.5h-1.06zM950.1,284.8h1.06v25.5h-1.06zM951.1,284.8h1.06v25.5h-1.06zM958.1,284.8h1.06v25.5h-1.06zM960.1,284.8h1.06v25.5h-1.06zM961.1,310.3h0.16v25.3h-0.16z" fill="#9e8cd7"/>
<path d="M559.6,260h1.06v24.8h-1.06zM562.6,260h1.06v24.8h-1.06zM599.6,260h1.06v24.8h-1.06zM600.6,260h1.06v24.8h-1.06zM603.6,260h1.06v24.8h-1.06zM604.6,260h1.06v24.8h-1.06zM622.6,260h1.06v24.8h-1.06zM636.6,260h1.06v24.8h-1.06zM647.6,260h1.06v24.8h-1.06zM677.6,260h1.06v24.8h-1.06zM687.6,260h1.06v24.8h-1.06zM690.6,260h1.06v24.8h-1.06zM702.6,260h1.06v24.8h-1.06zM711.6,260h1.06v24.8h-1.06zM715.6,260h1.06v24.8h-1.06zM735.6,260h1.06v24.8h-1.06zM739.6,260h1.06v24.8h-1.06zM742.6,260h1.06v24.8h-1.06zM746.6,260h1.06v24.8h-1.06zM751.6,260h1.06v24.8h-1.06zM811.0,260h1.06v24.8h-1.06zM815.0,260h1.06v24.8h-1.06zM819.0,260h1.06v24.8h-1.06zM940.1,260h1.06v24.8h-1.06z" fill="#d68875"/>
<path d="M560.6,260h1.06v24.8h-1.06zM579.6,260h1.06v24.8h-1.06zM602.6,260h1.06v24.8h-1.06zM607.6,260h1.06v24.8h-1.06zM628.6,260h1.06v24.8h-1.06zM631.6,260h1.06v24.8h-1.06zM642.6,260h1.06v24.8h-1.06zM727.6,260h1.06v24.8h-1.06zM773.6,260h1.06v24.8h-1.06zM775.6,260h1.06v24.8h-1.06zM788.6,260h1.06v24.8h-1.06zM913.0,260h1.06v24.8h-1.06zM928.1,260h1.06v24.8h-1.06zM945.1,260h1.06v24.8h-1.06zM946.1,260h1.06v24.8h-1.06zM952.1,260h1.06v24.8h-1.06zM960.1,260h1.06v24.8h-1.06z" fill="#ecbaac"/>
<path d="M563.6,260h1.06v24.8h-1.06zM567.6,260h1.06v24.8h-1.06zM574.6,260h1.06v24.8h-1.06zM575.6,260h1.06v24.8h-1.06zM580.6,260h1.06v24.8h-1.06zM583.6,260h1.06v24.8h-1.06zM585.6,260h1.06v24.8h-1.06zM586.6,260h1.06v24.8h-1.06zM589.6,260h1.06v24.8h-1.06zM591.6,260h1.06v24.8h-1.06zM593.6,260h1.06v24.8h-1.06zM594.6,260h1.06v24.8h-1.06zM598.6,260h1.06v24.8h-1.06zM610.6,260h1.06v24.8h-1.06zM611.6,260h1.06v24.8h-1.06zM615.6,260h1.06v24.8h-1.06zM616.6,260h1.06v24.8h-1.06zM618.6,260h1.06v24.8h-1.06zM619.6,260h1.06v24.8h-1.06zM620.6,260h1.06v24.8h-1.06zM623.6,260h1.06v24.8h-1.06zM627.6,260h1.06v24.8h-1.06zM635.6,260h1.06v24.8h-1.06zM645.6,260h1.06v24.8h-1.06zM652.6,260h1.06v24.8h-1.06zM654.6,260h1.06v24.8h-1.06zM661.6,260h1.06v24.8h-1.06zM665.6,260h1.06v24.8h-1.06zM671.6,260h1.06v24.8h-1.06zM675.6,260h1.06v24.8h-1.06zM680.6,260h1.06v24.8h-1.06zM698.6,260h1.06v24.8h-1.06zM719.6,260h1.06v24.8h-1.06zM729.6,260h1.06v24.8h-1.06zM733.6,260h1.06v24.8h-1.06zM734.6,260h1.06v24.8h-1.06zM750.6,260h1.06v24.8h-1.06zM777.6,260h1.06v24.8h-1.06zM806.0,260h1.06v24.8h-1.06z" fill="#db927f"/>
<path d="M564.6,310.3h1.06v25.3h-1.06zM566.6,310.3h1.06v25.3h-1.06zM568.6,310.3h1.06v25.3h-1.06zM569.6,310.3h1.06v25.3h-1.06zM570.6,310.3h1.06v25.3h-1.06zM574.6,310.3h1.06v25.3h-1.06zM576.6,310.3h1.06v25.3h-1.06zM578.6,310.3h1.06v25.3h-1.06zM582.6,310.3h1.06v25.3h-1.06zM584.6,310.3h1.06v25.3h-1.06zM585.6,310.3h1.06v25.3h-1.06zM586.6,310.3h1.06v25.3h-1.06zM587.6,310.3h1.06v25.3h-1.06zM590.6,310.3h1.06v25.3h-1.06zM592.6,310.3h1.06v25.3h-1.06zM598.6,310.3h1.06v25.3h-1.06zM601.6,310.3h1.06v25.3h-1.06zM607.6,310.3h1.06v25.3h-1.06zM608.6,310.3h1.06v25.3h-1.06zM609.6,310.3h1.06v25.3h-1.06zM611.6,310.3h1.06v25.3h-1.06zM613.6,310.3h1.06v25.3h-1.06zM615.6,310.3h1.06v25.3h-1.06zM620.6,310.3h1.06v25.3h-1.06zM622.6,310.3h1.06v25.3h-1.06zM628.6,310.3h1.06v25.3h-1.06zM629.6,310.3h1.06v25.3h-1.06zM630.6,310.3h1.06v25.3h-1.06zM633.6,310.3h1.06v25.3h-1.06zM636.6,310.3h1.06v25.3h-1.06zM637.6,310.3h1.06v25.3h-1.06zM642.6,310.3h1.06v25.3h-1.06zM647.6,310.3h1.06v25.3h-1.06zM648.6,310.3h1.06v25.3h-1.06zM649.6,310.3h1.06v25.3h-1.06zM651.6,310.3h1.06v25.3h-1.06zM654.6,310.3h1.06v25.3h-1.06zM659.6,310.3h1.06v25.3h-1.06zM661.6,310.3h1.06v25.3h-1.06zM662.6,310.3h1.06v25.3h-1.06zM664.6,310.3h1.06v25.3h-1.06zM665.6,310.3h1.06v25.3h-1.06zM668.6,310.3h1.06v25.3h-1.06zM671.6,310.3h1.06v25.3h-1.06zM674.6,310.3h1.06v25.3h-1.06zM677.6,310.3h1.06v25.3h-1.06zM678.6,310.3h1.06v25.3h-1.06zM679.6,310.3h1.06v25.3h-1.06zM680.6,310.3h1.06v25.3h-1.06zM681.6,310.3h1.06v25.3h-1.06zM683.6,310.3h1.06v25.3h-1.06zM685.6,310.3h1.06v25.3h-1.06zM686.6,310.3h1.06v25.3h-1.06zM688.6,310.3h1.06v25.3h-1.06zM689.6,310.3h1.06v25.3h-1.06zM691.6,310.3h1.06v25.3h-1.06zM693.6,284.8h1.06v25.5h-1.06zM695.6,310.3h1.06v25.3h-1.06zM703.6,310.3h1.06v25.3h-1.06zM704.6,284.8h1.06v25.5h-1.06zM707.6,310.3h1.06v25.3h-1.06zM708.6,310.3h1.06v25.3h-1.06zM710.6,310.3h1.06v25.3h-1.06zM713.6,310.3h1.06v25.3h-1.06zM715.6,310.3h1.06v25.3h-1.06zM716.6,310.3h1.06v25.3h-1.06zM718.6,310.3h1.06v25.3h-1.06zM719.6,310.3h1.06v25.3h-1.06zM722.6,310.3h1.06v25.3h-1.06zM723.6,310.3h1.06v25.3h-1.06zM725.6,310.3h1.06v25.3h-1.06zM726.6,310.3h1.06v25.3h-1.06zM733.6,284.8h1.06v25.5h-1.06zM734.6,310.3h1.06v25.3h-1.06zM739.6,310.3h1.06v25.3h-1.06zM741.6,310.3h1.06v25.3h-1.06zM745.6,310.3h1.06v25.3h-1.06zM748.6,310.3h1.06v25.3h-1.06zM749.6,310.3h1.06v25.3h-1.06zM756.6,310.3h1.06v25.3h-1.06zM759.6,310.3h1.06v25.3h-1.06zM760.6,284.8h1.06v25.5h-1.06zM761.6,284.8h1.06v25.5h-1.06zM764.6,310.3h1.06v25.3h-1.06zM768.6,284.8h1.06v25.5h-1.06zM769.6,284.8h1.06v25.5h-1.06zM770.6,284.8h1.06v25.5h-1.06zM773.6,310.3h1.06v25.3h-1.06zM774.6,284.8h1.06v25.5h-1.06zM774.6,310.3h1.06v25.3h-1.06zM778.6,284.8h1.06v25.5h-1.06zM779.6,310.3h1.06v25.3h-1.06zM782.6,284.8h1.06v25.5h-1.06zM783.6,310.3h1.06v25.3h-1.06zM785.6,310.3h1.06v25.3h-1.06zM786.6,310.3h1.06v25.3h-1.06zM792.0,310.3h1.06v25.3h-1.06zM800.0,310.3h1.06v25.3h-1.06zM804.0,310.3h1.06v25.3h-1.06zM805.0,310.3h1.06v25.3h-1.06zM809.0,310.3h1.06v25.3h-1.06zM810.0,310.3h1.06v25.3h-1.06zM811.0,310.3h1.06v25.3h-1.06zM813.0,310.3h1.06v25.3h-1.06zM815.0,310.3h1.06v25.3h-1.06zM818.0,310.3h1.06v25.3h-1.06zM841.0,284.8h1.06v25.5h-1.06zM865.0,284.8h1.06v25.5h-1.06zM919.1,284.8h1.06v25.5h-1.06zM929.1,310.3h1.06v25.3h-1.06zM938.1,284.8h1.06v25.5h-1.06z" fill="#ad9ede"/>
<path d="M566.6,284.8h1.06v25.5h-1.06zM572.6,284.8h1.06v25.5h-1.06zM573.6,284.8h1.06v25.5h-1.06zM579.6,284.8h1.06v25.5h-1.06zM582.6,284.8h1.06v25.5h-1.06zM606.6,284.8h1.06v25.5h-1.06zM612.6,284.8h1.06v25.5h-1.06zM613.6,284.8h1.06v25.5h-1.06zM636.6,284.8h1.06v25.5h-1.06zM655.6,284.8h1.06v25.5h-1.06zM660.6,284.8h1.06v25.5h-1.06zM667.6,284.8h1.06v25.5h-1.06zM694.6,284.8h1.06v25.5h-1.06zM744.6,284.8h1.06v25.5h-1.06zM794.0,284.8h1.06v25.5h-1.06zM816.0,284.8h1.06v25.5h-1.06zM819.0,284.8h1.06v25.5h-1.06zM856.0,260h1.06v24.8h-1.06zM894.0,260h1.06v24.8h-1.06zM896.0,260h1.06v24.8h-1.06zM924.1,260h1.06v24.8h-1.06zM937.1,260h1.06v24.8h-1.06zM941.1,260h1.06v24.8h-1.06zM948.1,260h1.06v24.8h-1.06z" fill="#e2daf5"/>
<path d="M569.6,260h1.06v24.8h-1.06zM570.6,260h1.06v24.8h-1.06zM592.6,260h1.06v24.8h-1.06zM638.6,260h1.06v24.8h-1.06zM646.6,260h1.06v24.8h-1.06zM685.6,260h1.06v24.8h-1.06zM688.6,260h1.06v24.8h-1.06zM692.6,260h1.06v24.8h-1.06zM707.6,260h1.06v24.8h-1.06zM716.6,260h1.06v24.8h-1.06zM722.6,260h1.06v24.8h-1.06zM724.6,260h1.06v24.8h-1.06zM730.6,260h1.06v24.8h-1.06zM731.6,260h1.06v24.8h-1.06zM738.6,260h1.06v24.8h-1.06zM741.6,260h1.06v24.8h-1.06zM745.6,260h1.06v24.8h-1.06zM747.6,260h1.06v24.8h-1.06zM749.6,260h1.06v24.8h-1.06zM754.6,260h1.06v24.8h-1.06zM797.0,260h1.06v24.8h-1.06zM805.0,260h1.06v24.8h-1.06zM808.0,260h1.06v24.8h-1.06zM809.0,260h1.06v24.8h-1.06zM816.0,260h1.06v24.8h-1.06zM817.0,260h1.06v24.8h-1.06z" fill="#d27f6c"/>
<path d="M578.6,284.8h1.06v25.5h-1.06zM585.6,284.8h1.06v25.5h-1.06zM588.6,284.8h1.06v25.5h-1.06zM598.6,284.8h1.06v25.5h-1.06zM603.6,284.8h1.06v25.5h-1.06zM605.6,284.8h1.06v25.5h-1.06zM621.6,284.8h1.06v25.5h-1.06zM629.6,284.8h1.06v25.5h-1.06zM630.6,284.8h1.06v25.5h-1.06zM659.6,284.8h1.06v25.5h-1.06zM668.6,284.8h1.06v25.5h-1.06zM682.6,284.8h1.06v25.5h-1.06zM688.6,284.8h1.06v25.5h-1.06zM689.6,284.8h1.06v25.5h-1.06zM691.6,284.8h1.06v25.5h-1.06zM692.6,284.8h1.06v25.5h-1.06zM693.6,310.3h1.06v25.3h-1.06zM695.6,284.8h1.06v25.5h-1.06zM696.6,284.8h1.06v25.5h-1.06zM698.6,284.8h1.06v25.5h-1.06zM700.6,284.8h1.06v25.5h-1.06zM702.6,310.3h1.06v25.3h-1.06zM705.6,284.8h1.06v25.5h-1.06zM706.6,284.8h1.06v25.5h-1.06zM707.6,284.8h1.06v25.5h-1.06zM708.6,284.8h1.06v25.5h-1.06zM709.6,284.8h1.06v25.5h-1.06zM710.6,284.8h1.06v25.5h-1.06zM712.6,284.8h1.06v25.5h-1.06zM715.6,284.8h1.06v25.5h-1.06zM716.6,284.8h1.06v25.5h-1.06zM719.6,284.8h1.06v25.5h-1.06zM720.6,284.8h1.06v25.5h-1.06zM720.6,310.3h1.06v25.3h-1.06zM721.6,284.8h1.06v25.5h-1.06zM724.6,284.8h1.06v25.5h-1.06zM725.6,284.8h1.06v25.5h-1.06zM729.6,310.3h1.06v25.3h-1.06zM730.6,284.8h1.06v25.5h-1.06zM731.6,310.3h1.06v25.3h-1.06zM734.6,284.8h1.06v25.5h-1.06zM735.6,284.8h1.06v25.5h-1.06zM737.6,284.8h1.06v25.5h-1.06zM738.6,284.8h1.06v25.5h-1.06zM741.6,284.8h1.06v25.5h-1.06zM746.6,310.3h1.06v25.3h-1.06zM747.6,284.8h1.06v25.5h-1.06zM748.6,284.8h1.06v25.5h-1.06zM751.6,284.8h1.06v25.5h-1.06zM754.6,284.8h1.06v25.5h-1.06zM755.6,284.8h1.06v25.5h-1.06zM756.6,284.8h1.06v25.5h-1.06zM766.6,284.8h1.06v25.5h-1.06zM787.6,310.3h1.06v25.3h-1.06zM793.0,284.8h1.06v25.5h-1.06zM794.0,310.3h1.06v25.3h-1.06zM811.0,284.8h1.06v25.5h-1.06zM813.0,284.8h1.06v25.5h-1.06zM814.0,284.8h1.06v25.5h-1.06zM815.0,284.8h1.06v25.5h-1.06zM817.0,284.8h1.06v25.5h-1.06zM922.1,284.8h1.06v25.5h-1.06z" fill="#bfb2e6"/>
<path d="M596.6,284.8h1.06v25.5h-1.06zM820.0,260h1.06v24.8h-1.06zM831.0,260h1.06v24.8h-1.06zM845.0,260h1.06v24.8h-1.06zM850.0,260h1.06v24.8h-1.06zM862.0,260h1.06v24.8h-1.06zM868.0,260h1.06v24.8h-1.06zM872.0,260h1.06v24.8h-1.06zM883.0,260h1.06v24.8h-1.06zM888.0,260h1.06v24.8h-1.06zM899.0,260h1.06v24.8h-1.06zM901.0,260h1.06v24.8h-1.06zM934.1,260h1.06v24.8h-1.06zM938.1,260h1.06v24.8h-1.06zM943.1,260h1.06v24.8h-1.06zM944.1,260h1.06v24.8h-1.06zM949.1,260h1.06v24.8h-1.06zM950.1,260h1.06v24.8h-1.06zM953.1,260h1.06v24.8h-1.06z" fill="#ffffff"/>
<path d="M608.6,260h1.06v24.8h-1.06zM649.6,260h1.06v24.8h-1.06zM683.6,260h1.06v24.8h-1.06zM684.6,260h1.06v24.8h-1.06zM694.6,260h1.06v24.8h-1.06zM695.6,260h1.06v24.8h-1.06zM713.6,260h1.06v24.8h-1.06zM723.6,260h1.06v24.8h-1.06zM728.6,260h1.06v24.8h-1.06zM732.6,260h1.06v24.8h-1.06zM736.6,260h1.06v24.8h-1.06zM752.6,260h1.06v24.8h-1.06zM756.6,260h1.06v24.8h-1.06zM792.0,260h1.06v24.8h-1.06zM795.0,260h1.06v24.8h-1.06zM801.0,260h1.06v24.8h-1.06zM807.0,260h1.06v24.8h-1.06zM810.0,260h1.06v24.8h-1.06z" fill="#cd7662"/>
<path d="M625.6,260h1.06v24.8h-1.06zM644.6,260h1.06v24.8h-1.06zM768.6,260h1.06v24.8h-1.06zM793.0,260h1.06v24.8h-1.06zM826.0,260h1.06v24.8h-1.06zM834.0,260h1.06v24.8h-1.06zM835.0,260h1.06v24.8h-1.06zM836.0,260h1.06v24.8h-1.06zM837.0,260h1.06v24.8h-1.06zM838.0,260h1.06v24.8h-1.06zM860.0,260h1.06v24.8h-1.06zM863.0,260h1.06v24.8h-1.06zM875.0,260h1.06v24.8h-1.06zM889.0,260h1.06v24.8h-1.06zM890.0,260h1.06v24.8h-1.06zM897.0,260h1.06v24.8h-1.06zM905.0,260h1.06v24.8h-1.06zM907.0,260h1.06v24.8h-1.06zM914.0,260h1.06v24.8h-1.06zM923.1,260h1.06v24.8h-1.06zM925.1,260h1.06v24.8h-1.06zM933.1,260h1.06v24.8h-1.06zM935.1,260h1.06v24.8h-1.06zM958.1,260h1.06v24.8h-1.06zM959.1,260h1.06v24.8h-1.06z" fill="#f3d1c7"/>
<path d="M641.6,260h1.06v24.8h-1.06zM672.6,260h1.06v24.8h-1.06zM679.6,260h1.06v24.8h-1.06zM764.6,260h1.06v24.8h-1.06zM772.6,260h1.06v24.8h-1.06zM781.6,260h1.06v24.8h-1.06zM827.0,260h1.06v24.8h-1.06zM840.0,260h1.06v24.8h-1.06zM855.0,260h1.06v24.8h-1.06zM865.0,260h1.06v24.8h-1.06zM909.0,260h1.06v24.8h-1.06zM942.1,260h1.06v24.8h-1.06zM955.1,260h1.06v24.8h-1.06z" fill="#efc5ba"/>
<path d="M663.6,260h1.06v24.8h-1.06zM762.6,260h1.06v24.8h-1.06zM763.6,260h1.06v24.8h-1.06zM776.6,260h1.06v24.8h-1.06zM780.6,260h1.06v24.8h-1.06zM789.6,260h0.36v24.8h-0.36zM821.0,260h1.06v24.8h-1.06zM833.0,260h1.06v24.8h-1.06zM846.0,260h1.06v24.8h-1.06zM847.0,260h1.06v24.8h-1.06zM852.0,260h1.06v24.8h-1.06zM861.0,260h1.06v24.8h-1.06zM867.0,260h1.06v24.8h-1.06zM871.0,260h1.06v24.8h-1.06zM878.0,260h1.06v24.8h-1.06zM879.0,260h1.06v24.8h-1.06zM881.0,260h1.06v24.8h-1.06zM886.0,260h1.06v24.8h-1.06zM887.0,260h1.06v24.8h-1.06zM895.0,260h1.06v24.8h-1.06zM906.0,260h1.06v24.8h-1.06zM921.1,260h1.06v24.8h-1.06zM947.1,260h1.06v24.8h-1.06zM956.1,260h1.06v24.8h-1.06z" fill="#f9e8e3"/>
<path d="M682.6,260h1.06v24.8h-1.06zM699.6,260h1.06v24.8h-1.06zM705.6,260h1.06v24.8h-1.06zM710.6,260h1.06v24.8h-1.06zM714.6,260h1.06v24.8h-1.06zM725.6,260h1.06v24.8h-1.06zM726.6,260h1.06v24.8h-1.06zM755.6,260h1.06v24.8h-1.06zM802.0,260h1.06v24.8h-1.06zM814.0,260h1.06v24.8h-1.06z" fill="#c26350"/>
<path d="M691.6,260h1.06v24.8h-1.06zM693.6,260h1.06v24.8h-1.06zM696.6,260h1.06v24.8h-1.06zM700.6,260h1.06v24.8h-1.06zM708.6,260h1.06v24.8h-1.06zM709.6,260h1.06v24.8h-1.06zM717.6,260h1.06v24.8h-1.06zM718.6,260h1.06v24.8h-1.06zM720.6,260h1.06v24.8h-1.06zM721.6,260h1.06v24.8h-1.06zM737.6,260h1.06v24.8h-1.06zM743.6,260h1.06v24.8h-1.06zM748.6,260h1.06v24.8h-1.06zM753.6,260h1.06v24.8h-1.06z" fill="#c86c58"/>
<path d="M701.6,260h1.06v24.8h-1.06zM703.6,260h1.06v24.8h-1.06zM712.6,260h1.06v24.8h-1.06zM794.0,260h1.06v24.8h-1.06zM818.0,260h1.06v24.8h-1.06z" fill="#bd5a48"/>
<path d="M704.6,260h1.06v24.8h-1.06zM813.0,260h1.06v24.8h-1.06z" fill="#b85140"/>
<path d="M763.6,310.3h1.06v25.3h-1.06zM787.6,284.8h1.06v25.5h-1.06zM803.0,310.3h1.06v25.3h-1.06zM821.0,284.8h1.06v25.5h-1.06zM821.0,310.3h1.06v25.3h-1.06zM822.0,284.8h1.06v25.5h-1.06zM822.0,310.3h1.06v25.3h-1.06zM823.0,284.8h1.06v25.5h-1.06zM823.0,310.3h1.06v25.3h-1.06zM824.0,310.3h1.06v25.3h-1.06zM825.0,284.8h1.06v25.5h-1.06zM827.0,284.8h1.06v25.5h-1.06zM831.0,284.8h1.06v25.5h-1.06zM836.0,284.8h1.06v25.5h-1.06zM837.0,284.8h1.06v25.5h-1.06zM837.0,310.3h1.06v25.3h-1.06zM839.0,284.8h1.06v25.5h-1.06zM840.0,284.8h1.06v25.5h-1.06zM842.0,310.3h1.06v25.3h-1.06zM846.0,284.8h1.06v25.5h-1.06zM847.0,284.8h1.06v25.5h-1.06zM848.0,284.8h1.06v25.5h-1.06zM848.0,310.3h1.06v25.3h-1.06zM849.0,310.3h1.06v25.3h-1.06zM850.0,284.8h1.06v25.5h-1.06zM852.0,284.8h1.06v25.5h-1.06zM853.0,284.8h1.06v25.5h-1.06zM854.0,284.8h1.06v25.5h-1.06zM854.0,310.3h1.06v25.3h-1.06zM856.0,284.8h1.06v25.5h-1.06zM858.0,310.3h1.06v25.3h-1.06zM861.0,284.8h1.06v25.5h-1.06zM861.0,310.3h1.06v25.3h-1.06zM869.0,284.8h1.06v25.5h-1.06zM870.0,284.8h1.06v25.5h-1.06zM870.0,310.3h1.06v25.3h-1.06zM873.0,310.3h1.06v25.3h-1.06zM878.0,310.3h1.06v25.3h-1.06zM879.0,284.8h1.06v25.5h-1.06zM879.0,310.3h1.06v25.3h-1.06zM880.0,284.8h1.06v25.5h-1.06zM883.0,284.8h1.06v25.5h-1.06zM885.0,284.8h1.06v25.5h-1.06zM888.0,310.3h1.06v25.3h-1.06zM889.0,284.8h1.06v25.5h-1.06zM889.0,310.3h1.06v25.3h-1.06zM890.0,284.8h1.06v25.5h-1.06zM891.0,284.8h1.06v25.5h-1.06zM892.0,284.8h1.06v25.5h-1.06zM895.0,284.8h1.06v25.5h-1.06zM895.0,310.3h1.06v25.3h-1.06zM898.0,284.8h1.06v25.5h-1.06zM899.0,310.3h1.06v25.3h-1.06zM902.0,310.3h1.06v25.3h-1.06zM905.0,284.8h1.06v25.5h-1.06zM905.0,310.3h1.06v25.3h-1.06zM909.0,310.3h1.06v25.3h-1.06zM911.0,284.8h1.06v25.5h-1.06zM915.0,310.3h1.06v25.3h-1.06zM916.0,284.8h0.96v25.5h-0.96zM919.1,310.3h1.06v25.3h-1.06zM920.1,284.8h1.06v25.5h-1.06zM921.1,310.3h1.06v25.3h-1.06zM925.1,284.8h1.06v25.5h-1.06zM925.1,310.3h1.06v25.3h-1.06zM928.1,310.3h1.06v25.3h-1.06zM930.1,310.3h1.06v25.3h-1.06zM934.1,284.8h1.06v25.5h-1.06zM935.1,284.8h1.06v25.5h-1.06zM938.1,310.3h1.06v25.3h-1.06zM939.1,284.8h1.06v25.5h-1.06zM940.1,284.8h1.06v25.5h-1.06zM941.1,310.3h1.06v25.3h-1.06zM943.1,310.3h1.06v25.3h-1.06zM945.1,284.8h1.06v25.5h-1.06zM946.1,284.8h1.06v25.5h-1.06zM949.1,284.8h1.06v25.5h-1.06zM949.1,310.3h1.06v25.3h-1.06zM950.1,310.3h1.06v25.3h-1.06zM952.1,284.8h1.06v25.5h-1.06zM953.1,284.8h1.06v25.5h-1.06zM959.1,310.3h1.06v25.3h-1.06zM961.1,284.8h0.16v25.5h-0.16z" fill="#9684d3"/>
<path d="M820.0,284.8h1.06v25.5h-1.06zM820.0,310.3h1.06v25.3h-1.06zM825.0,310.3h1.06v25.3h-1.06zM830.0,310.3h1.06v25.3h-1.06zM833.0,310.3h1.06v25.3h-1.06zM834.0,310.3h1.06v25.3h-1.06zM839.0,310.3h1.06v25.3h-1.06zM840.0,310.3h1.06v25.3h-1.06zM841.0,310.3h1.06v25.3h-1.06zM844.0,310.3h1.06v25.3h-1.06zM845.0,310.3h1.06v25.3h-1.06zM863.0,310.3h1.06v25.3h-1.06zM864.0,310.3h1.06v25.3h-1.06zM868.0,310.3h1.06v25.3h-1.06zM872.0,310.3h1.06v25.3h-1.06zM877.0,310.3h1.06v25.3h-1.06zM880.0,310.3h1.06v25.3h-1.06zM883.0,310.3h1.06v25.3h-1.06zM887.0,310.3h1.06v25.3h-1.06zM888.0,284.8h1.06v25.5h-1.06zM893.0,310.3h1.06v25.3h-1.06zM894.0,310.3h1.06v25.3h-1.06zM897.0,310.3h1.06v25.3h-1.06zM898.0,310.3h1.06v25.3h-1.06zM900.0,284.8h1.06v25.5h-1.06zM900.0,310.3h1.06v25.3h-1.06zM907.0,310.3h1.06v25.3h-1.06zM908.0,310.3h1.06v25.3h-1.06zM912.0,310.3h1.06v25.3h-1.06zM914.0,310.3h1.06v25.3h-1.06zM916.0,310.3h0.96v25.3h-0.96zM933.1,310.3h1.06v25.3h-1.06zM945.1,310.3h1.06v25.3h-1.06zM956.1,310.3h1.06v25.3h-1.06z" fill="#8a76ce"/>
<path d="M824.0,284.8h1.06v25.5h-1.06zM826.0,310.3h1.06v25.3h-1.06zM828.0,310.3h1.06v25.3h-1.06zM829.0,284.8h1.06v25.5h-1.06zM829.0,310.3h1.06v25.3h-1.06zM830.0,284.8h1.06v25.5h-1.06zM831.0,310.3h1.06v25.3h-1.06zM832.0,284.8h1.06v25.5h-1.06zM832.0,310.3h1.06v25.3h-1.06zM833.0,284.8h1.06v25.5h-1.06zM834.0,284.8h1.06v25.5h-1.06zM835.0,310.3h1.06v25.3h-1.06zM836.0,310.3h1.06v25.3h-1.06zM838.0,310.3h1.06v25.3h-1.06zM842.0,284.8h1.06v25.5h-1.06zM846.0,310.3h1.06v25.3h-1.06zM847.0,310.3h1.06v25.3h-1.06zM850.0,310.3h1.06v25.3h-1.06zM851.0,284.8h1.06v25.5h-1.06zM851.0,310.3h1.06v25.3h-1.06zM852.0,310.3h1.06v25.3h-1.06zM853.0,310.3h1.06v25.3h-1.06zM855.0,284.8h1.06v25.5h-1.06zM856.0,310.3h1.06v25.3h-1.06zM857.0,284.8h1.06v25.5h-1.06zM857.0,310.3h1.06v25.3h-1.06zM859.0,284.8h1.06v25.5h-1.06zM859.0,310.3h1.06v25.3h-1.06zM860.0,310.3h1.06v25.3h-1.06zM862.0,310.3h1.06v25.3h-1.06zM865.0,310.3h1.06v25.3h-1.06zM866.0,284.8h1.06v25.5h-1.06zM866.0,310.3h1.06v25.3h-1.06zM867.0,284.8h1.06v25.5h-1.06zM867.0,310.3h1.06v25.3h-1.06zM869.0,310.3h1.06v25.3h-1.06zM871.0,284.8h1.06v25.5h-1.06zM871.0,310.3h1.06v25.3h-1.06zM872.0,284.8h1.06v25.5h-1.06zM873.0,284.8h1.06v25.5h-1.06zM874.0,310.3h1.06v25.3h-1.06zM875.0,284.8h1.06v25.5h-1.06zM875.0,310.3h1.06v25.3h-1.06zM876.0,284.8h1.06v25.5h-1.06zM876.0,310.3h1.06v25.3h-1.06zM878.0,284.8h1.06v25.5h-1.06zM882.0,310.3h1.06v25.3h-1.06zM884.0,310.3h1.06v25.3h-1.06zM885.0,310.3h1.06v25.3h-1.06zM886.0,310.3h1.06v25.3h-1.06zM887.0,284.8h1.06v25.5h-1.06zM890.0,310.3h1.06v25.3h-1.06zM891.0,310.3h1.06v25.3h-1.06zM892.0,310.3h1.06v25.3h-1.06zM894.0,284.8h1.06v25.5h-1.06zM896.0,284.8h1.06v25.5h-1.06zM896.0,310.3h1.06v25.3h-1.06zM901.0,310.3h1.06v25.3h-1.06zM902.0,284.8h1.06v25.5h-1.06zM903.0,284.8h1.06v25.5h-1.06zM903.0,310.3h1.06v25.3h-1.06zM904.0,310.3h1.06v25.3h-1.06zM906.0,310.3h1.06v25.3h-1.06zM910.0,284.8h1.06v25.5h-1.06zM910.0,310.3h1.06v25.3h-1.06zM911.0,310.3h1.06v25.3h-1.06zM913.0,310.3h1.06v25.3h-1.06zM914.0,284.8h1.06v25.5h-1.06zM920.1,310.3h1.06v25.3h-1.06zM921.1,284.8h1.06v25.5h-1.06zM922.1,310.3h1.06v25.3h-1.06zM923.1,310.3h1.06v25.3h-1.06zM926.1,310.3h1.06v25.3h-1.06zM931.1,284.8h1.06v25.5h-1.06zM932.1,310.3h1.06v25.3h-1.06zM934.1,310.3h1.06v25.3h-1.06zM935.1,310.3h1.06v25.3h-1.06zM936.1,284.8h1.06v25.5h-1.06zM936.1,310.3h1.06v25.3h-1.06zM937.1,310.3h1.06v25.3h-1.06zM939.1,310.3h1.06v25.3h-1.06zM940.1,310.3h1.06v25.3h-1.06zM942.1,284.8h1.06v25.5h-1.06zM942.1,310.3h1.06v25.3h-1.06zM944.1,284.8h1.06v25.5h-1.06zM944.1,310.3h1.06v25.3h-1.06zM947.1,310.3h1.06v25.3h-1.06zM948.1,310.3h1.06v25.3h-1.06zM951.1,310.3h1.06v25.3h-1.06zM952.1,310.3h1.06v25.3h-1.06zM953.1,310.3h1.06v25.3h-1.06zM954.1,310.3h1.06v25.3h-1.06zM955.1,310.3h1.06v25.3h-1.06zM956.1,284.8h1.06v25.5h-1.06zM957.1,310.3h1.06v25.3h-1.06zM958.1,310.3h1.06v25.3h-1.06zM959.1,284.8h1.06v25.5h-1.06zM960.1,310.3h1.06v25.3h-1.06z" fill="#8f7bd0"/>
<path d="M828.0,260h1.06v24.8h-1.06zM829.0,260h1.06v24.8h-1.06zM830.0,260h1.06v24.8h-1.06zM848.0,260h1.06v24.8h-1.06zM851.0,260h1.06v24.8h-1.06zM857.0,260h1.06v24.8h-1.06zM858.0,260h1.06v24.8h-1.06zM870.0,260h1.06v24.8h-1.06zM876.0,260h1.06v24.8h-1.06zM877.0,260h1.06v24.8h-1.06zM884.0,260h1.06v24.8h-1.06zM892.0,260h1.06v24.8h-1.06zM919.1,260h1.06v24.8h-1.06zM930.1,260h1.06v24.8h-1.06zM954.1,260h1.06v24.8h-1.06zM957.1,260h1.06v24.8h-1.06z" fill="#fcf3f1"/>
<path d="M855.0,310.3h1.06v25.3h-1.06zM881.0,310.3h1.06v25.3h-1.06zM893.0,284.8h1.06v25.5h-1.06z" fill="#8472cc"/>
<text x="678.7" y="241.3" font-size="10" text-anchor="middle" fill="#111">Người khỏe mạnh</text>
<text x="856.2" y="241.3" font-size="10" text-anchor="middle" fill="#111">Không nghiêm trọng</text>
<text x="948.8" y="241.3" font-size="10" text-anchor="middle" fill="#111">Nghiêm trọng</text>
<text x="963.5" y="276.1" font-size="9.3" fill="#111">cg13452062</text>
<text x="963.5" y="301.6" font-size="9.3" fill="#111">cg07189579</text>
<text x="963.5" y="327.0" font-size="9.3" fill="#111">cg22652934</text>
<text x="1021.5" y="248.6" font-size="7.3" font-weight="bold" fill="#111">Xu hướng</text>
<rect x="1021.1" y="252.9" width="8.7" height="7.9" fill="#d5e6a1"/>
<text x="1031.9" y="259.6" font-size="7.4" fill="#111">Giảm methyl hóa</text>
<text x="1021.5" y="275.8" font-size="7.5" font-weight="bold" fill="#111">Giá trị methyl hóa</text>
<defs><linearGradient id="hg" x1="0" y1="0" x2="0" y2="1"><stop offset="0" stop-color="#8b0000"/><stop offset="0.25" stop-color="#d07c69"/><stop offset="0.5" stop-color="#fff"/><stop offset="0.75" stop-color="#9582d2"/><stop offset="1" stop-color="#1a1a8c"/></linearGradient></defs>
<rect x="1020.8" y="279.8" width="9.3" height="46.5" fill="url(#hg)"/><path d="M1020.8,281.6h1.8M1028.3,281.6h1.8M1020.8,303.3h1.8M1028.3,303.3h1.8M1020.8,324.5h1.8M1028.3,324.5h1.8" stroke="#fff" stroke-width="0.5"/>
<text x="1032.1" y="284.8" font-size="7.2" fill="#111">1</text>
<text x="1032.1" y="306.1" font-size="7.2" fill="#111">0.5</text>
<text x="1032.1" y="327.1" font-size="7.2" fill="#111">0</text>
</g>
<g id="formula">
<rect x="525.4" y="405.5" width="499" height="20" fill="#dae8fc"/>
<text x="530" y="419.2" font-size="12" fill="#000">Điểm COMER =6.9651- 3.2713 × <tspan font-size="16">β</tspan><tspan font-size="10" dy="3">cg13452062</tspan><tspan dy="-3">- </tspan><tspan font-family="'Liberation Serif',serif" font-size="13">6.6951 × </tspan><tspan font-size="16">β</tspan><tspan font-size="10" dy="3">cg07189579</tspan><tspan dy="-3">- 6.3909 × </tspan><tspan font-size="16">β</tspan><tspan font-size="10" dy="3">cg22652934</tspan></text>
</g>
<g id="density">
<line x1="551.6" x2="1019" y1="517.3" y2="517.3" stroke="#f3f3f3" stroke-width="0.5"/>
<line x1="551.6" x2="1019" y1="560.2" y2="560.2" stroke="#f3f3f3" stroke-width="0.5"/>
<line x1="551.6" x2="1019" y1="603.1" y2="603.1" stroke="#f3f3f3" stroke-width="0.5"/>
<line x1="551.6" x2="1019" y1="646" y2="646" stroke="#f3f3f3" stroke-width="0.5"/>
<line x1="551.6" x2="1019" y1="688.9" y2="688.9" stroke="#f3f3f3" stroke-width="0.5"/>
<line x1="627.6" x2="627.6" y1="507.6" y2="715.6" stroke="#f3f3f3" stroke-width="0.5"/>
<line x1="724.9" x2="724.9" y1="507.6" y2="715.6" stroke="#f3f3f3" stroke-width="0.5"/>
<line x1="822" x2="822" y1="507.6" y2="715.6" stroke="#f3f3f3" stroke-width="0.5"/>
<line x1="919.3" x2="919.3" y1="507.6" y2="715.6" stroke="#f3f3f3" stroke-width="0.5"/>
<line x1="1016.5" x2="1016.5" y1="507.6" y2="715.6" stroke="#f3f3f3" stroke-width="0.5"/>
<line x1="551.6" x2="1019" y1="507.6" y2="507.6" stroke="#f3d8d2" stroke-width="0.5"/>
<line x1="551.6" x2="1019" y1="715.6" y2="715.6" stroke="#e2e2e2" stroke-width="0.5"/>
<defs><linearGradient id="dg" gradientUnits="userSpaceOnUse" x1="640" y1="0" x2="994" y2="0"><stop offset="0" stop-color="#ecb2c1"/><stop offset="0.4" stop-color="#eaa9a6"/><stop offset="1" stop-color="#e8996a"/></linearGradient></defs>
<path d="M647.9,687.4h0M647.9,683.2h0M650.2,687.4h0M652.5,687.4h0M652.5,683.2h0M654.8,687.4h0M654.8,683.2h0M657.1,687.4h0M657.1,683.2h0M659.4,687.4h0M659.4,683.2h0M659.4,678.9h0M661.7,687.4h0M661.7,683.2h0M661.7,678.9h0M661.7,674.7h0M664.0,687.4h0M664.0,683.2h0M664.0,678.9h0M666.3,687.4h0M666.3,683.2h0M666.3,678.9h0M668.6,687.4h0M670.9,687.4h0M670.9,683.2h0M670.9,678.9h0M673.2,687.4h0M673.2,683.2h0M673.2,678.9h0M673.2,674.7h0M673.2,670.4h0M675.5,687.4h0M675.5,683.2h0M675.5,678.9h0M675.5,674.7h0M677.8,687.4h0M677.8,683.2h0M677.8,678.9h0M677.8,674.7h0M677.8,670.4h0M680.1,687.4h0M680.1,683.2h0M680.1,678.9h0M680.1,674.7h0M680.1,670.4h0M680.1,666.2h0M682.4,687.4h0M682.4,683.2h0M682.4,678.9h0M682.4,674.7h0M684.7,687.4h0M684.7,683.2h0M684.7,678.9h0M684.7,674.7h0M684.7,670.4h0M684.7,666.2h0M684.7,662.0h0M687.0,687.4h0M687.0,683.2h0M687.0,678.9h0M687.0,674.7h0M687.0,670.4h0M687.0,666.2h0M687.0,662.0h0M687.0,657.7h0M689.3,687.4h0M689.3,683.2h0M689.3,678.9h0M689.3,674.7h0M689.3,670.4h0M689.3,666.2h0M689.3,662.0h0M689.3,657.7h0M689.3,653.5h0M691.6,687.4h0M691.6,683.2h0M691.6,678.9h0M691.6,674.7h0M691.6,670.4h0M691.6,666.2h0M691.6,662.0h0M691.6,657.7h0M691.6,653.5h0M691.6,649.2h0M691.6,645.0h0M691.6,640.8h0M691.6,636.5h0M693.9,687.4h0M693.9,683.2h0M693.9,678.9h0M693.9,674.7h0M693.9,670.4h0M693.9,666.2h0M693.9,662.0h0M693.9,657.7h0M693.9,653.5h0M693.9,649.2h0M693.9,645.0h0M693.9,640.8h0M696.2,687.4h0M696.2,683.2h0M696.2,678.9h0M696.2,674.7h0M696.2,670.4h0M696.2,666.2h0M696.2,662.0h0M696.2,657.7h0M696.2,653.5h0M696.2,649.2h0M696.2,645.0h0M698.5,687.4h0M698.5,683.2h0M698.5,678.9h0M698.5,674.7h0M698.5,670.4h0M698.5,666.2h0M698.5,662.0h0M698.5,657.7h0M698.5,653.5h0M698.5,649.2h0M700.8,687.4h0M700.8,683.2h0M700.8,678.9h0M700.8,674.7h0M700.8,670.4h0M700.8,666.2h0M700.8,662.0h0M700.8,657.7h0M700.8,653.5h0M700.8,649.2h0M700.8,645.0h0M703.1,687.4h0M703.1,683.2h0M703.1,678.9h0M703.1,674.7h0M703.1,670.4h0M703.1,666.2h0M703.1,662.0h0M703.1,657.7h0M703.1,653.5h0M703.1,649.2h0M703.1,645.0h0M703.1,640.8h0M703.1,636.5h0M703.1,632.3h0M705.4,687.4h0M705.4,683.2h0M705.4,678.9h0M705.4,674.7h0M705.4,670.4h0M705.4,666.2h0M705.4,662.0h0M705.4,657.7h0M707.7,687.4h0M707.7,683.2h0M707.7,678.9h0M707.7,674.7h0M707.7,670.4h0M707.7,666.2h0M707.7,662.0h0M707.7,657.7h0M707.7,653.5h0M707.7,649.2h0M707.7,645.0h0M707.7,640.8h0M707.7,636.5h0M710.0,687.4h0M710.0,683.2h0M710.0,678.9h0M710.0,674.7h0M710.0,670.4h0M710.0,666.2h0M710.0,662.0h0M710.0,657.7h0M710.0,653.5h0M710.0,649.2h0M710.0,645.0h0M710.0,640.8h0M710.0,636.5h0M710.0,632.3h0M710.0,628.0h0M710.0,623.8h0M710.0,619.6h0M710.0,615.3h0M712.3,687.4h0M712.3,683.2h0M712.3,678.9h0M712.3,674.7h0M712.3,670.4h0M712.3,666.2h0M712.3,662.0h0M712.3,657.7h0M712.3,653.5h0M712.3,649.2h0M712.3,645.0h0M712.3,640.8h0M712.3,636.5h0M712.3,632.3h0M712.3,628.0h0M712.3,623.8h0M712.3,619.6h0M714.6,687.4h0M714.6,683.2h0M714.6,678.9h0M714.6,674.7h0M714.6,670.4h0M714.6,666.2h0M714.6,662.0h0M714.6,657.7h0M714.6,653.5h0M714.6,649.2h0M714.6,645.0h0M714.6,640.8h0M714.6,636.5h0M714.6,632.3h0M714.6,628.0h0M714.6,623.8h0M716.9,687.4h0M716.9,683.2h0M716.9,678.9h0M716.9,674.7h0M716.9,670.4h0M716.9,666.2h0M716.9,662.0h0M716.9,657.7h0M716.9,653.5h0M716.9,649.2h0M716.9,645.0h0M716.9,640.8h0M716.9,636.5h0M716.9,632.3h0M716.9,628.0h0M719.2,687.4h0M719.2,683.2h0M719.2,678.9h0M719.2,674.7h0M719.2,670.4h0M719.2,666.2h0M719.2,662.0h0M719.2,657.7h0M719.2,653.5h0M719.2,649.2h0M719.2,645.0h0M719.2,640.8h0M721.5,687.4h0M721.5,683.2h0M721.5,678.9h0M721.5,674.7h0M721.5,670.4h0M721.5,666.2h0M721.5,662.0h0M721.5,657.7h0M721.5,653.5h0M721.5,649.2h0M721.5,645.0h0M721.5,640.8h0M721.5,636.5h0M721.5,632.3h0M721.5,628.0h0M721.5,623.8h0M721.5,619.6h0M721.5,615.3h0M721.5,611.1h0M721.5,606.8h0M721.5,602.6h0M721.5,598.4h0M721.5,594.1h0M721.5,589.9h0M723.8,687.4h0M723.8,683.2h0M723.8,678.9h0M723.8,674.7h0M723.8,670.4h0M723.8,666.2h0M723.8,662.0h0M723.8,657.7h0M723.8,653.5h0M723.8,649.2h0M723.8,645.0h0M723.8,640.8h0M723.8,636.5h0M723.8,632.3h0M723.8,628.0h0M723.8,623.8h0M723.8,619.6h0M723.8,615.3h0M726.1,687.4h0M726.1,683.2h0M726.1,678.9h0M726.1,674.7h0M726.1,670.4h0M726.1,666.2h0M726.1,662.0h0M726.1,657.7h0M726.1,653.5h0M726.1,649.2h0M726.1,645.0h0M726.1,640.8h0M726.1,636.5h0M726.1,632.3h0M726.1,628.0h0M726.1,623.8h0M726.1,619.6h0M726.1,615.3h0M726.1,611.1h0M726.1,606.8h0M728.4,687.4h0M728.4,683.2h0M728.4,678.9h0M728.4,674.7h0M728.4,670.4h0M728.4,666.2h0M728.4,662.0h0M728.4,657.7h0M728.4,653.5h0M728.4,649.2h0M728.4,645.0h0M728.4,640.8h0M728.4,636.5h0M728.4,632.3h0M728.4,628.0h0M728.4,623.8h0M728.4,619.6h0M728.4,615.3h0M728.4,611.1h0M728.4,606.8h0M728.4,602.6h0M728.4,598.4h0M728.4,594.1h0M728.4,589.9h0M728.4,585.6h0M728.4,581.4h0M730.7,687.4h0M730.7,683.2h0M730.7,678.9h0M730.7,674.7h0M730.7,670.4h0M730.7,666.2h0M730.7,662.0h0M730.7,657.7h0M730.7,653.5h0M730.7,649.2h0M730.7,645.0h0M730.7,640.8h0M730.7,636.5h0M730.7,632.3h0M730.7,628.0h0M730.7,623.8h0M730.7,619.6h0M730.7,615.3h0M730.7,611.1h0M730.7,606.8h0M730.7,602.6h0M730.7,598.4h0M730.7,594.1h0M733.0,687.4h0M733.0,683.2h0M733.0,678.9h0M733.0,674.7h0M733.0,670.4h0M733.0,666.2h0M733.0,662.0h0M733.0,657.7h0M733.0,653.5h0M733.0,649.2h0M733.0,645.0h0M733.0,640.8h0M733.0,636.5h0M733.0,632.3h0M733.0,628.0h0M733.0,623.8h0M735.3,687.4h0M735.3,683.2h0M735.3,678.9h0M735.3,674.7h0M735.3,670.4h0M735.3,666.2h0M735.3,662.0h0M735.3,657.7h0M735.3,653.5h0M735.3,649.2h0M735.3,645.0h0M735.3,640.8h0M735.3,636.5h0M735.3,632.3h0M735.3,628.0h0M735.3,623.8h0M735.3,619.6h0M735.3,615.3h0M735.3,611.1h0M735.3,606.8h0M735.3,602.6h0M735.3,598.4h0M735.3,594.1h0M735.3,589.9h0M735.3,585.6h0M735.3,581.4h0M735.3,577.2h0M735.3,572.9h0M735.3,568.7h0M735.3,564.4h0M735.3,560.2h0M735.3,556.0h0M735.3,551.7h0M737.6,687.4h0M737.6,683.2h0M737.6,678.9h0M737.6,674.7h0M737.6,670.4h0M737.6,666.2h0M737.6,662.0h0M737.6,657.7h0M737.6,653.5h0M737.6,649.2h0M737.6,645.0h0M737.6,640.8h0M737.6,636.5h0M737.6,632.3h0M737.6,628.0h0M737.6,623.8h0M737.6,619.6h0M737.6,615.3h0M739.9,687.4h0M739.9,683.2h0M739.9,678.9h0M739.9,674.7h0M739.9,670.4h0M739.9,666.2h0M739.9,662.0h0M739.9,657.7h0M739.9,653.5h0M739.9,649.2h0M739.9,645.0h0M739.9,640.8h0M739.9,636.5h0M739.9,632.3h0M739.9,628.0h0M739.9,623.8h0M739.9,619.6h0M739.9,615.3h0M739.9,611.1h0M739.9,606.8h0M739.9,602.6h0M739.9,598.4h0M739.9,594.1h0M739.9,589.9h0M739.9,585.6h0M739.9,581.4h0M739.9,577.2h0M739.9,572.9h0M739.9,568.7h0M739.9,564.4h0M739.9,560.2h0M739.9,556.0h0M739.9,551.7h0M742.2,687.4h0M742.2,683.2h0M742.2,678.9h0M742.2,674.7h0M742.2,670.4h0M742.2,666.2h0M742.2,662.0h0M742.2,657.7h0M742.2,653.5h0M742.2,649.2h0M742.2,645.0h0M742.2,640.8h0M742.2,636.5h0M742.2,632.3h0M742.2,628.0h0M742.2,623.8h0M742.2,619.6h0M742.2,615.3h0M742.2,611.1h0M742.2,606.8h0M742.2,602.6h0M742.2,598.4h0M742.2,594.1h0M742.2,589.9h0M742.2,585.6h0M742.2,581.4h0M742.2,577.2h0M744.5,687.4h0M744.5,683.2h0M744.5,678.9h0M744.5,674.7h0M744.5,670.4h0M744.5,666.2h0M744.5,662.0h0M744.5,657.7h0M744.5,653.5h0M744.5,649.2h0M744.5,645.0h0M744.5,640.8h0M744.5,636.5h0M744.5,632.3h0M744.5,628.0h0M744.5,623.8h0M744.5,619.6h0M744.5,615.3h0M744.5,611.1h0M744.5,606.8h0M744.5,602.6h0M744.5,598.4h0M744.5,594.1h0M744.5,589.9h0M744.5,585.6h0M744.5,581.4h0M744.5,577.2h0M746.8,687.4h0M746.8,683.2h0M746.8,678.9h0M746.8,674.7h0M746.8,670.4h0M746.8,666.2h0M746.8,662.0h0M746.8,657.7h0M746.8,653.5h0M746.8,649.2h0M746.8,645.0h0M746.8,640.8h0M746.8,636.5h0M746.8,632.3h0M746.8,628.0h0M746.8,623.8h0M746.8,619.6h0M746.8,615.3h0M746.8,611.1h0M746.8,606.8h0M746.8,602.6h0M746.8,598.4h0M746.8,594.1h0M746.8,589.9h0M746.8,585.6h0M749.1,687.4h0M749.1,683.2h0M749.1,678.9h0M749.1,674.7h0M749.1,670.4h0M749.1,666.2h0M749.1,662.0h0M749.1,657.7h0M749.1,653.5h0M749.1,649.2h0M749.1,645.0h0M749.1,640.8h0M749.1,636.5h0M749.1,632.3h0M749.1,628.0h0M749.1,623.8h0M749.1,619.6h0M749.1,615.3h0M749.1,611.1h0M749.1,606.8h0M749.1,602.6h0M749.1,598.4h0M749.1,594.1h0M749.1,589.9h0M749.1,585.6h0M749.1,581.4h0M749.1,577.2h0M749.1,572.9h0M749.1,568.7h0M749.1,564.4h0M751.4,687.4h0M751.4,683.2h0M751.4,678.9h0M751.4,674.7h0M751.4,670.4h0M751.4,666.2h0M751.4,662.0h0M751.4,657.7h0M751.4,653.5h0M751.4,649.2h0M751.4,645.0h0M751.4,640.8h0M751.4,636.5h0M751.4,632.3h0M751.4,628.0h0M751.4,623.8h0M751.4,619.6h0M751.4,615.3h0M751.4,611.1h0M751.4,606.8h0M751.4,602.6h0M751.4,598.4h0M751.4,594.1h0M751.4,589.9h0M751.4,585.6h0M751.4,581.4h0M751.4,577.2h0M753.7,687.4h0M753.7,683.2h0M753.7,678.9h0M753.7,674.7h0M753.7,670.4h0M753.7,666.2h0M753.7,662.0h0M753.7,657.7h0M753.7,653.5h0M753.7,649.2h0M753.7,645.0h0M753.7,640.8h0M753.7,636.5h0M753.7,632.3h0M753.7,628.0h0M753.7,623.8h0M753.7,619.6h0M753.7,615.3h0M753.7,611.1h0M753.7,606.8h0M753.7,602.6h0M753.7,598.4h0M753.7,594.1h0M753.7,589.9h0M756.0,687.4h0M756.0,683.2h0M756.0,678.9h0M756.0,674.7h0M756.0,670.4h0M756.0,666.2h0M756.0,662.0h0M756.0,657.7h0M756.0,653.5h0M756.0,649.2h0M756.0,645.0h0M756.0,640.8h0M756.0,636.5h0M756.0,632.3h0M756.0,628.0h0M756.0,623.8h0M756.0,619.6h0M756.0,615.3h0M756.0,611.1h0M756.0,606.8h0M756.0,602.6h0M756.0,598.4h0M758.3,687.4h0M758.3,683.2h0M758.3,678.9h0M758.3,674.7h0M758.3,670.4h0M758.3,666.2h0M758.3,662.0h0M758.3,657.7h0M758.3,653.5h0M758.3,649.2h0M758.3,645.0h0M758.3,640.8h0M758.3,636.5h0M758.3,632.3h0M758.3,628.0h0M758.3,623.8h0M758.3,619.6h0M758.3,615.3h0M758.3,611.1h0M758.3,606.8h0M758.3,602.6h0M758.3,598.4h0M758.3,594.1h0M758.3,589.9h0M760.6,687.4h0M760.6,683.2h0M760.6,678.9h0M760.6,674.7h0M760.6,670.4h0M760.6,666.2h0M760.6,662.0h0M760.6,657.7h0M760.6,653.5h0M760.6,649.2h0M760.6,645.0h0M760.6,640.8h0M760.6,636.5h0M760.6,632.3h0M760.6,628.0h0M760.6,623.8h0M760.6,619.6h0M760.6,615.3h0M760.6,611.1h0M760.6,606.8h0M762.9,687.4h0M762.9,683.2h0M762.9,678.9h0M762.9,674.7h0M762.9,670.4h0M762.9,666.2h0M762.9,662.0h0M762.9,657.7h0M762.9,653.5h0M762.9,649.2h0M762.9,645.0h0M762.9,640.8h0M762.9,636.5h0M762.9,632.3h0M762.9,628.0h0M765.2,687.4h0M765.2,683.2h0M765.2,678.9h0M765.2,674.7h0M765.2,670.4h0M765.2,666.2h0M765.2,662.0h0M765.2,657.7h0M765.2,653.5h0M765.2,649.2h0M765.2,645.0h0M765.2,640.8h0M765.2,636.5h0M765.2,632.3h0M765.2,628.0h0M765.2,623.8h0M767.5,687.4h0M767.5,683.2h0M767.5,678.9h0M767.5,674.7h0M767.5,670.4h0M767.5,666.2h0M767.5,662.0h0M767.5,657.7h0M767.5,653.5h0M767.5,649.2h0M767.5,645.0h0M767.5,640.8h0M767.5,636.5h0M769.8,687.4h0M769.8,683.2h0M769.8,678.9h0M769.8,674.7h0M769.8,670.4h0M769.8,666.2h0M769.8,662.0h0M769.8,657.7h0M769.8,653.5h0M769.8,649.2h0M769.8,645.0h0M769.8,640.8h0M769.8,636.5h0M772.1,687.4h0M772.1,683.2h0M772.1,678.9h0M772.1,674.7h0M772.1,670.4h0M772.1,666.2h0M772.1,662.0h0M772.1,657.7h0M772.1,653.5h0M772.1,649.2h0M772.1,645.0h0M772.1,640.8h0M772.1,636.5h0M772.1,632.3h0M774.4,687.4h0M774.4,683.2h0M774.4,678.9h0M774.4,674.7h0M774.4,670.4h0M774.4,666.2h0M774.4,662.0h0M774.4,657.7h0M774.4,653.5h0M774.4,649.2h0M774.4,645.0h0M774.4,640.8h0M774.4,636.5h0M774.4,632.3h0M774.4,628.0h0M774.4,623.8h0M776.7,687.4h0M776.7,683.2h0M776.7,678.9h0M776.7,674.7h0M776.7,670.4h0M776.7,666.2h0M776.7,662.0h0M776.7,657.7h0M776.7,653.5h0M776.7,649.2h0M776.7,645.0h0M776.7,640.8h0M776.7,636.5h0M776.7,632.3h0M776.7,628.0h0M776.7,623.8h0M779.0,687.4h0M779.0,683.2h0M779.0,678.9h0M779.0,674.7h0M779.0,670.4h0M779.0,666.2h0M779.0,662.0h0M779.0,657.7h0M779.0,653.5h0M779.0,649.2h0M779.0,645.0h0M779.0,640.8h0M779.0,636.5h0M779.0,632.3h0M779.0,628.0h0M781.3,687.4h0M781.3,683.2h0M781.3,678.9h0M781.3,674.7h0M781.3,670.4h0M781.3,666.2h0M781.3,662.0h0M783.6,687.4h0M783.6,683.2h0M783.6,678.9h0M783.6,674.7h0M783.6,670.4h0M783.6,666.2h0M783.6,662.0h0M783.6,657.7h0M783.6,653.5h0M783.6,649.2h0M783.6,645.0h0M783.6,640.8h0M783.6,636.5h0M783.6,632.3h0M785.9,687.4h0M785.9,683.2h0M785.9,678.9h0M785.9,674.7h0M785.9,670.4h0M785.9,666.2h0M785.9,662.0h0M785.9,657.7h0M785.9,653.5h0M785.9,649.2h0M785.9,645.0h0M785.9,640.8h0M788.2,687.4h0M788.2,683.2h0M788.2,678.9h0M788.2,674.7h0M788.2,670.4h0M788.2,666.2h0M788.2,662.0h0M788.2,657.7h0M788.2,653.5h0M788.2,649.2h0M788.2,645.0h0M788.2,640.8h0M790.5,687.4h0M790.5,683.2h0M790.5,678.9h0M790.5,674.7h0M790.5,670.4h0M790.5,666.2h0M790.5,662.0h0M790.5,657.7h0M790.5,653.5h0M790.5,649.2h0M790.5,645.0h0M792.8,687.4h0M792.8,683.2h0M792.8,678.9h0M792.8,674.7h0M792.8,670.4h0M792.8,666.2h0M792.8,662.0h0M792.8,657.7h0M792.8,653.5h0M795.1,687.4h0M795.1,683.2h0M795.1,678.9h0M795.1,674.7h0M795.1,670.4h0M795.1,666.2h0M795.1,662.0h0M795.1,657.7h0M795.1,653.5h0M795.1,649.2h0M795.1,645.0h0M797.4,687.4h0M797.4,683.2h0M797.4,678.9h0M797.4,674.7h0M797.4,670.4h0M797.4,666.2h0M797.4,662.0h0M797.4,657.7h0M797.4,653.5h0M797.4,649.2h0M797.4,645.0h0M797.4,640.8h0M797.4,636.5h0M799.7,687.4h0M799.7,683.2h0M799.7,678.9h0M799.7,674.7h0M799.7,670.4h0M799.7,666.2h0M799.7,662.0h0M799.7,657.7h0M802.0,687.4h0M802.0,683.2h0M802.0,678.9h0M802.0,674.7h0M802.0,670.4h0M802.0,666.2h0M802.0,662.0h0M804.3,687.4h0M804.3,683.2h0M804.3,678.9h0M804.3,674.7h0M804.3,670.4h0M804.3,666.2h0M804.3,662.0h0M804.3,657.7h0M804.3,653.5h0M804.3,649.2h0M804.3,645.0h0M806.6,687.4h0M806.6,683.2h0M806.6,678.9h0M806.6,674.7h0M806.6,670.4h0M806.6,666.2h0M806.6,662.0h0M806.6,657.7h0M806.6,653.5h0M806.6,649.2h0M806.6,645.0h0M806.6,640.8h0M806.6,636.5h0M806.6,632.3h0M808.9,687.4h0M808.9,683.2h0M808.9,678.9h0M808.9,674.7h0M808.9,670.4h0M808.9,666.2h0M808.9,662.0h0M808.9,657.7h0M808.9,653.5h0M808.9,649.2h0M808.9,645.0h0M808.9,640.8h0M811.2,687.4h0M811.2,683.2h0M811.2,678.9h0M811.2,674.7h0M811.2,670.4h0M811.2,666.2h0M811.2,662.0h0M811.2,657.7h0M811.2,653.5h0M811.2,649.2h0M813.5,687.4h0M813.5,683.2h0M813.5,678.9h0M813.5,674.7h0M813.5,670.4h0M813.5,666.2h0M813.5,662.0h0M813.5,657.7h0M813.5,653.5h0M813.5,649.2h0M813.5,645.0h0M813.5,640.8h0M813.5,636.5h0M813.5,632.3h0M815.8,687.4h0M815.8,683.2h0M815.8,678.9h0M815.8,674.7h0M815.8,670.4h0M815.8,666.2h0M815.8,662.0h0M815.8,657.7h0M818.1,687.4h0M818.1,683.2h0M818.1,678.9h0M818.1,674.7h0M818.1,670.4h0M818.1,666.2h0M818.1,662.0h0M818.1,657.7h0M818.1,653.5h0M820.4,687.4h0M820.4,683.2h0M820.4,678.9h0M820.4,674.7h0M820.4,670.4h0M820.4,666.2h0M820.4,662.0h0M820.4,657.7h0M820.4,653.5h0M820.4,649.2h0M820.4,645.0h0M820.4,640.8h0M820.4,636.5h0M820.4,632.3h0M820.4,628.0h0M822.7,687.4h0M822.7,683.2h0M822.7,678.9h0M822.7,674.7h0M822.7,670.4h0M822.7,666.2h0M822.7,662.0h0M822.7,657.7h0M822.7,653.5h0M822.7,649.2h0M822.7,645.0h0M822.7,640.8h0M822.7,636.5h0M825.0,687.4h0M825.0,683.2h0M825.0,678.9h0M825.0,674.7h0M825.0,670.4h0M825.0,666.2h0M825.0,662.0h0M825.0,657.7h0M825.0,653.5h0M825.0,649.2h0M825.0,645.0h0M825.0,640.8h0M825.0,636.5h0M825.0,632.3h0M827.3,687.4h0M827.3,683.2h0M827.3,678.9h0M827.3,674.7h0M827.3,670.4h0M827.3,666.2h0M827.3,662.0h0M827.3,657.7h0M827.3,653.5h0M827.3,649.2h0M827.3,645.0h0M827.3,640.8h0M829.6,687.4h0M829.6,683.2h0M829.6,678.9h0M829.6,674.7h0M829.6,670.4h0M829.6,666.2h0M829.6,662.0h0M829.6,657.7h0M829.6,653.5h0M829.6,649.2h0M829.6,645.0h0M829.6,640.8h0M829.6,636.5h0M829.6,632.3h0M831.9,687.4h0M831.9,683.2h0M831.9,678.9h0M831.9,674.7h0M831.9,670.4h0M831.9,666.2h0M831.9,662.0h0M831.9,657.7h0M831.9,653.5h0M831.9,649.2h0M831.9,645.0h0M831.9,640.8h0M831.9,636.5h0M831.9,632.3h0M834.2,687.4h0M834.2,683.2h0M834.2,678.9h0M834.2,674.7h0M834.2,670.4h0M834.2,666.2h0M834.2,662.0h0M834.2,657.7h0M834.2,653.5h0M834.2,649.2h0M834.2,645.0h0M834.2,640.8h0M834.2,636.5h0M834.2,632.3h0M834.2,628.0h0M836.5,687.4h0M836.5,683.2h0M836.5,678.9h0M836.5,674.7h0M836.5,670.4h0M836.5,666.2h0M836.5,662.0h0M836.5,657.7h0M836.5,653.5h0M836.5,649.2h0M836.5,645.0h0M836.5,640.8h0M836.5,636.5h0M836.5,632.3h0M838.8,687.4h0M838.8,683.2h0M838.8,678.9h0M838.8,674.7h0M838.8,670.4h0M838.8,666.2h0M838.8,662.0h0M838.8,657.7h0M838.8,653.5h0M838.8,649.2h0M838.8,645.0h0M838.8,640.8h0M838.8,636.5h0M838.8,632.3h0M838.8,628.0h0M838.8,623.8h0M838.8,619.6h0M841.1,687.4h0M841.1,683.2h0M841.1,678.9h0M841.1,674.7h0M841.1,670.4h0M841.1,666.2h0M841.1,662.0h0M841.1,657.7h0M841.1,653.5h0M841.1,649.2h0M841.1,645.0h0M841.1,640.8h0M841.1,636.5h0M841.1,632.3h0M841.1,628.0h0M841.1,623.8h0M841.1,619.6h0M843.4,687.4h0M843.4,683.2h0M843.4,678.9h0M843.4,674.7h0M843.4,670.4h0M843.4,666.2h0M843.4,662.0h0M843.4,657.7h0M843.4,653.5h0M843.4,649.2h0M843.4,645.0h0M843.4,640.8h0M843.4,636.5h0M843.4,632.3h0M845.7,687.4h0M845.7,683.2h0M845.7,678.9h0M845.7,674.7h0M845.7,670.4h0M845.7,666.2h0M845.7,662.0h0M845.7,657.7h0M845.7,653.5h0M845.7,649.2h0M845.7,645.0h0M845.7,640.8h0M845.7,636.5h0M845.7,632.3h0M848.0,687.4h0M848.0,683.2h0M848.0,678.9h0M848.0,674.7h0M848.0,670.4h0M848.0,666.2h0M848.0,662.0h0M848.0,657.7h0M848.0,653.5h0M848.0,649.2h0M848.0,645.0h0M848.0,640.8h0M848.0,636.5h0M848.0,632.3h0M850.3,687.4h0M850.3,683.2h0M850.3,678.9h0M850.3,674.7h0M850.3,670.4h0M850.3,666.2h0M850.3,662.0h0M850.3,657.7h0M850.3,653.5h0M850.3,649.2h0M850.3,645.0h0M850.3,640.8h0M852.6,687.4h0M852.6,683.2h0M852.6,678.9h0M852.6,674.7h0M852.6,670.4h0M852.6,666.2h0M852.6,662.0h0M852.6,657.7h0M852.6,653.5h0M852.6,649.2h0M852.6,645.0h0M852.6,640.8h0M852.6,636.5h0M854.9,687.4h0M854.9,683.2h0M854.9,678.9h0M854.9,674.7h0M854.9,670.4h0M854.9,666.2h0M854.9,662.0h0M854.9,657.7h0M854.9,653.5h0M854.9,649.2h0M854.9,645.0h0M854.9,640.8h0M854.9,636.5h0M854.9,632.3h0M857.2,687.4h0M857.2,683.2h0M857.2,678.9h0M857.2,674.7h0M857.2,670.4h0M857.2,666.2h0M857.2,662.0h0M857.2,657.7h0M859.5,687.4h0M859.5,683.2h0M859.5,678.9h0M859.5,674.7h0M859.5,670.4h0M859.5,666.2h0M859.5,662.0h0M859.5,657.7h0M859.5,653.5h0M859.5,649.2h0M859.5,645.0h0M859.5,640.8h0M859.5,636.5h0M861.8,687.4h0M861.8,683.2h0M861.8,678.9h0M861.8,674.7h0M861.8,670.4h0M861.8,666.2h0M861.8,662.0h0M861.8,657.7h0M861.8,653.5h0M861.8,649.2h0M861.8,645.0h0M861.8,640.8h0M861.8,636.5h0M861.8,632.3h0M861.8,628.0h0M864.1,687.4h0M864.1,683.2h0M864.1,678.9h0M864.1,674.7h0M864.1,670.4h0M864.1,666.2h0M864.1,662.0h0M864.1,657.7h0M864.1,653.5h0M864.1,649.2h0M864.1,645.0h0M864.1,640.8h0M864.1,636.5h0M866.4,687.4h0M866.4,683.2h0M866.4,678.9h0M866.4,674.7h0M866.4,670.4h0M866.4,666.2h0M866.4,662.0h0M866.4,657.7h0M866.4,653.5h0M866.4,649.2h0M866.4,645.0h0M866.4,640.8h0M866.4,636.5h0M866.4,632.3h0M868.7,687.4h0M868.7,683.2h0M868.7,678.9h0M868.7,674.7h0M868.7,670.4h0M868.7,666.2h0M868.7,662.0h0M868.7,657.7h0M868.7,653.5h0M868.7,649.2h0M868.7,645.0h0M868.7,640.8h0M871.0,687.4h0M871.0,683.2h0M871.0,678.9h0M871.0,674.7h0M871.0,670.4h0M871.0,666.2h0M871.0,662.0h0M871.0,657.7h0M871.0,653.5h0M871.0,649.2h0M871.0,645.0h0M871.0,640.8h0M871.0,636.5h0M871.0,632.3h0M871.0,628.0h0M873.3,687.4h0M873.3,683.2h0M873.3,678.9h0M873.3,674.7h0M873.3,670.4h0M873.3,666.2h0M873.3,662.0h0M873.3,657.7h0M873.3,653.5h0M873.3,649.2h0M873.3,645.0h0M875.6,687.4h0M875.6,683.2h0M875.6,678.9h0M875.6,674.7h0M875.6,670.4h0M875.6,666.2h0M875.6,662.0h0M875.6,657.7h0M875.6,653.5h0M875.6,649.2h0M875.6,645.0h0M875.6,640.8h0M875.6,636.5h0M875.6,632.3h0M877.9,687.4h0M877.9,683.2h0M877.9,678.9h0M877.9,674.7h0M877.9,670.4h0M877.9,666.2h0M877.9,662.0h0M877.9,657.7h0M877.9,653.5h0M877.9,649.2h0M880.2,687.4h0M880.2,683.2h0M880.2,678.9h0M880.2,674.7h0M880.2,670.4h0M880.2,666.2h0M880.2,662.0h0M880.2,657.7h0M882.5,687.4h0M882.5,683.2h0M882.5,678.9h0M882.5,674.7h0M882.5,670.4h0M882.5,666.2h0M882.5,662.0h0M882.5,657.7h0M884.8,687.4h0M884.8,683.2h0M884.8,678.9h0M884.8,674.7h0M884.8,670.4h0M884.8,666.2h0M884.8,662.0h0M884.8,657.7h0M884.8,653.5h0M887.1,687.4h0M887.1,683.2h0M887.1,678.9h0M887.1,674.7h0M887.1,670.4h0M887.1,666.2h0M887.1,662.0h0M887.1,657.7h0M887.1,653.5h0M887.1,649.2h0M887.1,645.0h0M887.1,640.8h0M887.1,636.5h0M889.4,687.4h0M889.4,683.2h0M889.4,678.9h0M889.4,674.7h0M889.4,670.4h0M889.4,666.2h0M889.4,662.0h0M889.4,657.7h0M889.4,653.5h0M889.4,649.2h0M889.4,645.0h0M889.4,640.8h0M891.7,687.4h0M891.7,683.2h0M891.7,678.9h0M891.7,674.7h0M891.7,670.4h0M891.7,666.2h0M891.7,662.0h0M891.7,657.7h0M891.7,653.5h0M894.0,687.4h0M894.0,683.2h0M894.0,678.9h0M894.0,674.7h0M894.0,670.4h0M894.0,666.2h0M894.0,662.0h0M894.0,657.7h0M896.3,687.4h0M896.3,683.2h0M896.3,678.9h0M896.3,674.7h0M896.3,670.4h0M896.3,666.2h0M898.6,687.4h0M898.6,683.2h0M898.6,678.9h0M898.6,674.7h0M900.9,687.4h0M900.9,683.2h0M900.9,678.9h0M903.2,687.4h0M903.2,683.2h0M903.2,678.9h0M903.2,674.7h0M903.2,670.4h0M903.2,666.2h0M905.5,687.4h0M905.5,683.2h0M905.5,678.9h0M905.5,674.7h0M905.5,670.4h0M907.8,687.4h0M907.8,683.2h0M907.8,678.9h0M907.8,674.7h0M910.1,687.4h0M910.1,683.2h0M910.1,678.9h0M910.1,674.7h0M910.1,670.4h0M912.4,687.4h0M912.4,683.2h0M912.4,678.9h0M912.4,674.7h0M912.4,670.4h0M912.4,666.2h0M914.7,687.4h0M914.7,683.2h0M914.7,678.9h0M914.7,674.7h0M914.7,670.4h0M917.0,687.4h0M917.0,683.2h0M917.0,678.9h0M917.0,674.7h0M917.0,670.4h0M919.3,687.4h0M919.3,683.2h0M919.3,678.9h0M919.3,674.7h0M921.6,687.4h0M921.6,683.2h0M923.9,687.4h0M926.2,687.4h0M926.2,683.2h0M926.2,678.9h0M926.2,674.7h0M928.5,687.4h0M928.5,683.2h0M928.5,678.9h0M930.8,687.4h0M930.8,683.2h0M930.8,678.9h0M930.8,674.7h0M933.1,687.4h0M933.1,683.2h0M933.1,678.9h0M935.4,687.4h0M935.4,683.2h0M935.4,678.9h0M935.4,674.7h0M937.7,687.4h0M937.7,683.2h0M937.7,678.9h0M940.0,687.4h0M940.0,683.2h0M940.0,678.9h0M942.3,687.4h0M942.3,683.2h0M942.3,678.9h0M942.3,674.7h0M944.6,687.4h0M944.6,683.2h0M944.6,678.9h0M944.6,674.7h0M946.9,687.4h0M946.9,683.2h0M946.9,678.9h0M946.9,674.7h0M949.2,687.4h0M953.8,687.4h0M953.8,683.2h0M956.1,687.4h0M956.1,683.2h0M958.4,687.4h0M960.7,687.4h0M960.7,683.2h0M963.0,687.4h0M963.0,683.2h0M965.3,687.4h0M965.3,683.2h0M967.6,687.4h0M969.9,687.4h0M969.9,683.2h0M972.2,687.4h0M972.2,683.2h0M974.5,687.4h0M983.7,687.4h0M992.9,687.4h0" stroke="url(#dg)" stroke-width="0.9" stroke-linecap="round" fill="none"/>
<path d="M572.7,688.9C577.2,688.9 591.0,688.8 600,688.6C609.0,688.5 618.5,688.4 626.8,688C635.1,687.6 643.0,687.2 650,686.2C657.0,685.2 663.0,684.3 669,682.2C675.0,680.1 679.9,677.7 686,673.7C692.1,669.8 699.1,663.8 705.4,658.5C711.7,653.2 719.4,645.6 724,642C728.6,638.4 730.2,637.9 733,636.6C735.8,635.3 738.5,634.7 741,634.4C743.5,634.1 745.9,634.6 748,635C750.1,635.4 751.3,635.2 753.6,636.5C755.9,637.8 759.2,640.4 762,642.5C764.8,644.6 767.7,647.1 770.5,649.2C773.3,651.3 776.2,653.4 779,655C781.8,656.6 784.9,658.0 787.4,658.9C789.9,659.8 791.9,660.1 794,660.5C796.1,660.9 797.3,661.0 800,661C802.7,661.0 806.5,660.6 810,660.2C813.5,659.9 817.2,659.3 821.2,658.9C825.2,658.5 829.8,658.1 834,657.8C838.2,657.5 842.8,657.2 846.6,657.2C850.4,657.2 853.5,657.6 857,658C860.5,658.4 864.2,659.0 867.7,659.8C871.2,660.6 874.5,661.5 878,662.6C881.5,663.7 884.6,664.7 888.8,666.1C893.0,667.5 898.1,669.4 903,671C907.9,672.6 913.4,674.4 918.4,675.8C923.4,677.2 928.1,678.5 933,679.6C937.9,680.7 943.5,681.8 948,682.6C952.5,683.4 955.8,683.8 960,684.4C964.2,685.0 969.4,685.6 973.4,686C977.4,686.4 980.5,686.7 984,687C987.5,687.3 992.8,687.7 994.5,687.8" stroke="#8c2232" stroke-width="0.9" fill="none"/>
<line x1="705.4" x2="705.4" y1="517.3" y2="688.9" stroke="#000" stroke-width="0.9" stroke-dasharray="3 1.2 0.8 1.2"/>
<path d="M705.4,685.6 L709,689.3 L705.4,693 L701.8,689.3 Z" fill="#17868c" stroke="#0c2f33" stroke-width="0.6"/>
<text x="705.4" y="706.8" font-size="3.3" text-anchor="middle" fill="#17868c">trị điểm phân nhóm tối ưu: điểm cắt</text>
<text x="603.1" y="552.8" font-size="5.6" text-anchor="middle" fill="#c05a9a">Không nghiêm trọng</text>
<text x="948.9" y="552.8" font-size="5.6" text-anchor="middle" fill="#e8601c">Nghiêm trọng</text>
<text x="547.5" y="518.5" font-size="4" text-anchor="end" fill="#555">1.00</text>
<text x="547.5" y="561.4" font-size="4" text-anchor="end" fill="#555">0.75</text>
<text x="547.5" y="604.3" font-size="4" text-anchor="end" fill="#555">0.50</text>
<text x="547.5" y="647.2" font-size="4" text-anchor="end" fill="#555">0.25</text>
<text x="547.5" y="690.1" font-size="4" text-anchor="end" fill="#555">0.00</text>
<text x="627.6" y="721.3" font-size="4" text-anchor="middle" fill="#555">-2</text>
<text x="724.9" y="721.3" font-size="4" text-anchor="middle" fill="#555">0</text>
<text x="822" y="721.3" font-size="4" text-anchor="middle" fill="#555">2</text>
<text x="919.3" y="721.3" font-size="4" text-anchor="middle" fill="#555">4</text>
<text x="1016.5" y="721.3" font-size="4" text-anchor="middle" fill="#555">6</text>
<text x="784" y="728.4" font-size="5" text-anchor="middle" fill="#222">ĐIỂM COMER</text>
<text transform="translate(538.6,613.3) rotate(-90)" font-size="4.8" text-anchor="middle" fill="#222">Mật độ</text>
</g>
<g id="roc">
<line x1="1144.0" x2="1144.0" y1="510.6" y2="693.6" stroke="#f0f0f0" stroke-width="0.5"/>
<line x1="1136.4" x2="1321" y1="685.9" y2="685.9" stroke="#f0f0f0" stroke-width="0.5"/>
<line x1="1186.1" x2="1186.1" y1="510.6" y2="693.6" stroke="#f0f0f0" stroke-width="0.5"/>
<line x1="1136.4" x2="1321" y1="643.9" y2="643.9" stroke="#f0f0f0" stroke-width="0.5"/>
<line x1="1228.2" x2="1228.2" y1="510.6" y2="693.6" stroke="#f0f0f0" stroke-width="0.5"/>
<line x1="1136.4" x2="1321" y1="601.9" y2="601.9" stroke="#f0f0f0" stroke-width="0.5"/>
<line x1="1270.3" x2="1270.3" y1="510.6" y2="693.6" stroke="#f0f0f0" stroke-width="0.5"/>
<line x1="1136.4" x2="1321" y1="559.9" y2="559.9" stroke="#f0f0f0" stroke-width="0.5"/>
<line x1="1312.4" x2="1312.4" y1="510.6" y2="693.6" stroke="#f0f0f0" stroke-width="0.5"/>
<line x1="1136.4" x2="1321" y1="517.9" y2="517.9" stroke="#f0f0f0" stroke-width="0.5"/>
<line x1="1165.0" x2="1165.0" y1="510.6" y2="693.6" stroke="#f6f6f6" stroke-width="0.4"/>
<line x1="1136.4" x2="1321" y1="664.9" y2="664.9" stroke="#f6f6f6" stroke-width="0.4"/>
<line x1="1207.2" x2="1207.2" y1="510.6" y2="693.6" stroke="#f6f6f6" stroke-width="0.4"/>
<line x1="1136.4" x2="1321" y1="622.9" y2="622.9" stroke="#f6f6f6" stroke-width="0.4"/>
<line x1="1249.2" x2="1249.2" y1="510.6" y2="693.6" stroke="#f6f6f6" stroke-width="0.4"/>
<line x1="1136.4" x2="1321" y1="580.9" y2="580.9" stroke="#f6f6f6" stroke-width="0.4"/>
<line x1="1291.4" x2="1291.4" y1="510.6" y2="693.6" stroke="#f6f6f6" stroke-width="0.4"/>
<line x1="1136.4" x2="1321" y1="538.9" y2="538.9" stroke="#f6f6f6" stroke-width="0.4"/>
<path d="M1144.0,684.2 L1151.2,658.5 L1161.3,633.0 L1176.8,607.4 L1192.2,581.7 L1207.5,563.9 L1228.2,546.0 L1253.5,530.7 L1284.3,521.8 L1312.4,517.9 L1312.4,517.9 L1233.3,518.4 L1207.5,522.9 L1184.4,530.7 L1171.6,543.4 L1161.3,563.9 L1151.2,589.5 L1144.0,618.7Z" fill="#9a8fe0" fill-opacity="0.2"/>
<path d="M1144.0,685.9 L1151.2,681.5 L1164.2,659.0 L1176.8,627.9 L1186.9,615.3 L1207.5,601.1 L1222.8,585.1 L1243.4,565.3 L1263.6,546.0 L1284.3,530.7 L1312.4,517.9 L1312.4,517.9 L1278.7,519.2 L1253.5,522.9 L1233.3,530.7 L1212.5,548.6 L1192.2,563.9 L1176.8,576.7 L1164.2,591.8 L1151.2,625.4 L1144.0,659.0Z" fill="#f08a8a" fill-opacity="0.22"/>
<path d="M1144.0,685.9 L1151.2,665.7 L1161.3,635.5 L1176.8,613.7 L1192.2,590.1 L1207.5,568.3 L1228.2,549.8 L1253.5,533.0 L1284.3,522.9 L1312.4,517.9 L1312.4,517.9 L1233.3,519.6 L1207.5,526.3 L1184.4,539.7 L1171.6,554.9 L1161.3,573.3 L1151.2,601.9 L1144.0,635.5Z" fill="#f2d86a" fill-opacity="0.18"/>
<path d="M1144.0,685.9 L1151.2,672.5 L1161.3,643.9 L1176.8,615.3 L1192.2,588.5 L1207.5,570.0 L1228.2,549.8 L1253.5,533.0 L1284.3,522.9 L1312.4,517.9 L1312.4,517.9 L1233.3,519.6 L1207.5,528.0 L1184.4,541.4 L1171.6,558.2 L1161.3,581.7 L1151.2,610.3 L1144.0,643.9Z" fill="#e890d8" fill-opacity="0.13"/>
<line x1="1137.3" y1="692.6" x2="1320.8" y2="509.5" stroke="#c8c8c8" stroke-width="0.8" stroke-dasharray="3.2 3"/>
<path d="M1144.0,685.9 L1144.8,674.1 L1148.5,669.1 L1149.9,657.3 L1154.9,653.5 L1156.3,644.4 L1159.2,643.2 L1160.2,627.9 L1165.2,626.6 L1167.7,608.6 L1173.0,601.1 L1179.4,598.5 L1184.4,593.5 L1193.3,590.8 L1198.6,581.7 L1206.3,576.7 L1212.5,572.8 L1216.4,565.3 L1222.8,557.5 L1231.6,554.9 L1234.3,546.0 L1240.7,543.4 L1248.4,533.2 L1263.6,528.1 L1278.7,522.9 L1294.5,520.4 L1312.4,517.9" stroke="#e8202a" stroke-width="1.5" fill="none" stroke-linejoin="round"/>
<path d="M1144.0,685.9 L1144.8,664.1 L1146.0,648.3 L1151.2,635.5 L1154.9,630.5 L1157.5,612.5 L1159.2,603.6 L1166.6,595.9 L1176.8,586.9 L1184.4,574.2 L1192.2,561.6 L1196.2,552.3 L1202.4,547.3 L1212.5,539.7 L1222.8,534.7 L1233.3,529.7 L1243.4,526.8 L1263.6,524.3 L1284.3,521.3 L1312.4,517.9" stroke="#f5d020" stroke-width="1.5" fill="none" stroke-linejoin="round"/>
<path d="M1144.0,654.7 L1144.8,652.3 L1147.4,638.0 L1154.9,633.0 L1155.8,616.3 L1161.3,615.3 L1161.7,603.6 L1165.9,601.1 L1167.1,586.9 L1174.3,585.1 L1175.0,581.7 L1175.5,567.8 L1179.4,567.5 L1179.7,563.3 L1186.9,562.6 L1187.4,547.3 L1192.2,543.4 L1207.5,540.9 L1214.7,533.2 L1222.8,532.0 L1224.2,527.6 L1230.6,526.8 L1235.6,525.1 L1268.6,521.8 L1278.7,519.6 L1312.4,517.9" stroke="#2a1f9c" stroke-width="1.5" fill="none" stroke-linejoin="round"/>
<path d="M1144.0,685.9 L1144.8,676.5 L1148.5,653.5 L1152.4,644.4 L1157.5,638.0 L1164.2,636.8 L1165.9,607.4 L1169.3,594.7 L1176.8,590.8 L1180.5,571.7 L1188.3,560.1 L1193.3,551.2 L1202.4,549.8 L1212.9,548.6 L1217.8,541.3 L1224.2,532.5 L1235.6,527.6 L1263.6,525.1 L1268.6,520.4 L1294.5,519.2 L1312.4,517.9" stroke="#e878d8" stroke-width="1.5" fill="none" stroke-linejoin="round"/>
<text x="1133.8" y="688.8" font-size="8.4" text-anchor="end" fill="#4d4d4d">0.00</text>
<text x="1144.0" y="702.4" font-size="8.4" text-anchor="middle" fill="#4d4d4d">0.00</text>
<text x="1133.8" y="646.8" font-size="8.4" text-anchor="end" fill="#4d4d4d">0.25</text>
<text x="1186.1" y="702.4" font-size="8.4" text-anchor="middle" fill="#4d4d4d">0.25</text>
<text x="1133.8" y="604.8" font-size="8.4" text-anchor="end" fill="#4d4d4d">0.50</text>
<text x="1228.2" y="702.4" font-size="8.4" text-anchor="middle" fill="#4d4d4d">0.50</text>
<text x="1133.8" y="562.8" font-size="8.4" text-anchor="end" fill="#4d4d4d">0.75</text>
<text x="1270.3" y="702.4" font-size="8.4" text-anchor="middle" fill="#4d4d4d">0.75</text>
<text x="1133.8" y="520.8" font-size="8.4" text-anchor="end" fill="#4d4d4d">1.00</text>
<text x="1312.4" y="702.4" font-size="8.4" text-anchor="middle" fill="#4d4d4d">1.00</text>
<text x="1231" y="712.8" font-size="10.6" text-anchor="middle" fill="#000">1 - Độ đặc hiệu</text>
<text transform="translate(1116,602.7) rotate(-90)" font-size="10.6" text-anchor="middle" fill="#000">Độ nhạy</text>
<line x1="1176" x2="1181.5" y1="659.4" y2="659.4" stroke="#2a1f9c" stroke-width="1.4"/>
<text x="1187.5" y="662.2" font-size="8.28" fill="#111">Điểm COMER (AUC = 0.83)</text>
<line x1="1176" x2="1181.5" y1="667.6" y2="667.6" stroke="#e8202a" stroke-width="1.4"/>
<text x="1187.5" y="670.4" font-size="8.28" fill="#111">Gải thuật Random Forest (AUC = 0.72)</text>
<line x1="1176" x2="1181.5" y1="675.5" y2="675.5" stroke="#f5d020" stroke-width="1.4"/>
<text x="1187.5" y="678.3" font-size="8.28" fill="#111">Giải thuật XGBoosting (AUC = 0.81)</text>
<line x1="1176" x2="1181.5" y1="683.4" y2="683.4" stroke="#e878d8" stroke-width="1.4"/>
<text x="1187.5" y="686.2" font-size="8.28" fill="#111">Giải thuật SVM (AUC = 0.80)</text>
</g>
<g id="arrows">
<polyline points="216.6,190.5 216.6,220" fill="none" stroke="#000" stroke-width="5.8" stroke-linejoin="miter"/>
<path d="M205.6,218.5 L227.6,218.5 L216.6,240 Z" fill="#000"/>
<polyline points="216.6,436 216.6,474" fill="none" stroke="#000" stroke-width="5.8" stroke-linejoin="miter"/>
<path d="M205.6,472.5 L227.6,472.5 L216.6,494 Z" fill="#000"/>
<text x="287.5" y="460" class="h" >Hồi quy tuyến tính</text>
<polyline points="411.8,535 454.6,535 454.6,101 514,101" fill="none" stroke="#000" stroke-width="5.8" stroke-linejoin="miter"/>
<path d="M512.8,89.6 L512.8,111.6 L534.3,100.6 Z" fill="#000"/>
<polyline points="399.2,565.3 464.3,565.3 464.3,280 500,280" fill="none" stroke="#000" stroke-width="5.8" stroke-linejoin="miter"/>
<path d="M499.8,269.2 L499.8,291.2 L521.3,280.2 Z" fill="#000"/>
<text class="h" style="text-anchor:start" transform="translate(437.2,112.3) rotate(90)">Chú giải chức năng theo <tspan font-style="italic">Gene Ontology</tspan> (GO)</text>
<text class="h" style="text-anchor:start" transform="translate(472.7,301.8) rotate(90)">Lựa chọn các chỉ thị tiềm năng</text>
<polyline points="704.8,340 704.8,380" fill="none" stroke="#000" stroke-width="5.8" stroke-linejoin="miter"/>
<path d="M693.8,379.5 L715.8,379.5 L704.8,401 Z" fill="#000"/>
<text x="635" y="362" class="h" >Hồi quy tuyến tính</text>
<text x="635" y="376.6" class="h" >đa biến</text>
<polyline points="704.8,431.5 704.8,459" fill="none" stroke="#000" stroke-width="5.8" stroke-linejoin="miter"/>
<path d="M693.8,458 L715.8,458 L704.8,479.5 Z" fill="#000"/>
<polyline points="1004.5,340.7 1004.5,360.2 1236.8,360.2 1236.8,462" fill="none" stroke="#000" stroke-width="5.8" stroke-linejoin="miter"/>
<path d="M1225.4,460.2 L1247.4,460.2 L1236.4,481.7 Z" fill="#000"/>
<polyline points="856.8,425.5 856.8,450.4 1215.2,450.4 1215.2,462" fill="none" stroke="#000" stroke-width="5.8" stroke-linejoin="miter"/>
<path d="M1203.6,460.2 L1225.6,460.2 L1214.6,481.7 Z" fill="#000"/>
<text x="1117" y="381" class="h" >Các giải thuật máy học khác</text>
</g>
</svg>
</body></html>
